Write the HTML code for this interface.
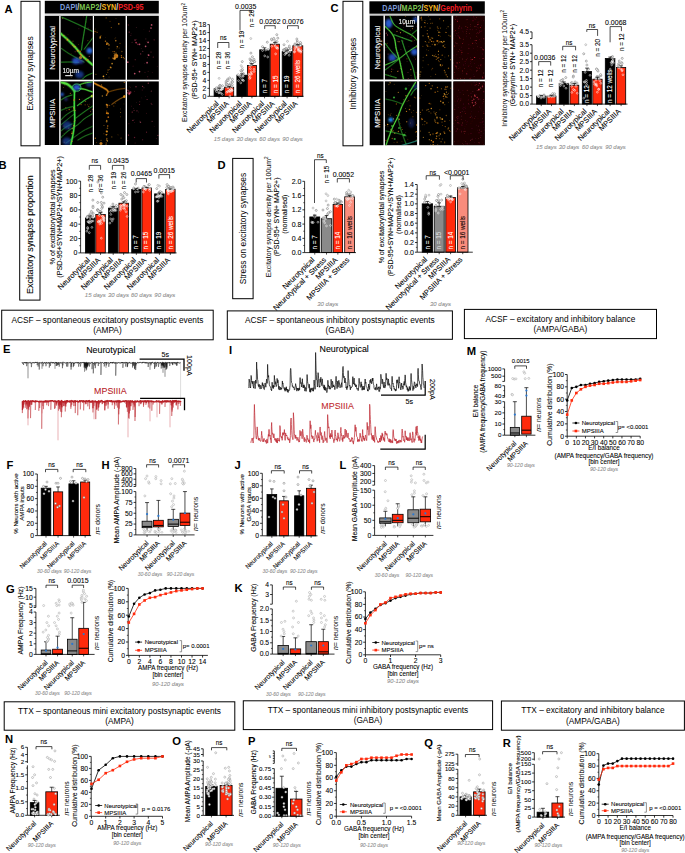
<!DOCTYPE html>
<html><head><meta charset="utf-8"><style>
html,body{margin:0;padding:0;background:#fff;}
svg{display:block;}
text{font-family:"Liberation Sans",sans-serif;}
</style></head><body>
<svg width="685" height="853" viewBox="0 0 685 853">
<defs>
<filter id="soft" x="-5%" y="-5%" width="110%" height="110%"><feGaussianBlur stdDeviation="0.45"/></filter>
<filter id="glow" x="-20%" y="-20%" width="140%" height="140%"><feGaussianBlur stdDeviation="0.6"/></filter>
<filter id="blur2" x="-50%" y="-50%" width="200%" height="200%"><feGaussianBlur stdDeviation="1.2"/></filter>
<clipPath id="clipAll"><rect x="0" y="0" width="685" height="853"/></clipPath>
</defs>
<rect width="685" height="853" fill="#fff"/>
<text x="4.5" y="9" dy="0.35em" font-size="11.2" font-weight="bold">A</text>
<rect x="21" y="1.3" width="19" height="144.5" fill="#fff" stroke="#000" stroke-width="1" />
<text transform="translate(30.5,73.55) rotate(-90)" dy="0.35em" font-size="8.4" text-anchor="middle">Excitatory synapses</text>
<rect x="44.8" y="0.8" width="114" height="12.7" fill="#000" />
<g transform="translate(101.8,7.25) scale(0.87,1)"><text x="0" y="0" dy="0.36em" font-size="8.3" font-weight="bold" text-anchor="middle"><tspan fill="#7d9bd8">DAPI</tspan><tspan fill="#ddd">/</tspan><tspan fill="#7cc450">MAP2</tspan><tspan fill="#ddd">/</tspan><tspan fill="#f5b41e">SYN</tspan><tspan fill="#ddd">/</tspan><tspan fill="#f01c22">PSD-95</tspan></text></g>
<rect x="44.8" y="14.4" width="114" height="1.6" fill="#c8c8c8" />
<rect x="44.8" y="16" width="14.4" height="63.7" fill="#000" />
<text transform="translate(52.3,47.85) rotate(-90)" dy="0.35em" font-size="7.9" fill="#fff" stroke="#fff" stroke-width="0.08" text-anchor="middle">Neurotypical</text>
<rect x="60.6" y="16" width="32.2" height="63.7" fill="#000" />
<rect x="94" y="16" width="31.6" height="63.7" fill="#000" />
<rect x="127" y="16" width="31.8" height="63.7" fill="#000" />
<rect x="44.8" y="81.4" width="14.4" height="63.6" fill="#000" />
<text transform="translate(52.3,113.2) rotate(-90)" dy="0.35em" font-size="7.9" fill="#fff" stroke="#fff" stroke-width="0.08" text-anchor="middle">MPSIIIA</text>
<rect x="60.6" y="81.4" width="32.2" height="63.6" fill="#000" />
<rect x="94" y="81.4" width="31.6" height="63.6" fill="#000" />
<rect x="127" y="81.4" width="31.8" height="63.6" fill="#000" />
<clipPath id="cp1"><rect x="60.6" y="16" width="32.2" height="63.7"/></clipPath>
<g clip-path="url(#cp1)"><g filter="url(#soft)">
<circle cx="75.17" cy="51.66" r="0.72" fill="#b03050" opacity="0.38"/>
<circle cx="88.13" cy="28.1" r="0.67" fill="#b03050" opacity="0.45"/>
<circle cx="86.13" cy="22" r="0.47" fill="#d88418" opacity="0.42"/>
<circle cx="89.27" cy="56.41" r="0.59" fill="#e0607a" opacity="0.59"/>
<circle cx="81.66" cy="55.21" r="0.41" fill="#e89a28" opacity="0.53"/>
<circle cx="62.63" cy="18.27" r="0.7" fill="#e89a28" opacity="0.51"/>
<circle cx="71.11" cy="53.64" r="0.43" fill="#c87010" opacity="0.46"/>
<circle cx="76.69" cy="58.2" r="0.53" fill="#d84a6a" opacity="0.36"/>
<circle cx="78.35" cy="75.35" r="0.38" fill="#d84a6a" opacity="0.33"/>
<circle cx="68" cy="34.41" r="0.38" fill="#d88418" opacity="0.36"/>
<circle cx="87.86" cy="40.62" r="0.73" fill="#e89a28" opacity="0.29"/>
<circle cx="90.45" cy="19.33" r="0.5" fill="#e0607a" opacity="0.37"/>
<circle cx="78.83" cy="28.64" r="0.62" fill="#c83a58" opacity="0.23"/>
<circle cx="71.31" cy="77.41" r="0.65" fill="#d88418" opacity="0.25"/>
<circle cx="83.37" cy="16.7" r="0.54" fill="#b03050" opacity="0.27"/>
<circle cx="78.61" cy="44.5" r="0.43" fill="#f0a830" opacity="0.37"/>
<circle cx="72.96" cy="41.15" r="0.75" fill="#e89a28" opacity="0.31"/>
<circle cx="91.86" cy="67.18" r="0.47" fill="#e89a28" opacity="0.28"/>
<path d="M62 17.2C64.17 18.17 69.87 20.62 75 23C80.13 25.38 89.83 30.08 92.8 31.5" stroke="#30b030" stroke-width="1.61" fill="none" stroke-linecap="round" opacity="0.24" filter="url(#glow)"/>
<path d="M62 17.2C64.17 18.17 69.87 20.62 75 23C80.13 25.38 89.83 30.08 92.8 31.5" stroke="#30b030" stroke-width="0.85" fill="none" stroke-linecap="round" opacity="0.68"/>
<path d="M86.7 16C86.33 18.33 85.2 25.67 84.5 30C83.8 34.33 83 38.67 82.5 42C82 45.33 81.67 48.67 81.5 50" stroke="#30b030" stroke-width="1.61" fill="none" stroke-linecap="round" opacity="0.27" filter="url(#glow)"/>
<path d="M86.7 16C86.33 18.33 85.2 25.67 84.5 30C83.8 34.33 83 38.67 82.5 42C82 45.33 81.67 48.67 81.5 50" stroke="#30b030" stroke-width="0.85" fill="none" stroke-linecap="round" opacity="0.77"/>
<path d="M92.8 37.9C92 38.92 89.42 42.13 88 44C86.58 45.87 84.92 48.25 84.3 49.1" stroke="#30b030" stroke-width="1.61" fill="none" stroke-linecap="round" opacity="0.24" filter="url(#glow)"/>
<path d="M92.8 37.9C92 38.92 89.42 42.13 88 44C86.58 45.87 84.92 48.25 84.3 49.1" stroke="#30b030" stroke-width="0.85" fill="none" stroke-linecap="round" opacity="0.68"/>
<path d="M61.2 48.3C62.33 49.08 65.87 51.63 68 53C70.13 54.37 71.33 55 74 56.5C76.67 58 82.33 61.08 84 62" stroke="#30b030" stroke-width="1.61" fill="none" stroke-linecap="round" opacity="0.21" filter="url(#glow)"/>
<path d="M61.2 48.3C62.33 49.08 65.87 51.63 68 53C70.13 54.37 71.33 55 74 56.5C76.67 58 82.33 61.08 84 62" stroke="#30b030" stroke-width="0.85" fill="none" stroke-linecap="round" opacity="0.59"/>
<path d="M61 62.2C62.5 62.17 67.05 61.95 70 62C72.95 62.05 77.25 62.42 78.7 62.5" stroke="#30b030" stroke-width="1.61" fill="none" stroke-linecap="round" opacity="0.21" filter="url(#glow)"/>
<path d="M61 62.2C62.5 62.17 67.05 61.95 70 62C72.95 62.05 77.25 62.42 78.7 62.5" stroke="#30b030" stroke-width="0.85" fill="none" stroke-linecap="round" opacity="0.59"/>
<path d="M81.9 79.7C82.58 79.08 84.18 77.12 86 76C87.82 74.88 91.67 73.5 92.8 73" stroke="#30b030" stroke-width="1.61" fill="none" stroke-linecap="round" opacity="0.24" filter="url(#glow)"/>
<path d="M81.9 79.7C82.58 79.08 84.18 77.12 86 76C87.82 74.88 91.67 73.5 92.8 73" stroke="#30b030" stroke-width="0.85" fill="none" stroke-linecap="round" opacity="0.68"/>
<ellipse cx="89.5" cy="50.7" rx="3" ry="3" fill="#2a6ee8" opacity="0.95" filter="url(#blur2)"/>
<ellipse cx="76" cy="61" rx="3.8" ry="3.2" fill="#2a5ad8" opacity="0.85" filter="url(#blur2)"/>
<ellipse cx="81" cy="61.5" rx="2.5" ry="2.3" fill="#3a4ac8" opacity="0.7" filter="url(#blur2)"/>
<ellipse cx="79.5" cy="74.6" rx="4.2" ry="3.6" fill="#2050c0" opacity="0.65" filter="url(#blur2)"/>
<path d="M60.6 33.5C61.67 34.42 64.78 36.93 67 39C69.22 41.07 72.07 43.98 73.9 45.9C75.73 47.82 76.67 48.92 78 50.5C79.33 52.08 80.4 53.82 81.9 55.4C83.4 56.98 85.18 58.4 87 60C88.82 61.6 91.83 64.17 92.8 65" stroke="#52dc3c" stroke-width="3.23" fill="none" stroke-linecap="round" opacity="0.35" filter="url(#glow)"/>
<path d="M60.6 33.5C61.67 34.42 64.78 36.93 67 39C69.22 41.07 72.07 43.98 73.9 45.9C75.73 47.82 76.67 48.92 78 50.5C79.33 52.08 80.4 53.82 81.9 55.4C83.4 56.98 85.18 58.4 87 60C88.82 61.6 91.83 64.17 92.8 65" stroke="#52dc3c" stroke-width="1.7" fill="none" stroke-linecap="round" opacity="1"/>
<circle cx="72.69" cy="45.28" r="0.71" fill="#d88418" opacity="0.81"/>
<circle cx="86.61" cy="60.33" r="0.71" fill="#c87010" opacity="0.86"/>
<circle cx="75.39" cy="46.73" r="0.68" fill="#e89a28" opacity="0.66"/>
<circle cx="83.95" cy="57.44" r="0.94" fill="#e89a28" opacity="0.65"/>
<circle cx="77.68" cy="50.7" r="0.98" fill="#e89a28" opacity="0.85"/>
<circle cx="80.1" cy="51.45" r="0.85" fill="#c87010" opacity="0.74"/>
<circle cx="80.51" cy="54.57" r="0.88" fill="#d88418" opacity="0.98"/>
<circle cx="63.84" cy="35.39" r="0.73" fill="#e89a28" opacity="0.68"/>
<circle cx="67.36" cy="40.15" r="0.79" fill="#c87010" opacity="0.8"/>
<circle cx="87.85" cy="59.74" r="0.98" fill="#d88418" opacity="0.56"/>
<circle cx="67.51" cy="39.6" r="0.73" fill="#f0a830" opacity="0.88"/>
<circle cx="81.65" cy="55.47" r="0.68" fill="#d88418" opacity="0.8"/>
<circle cx="74.12" cy="46.8" r="0.82" fill="#f0a830" opacity="0.63"/>
<circle cx="66.67" cy="38.74" r="0.54" fill="#c87010" opacity="0.73"/>
<circle cx="80.5" cy="57.5" r="1.6" fill="#e0a030" opacity="0.7" filter="url(#glow)"/>
<text x="62.4" y="70.3" dy="0.35em" font-size="6.6" fill="#fff" stroke="#fff" stroke-width="0.08">10µm</text>
<rect x="65.2" y="75" width="7.5" height="1.2" fill="#ddd" />
</g></g>
<clipPath id="cp2"><rect x="94" y="16" width="31.6" height="63.7"/></clipPath>
<g clip-path="url(#cp2)"><g filter="url(#soft)">
<circle cx="109" cy="57.88" r="0.62" fill="#d88418" opacity="0.35"/>
<circle cx="125.49" cy="46.74" r="0.61" fill="#c87010" opacity="0.48"/>
<circle cx="113.01" cy="51.56" r="0.61" fill="#d88418" opacity="0.59"/>
<circle cx="105.62" cy="37.64" r="0.43" fill="#d88418" opacity="0.23"/>
<circle cx="115.71" cy="37.47" r="0.51" fill="#e89a28" opacity="0.21"/>
<circle cx="95.92" cy="74.29" r="0.55" fill="#e89a28" opacity="0.6"/>
<circle cx="107.39" cy="44.27" r="0.61" fill="#d88418" opacity="0.42"/>
<circle cx="121.87" cy="51.56" r="0.74" fill="#e89a28" opacity="0.42"/>
<circle cx="110.03" cy="21.33" r="0.59" fill="#c87010" opacity="0.39"/>
<circle cx="106.15" cy="17.94" r="0.64" fill="#d88418" opacity="0.59"/>
<circle cx="114.97" cy="38.7" r="0.5" fill="#c87010" opacity="0.47"/>
<circle cx="97.6" cy="30.97" r="0.5" fill="#d88418" opacity="0.21"/>
<circle cx="119.99" cy="43.4" r="0.56" fill="#d88418" opacity="0.47"/>
<circle cx="95.37" cy="29.02" r="0.59" fill="#d88418" opacity="0.27"/>
<circle cx="115.99" cy="18.35" r="0.46" fill="#f0a830" opacity="0.44"/>
<circle cx="116.94" cy="48.74" r="0.5" fill="#f0a830" opacity="0.31"/>
<circle cx="109.05" cy="77.07" r="0.54" fill="#d88418" opacity="0.39"/>
<circle cx="111.34" cy="27.59" r="0.66" fill="#d88418" opacity="0.56"/>
<circle cx="94.21" cy="33.09" r="0.66" fill="#f0a830" opacity="0.27"/>
<circle cx="119.12" cy="47.94" r="0.45" fill="#e89a28" opacity="0.59"/>
<circle cx="97.26" cy="32.38" r="0.49" fill="#d88418" opacity="0.97"/>
<circle cx="106.71" cy="44.13" r="0.76" fill="#c87010" opacity="0.9"/>
<circle cx="100.98" cy="35.7" r="0.57" fill="#d88418" opacity="0.57"/>
<circle cx="100.27" cy="36.99" r="0.72" fill="#c87010" opacity="0.59"/>
<circle cx="107.97" cy="43.62" r="0.63" fill="#f0a830" opacity="0.87"/>
<circle cx="117.04" cy="57.07" r="0.4" fill="#f0a830" opacity="0.71"/>
<circle cx="100.11" cy="38.18" r="0.76" fill="#e89a28" opacity="0.6"/>
<circle cx="108.17" cy="44.02" r="0.46" fill="#e89a28" opacity="0.59"/>
<circle cx="100.27" cy="37.15" r="0.83" fill="#f0a830" opacity="0.69"/>
<circle cx="114.53" cy="51.63" r="0.69" fill="#c87010" opacity="0.66"/>
<circle cx="123.28" cy="57.38" r="0.59" fill="#e89a28" opacity="0.68"/>
<circle cx="121.86" cy="56.93" r="0.48" fill="#c87010" opacity="0.69"/>
<circle cx="95.09" cy="31.6" r="0.74" fill="#c87010" opacity="0.68"/>
<circle cx="114.13" cy="53.47" r="0.51" fill="#f0a830" opacity="0.61"/>
<circle cx="117.14" cy="55.78" r="0.78" fill="#c87010" opacity="0.98"/>
<circle cx="116.04" cy="53.36" r="0.79" fill="#f0a830" opacity="0.52"/>
<circle cx="105.46" cy="41.15" r="0.71" fill="#d88418" opacity="0.86"/>
<circle cx="124.22" cy="58.65" r="0.69" fill="#c87010" opacity="0.63"/>
<circle cx="96.24" cy="32.05" r="0.49" fill="#c87010" opacity="0.79"/>
<circle cx="106.47" cy="44.33" r="0.53" fill="#d88418" opacity="0.72"/>
<circle cx="121.41" cy="57.45" r="0.6" fill="#d88418" opacity="0.86"/>
<circle cx="108.93" cy="48.74" r="0.54" fill="#f0a830" opacity="0.51"/>
<circle cx="93.72" cy="30.99" r="0.53" fill="#e89a28" opacity="0.63"/>
<circle cx="121.43" cy="55.69" r="0.67" fill="#c87010" opacity="0.84"/>
<circle cx="110.41" cy="67.16" r="0.76" fill="#d88418" opacity="0.73"/>
<circle cx="112.69" cy="58.12" r="0.68" fill="#c87010" opacity="0.86"/>
<circle cx="109.4" cy="69.57" r="0.44" fill="#e89a28" opacity="0.76"/>
<circle cx="103.46" cy="76.32" r="0.85" fill="#f0a830" opacity="0.97"/>
<circle cx="112.12" cy="63.59" r="0.89" fill="#f0a830" opacity="0.69"/>
<circle cx="107.76" cy="72.23" r="0.5" fill="#c87010" opacity="0.71"/>
<circle cx="106.38" cy="74.51" r="0.51" fill="#f0a830" opacity="0.73"/>
<circle cx="103.97" cy="78.65" r="0.52" fill="#c87010" opacity="0.82"/>
<circle cx="110.89" cy="67.68" r="0.82" fill="#f0a830" opacity="0.63"/>
<circle cx="108.09" cy="69.96" r="0.7" fill="#d88418" opacity="0.58"/>
<circle cx="116" cy="56" r="2.3" fill="#e89020" opacity="0.75" filter="url(#glow)"/>
<circle cx="114.5" cy="58.5" r="1.3" fill="#f0a030" opacity="0.9"/>
<circle cx="118.8" cy="23.9" r="0.8" fill="#e89a28" opacity="0.8"/>
<circle cx="115.8" cy="40.8" r="0.8" fill="#e89a28" opacity="0.8"/>
<circle cx="117.3" cy="46.8" r="0.8" fill="#e89a28" opacity="0.8"/>
<circle cx="107" cy="43" r="0.8" fill="#e89a28" opacity="0.8"/>
<circle cx="109" cy="45" r="0.8" fill="#e89a28" opacity="0.8"/>
</g></g>
<clipPath id="cp3"><rect x="127" y="16" width="31.8" height="63.7"/></clipPath>
<g clip-path="url(#cp3)"><g filter="url(#soft)">
<circle cx="135.24" cy="59.65" r="0.62" fill="#c83a58" opacity="0.43"/>
<circle cx="148.18" cy="71.37" r="0.61" fill="#c83a58" opacity="0.25"/>
<circle cx="143.9" cy="29.63" r="0.47" fill="#b03050" opacity="0.24"/>
<circle cx="148.76" cy="79.57" r="0.75" fill="#c83a58" opacity="0.23"/>
<circle cx="152.25" cy="72.59" r="0.45" fill="#b03050" opacity="0.46"/>
<circle cx="157.19" cy="66.56" r="0.45" fill="#c83a58" opacity="0.37"/>
<circle cx="151.01" cy="51.94" r="0.52" fill="#e0607a" opacity="0.51"/>
<circle cx="147.31" cy="57.74" r="0.49" fill="#e0607a" opacity="0.44"/>
<circle cx="144.62" cy="63.67" r="0.4" fill="#b03050" opacity="0.39"/>
<circle cx="136.33" cy="27.43" r="0.49" fill="#e0607a" opacity="0.36"/>
<circle cx="146.25" cy="41.21" r="0.4" fill="#b03050" opacity="0.39"/>
<circle cx="144.98" cy="72.48" r="0.63" fill="#c83a58" opacity="0.23"/>
<circle cx="147.71" cy="76.75" r="0.51" fill="#b03050" opacity="0.53"/>
<circle cx="128.37" cy="25.03" r="0.67" fill="#b03050" opacity="0.42"/>
<circle cx="132.08" cy="42.34" r="0.7" fill="#e0607a" opacity="0.27"/>
<circle cx="154.15" cy="39.87" r="0.64" fill="#c83a58" opacity="0.52"/>
<circle cx="149.38" cy="31.14" r="0.55" fill="#d84a6a" opacity="0.4"/>
<circle cx="145.8" cy="38.89" r="0.64" fill="#e0607a" opacity="0.26"/>
<circle cx="133.13" cy="66.16" r="0.57" fill="#c83a58" opacity="0.26"/>
<circle cx="140.65" cy="53.91" r="0.67" fill="#d84a6a" opacity="0.54"/>
<circle cx="153.25" cy="57.09" r="0.56" fill="#c83a58" opacity="0.55"/>
<circle cx="130.86" cy="35.21" r="0.46" fill="#d84a6a" opacity="0.53"/>
<circle cx="141.19" cy="48.54" r="0.41" fill="#d84a6a" opacity="0.44"/>
<circle cx="135.92" cy="42.45" r="0.74" fill="#b03050" opacity="0.69"/>
<circle cx="136.28" cy="42.69" r="0.85" fill="#c83a58" opacity="0.56"/>
<circle cx="129.17" cy="32.08" r="0.62" fill="#d84a6a" opacity="0.63"/>
<circle cx="131.12" cy="33.81" r="0.46" fill="#b03050" opacity="0.38"/>
<circle cx="136.74" cy="39.26" r="0.41" fill="#c83a58" opacity="0.48"/>
<circle cx="137.8" cy="44.35" r="0.89" fill="#b03050" opacity="0.51"/>
<circle cx="135.07" cy="40.07" r="0.81" fill="#d84a6a" opacity="0.6"/>
<circle cx="142.77" cy="51.29" r="0.54" fill="#e0607a" opacity="0.56"/>
<circle cx="148.02" cy="54.65" r="0.43" fill="#d84a6a" opacity="0.62"/>
<circle cx="148.1" cy="42.3" r="0.85" fill="#e06080" opacity="0.8"/>
<circle cx="145.6" cy="46.3" r="0.85" fill="#e06080" opacity="0.8"/>
<circle cx="139.5" cy="44.3" r="0.85" fill="#e06080" opacity="0.8"/>
<circle cx="148.6" cy="55.2" r="0.85" fill="#e06080" opacity="0.8"/>
<circle cx="147.1" cy="62.7" r="0.85" fill="#e06080" opacity="0.8"/>
<circle cx="139.5" cy="71.6" r="0.85" fill="#e06080" opacity="0.8"/>
<circle cx="134.7" cy="73.6" r="0.85" fill="#e06080" opacity="0.8"/>
<circle cx="127.8" cy="62.2" r="0.85" fill="#e06080" opacity="0.8"/>
<circle cx="151.6" cy="24.9" r="0.85" fill="#e06080" opacity="0.8"/>
<circle cx="151" cy="28" r="0.85" fill="#e06080" opacity="0.8"/>
</g></g>
<clipPath id="cp4"><rect x="60.6" y="81.4" width="32.2" height="63.6"/></clipPath>
<g clip-path="url(#cp4)"><g filter="url(#soft)">
<circle cx="64.04" cy="126.08" r="0.61" fill="#d88418" opacity="0.44"/>
<circle cx="68.84" cy="128.09" r="0.61" fill="#f0a830" opacity="0.53"/>
<circle cx="88.7" cy="106.45" r="0.71" fill="#f0a830" opacity="0.41"/>
<circle cx="89.63" cy="104.17" r="0.45" fill="#d88418" opacity="0.38"/>
<circle cx="82.03" cy="98.91" r="0.35" fill="#e89a28" opacity="0.36"/>
<circle cx="71.45" cy="86.69" r="0.43" fill="#c87010" opacity="0.5"/>
<circle cx="92.49" cy="109.3" r="0.59" fill="#e89a28" opacity="0.59"/>
<circle cx="81.12" cy="104.57" r="0.7" fill="#c87010" opacity="0.56"/>
<circle cx="66.84" cy="110.19" r="0.44" fill="#f0a830" opacity="0.55"/>
<circle cx="63.9" cy="133.43" r="0.39" fill="#f0a830" opacity="0.36"/>
<circle cx="65.81" cy="107.59" r="0.62" fill="#e89a28" opacity="0.51"/>
<circle cx="91.96" cy="92.11" r="0.5" fill="#f0a830" opacity="0.54"/>
<circle cx="74.67" cy="119.27" r="0.39" fill="#c87010" opacity="0.5"/>
<circle cx="75.07" cy="120.54" r="0.55" fill="#d88418" opacity="0.54"/>
<circle cx="69.19" cy="109.47" r="0.68" fill="#c87010" opacity="0.77"/>
<circle cx="74.22" cy="103.5" r="0.58" fill="#c87010" opacity="0.43"/>
<circle cx="70.33" cy="93.4" r="0.6" fill="#c87010" opacity="0.7"/>
<circle cx="63.67" cy="87.62" r="0.43" fill="#e89a28" opacity="0.79"/>
<circle cx="79.47" cy="99.37" r="0.72" fill="#f0a830" opacity="0.79"/>
<circle cx="64.26" cy="142.23" r="0.66" fill="#e89a28" opacity="0.42"/>
<circle cx="88.71" cy="98.23" r="0.45" fill="#f0a830" opacity="0.45"/>
<circle cx="85.12" cy="104.85" r="0.57" fill="#d88418" opacity="0.55"/>
<circle cx="87.69" cy="104.71" r="0.5" fill="#c87010" opacity="0.57"/>
<circle cx="85.5" cy="101.4" r="0.72" fill="#e89a28" opacity="0.42"/>
<circle cx="90.66" cy="111.22" r="0.49" fill="#f0a830" opacity="0.7"/>
<circle cx="64.78" cy="84.87" r="0.72" fill="#d88418" opacity="0.43"/>
<path d="M61.2 110.3C62.17 109.92 64.88 108.67 67 108C69.12 107.33 72.75 106.58 73.9 106.3" stroke="#30b030" stroke-width="1.61" fill="none" stroke-linecap="round" opacity="0.21" filter="url(#glow)"/>
<path d="M61.2 110.3C62.17 109.92 64.88 108.67 67 108C69.12 107.33 72.75 106.58 73.9 106.3" stroke="#30b030" stroke-width="0.85" fill="none" stroke-linecap="round" opacity="0.59"/>
<path d="M61.2 119.8C62 119 63.88 116.63 66 115C68.12 113.37 72.58 110.83 73.9 110" stroke="#30b030" stroke-width="1.61" fill="none" stroke-linecap="round" opacity="0.21" filter="url(#glow)"/>
<path d="M61.2 119.8C62 119 63.88 116.63 66 115C68.12 113.37 72.58 110.83 73.9 110" stroke="#30b030" stroke-width="0.85" fill="none" stroke-linecap="round" opacity="0.59"/>
<path d="M61.2 124.6C62.33 123.67 65.88 120.72 68 119C70.12 117.28 72.92 115.08 73.9 114.3" stroke="#30b030" stroke-width="1.61" fill="none" stroke-linecap="round" opacity="0.18" filter="url(#glow)"/>
<path d="M61.2 124.6C62.33 123.67 65.88 120.72 68 119C70.12 117.28 72.92 115.08 73.9 114.3" stroke="#30b030" stroke-width="0.85" fill="none" stroke-linecap="round" opacity="0.51"/>
<path d="M92.8 113.5C91.33 114.42 86.48 117.15 84 119C81.52 120.85 80.57 122.6 77.9 124.6C75.23 126.6 70.78 128.87 68 131C65.22 133.13 62.33 136.33 61.2 137.4" stroke="#30b030" stroke-width="1.61" fill="none" stroke-linecap="round" opacity="0.22" filter="url(#glow)"/>
<path d="M92.8 113.5C91.33 114.42 86.48 117.15 84 119C81.52 120.85 80.57 122.6 77.9 124.6C75.23 126.6 70.78 128.87 68 131C65.22 133.13 62.33 136.33 61.2 137.4" stroke="#30b030" stroke-width="0.85" fill="none" stroke-linecap="round" opacity="0.64"/>
<path d="M92.8 126.2C91.17 127 86.15 129.13 83 131C79.85 132.87 76.73 135.4 73.9 137.4C71.07 139.4 67.32 142.07 66 143" stroke="#30b030" stroke-width="1.61" fill="none" stroke-linecap="round" opacity="0.18" filter="url(#glow)"/>
<path d="M92.8 126.2C91.17 127 86.15 129.13 83 131C79.85 132.87 76.73 135.4 73.9 137.4C71.07 139.4 67.32 142.07 66 143" stroke="#30b030" stroke-width="0.85" fill="none" stroke-linecap="round" opacity="0.51"/>
<path d="M77.5 105.5C78.75 104.58 82.53 101.6 85 100C87.47 98.4 91.08 96.58 92.3 95.9" stroke="#3cc83c" stroke-width="1.71" fill="none" stroke-linecap="round" opacity="0.33" filter="url(#glow)"/>
<path d="M77.5 105.5C78.75 104.58 82.53 101.6 85 100C87.47 98.4 91.08 96.58 92.3 95.9" stroke="#3cc83c" stroke-width="0.9" fill="none" stroke-linecap="round" opacity="0.95"/>
<path d="M61 100C61.83 99.5 64.17 97.83 66 97C67.83 96.17 71 95.33 72 95" stroke="#30b030" stroke-width="1.61" fill="none" stroke-linecap="round" opacity="0.24" filter="url(#glow)"/>
<path d="M61 100C61.83 99.5 64.17 97.83 66 97C67.83 96.17 71 95.33 72 95" stroke="#30b030" stroke-width="0.85" fill="none" stroke-linecap="round" opacity="0.68"/>
<path d="M76 118C77.33 117 81.2 114 84 112C86.8 110 91.33 107 92.8 106" stroke="#30b030" stroke-width="1.61" fill="none" stroke-linecap="round" opacity="0.24" filter="url(#glow)"/>
<path d="M76 118C77.33 117 81.2 114 84 112C86.8 110 91.33 107 92.8 106" stroke="#30b030" stroke-width="0.85" fill="none" stroke-linecap="round" opacity="0.68"/>
<path d="M61 131C61.83 130.33 64.17 128.17 66 127C67.83 125.83 71 124.5 72 124" stroke="#30b030" stroke-width="1.61" fill="none" stroke-linecap="round" opacity="0.21" filter="url(#glow)"/>
<path d="M61 131C61.83 130.33 64.17 128.17 66 127C67.83 125.83 71 124.5 72 124" stroke="#30b030" stroke-width="0.85" fill="none" stroke-linecap="round" opacity="0.59"/>
<path d="M78 140C79.17 139.33 82.53 137.17 85 136C87.47 134.83 91.5 133.5 92.8 133" stroke="#30b030" stroke-width="1.61" fill="none" stroke-linecap="round" opacity="0.21" filter="url(#glow)"/>
<path d="M78 140C79.17 139.33 82.53 137.17 85 136C87.47 134.83 91.5 133.5 92.8 133" stroke="#30b030" stroke-width="0.85" fill="none" stroke-linecap="round" opacity="0.59"/>
<ellipse cx="62" cy="94.3" rx="1.6" ry="1.6" fill="#2a70ff" opacity="1" filter="url(#blur2)"/>
<ellipse cx="66" cy="99.1" rx="1.6" ry="1.6" fill="#4040c0" opacity="0.7" filter="url(#blur2)"/>
<ellipse cx="67.2" cy="125.4" rx="4.5" ry="4.2" fill="#2050c0" opacity="0.6" filter="url(#blur2)"/>
<ellipse cx="66.8" cy="141.4" rx="4.5" ry="4" fill="#2050c0" opacity="0.6" filter="url(#blur2)"/>
<ellipse cx="89.1" cy="84" rx="3" ry="3" fill="#2050c0" opacity="0.55" filter="url(#blur2)"/>
<path d="M60.6 82C61.17 82.17 62.7 82.53 64 83C65.3 83.47 67.07 83.97 68.4 84.8C69.73 85.63 70.98 86.97 72 88C73.02 89.03 74.08 90.5 74.5 91" stroke="#52dc3c" stroke-width="3.8" fill="none" stroke-linecap="round" opacity="0.35" filter="url(#glow)"/>
<path d="M60.6 82C61.17 82.17 62.7 82.53 64 83C65.3 83.47 67.07 83.97 68.4 84.8C69.73 85.63 70.98 86.97 72 88C73.02 89.03 74.08 90.5 74.5 91" stroke="#52dc3c" stroke-width="2" fill="none" stroke-linecap="round" opacity="1"/>
<path d="M74.5 91C74.47 93.15 74.27 99.1 74.3 103.9C74.33 108.7 74.83 115.15 74.7 119.8C74.57 124.45 74.17 127.55 73.5 131.8C72.83 136.05 71.17 143.05 70.7 145.3" stroke="#40dc40" stroke-width="2.47" fill="none" stroke-linecap="round" opacity="0.35" filter="url(#glow)"/>
<path d="M74.5 91C74.47 93.15 74.27 99.1 74.3 103.9C74.33 108.7 74.83 115.15 74.7 119.8C74.57 124.45 74.17 127.55 73.5 131.8C72.83 136.05 71.17 143.05 70.7 145.3" stroke="#40dc40" stroke-width="1.3" fill="none" stroke-linecap="round" opacity="1"/>
<path d="M78.5 88.5C79.47 88.62 81.92 88.62 84.3 89.2C86.68 89.78 91.38 91.53 92.8 92" stroke="#52dc3c" stroke-width="2.09" fill="none" stroke-linecap="round" opacity="0.33" filter="url(#glow)"/>
<path d="M78.5 88.5C79.47 88.62 81.92 88.62 84.3 89.2C86.68 89.78 91.38 91.53 92.8 92" stroke="#52dc3c" stroke-width="1.1" fill="none" stroke-linecap="round" opacity="0.95"/>
<path d="M79 85C79.88 84.7 82 83.77 84.3 83.2C86.6 82.63 91.38 81.87 92.8 81.6" stroke="#52dc3c" stroke-width="1.71" fill="none" stroke-linecap="round" opacity="0.32" filter="url(#glow)"/>
<path d="M79 85C79.88 84.7 82 83.77 84.3 83.2C86.6 82.63 91.38 81.87 92.8 81.6" stroke="#52dc3c" stroke-width="0.9" fill="none" stroke-linecap="round" opacity="0.9"/>
<ellipse cx="76.7" cy="87.6" rx="4.2" ry="3.6" fill="none" stroke="#40dc40" stroke-width="1.0" opacity="0.9"/>
<ellipse cx="76.7" cy="87.6" rx="3.5" ry="3" fill="#2a5ad8" opacity="0.95" filter="url(#blur2)"/>
<circle cx="92.3" cy="96" r="1.6" fill="#c8e040" opacity="0.8" filter="url(#glow)"/>
<circle cx="73.6" cy="107.97" r="0.63" fill="#f0a830" opacity="0.83"/>
<circle cx="75.08" cy="110.45" r="0.53" fill="#f0a830" opacity="0.81"/>
<circle cx="72.11" cy="141.37" r="0.58" fill="#d88418" opacity="0.8"/>
<circle cx="72.05" cy="132.01" r="0.61" fill="#d88418" opacity="0.9"/>
<circle cx="73.68" cy="110.03" r="0.72" fill="#c87010" opacity="0.51"/>
<circle cx="74.06" cy="100.12" r="0.82" fill="#c87010" opacity="0.96"/>
<circle cx="72.29" cy="128.51" r="0.66" fill="#f0a830" opacity="0.54"/>
<circle cx="74.29" cy="121.23" r="0.53" fill="#e89a28" opacity="0.66"/>
<circle cx="73.81" cy="125.73" r="0.69" fill="#e89a28" opacity="0.74"/>
<circle cx="71.92" cy="133.61" r="0.72" fill="#f0a830" opacity="0.85"/>
</g></g>
<clipPath id="cp5"><rect x="94" y="81.4" width="31.6" height="63.6"/></clipPath>
<g clip-path="url(#cp5)"><g filter="url(#soft)">
<circle cx="124.5" cy="82.14" r="0.64" fill="#d88418" opacity="0.76"/>
<circle cx="101.55" cy="84.89" r="0.67" fill="#d88418" opacity="0.73"/>
<circle cx="125.59" cy="96.65" r="0.49" fill="#f0a830" opacity="0.44"/>
<circle cx="102.32" cy="95.94" r="0.69" fill="#f0a830" opacity="0.7"/>
<circle cx="101.06" cy="140.22" r="0.55" fill="#d88418" opacity="0.59"/>
<circle cx="120.57" cy="112.54" r="0.53" fill="#f0a830" opacity="0.52"/>
<circle cx="103.96" cy="125.54" r="0.53" fill="#e89a28" opacity="0.55"/>
<circle cx="123.86" cy="82.59" r="0.41" fill="#d88418" opacity="0.61"/>
<circle cx="118.81" cy="135.08" r="0.36" fill="#c87010" opacity="0.38"/>
<circle cx="121.04" cy="138.12" r="0.51" fill="#e89a28" opacity="0.53"/>
<circle cx="120.56" cy="116.7" r="0.51" fill="#d88418" opacity="0.39"/>
<circle cx="123.96" cy="103.9" r="0.44" fill="#f0a830" opacity="0.38"/>
<circle cx="113.79" cy="106.01" r="0.54" fill="#c87010" opacity="0.69"/>
<circle cx="117.93" cy="134.68" r="0.46" fill="#d88418" opacity="0.36"/>
<circle cx="109.56" cy="105.32" r="0.69" fill="#e89a28" opacity="0.44"/>
<circle cx="95.31" cy="138.25" r="0.73" fill="#d88418" opacity="0.71"/>
<circle cx="111.85" cy="136.89" r="0.55" fill="#e89a28" opacity="0.54"/>
<circle cx="96.58" cy="142.47" r="0.44" fill="#c87010" opacity="0.65"/>
<circle cx="102.08" cy="86.8" r="0.35" fill="#f0a830" opacity="0.68"/>
<circle cx="120.4" cy="108.98" r="0.37" fill="#f0a830" opacity="0.6"/>
<circle cx="103.85" cy="133.66" r="0.67" fill="#c87010" opacity="0.31"/>
<circle cx="115.15" cy="103.54" r="0.51" fill="#e89a28" opacity="0.37"/>
<path d="M94 83C95 83.5 97.85 84.85 100 86C102.15 87.15 105.57 88.9 106.9 89.9C108.23 90.9 107.82 91.65 108 92" stroke="#e08a18" stroke-width="2.47" fill="none" stroke-linecap="round" opacity="0.3" filter="url(#glow)"/>
<path d="M94 83C95 83.5 97.85 84.85 100 86C102.15 87.15 105.57 88.9 106.9 89.9C108.23 90.9 107.82 91.65 108 92" stroke="#e08a18" stroke-width="1.3" fill="none" stroke-linecap="round" opacity="0.85"/>
<path d="M108 92C109.63 91.57 114.87 90 117.8 89.4C120.73 88.8 124.3 88.57 125.6 88.4" stroke="#c07010" stroke-width="1.61" fill="none" stroke-linecap="round" opacity="0.18" filter="url(#glow)"/>
<path d="M108 92C109.63 91.57 114.87 90 117.8 89.4C120.73 88.8 124.3 88.57 125.6 88.4" stroke="#c07010" stroke-width="0.85" fill="none" stroke-linecap="round" opacity="0.51"/>
<path d="M111.9 104.3C112.92 103.58 115.85 101.32 118 100C120.15 98.68 123.67 97 124.8 96.4" stroke="#d08018" stroke-width="1.61" fill="none" stroke-linecap="round" opacity="0.21" filter="url(#glow)"/>
<path d="M111.9 104.3C112.92 103.58 115.85 101.32 118 100C120.15 98.68 123.67 97 124.8 96.4" stroke="#d08018" stroke-width="0.85" fill="none" stroke-linecap="round" opacity="0.59"/>
<circle cx="124.5" cy="96.4" r="1.5" fill="#f0a020" opacity="0.8" filter="url(#glow)"/>
<circle cx="107.39" cy="140.89" r="0.6" fill="#f0a830" opacity="0.96"/>
<circle cx="106.67" cy="104.63" r="0.9" fill="#f0a830" opacity="0.83"/>
<circle cx="107.06" cy="134.34" r="0.59" fill="#d88418" opacity="0.59"/>
<circle cx="106.69" cy="121.51" r="0.9" fill="#f0a830" opacity="0.59"/>
<circle cx="107.71" cy="126.12" r="0.75" fill="#c87010" opacity="0.91"/>
<circle cx="106.73" cy="113.18" r="0.88" fill="#d88418" opacity="0.9"/>
<circle cx="106.43" cy="134.77" r="0.74" fill="#d88418" opacity="0.61"/>
<circle cx="108.12" cy="113.44" r="0.84" fill="#e89a28" opacity="0.86"/>
<circle cx="107.43" cy="128.19" r="0.8" fill="#e89a28" opacity="0.56"/>
<circle cx="106.04" cy="144.29" r="0.63" fill="#f0a830" opacity="0.54"/>
<circle cx="107.34" cy="93.69" r="0.84" fill="#c87010" opacity="0.78"/>
<circle cx="108.27" cy="117.23" r="0.87" fill="#c87010" opacity="0.85"/>
<circle cx="106.26" cy="134.7" r="0.82" fill="#e89a28" opacity="0.61"/>
<circle cx="107.07" cy="113.22" r="0.98" fill="#c87010" opacity="0.84"/>
<circle cx="106.87" cy="138.32" r="0.61" fill="#d88418" opacity="0.84"/>
<circle cx="107.37" cy="107.3" r="0.52" fill="#d88418" opacity="0.62"/>
<circle cx="106.71" cy="120.5" r="0.77" fill="#e89a28" opacity="0.57"/>
<circle cx="107.54" cy="105.72" r="0.76" fill="#c87010" opacity="0.83"/>
<circle cx="106.94" cy="131.52" r="0.96" fill="#e89a28" opacity="0.97"/>
<circle cx="106.26" cy="131.31" r="0.71" fill="#d88418" opacity="0.72"/>
<circle cx="106.23" cy="143.02" r="0.66" fill="#c87010" opacity="0.59"/>
<circle cx="106.94" cy="106.91" r="0.63" fill="#c87010" opacity="0.66"/>
<circle cx="106.54" cy="95.13" r="0.81" fill="#e89a28" opacity="0.82"/>
<circle cx="106.7" cy="111.07" r="0.65" fill="#c87010" opacity="0.64"/>
<circle cx="106.69" cy="139.93" r="0.8" fill="#e89a28" opacity="0.66"/>
<circle cx="107.47" cy="105.1" r="0.86" fill="#c87010" opacity="0.81"/>
<circle cx="101" cy="143.6" r="1.5" fill="#e89020" opacity="0.8"/>
</g></g>
<clipPath id="cp6"><rect x="127" y="81.4" width="31.8" height="63.6"/></clipPath>
<g clip-path="url(#cp6)"><g filter="url(#soft)">
<circle cx="138.5" cy="111.96" r="0.52" fill="#b03050" opacity="0.3"/>
<circle cx="154.16" cy="126.62" r="0.45" fill="#c83a58" opacity="0.3"/>
<circle cx="136.6" cy="102.71" r="0.41" fill="#e0607a" opacity="0.31"/>
<circle cx="134.01" cy="119.74" r="0.36" fill="#c83a58" opacity="0.66"/>
<circle cx="148.22" cy="83.14" r="0.53" fill="#e0607a" opacity="0.74"/>
<circle cx="151.89" cy="104.41" r="0.52" fill="#d84a6a" opacity="0.46"/>
<circle cx="140.46" cy="122.3" r="0.73" fill="#e0607a" opacity="0.56"/>
<circle cx="135.99" cy="86.72" r="0.75" fill="#d84a6a" opacity="0.54"/>
<circle cx="134.47" cy="91.23" r="0.47" fill="#b03050" opacity="0.5"/>
<circle cx="132.22" cy="112.07" r="0.69" fill="#b03050" opacity="0.68"/>
<circle cx="142.63" cy="139.83" r="0.54" fill="#d84a6a" opacity="0.5"/>
<circle cx="146.49" cy="113.15" r="0.36" fill="#c83a58" opacity="0.62"/>
<circle cx="156.24" cy="138.43" r="0.36" fill="#d84a6a" opacity="0.6"/>
<circle cx="139.72" cy="101.71" r="0.55" fill="#d84a6a" opacity="0.4"/>
<circle cx="130.21" cy="87.32" r="0.4" fill="#d84a6a" opacity="0.48"/>
<circle cx="128.48" cy="135.03" r="0.65" fill="#d84a6a" opacity="0.72"/>
<circle cx="151.34" cy="91.14" r="0.61" fill="#e0607a" opacity="0.41"/>
<circle cx="145.51" cy="96.6" r="0.45" fill="#d84a6a" opacity="0.35"/>
<circle cx="131.68" cy="106.1" r="0.37" fill="#b03050" opacity="0.7"/>
<circle cx="141.83" cy="97.93" r="0.37" fill="#c83a58" opacity="0.49"/>
<circle cx="135.12" cy="142.91" r="0.5" fill="#c83a58" opacity="0.35"/>
<circle cx="147.12" cy="99.45" r="0.53" fill="#c83a58" opacity="0.68"/>
<circle cx="134.55" cy="137.56" r="0.7" fill="#b03050" opacity="0.53"/>
<circle cx="139.58" cy="104.44" r="0.55" fill="#c83a58" opacity="0.69"/>
<circle cx="133.64" cy="108.53" r="0.36" fill="#e0607a" opacity="0.56"/>
<circle cx="157.98" cy="135.3" r="0.65" fill="#e0607a" opacity="0.63"/>
<circle cx="134.68" cy="122.38" r="0.43" fill="#b03050" opacity="0.53"/>
<circle cx="142.59" cy="86.46" r="0.6" fill="#d84a6a" opacity="0.63"/>
<circle cx="136.96" cy="110.81" r="0.67" fill="#d84a6a" opacity="0.53"/>
<circle cx="143.91" cy="87.75" r="0.5" fill="#e0607a" opacity="0.48"/>
<circle cx="134.09" cy="110.28" r="0.64" fill="#d84a6a" opacity="0.4"/>
<circle cx="139.57" cy="121.03" r="0.37" fill="#d84a6a" opacity="0.47"/>
<circle cx="128.83" cy="123.77" r="0.56" fill="#c83a58" opacity="0.39"/>
<circle cx="152.09" cy="121.34" r="0.57" fill="#e0607a" opacity="0.53"/>
<circle cx="146.56" cy="132.17" r="0.55" fill="#c83a58" opacity="0.51"/>
<circle cx="142.3" cy="90.09" r="0.53" fill="#c83a58" opacity="0.35"/>
<circle cx="127.71" cy="140.63" r="0.64" fill="#d84a6a" opacity="0.37"/>
<circle cx="132.91" cy="120.38" r="0.65" fill="#d84a6a" opacity="0.62"/>
<circle cx="151.21" cy="103.31" r="0.58" fill="#d84a6a" opacity="0.38"/>
<circle cx="129.86" cy="86.41" r="0.36" fill="#c83a58" opacity="0.37"/>
<circle cx="129.6" cy="93.98" r="0.72" fill="#b03050" opacity="0.52"/>
<circle cx="130.73" cy="91.89" r="0.64" fill="#d84a6a" opacity="0.8"/>
<circle cx="130.68" cy="92.72" r="0.66" fill="#b03050" opacity="0.73"/>
<circle cx="129.13" cy="94.66" r="0.48" fill="#d84a6a" opacity="0.91"/>
<circle cx="128.71" cy="90.88" r="0.6" fill="#d84a6a" opacity="0.63"/>
<circle cx="129.64" cy="93.5" r="0.82" fill="#e0607a" opacity="0.93"/>
<circle cx="129.31" cy="92.46" r="0.89" fill="#c83a58" opacity="0.7"/>
<circle cx="127.78" cy="92.92" r="0.68" fill="#d84a6a" opacity="0.84"/>
<circle cx="128.74" cy="93.93" r="0.67" fill="#d84a6a" opacity="0.74"/>
<circle cx="127.74" cy="90.19" r="0.81" fill="#b03050" opacity="0.56"/>
</g></g>
<text x="330.5" y="8" dy="0.35em" font-size="11.2" font-weight="bold">C</text>
<rect x="343" y="1.3" width="19.8" height="144.5" fill="#fff" stroke="#000" stroke-width="1" />
<text transform="translate(352.9,73.55) rotate(-90)" dy="0.35em" font-size="8.4" text-anchor="middle">Inhibitory synapses</text>
<rect x="369.4" y="1.3" width="115.4" height="12.4" fill="#000" />
<g transform="translate(427.1,7.6) scale(0.87,1)"><text x="0" y="0" dy="0.36em" font-size="8.3" font-weight="bold" text-anchor="middle"><tspan fill="#7d9bd8">DAPI</tspan><tspan fill="#ddd">/</tspan><tspan fill="#7cc450">MAP2</tspan><tspan fill="#ddd">/</tspan><tspan fill="#f5b41e">SYN</tspan><tspan fill="#ddd">/</tspan><tspan fill="#f01c22">Gephyrin</tspan></text></g>
<rect x="369.4" y="14.1" width="115.4" height="1.6" fill="#c8c8c8" />
<rect x="369.7" y="15.7" width="13.8" height="63.8" fill="#000" />
<text transform="translate(376.9,47.6) rotate(-90)" dy="0.35em" font-size="7.9" fill="#fff" stroke="#fff" stroke-width="0.08" text-anchor="middle">Neurotypical</text>
<rect x="384.9" y="15.7" width="32.2" height="63.8" fill="#000" />
<rect x="419.2" y="15.7" width="32.3" height="63.8" fill="#000" />
<rect x="453.3" y="15.7" width="31.5" height="63.8" fill="#000" />
<rect x="369.7" y="81.4" width="13.8" height="63.8" fill="#000" />
<text transform="translate(376.9,113.3) rotate(-90)" dy="0.35em" font-size="7.9" fill="#fff" stroke="#fff" stroke-width="0.08" text-anchor="middle">MPSIIIA</text>
<rect x="384.9" y="81.4" width="32.2" height="63.8" fill="#000" />
<rect x="419.2" y="81.4" width="32.3" height="63.8" fill="#000" />
<rect x="453.3" y="81.4" width="31.5" height="63.8" fill="#000" />
<clipPath id="cp7"><rect x="384.9" y="15.7" width="32.2" height="63.8"/></clipPath>
<g clip-path="url(#cp7)"><g filter="url(#soft)">
<circle cx="390.21" cy="59.71" r="0.55" fill="#b03050" opacity="0.72"/>
<circle cx="416.77" cy="45.98" r="0.69" fill="#f0a830" opacity="0.55"/>
<circle cx="392.5" cy="15.9" r="0.45" fill="#e0607a" opacity="0.33"/>
<circle cx="410.46" cy="30.52" r="0.39" fill="#e89a28" opacity="0.52"/>
<circle cx="416.95" cy="64.87" r="0.46" fill="#b03050" opacity="0.32"/>
<circle cx="395.49" cy="47.44" r="0.35" fill="#c83a58" opacity="0.31"/>
<circle cx="408.76" cy="21.34" r="0.62" fill="#e89a28" opacity="0.53"/>
<circle cx="402.67" cy="37.58" r="0.49" fill="#f0a830" opacity="0.63"/>
<circle cx="400.03" cy="68.03" r="0.33" fill="#c87010" opacity="0.4"/>
<circle cx="416.09" cy="72.74" r="0.6" fill="#d88418" opacity="0.36"/>
<circle cx="400.24" cy="68.46" r="0.38" fill="#f0a830" opacity="0.74"/>
<circle cx="398.09" cy="39" r="0.48" fill="#e0607a" opacity="0.46"/>
<circle cx="400.5" cy="32.65" r="0.63" fill="#f0a830" opacity="0.66"/>
<circle cx="416.87" cy="47.35" r="0.5" fill="#c87010" opacity="0.59"/>
<circle cx="395.16" cy="78.22" r="0.35" fill="#f0a830" opacity="0.61"/>
<circle cx="411.74" cy="36.91" r="0.6" fill="#d84a6a" opacity="0.42"/>
<circle cx="390.33" cy="74.6" r="0.37" fill="#e0607a" opacity="0.49"/>
<circle cx="406.9" cy="58.82" r="0.66" fill="#c87010" opacity="0.5"/>
<circle cx="416.75" cy="77.04" r="0.54" fill="#c83a58" opacity="0.55"/>
<circle cx="396.99" cy="31.47" r="0.65" fill="#f0a830" opacity="0.58"/>
<circle cx="399.04" cy="41.7" r="0.6" fill="#e89a28" opacity="0.72"/>
<circle cx="386.58" cy="32.16" r="0.42" fill="#e0607a" opacity="0.42"/>
<circle cx="397.6" cy="71.23" r="0.56" fill="#f0a830" opacity="0.79"/>
<circle cx="408.92" cy="46.26" r="0.4" fill="#b03050" opacity="0.31"/>
<circle cx="391.73" cy="69.18" r="0.62" fill="#c83a58" opacity="0.6"/>
<circle cx="398.62" cy="52.78" r="0.64" fill="#d84a6a" opacity="0.37"/>
<circle cx="403.85" cy="24.59" r="0.59" fill="#e0607a" opacity="0.64"/>
<circle cx="415.62" cy="17.2" r="0.54" fill="#c87010" opacity="0.73"/>
<circle cx="403.72" cy="32.11" r="0.46" fill="#f0a830" opacity="0.37"/>
<circle cx="387.95" cy="21.69" r="0.31" fill="#b03050" opacity="0.69"/>
<circle cx="387.21" cy="23.3" r="0.41" fill="#d84a6a" opacity="0.57"/>
<circle cx="395.34" cy="47.21" r="0.39" fill="#f0a830" opacity="0.39"/>
<circle cx="412.51" cy="28.56" r="0.6" fill="#e89a28" opacity="0.6"/>
<circle cx="401.16" cy="63.27" r="0.32" fill="#e89a28" opacity="0.49"/>
<circle cx="412.74" cy="41.09" r="0.53" fill="#c87010" opacity="0.43"/>
<circle cx="407.33" cy="35.71" r="0.32" fill="#e0607a" opacity="0.38"/>
<circle cx="408.28" cy="78.89" r="0.63" fill="#b03050" opacity="0.77"/>
<circle cx="388.07" cy="54.06" r="0.5" fill="#c83a58" opacity="0.78"/>
<circle cx="394.89" cy="60.32" r="0.51" fill="#c87010" opacity="0.33"/>
<circle cx="411.13" cy="78.02" r="0.44" fill="#c83a58" opacity="0.63"/>
<circle cx="398.43" cy="71.08" r="0.56" fill="#b03050" opacity="0.55"/>
<circle cx="415.4" cy="59.08" r="0.58" fill="#b03050" opacity="0.56"/>
<circle cx="397.44" cy="41.32" r="0.39" fill="#e89a28" opacity="0.63"/>
<circle cx="386.25" cy="33.28" r="0.54" fill="#e0607a" opacity="0.66"/>
<circle cx="399.58" cy="30.78" r="0.45" fill="#b03050" opacity="0.41"/>
<circle cx="414.35" cy="57.45" r="0.31" fill="#f0a830" opacity="0.55"/>
<circle cx="407.99" cy="72.51" r="0.61" fill="#d84a6a" opacity="0.42"/>
<circle cx="414.42" cy="40.32" r="0.55" fill="#e89a28" opacity="0.38"/>
<circle cx="391.41" cy="71.57" r="0.59" fill="#d88418" opacity="0.58"/>
<circle cx="387.46" cy="35.01" r="0.68" fill="#b03050" opacity="0.79"/>
<circle cx="416.8" cy="26.32" r="0.47" fill="#c83a58" opacity="0.49"/>
<circle cx="403.63" cy="27.75" r="0.33" fill="#e89a28" opacity="0.46"/>
<circle cx="393.09" cy="69.63" r="0.36" fill="#c87010" opacity="0.42"/>
<circle cx="407.06" cy="61.39" r="0.36" fill="#e0607a" opacity="0.53"/>
<circle cx="398.97" cy="55.07" r="0.41" fill="#f0a830" opacity="0.63"/>
<circle cx="404.92" cy="22.01" r="0.69" fill="#c87010" opacity="0.32"/>
<circle cx="411" cy="75.34" r="0.58" fill="#e89a28" opacity="0.34"/>
<circle cx="403.58" cy="41.1" r="0.48" fill="#b03050" opacity="0.42"/>
<circle cx="385.14" cy="50.43" r="0.34" fill="#d84a6a" opacity="0.4"/>
<circle cx="396.83" cy="15.89" r="0.37" fill="#e0607a" opacity="0.56"/>
<circle cx="386.48" cy="27.67" r="0.46" fill="#c87010" opacity="0.41"/>
<circle cx="410.74" cy="69.51" r="0.67" fill="#e89a28" opacity="0.63"/>
<circle cx="387.25" cy="43.5" r="0.63" fill="#c87010" opacity="0.38"/>
<circle cx="400.91" cy="49.29" r="0.51" fill="#b03050" opacity="0.54"/>
<circle cx="410.66" cy="37.26" r="0.41" fill="#c83a58" opacity="0.44"/>
<circle cx="405.51" cy="16.29" r="0.62" fill="#d88418" opacity="0.39"/>
<circle cx="388.06" cy="68.55" r="0.44" fill="#c83a58" opacity="0.33"/>
<circle cx="386.1" cy="47.28" r="0.57" fill="#e0607a" opacity="0.38"/>
<circle cx="388.25" cy="75.09" r="0.52" fill="#e0607a" opacity="0.4"/>
<circle cx="391.13" cy="76.57" r="0.47" fill="#c83a58" opacity="0.71"/>
<ellipse cx="388.8" cy="23.6" rx="3.6" ry="4.6" fill="#2a5ed8" opacity="0.95" filter="url(#blur2)"/>
<ellipse cx="392.4" cy="57.4" rx="3.8" ry="3.6" fill="#2a56d0" opacity="0.85" filter="url(#blur2)"/>
<ellipse cx="414.3" cy="51.8" rx="3.3" ry="3.4" fill="#2a5ed8" opacity="0.9" filter="url(#blur2)"/>
<ellipse cx="415.5" cy="19.6" rx="2.5" ry="2.8" fill="#2a5ed8" opacity="0.7" filter="url(#blur2)"/>
<path d="M390 16C390.67 17.4 392.02 22.08 394 24.4C395.98 26.72 398.85 28.05 401.9 29.9C404.95 31.75 409.77 33.77 412.3 35.5C414.83 37.23 416.3 39.5 417.1 40.3" stroke="#52dc3c" stroke-width="1.61" fill="none" stroke-linecap="round" opacity="0.28" filter="url(#glow)"/>
<path d="M390 16C390.67 17.4 392.02 22.08 394 24.4C395.98 26.72 398.85 28.05 401.9 29.9C404.95 31.75 409.77 33.77 412.3 35.5C414.83 37.23 416.3 39.5 417.1 40.3" stroke="#52dc3c" stroke-width="0.85" fill="none" stroke-linecap="round" opacity="0.81"/>
<path d="M385.3 26.7C386.35 27.77 390.03 30.97 391.6 33.1C393.17 35.23 393.92 36.83 394.7 39.5C395.48 42.17 395.5 45.65 396.3 49.1C397.1 52.55 398.3 55.17 399.5 60.2C400.7 65.23 402.83 76.12 403.5 79.3" stroke="#52dc3c" stroke-width="1.8" fill="none" stroke-linecap="round" opacity="0.35" filter="url(#glow)"/>
<path d="M385.3 26.7C386.35 27.77 390.03 30.97 391.6 33.1C393.17 35.23 393.92 36.83 394.7 39.5C395.48 42.17 395.5 45.65 396.3 49.1C397.1 52.55 398.3 55.17 399.5 60.2C400.7 65.23 402.83 76.12 403.5 79.3" stroke="#52dc3c" stroke-width="0.95" fill="none" stroke-linecap="round" opacity="1"/>
<path d="M385.3 43.5C386.25 44.75 388.9 48.48 391 51C393.1 53.52 396.75 57.33 397.9 58.6" stroke="#3cc83c" stroke-width="1.61" fill="none" stroke-linecap="round" opacity="0.25" filter="url(#glow)"/>
<path d="M385.3 43.5C386.25 44.75 388.9 48.48 391 51C393.1 53.52 396.75 57.33 397.9 58.6" stroke="#3cc83c" stroke-width="0.85" fill="none" stroke-linecap="round" opacity="0.72"/>
<path d="M385.3 65C387.4 64.07 394.2 61.53 397.9 59.4C401.6 57.27 404.3 54.45 407.5 52.2C410.7 49.95 415.5 46.95 417.1 45.9" stroke="#52dc3c" stroke-width="1.61" fill="none" stroke-linecap="round" opacity="0.28" filter="url(#glow)"/>
<path d="M385.3 65C387.4 64.07 394.2 61.53 397.9 59.4C401.6 57.27 404.3 54.45 407.5 52.2C410.7 49.95 415.5 46.95 417.1 45.9" stroke="#52dc3c" stroke-width="0.85" fill="none" stroke-linecap="round" opacity="0.81"/>
<path d="M394 34.7C395.45 35.23 399.78 36.83 402.7 37.9C405.62 38.97 410.03 40.57 411.5 41.1" stroke="#3cc83c" stroke-width="1.61" fill="none" stroke-linecap="round" opacity="0.25" filter="url(#glow)"/>
<path d="M394 34.7C395.45 35.23 399.78 36.83 402.7 37.9C405.62 38.97 410.03 40.57 411.5 41.1" stroke="#3cc83c" stroke-width="0.85" fill="none" stroke-linecap="round" opacity="0.72"/>
<path d="M401.9 40.3C402.57 42.28 404.17 47.95 405.9 52.2C407.63 56.45 410.7 61.28 412.3 65.8C413.9 70.32 414.97 77.05 415.5 79.3" stroke="#3cc83c" stroke-width="1.61" fill="none" stroke-linecap="round" opacity="0.25" filter="url(#glow)"/>
<path d="M401.9 40.3C402.57 42.28 404.17 47.95 405.9 52.2C407.63 56.45 410.7 61.28 412.3 65.8C413.9 70.32 414.97 77.05 415.5 79.3" stroke="#3cc83c" stroke-width="0.85" fill="none" stroke-linecap="round" opacity="0.72"/>
<path d="M397.9 60.2C395.8 61.8 387.4 68.2 385.3 69.8" stroke="#30b030" stroke-width="1.61" fill="none" stroke-linecap="round" opacity="0.24" filter="url(#glow)"/>
<path d="M397.9 60.2C395.8 61.8 387.4 68.2 385.3 69.8" stroke="#30b030" stroke-width="0.85" fill="none" stroke-linecap="round" opacity="0.68"/>
<path d="M385.3 74.6C387.13 75.12 394.47 77.18 396.3 77.7" stroke="#30b030" stroke-width="1.61" fill="none" stroke-linecap="round" opacity="0.24" filter="url(#glow)"/>
<path d="M385.3 74.6C387.13 75.12 394.47 77.18 396.3 77.7" stroke="#30b030" stroke-width="0.85" fill="none" stroke-linecap="round" opacity="0.68"/>
<path d="M417.1 29.9C416.3 30.57 413.1 33.23 412.3 33.9" stroke="#30b030" stroke-width="1.61" fill="none" stroke-linecap="round" opacity="0.24" filter="url(#glow)"/>
<path d="M417.1 29.9C416.3 30.57 413.1 33.23 412.3 33.9" stroke="#30b030" stroke-width="0.85" fill="none" stroke-linecap="round" opacity="0.68"/>
<text x="398.5" y="21.6" dy="0.35em" font-size="6.6" fill="#fff" stroke="#fff" stroke-width="0.08">10µm</text>
<rect x="405.9" y="25.6" width="7.6" height="1.2" fill="#ddd" />
</g></g>
<clipPath id="cp8"><rect x="419.2" y="15.7" width="32.3" height="63.8"/></clipPath>
<g clip-path="url(#cp8)"><g filter="url(#soft)">
<circle cx="450.15" cy="24.66" r="0.36" fill="#c87010" opacity="0.5"/>
<circle cx="423.1" cy="57.26" r="0.49" fill="#e89a28" opacity="0.53"/>
<circle cx="450.19" cy="36.08" r="0.59" fill="#c87010" opacity="0.79"/>
<circle cx="420.76" cy="71.93" r="0.59" fill="#f0a830" opacity="0.63"/>
<circle cx="425.03" cy="22.82" r="0.56" fill="#e89a28" opacity="0.78"/>
<circle cx="438.98" cy="32.19" r="0.73" fill="#f0a830" opacity="0.9"/>
<circle cx="447.32" cy="76.7" r="0.56" fill="#f0a830" opacity="0.85"/>
<circle cx="440.76" cy="27.5" r="0.37" fill="#e89a28" opacity="0.63"/>
<circle cx="427.33" cy="33.84" r="0.7" fill="#c87010" opacity="0.76"/>
<circle cx="448.8" cy="35.31" r="0.5" fill="#e89a28" opacity="0.56"/>
<circle cx="438.44" cy="50.35" r="0.52" fill="#c87010" opacity="0.45"/>
<circle cx="451.39" cy="38.39" r="0.52" fill="#c87010" opacity="0.43"/>
<circle cx="446.37" cy="28.27" r="0.45" fill="#e89a28" opacity="0.45"/>
<circle cx="448.12" cy="26.64" r="0.57" fill="#f0a830" opacity="0.5"/>
<circle cx="448.59" cy="55.86" r="0.53" fill="#e89a28" opacity="0.69"/>
<circle cx="444.91" cy="56.98" r="0.43" fill="#e89a28" opacity="0.43"/>
<circle cx="432.47" cy="68.53" r="0.72" fill="#c87010" opacity="0.42"/>
<circle cx="423.08" cy="60.85" r="0.4" fill="#f0a830" opacity="0.95"/>
<circle cx="443.22" cy="45.88" r="0.64" fill="#f0a830" opacity="0.93"/>
<circle cx="422.78" cy="67.23" r="0.45" fill="#e89a28" opacity="0.41"/>
<circle cx="435.35" cy="56.19" r="0.49" fill="#d88418" opacity="0.75"/>
<circle cx="438.48" cy="60.36" r="0.42" fill="#e89a28" opacity="0.93"/>
<circle cx="430.58" cy="23.23" r="0.44" fill="#f0a830" opacity="0.67"/>
<circle cx="421.4" cy="17.19" r="0.65" fill="#c87010" opacity="0.74"/>
<circle cx="432.21" cy="23.2" r="0.71" fill="#d88418" opacity="0.42"/>
<circle cx="431.4" cy="69.86" r="0.36" fill="#d88418" opacity="0.81"/>
<circle cx="439.71" cy="18.83" r="0.63" fill="#c87010" opacity="0.66"/>
<circle cx="427.24" cy="30.42" r="0.46" fill="#e89a28" opacity="0.91"/>
<circle cx="437.48" cy="27.08" r="0.73" fill="#f0a830" opacity="0.43"/>
<circle cx="435.31" cy="54.21" r="0.37" fill="#c87010" opacity="0.79"/>
<circle cx="428.15" cy="64.73" r="0.44" fill="#c87010" opacity="0.87"/>
<circle cx="426.74" cy="49.8" r="0.41" fill="#f0a830" opacity="0.54"/>
<circle cx="450.57" cy="59.67" r="0.63" fill="#e89a28" opacity="0.5"/>
<circle cx="445.12" cy="72.68" r="0.57" fill="#f0a830" opacity="0.55"/>
<circle cx="446.48" cy="32.49" r="0.45" fill="#d88418" opacity="0.59"/>
<circle cx="444.85" cy="47.33" r="0.55" fill="#d88418" opacity="0.94"/>
<circle cx="425.35" cy="41.59" r="0.7" fill="#e89a28" opacity="0.61"/>
<circle cx="440.38" cy="28.14" r="0.41" fill="#e89a28" opacity="0.91"/>
<circle cx="430.13" cy="19.17" r="0.56" fill="#d88418" opacity="0.51"/>
<circle cx="430.89" cy="76.48" r="0.35" fill="#f0a830" opacity="0.82"/>
<circle cx="419.9" cy="76.22" r="0.62" fill="#e89a28" opacity="0.45"/>
<circle cx="421.35" cy="27.08" r="0.55" fill="#f0a830" opacity="0.9"/>
<circle cx="432.51" cy="55.41" r="0.65" fill="#f0a830" opacity="0.58"/>
<circle cx="441.04" cy="66.29" r="0.37" fill="#d88418" opacity="0.84"/>
<circle cx="440.27" cy="36.2" r="0.46" fill="#d88418" opacity="0.53"/>
<circle cx="423.01" cy="35.77" r="0.71" fill="#f0a830" opacity="0.46"/>
<circle cx="448.5" cy="68.31" r="0.72" fill="#d88418" opacity="0.66"/>
<circle cx="432.6" cy="38.29" r="0.68" fill="#f0a830" opacity="0.53"/>
<circle cx="426.54" cy="55.33" r="0.71" fill="#e89a28" opacity="0.66"/>
<circle cx="428.24" cy="50.33" r="0.39" fill="#d88418" opacity="0.81"/>
<circle cx="437.17" cy="44.08" r="0.45" fill="#d88418" opacity="0.85"/>
<circle cx="422.86" cy="46.37" r="0.67" fill="#c87010" opacity="0.44"/>
<circle cx="430.17" cy="39.99" r="0.72" fill="#c87010" opacity="0.64"/>
<circle cx="436.6" cy="40.88" r="0.53" fill="#c87010" opacity="0.6"/>
<circle cx="428.44" cy="16.35" r="0.38" fill="#d88418" opacity="0.86"/>
<circle cx="443.54" cy="20.78" r="0.58" fill="#f0a830" opacity="0.75"/>
<circle cx="419.86" cy="74.43" r="0.58" fill="#f0a830" opacity="0.7"/>
<circle cx="438.14" cy="28.36" r="0.67" fill="#c87010" opacity="0.65"/>
<circle cx="442.33" cy="65.2" r="0.62" fill="#c87010" opacity="0.71"/>
<circle cx="445.78" cy="32.41" r="0.7" fill="#d88418" opacity="0.52"/>
<circle cx="436.32" cy="59.21" r="0.58" fill="#d88418" opacity="0.74"/>
<circle cx="427" cy="45.07" r="0.67" fill="#e89a28" opacity="0.72"/>
<circle cx="426.56" cy="42.22" r="0.4" fill="#d88418" opacity="0.43"/>
<circle cx="438.74" cy="35.35" r="0.66" fill="#d88418" opacity="0.84"/>
<circle cx="435.64" cy="74.26" r="0.51" fill="#e89a28" opacity="0.6"/>
<circle cx="440.16" cy="32.35" r="0.35" fill="#c87010" opacity="0.95"/>
<circle cx="430.04" cy="46.55" r="0.42" fill="#d88418" opacity="0.79"/>
<circle cx="427.64" cy="23.42" r="0.42" fill="#e89a28" opacity="0.78"/>
<circle cx="440.8" cy="59.47" r="0.57" fill="#f0a830" opacity="0.78"/>
<circle cx="437.86" cy="30.27" r="0.42" fill="#e89a28" opacity="0.74"/>
<circle cx="428.26" cy="36.49" r="0.79" fill="#f0a830" opacity="0.78"/>
<circle cx="421.14" cy="18.2" r="0.73" fill="#c87010" opacity="0.75"/>
<circle cx="434.96" cy="44.74" r="0.87" fill="#f0a830" opacity="0.79"/>
<circle cx="424.39" cy="22.51" r="0.5" fill="#c87010" opacity="0.9"/>
<circle cx="438.38" cy="54.67" r="0.57" fill="#d88418" opacity="0.6"/>
<circle cx="446.16" cy="74.86" r="0.62" fill="#d88418" opacity="0.99"/>
<circle cx="430.06" cy="28.04" r="0.62" fill="#e89a28" opacity="0.61"/>
<circle cx="431.32" cy="37.92" r="0.56" fill="#d88418" opacity="0.58"/>
<circle cx="444.08" cy="70.63" r="0.45" fill="#c87010" opacity="0.51"/>
<circle cx="424.93" cy="26.63" r="0.67" fill="#c87010" opacity="0.62"/>
<circle cx="428.88" cy="42.29" r="0.67" fill="#c87010" opacity="0.56"/>
<circle cx="444.97" cy="71.4" r="0.47" fill="#f0a830" opacity="0.68"/>
<circle cx="425.07" cy="20.63" r="0.48" fill="#f0a830" opacity="0.63"/>
<circle cx="442.16" cy="55.15" r="0.53" fill="#d88418" opacity="0.81"/>
<circle cx="444.37" cy="70.24" r="0.51" fill="#d88418" opacity="0.93"/>
<circle cx="438.43" cy="51.43" r="0.55" fill="#f0a830" opacity="0.89"/>
<circle cx="437.8" cy="58.12" r="0.57" fill="#f0a830" opacity="0.86"/>
<circle cx="440.45" cy="64.99" r="0.77" fill="#f0a830" opacity="0.98"/>
<circle cx="421.81" cy="19.93" r="0.67" fill="#d88418" opacity="0.63"/>
<circle cx="430.09" cy="39.47" r="0.55" fill="#c87010" opacity="0.8"/>
<circle cx="438.57" cy="57.47" r="0.79" fill="#c87010" opacity="0.59"/>
<circle cx="434.14" cy="56.04" r="0.72" fill="#f0a830" opacity="0.63"/>
<circle cx="439.13" cy="61.62" r="0.55" fill="#c87010" opacity="0.57"/>
<circle cx="428.6" cy="37.88" r="0.7" fill="#d88418" opacity="0.58"/>
<circle cx="436.29" cy="56.68" r="0.67" fill="#e89a28" opacity="0.68"/>
<circle cx="432.23" cy="44.17" r="0.51" fill="#c87010" opacity="0.73"/>
<circle cx="427.78" cy="46.32" r="0.73" fill="#d88418" opacity="0.68"/>
<circle cx="439.18" cy="41.71" r="0.5" fill="#d88418" opacity="0.95"/>
<circle cx="437.31" cy="41.49" r="0.59" fill="#e89a28" opacity="0.65"/>
<circle cx="431.69" cy="41.37" r="0.71" fill="#d88418" opacity="0.95"/>
<circle cx="438.79" cy="42.65" r="0.5" fill="#e89a28" opacity="0.54"/>
<circle cx="443.95" cy="41.48" r="0.74" fill="#f0a830" opacity="0.87"/>
<circle cx="441.18" cy="41.71" r="0.83" fill="#f0a830" opacity="0.94"/>
<circle cx="442.48" cy="42.51" r="0.74" fill="#f0a830" opacity="0.55"/>
<circle cx="433.73" cy="41.63" r="0.5" fill="#d88418" opacity="1"/>
<circle cx="444.85" cy="44.83" r="0.44" fill="#e89a28" opacity="0.56"/>
<circle cx="437.56" cy="40.82" r="0.83" fill="#c87010" opacity="0.93"/>
</g></g>
<clipPath id="cp9"><rect x="453.3" y="15.7" width="31.5" height="63.8"/></clipPath>
<g clip-path="url(#cp9)"><g filter="url(#soft)">
<rect x="453.3" y="15.7" width="31.5" height="63.8" fill="#1a0204" />
<circle cx="482.43" cy="76.22" r="0.52" fill="#d02028" opacity="0.31"/>
<circle cx="462.96" cy="39.89" r="0.36" fill="#b81820" opacity="0.46"/>
<circle cx="453.74" cy="55.27" r="0.52" fill="#d02028" opacity="0.35"/>
<circle cx="475.67" cy="42.58" r="0.4" fill="#a01418" opacity="0.52"/>
<circle cx="455.11" cy="65.66" r="0.43" fill="#b81820" opacity="0.67"/>
<circle cx="483.88" cy="38.85" r="0.48" fill="#e03040" opacity="0.88"/>
<circle cx="462.16" cy="77.88" r="0.42" fill="#a01418" opacity="0.41"/>
<circle cx="468.52" cy="66.2" r="0.45" fill="#b81820" opacity="0.41"/>
<circle cx="458.92" cy="36.33" r="0.49" fill="#b81820" opacity="0.65"/>
<circle cx="455.89" cy="42.89" r="0.42" fill="#e03040" opacity="0.79"/>
<circle cx="463.72" cy="39.28" r="0.34" fill="#e03040" opacity="0.84"/>
<circle cx="467.62" cy="29.63" r="0.29" fill="#d02028" opacity="0.72"/>
<circle cx="479.4" cy="30.89" r="0.41" fill="#d02028" opacity="0.87"/>
<circle cx="458.57" cy="77.91" r="0.27" fill="#a01418" opacity="0.54"/>
<circle cx="458.42" cy="30.1" r="0.25" fill="#b81820" opacity="0.78"/>
<circle cx="483.19" cy="50.06" r="0.55" fill="#d02028" opacity="0.51"/>
<circle cx="483.99" cy="39.75" r="0.31" fill="#d02028" opacity="0.46"/>
<circle cx="470.57" cy="63.87" r="0.39" fill="#e03040" opacity="0.43"/>
<circle cx="456.56" cy="49.45" r="0.3" fill="#b81820" opacity="0.45"/>
<circle cx="466.59" cy="73.18" r="0.38" fill="#e03040" opacity="0.69"/>
<circle cx="466.36" cy="26.23" r="0.44" fill="#a01418" opacity="0.34"/>
<circle cx="483.56" cy="72.97" r="0.47" fill="#e03040" opacity="0.56"/>
<circle cx="462.71" cy="70.6" r="0.43" fill="#d02028" opacity="0.8"/>
<circle cx="456.72" cy="55.97" r="0.35" fill="#a01418" opacity="0.45"/>
<circle cx="483.27" cy="20.71" r="0.42" fill="#d02028" opacity="0.44"/>
<circle cx="470.97" cy="45.73" r="0.38" fill="#e03040" opacity="0.3"/>
<circle cx="465.18" cy="65.82" r="0.29" fill="#a01418" opacity="0.42"/>
<circle cx="474.76" cy="26.75" r="0.38" fill="#a01418" opacity="0.87"/>
<circle cx="466.53" cy="33.39" r="0.43" fill="#b81820" opacity="0.62"/>
<circle cx="462.68" cy="73.04" r="0.28" fill="#d02028" opacity="0.82"/>
<circle cx="468.98" cy="65.27" r="0.45" fill="#a01418" opacity="0.47"/>
<circle cx="463.37" cy="37.99" r="0.34" fill="#e03040" opacity="0.4"/>
<circle cx="454.65" cy="72.28" r="0.45" fill="#e03040" opacity="0.62"/>
<circle cx="475.07" cy="40.2" r="0.52" fill="#b81820" opacity="0.6"/>
<circle cx="456.78" cy="45.22" r="0.29" fill="#a01418" opacity="0.3"/>
<circle cx="454.47" cy="65.64" r="0.28" fill="#a01418" opacity="0.33"/>
<circle cx="478.73" cy="33.29" r="0.36" fill="#b81820" opacity="0.67"/>
<circle cx="477.87" cy="27.21" r="0.4" fill="#e03040" opacity="0.48"/>
<circle cx="455.77" cy="74.09" r="0.45" fill="#b81820" opacity="0.32"/>
<circle cx="457.09" cy="63.27" r="0.55" fill="#b81820" opacity="0.67"/>
<circle cx="457.68" cy="62.39" r="0.39" fill="#e03040" opacity="0.64"/>
<circle cx="477.58" cy="68.12" r="0.43" fill="#d02028" opacity="0.5"/>
<circle cx="457.52" cy="21.6" r="0.51" fill="#b81820" opacity="0.88"/>
<circle cx="484.55" cy="64.03" r="0.32" fill="#a01418" opacity="0.7"/>
<circle cx="470.05" cy="29.7" r="0.42" fill="#e03040" opacity="0.57"/>
<circle cx="474.08" cy="76.67" r="0.44" fill="#e03040" opacity="0.53"/>
<circle cx="477.68" cy="68.72" r="0.26" fill="#a01418" opacity="0.51"/>
<circle cx="459.93" cy="57.22" r="0.3" fill="#e03040" opacity="0.54"/>
<circle cx="455.14" cy="35.84" r="0.38" fill="#b81820" opacity="0.65"/>
<circle cx="466.35" cy="31.39" r="0.34" fill="#e03040" opacity="0.57"/>
<circle cx="458.75" cy="68.13" r="0.42" fill="#d02028" opacity="0.62"/>
<circle cx="472.93" cy="42.98" r="0.43" fill="#a01418" opacity="0.89"/>
<circle cx="474.12" cy="43.15" r="0.27" fill="#d02028" opacity="0.53"/>
<circle cx="465.35" cy="19.34" r="0.26" fill="#a01418" opacity="0.51"/>
<circle cx="483.01" cy="58.55" r="0.54" fill="#e03040" opacity="0.73"/>
<circle cx="457.82" cy="78.48" r="0.48" fill="#a01418" opacity="0.63"/>
<circle cx="457.12" cy="20.01" r="0.39" fill="#b81820" opacity="0.89"/>
<circle cx="478.46" cy="23.19" r="0.26" fill="#b81820" opacity="0.62"/>
<circle cx="459.52" cy="37.85" r="0.54" fill="#e03040" opacity="0.72"/>
<circle cx="466.85" cy="73.9" r="0.53" fill="#e03040" opacity="0.5"/>
<circle cx="476.58" cy="29.75" r="0.45" fill="#b81820" opacity="0.34"/>
<circle cx="477.89" cy="24.61" r="0.53" fill="#e03040" opacity="0.88"/>
<circle cx="456.79" cy="68.48" r="0.27" fill="#d02028" opacity="0.88"/>
<circle cx="454.36" cy="46.12" r="0.53" fill="#d02028" opacity="0.61"/>
<circle cx="461.87" cy="52.25" r="0.55" fill="#d02028" opacity="0.83"/>
<circle cx="459.52" cy="62.59" r="0.47" fill="#d02028" opacity="0.69"/>
<circle cx="457.45" cy="69" r="0.4" fill="#b81820" opacity="0.46"/>
<circle cx="482.48" cy="53.99" r="0.37" fill="#d02028" opacity="0.64"/>
<circle cx="471.32" cy="66.61" r="0.44" fill="#b81820" opacity="0.39"/>
<circle cx="453.74" cy="56.91" r="0.53" fill="#a01418" opacity="0.31"/>
<circle cx="468.94" cy="44.82" r="0.34" fill="#d02028" opacity="0.8"/>
<circle cx="459.85" cy="67.01" r="0.49" fill="#b81820" opacity="0.39"/>
<circle cx="479.14" cy="58.39" r="0.28" fill="#a01418" opacity="0.75"/>
<circle cx="459.5" cy="26.63" r="0.45" fill="#b81820" opacity="0.8"/>
<circle cx="461.69" cy="53.99" r="0.5" fill="#b81820" opacity="0.37"/>
<circle cx="466.85" cy="19.8" r="0.45" fill="#a01418" opacity="0.89"/>
<circle cx="477.5" cy="22.02" r="0.32" fill="#e03040" opacity="0.68"/>
<circle cx="466.69" cy="29.55" r="0.42" fill="#b81820" opacity="0.5"/>
<circle cx="471.06" cy="77.79" r="0.28" fill="#b81820" opacity="0.74"/>
<circle cx="458.11" cy="51.54" r="0.44" fill="#d02028" opacity="0.57"/>
<circle cx="454.98" cy="74.89" r="0.33" fill="#b81820" opacity="0.58"/>
<circle cx="477.84" cy="37.25" r="0.28" fill="#a01418" opacity="0.85"/>
<circle cx="478.18" cy="22.36" r="0.41" fill="#a01418" opacity="0.53"/>
<circle cx="476.38" cy="26.82" r="0.51" fill="#d02028" opacity="0.31"/>
<circle cx="480.34" cy="65.34" r="0.46" fill="#d02028" opacity="0.81"/>
<circle cx="474.35" cy="57.44" r="0.5" fill="#e03040" opacity="0.87"/>
<circle cx="473.26" cy="74.72" r="0.29" fill="#e03040" opacity="0.38"/>
<circle cx="461.95" cy="50.36" r="0.43" fill="#a01418" opacity="0.71"/>
<circle cx="458.9" cy="32.85" r="0.47" fill="#b81820" opacity="0.79"/>
<circle cx="481.39" cy="65.9" r="0.41" fill="#a01418" opacity="0.59"/>
<circle cx="475.86" cy="19.18" r="0.37" fill="#d02028" opacity="0.46"/>
<circle cx="456.96" cy="54.6" r="0.32" fill="#e03040" opacity="0.55"/>
<circle cx="481.21" cy="31.38" r="0.28" fill="#e03040" opacity="0.45"/>
<circle cx="482.49" cy="77.79" r="0.46" fill="#b81820" opacity="0.6"/>
<circle cx="463.42" cy="64.92" r="0.37" fill="#e03040" opacity="0.63"/>
<circle cx="471.82" cy="69.93" r="0.27" fill="#a01418" opacity="0.84"/>
<circle cx="471.92" cy="62.63" r="0.27" fill="#b81820" opacity="0.37"/>
<circle cx="456.95" cy="43.46" r="0.51" fill="#e03040" opacity="0.4"/>
<circle cx="481.84" cy="38.88" r="0.34" fill="#a01418" opacity="0.85"/>
<circle cx="484.77" cy="28.81" r="0.42" fill="#a01418" opacity="0.84"/>
<circle cx="476.81" cy="33.71" r="0.4" fill="#b81820" opacity="0.74"/>
<circle cx="479.86" cy="68.31" r="0.41" fill="#d02028" opacity="0.38"/>
<circle cx="453.72" cy="38.76" r="0.48" fill="#a01418" opacity="0.77"/>
<circle cx="470.41" cy="24.68" r="0.46" fill="#d02028" opacity="0.47"/>
<circle cx="478.46" cy="28.08" r="0.34" fill="#a01418" opacity="0.65"/>
<circle cx="477.2" cy="67.15" r="0.33" fill="#a01418" opacity="0.4"/>
<circle cx="472.59" cy="43.43" r="0.49" fill="#d02028" opacity="0.73"/>
<circle cx="482.82" cy="77.82" r="0.51" fill="#d02028" opacity="0.88"/>
<circle cx="480.57" cy="27.19" r="0.5" fill="#b81820" opacity="0.43"/>
<circle cx="453.52" cy="59.36" r="0.4" fill="#a01418" opacity="0.35"/>
<circle cx="458.87" cy="27.98" r="0.52" fill="#d02028" opacity="0.78"/>
<circle cx="481.64" cy="20.24" r="0.26" fill="#b81820" opacity="0.52"/>
<circle cx="476.54" cy="17.35" r="0.37" fill="#e03040" opacity="0.65"/>
<circle cx="480.9" cy="64.55" r="0.52" fill="#b81820" opacity="0.46"/>
<circle cx="477.62" cy="24.18" r="0.28" fill="#b81820" opacity="0.37"/>
<circle cx="484.77" cy="75.96" r="0.5" fill="#a01418" opacity="0.62"/>
<circle cx="468.94" cy="48.13" r="0.49" fill="#d02028" opacity="0.82"/>
<circle cx="470.75" cy="26.61" r="0.35" fill="#a01418" opacity="0.81"/>
<circle cx="453.32" cy="41.34" r="0.34" fill="#d02028" opacity="0.5"/>
<circle cx="482.59" cy="48.94" r="0.5" fill="#b81820" opacity="0.59"/>
<circle cx="456.06" cy="66.38" r="0.5" fill="#e03040" opacity="0.68"/>
<circle cx="474.21" cy="63.45" r="0.34" fill="#b81820" opacity="0.55"/>
<circle cx="473.82" cy="17.89" r="0.27" fill="#e03040" opacity="0.54"/>
<circle cx="471.32" cy="59.78" r="0.52" fill="#b81820" opacity="0.65"/>
<circle cx="481.59" cy="25.86" r="0.31" fill="#d02028" opacity="0.63"/>
<circle cx="467.43" cy="58.08" r="0.39" fill="#d02028" opacity="0.53"/>
<circle cx="456.29" cy="67.1" r="0.52" fill="#d02028" opacity="0.5"/>
<circle cx="483.5" cy="49.73" r="0.37" fill="#e03040" opacity="0.87"/>
<circle cx="459.73" cy="25.57" r="0.29" fill="#b81820" opacity="0.79"/>
<circle cx="465.04" cy="61.41" r="0.53" fill="#a01418" opacity="0.4"/>
<circle cx="476.22" cy="17.26" r="0.31" fill="#a01418" opacity="0.44"/>
<circle cx="460.18" cy="38.53" r="0.39" fill="#d02028" opacity="0.65"/>
<circle cx="470.82" cy="61.59" r="0.31" fill="#a01418" opacity="0.76"/>
<circle cx="467.49" cy="22.12" r="0.35" fill="#a01418" opacity="0.5"/>
<circle cx="477.12" cy="70.32" r="0.54" fill="#e03040" opacity="0.5"/>
<circle cx="480.82" cy="16.74" r="0.42" fill="#a01418" opacity="0.48"/>
<circle cx="480.73" cy="31.19" r="0.28" fill="#d02028" opacity="0.88"/>
<circle cx="454.89" cy="77.2" r="0.27" fill="#d02028" opacity="0.63"/>
<circle cx="459.46" cy="49.3" r="0.35" fill="#e03040" opacity="0.66"/>
<circle cx="456.97" cy="39.02" r="0.29" fill="#b81820" opacity="0.87"/>
<circle cx="458.03" cy="35.25" r="0.33" fill="#e03040" opacity="0.73"/>
<circle cx="481.93" cy="30.8" r="0.43" fill="#a01418" opacity="0.62"/>
<circle cx="461.73" cy="28.08" r="0.51" fill="#a01418" opacity="0.67"/>
<circle cx="465.72" cy="63.6" r="0.34" fill="#b81820" opacity="0.54"/>
<circle cx="468.23" cy="53.48" r="0.49" fill="#d02028" opacity="0.3"/>
<circle cx="480.39" cy="27.45" r="0.51" fill="#b81820" opacity="0.9"/>
<circle cx="476.23" cy="40.53" r="0.52" fill="#e03040" opacity="0.76"/>
<circle cx="461.36" cy="38.09" r="0.31" fill="#a01418" opacity="0.39"/>
<circle cx="466.57" cy="36" r="0.32" fill="#d02028" opacity="0.72"/>
<circle cx="466.2" cy="59.69" r="0.53" fill="#a01418" opacity="0.72"/>
<circle cx="473" cy="20.68" r="0.54" fill="#b81820" opacity="0.72"/>
<circle cx="453.99" cy="33.12" r="0.32" fill="#d02028" opacity="0.39"/>
<circle cx="471.97" cy="35.01" r="0.28" fill="#b81820" opacity="0.59"/>
<circle cx="480.22" cy="47.38" r="0.49" fill="#a01418" opacity="0.59"/>
<circle cx="476.51" cy="71.07" r="0.45" fill="#e03040" opacity="0.6"/>
<circle cx="455.72" cy="30.21" r="0.46" fill="#b81820" opacity="0.71"/>
<circle cx="464.44" cy="68.47" r="0.48" fill="#d02028" opacity="0.46"/>
<circle cx="474.72" cy="57.54" r="0.5" fill="#d02028" opacity="0.86"/>
<circle cx="475.98" cy="29.07" r="0.42" fill="#b81820" opacity="0.58"/>
<circle cx="470.05" cy="78.16" r="0.51" fill="#b81820" opacity="0.77"/>
<circle cx="479.63" cy="39.52" r="0.43" fill="#b81820" opacity="0.49"/>
<circle cx="453.59" cy="76.99" r="0.49" fill="#b81820" opacity="0.4"/>
<circle cx="473.74" cy="48.62" r="0.41" fill="#a01418" opacity="0.71"/>
<circle cx="470.1" cy="69.36" r="0.29" fill="#a01418" opacity="0.8"/>
<circle cx="462.61" cy="58.99" r="0.5" fill="#e03040" opacity="0.43"/>
<circle cx="454.98" cy="18.83" r="0.36" fill="#a01418" opacity="0.61"/>
<circle cx="459.84" cy="24.74" r="0.3" fill="#d02028" opacity="0.47"/>
<circle cx="461.52" cy="47.06" r="0.48" fill="#d02028" opacity="0.36"/>
<circle cx="479.24" cy="32.45" r="0.4" fill="#e03040" opacity="0.52"/>
<circle cx="472.45" cy="29.8" r="0.36" fill="#d02028" opacity="0.71"/>
<circle cx="477.17" cy="50.77" r="0.38" fill="#d02028" opacity="0.31"/>
<circle cx="484.75" cy="43.4" r="0.26" fill="#d02028" opacity="0.62"/>
<circle cx="467.77" cy="27.46" r="0.49" fill="#b81820" opacity="0.73"/>
<circle cx="468.09" cy="16.11" r="0.35" fill="#d02028" opacity="0.6"/>
<circle cx="464.52" cy="78.44" r="0.47" fill="#d02028" opacity="0.47"/>
<circle cx="460.59" cy="50.23" r="0.35" fill="#d02028" opacity="0.74"/>
<circle cx="455.3" cy="30.42" r="0.45" fill="#b81820" opacity="0.7"/>
<circle cx="480.18" cy="41.24" r="0.46" fill="#a01418" opacity="0.33"/>
<circle cx="460.55" cy="78.46" r="0.48" fill="#e03040" opacity="0.66"/>
<circle cx="462.9" cy="30.98" r="0.27" fill="#e03040" opacity="0.84"/>
<circle cx="467.54" cy="71.32" r="0.29" fill="#a01418" opacity="0.66"/>
<circle cx="475.95" cy="52.31" r="0.32" fill="#a01418" opacity="0.45"/>
<circle cx="478.53" cy="65.87" r="0.37" fill="#e03040" opacity="0.45"/>
<circle cx="469.28" cy="33.47" r="0.43" fill="#d02028" opacity="0.5"/>
<circle cx="463.43" cy="41.99" r="0.32" fill="#d02028" opacity="0.43"/>
<circle cx="479.18" cy="68.01" r="0.52" fill="#b81820" opacity="0.6"/>
<circle cx="458.62" cy="70.57" r="0.43" fill="#a01418" opacity="0.37"/>
<circle cx="475.09" cy="26.32" r="0.31" fill="#e03040" opacity="0.79"/>
<circle cx="481.14" cy="70.92" r="0.36" fill="#a01418" opacity="0.55"/>
<circle cx="477.22" cy="46.81" r="0.35" fill="#e03040" opacity="0.64"/>
<circle cx="455.45" cy="19.44" r="0.52" fill="#e03040" opacity="0.47"/>
<circle cx="473.35" cy="16.66" r="0.34" fill="#a01418" opacity="0.57"/>
<circle cx="476.32" cy="36.13" r="0.41" fill="#e03040" opacity="0.66"/>
<circle cx="470.65" cy="59.83" r="0.48" fill="#b81820" opacity="0.4"/>
<circle cx="462.26" cy="71.33" r="0.3" fill="#e03040" opacity="0.81"/>
<circle cx="481.76" cy="47.64" r="0.44" fill="#a01418" opacity="0.73"/>
<circle cx="460.12" cy="68.01" r="0.51" fill="#b81820" opacity="0.32"/>
<circle cx="478.95" cy="21.82" r="0.33" fill="#a01418" opacity="0.86"/>
<circle cx="458.34" cy="45.16" r="0.25" fill="#a01418" opacity="0.69"/>
<circle cx="474.89" cy="18.91" r="0.32" fill="#d02028" opacity="0.84"/>
<circle cx="456.75" cy="16.7" r="0.47" fill="#b81820" opacity="0.66"/>
<circle cx="477.84" cy="32.65" r="0.5" fill="#e03040" opacity="0.33"/>
<circle cx="462.35" cy="43.5" r="0.45" fill="#d02028" opacity="0.82"/>
<circle cx="456.92" cy="33.59" r="0.48" fill="#b81820" opacity="0.61"/>
<circle cx="470.47" cy="37.97" r="0.52" fill="#e03040" opacity="0.35"/>
<circle cx="453.57" cy="63.04" r="0.43" fill="#e03040" opacity="0.68"/>
<circle cx="453.95" cy="31.18" r="0.49" fill="#d02028" opacity="0.5"/>
<circle cx="476.44" cy="67.38" r="0.45" fill="#e03040" opacity="0.49"/>
<circle cx="463.73" cy="32.05" r="0.32" fill="#b81820" opacity="0.62"/>
<circle cx="459.31" cy="21.14" r="0.26" fill="#b81820" opacity="0.36"/>
<circle cx="467.43" cy="53.43" r="0.32" fill="#a01418" opacity="0.51"/>
<circle cx="456.75" cy="62.38" r="0.46" fill="#e03040" opacity="0.49"/>
<circle cx="474.8" cy="60.72" r="0.3" fill="#a01418" opacity="0.52"/>
<circle cx="473.56" cy="16.49" r="0.46" fill="#a01418" opacity="0.31"/>
<circle cx="470.38" cy="57.87" r="0.38" fill="#b81820" opacity="0.59"/>
<circle cx="467.74" cy="19.67" r="0.44" fill="#e03040" opacity="0.39"/>
<circle cx="476.42" cy="43.44" r="0.32" fill="#e03040" opacity="0.48"/>
<circle cx="456.05" cy="65.56" r="0.49" fill="#d02028" opacity="0.3"/>
<circle cx="465.74" cy="26.26" r="0.43" fill="#b81820" opacity="0.73"/>
<circle cx="472.41" cy="59.45" r="0.53" fill="#e03040" opacity="0.79"/>
</g></g>
<clipPath id="cp10"><rect x="384.9" y="81.4" width="32.2" height="63.8"/></clipPath>
<g clip-path="url(#cp10)"><g filter="url(#soft)">
<circle cx="407.84" cy="139.24" r="0.42" fill="#d88418" opacity="0.5"/>
<circle cx="406.5" cy="111.41" r="0.65" fill="#d88418" opacity="0.8"/>
<circle cx="394.02" cy="142.31" r="0.36" fill="#c87010" opacity="0.83"/>
<circle cx="416.71" cy="112.3" r="0.56" fill="#c87010" opacity="0.77"/>
<circle cx="399.2" cy="119.33" r="0.73" fill="#e89a28" opacity="0.74"/>
<circle cx="393.08" cy="130.74" r="0.62" fill="#f0a830" opacity="0.44"/>
<circle cx="405.8" cy="132.58" r="0.36" fill="#d88418" opacity="0.56"/>
<circle cx="413.71" cy="110.59" r="0.39" fill="#d88418" opacity="0.81"/>
<circle cx="416.84" cy="139.98" r="0.46" fill="#f0a830" opacity="0.86"/>
<circle cx="387.91" cy="126.39" r="0.41" fill="#d88418" opacity="0.56"/>
<circle cx="391.27" cy="130.48" r="0.66" fill="#c87010" opacity="0.65"/>
<circle cx="417.02" cy="136.46" r="0.56" fill="#d88418" opacity="0.44"/>
<circle cx="389.3" cy="119.66" r="0.57" fill="#d88418" opacity="0.6"/>
<circle cx="410.49" cy="123.01" r="0.54" fill="#f0a830" opacity="0.53"/>
<circle cx="390.87" cy="129.37" r="0.52" fill="#d88418" opacity="0.85"/>
<circle cx="385.99" cy="140.4" r="0.63" fill="#c87010" opacity="0.62"/>
<circle cx="409.5" cy="109.39" r="0.75" fill="#c87010" opacity="0.81"/>
<circle cx="402.25" cy="129.44" r="0.51" fill="#c87010" opacity="0.82"/>
<circle cx="393.97" cy="121.84" r="0.41" fill="#e89a28" opacity="0.8"/>
<circle cx="405.54" cy="108.64" r="0.45" fill="#e89a28" opacity="0.75"/>
<circle cx="398.4" cy="131.54" r="0.71" fill="#f0a830" opacity="0.63"/>
<circle cx="406.72" cy="121.82" r="0.7" fill="#e89a28" opacity="0.6"/>
<circle cx="385.52" cy="125.21" r="0.38" fill="#d88418" opacity="0.82"/>
<circle cx="401.95" cy="141.45" r="0.44" fill="#c87010" opacity="0.47"/>
<circle cx="411.48" cy="112.2" r="0.38" fill="#d88418" opacity="0.87"/>
<circle cx="402.83" cy="134.07" r="0.37" fill="#f0a830" opacity="0.8"/>
<circle cx="388.24" cy="114.8" r="0.41" fill="#e89a28" opacity="0.7"/>
<circle cx="401.73" cy="127.41" r="0.47" fill="#c87010" opacity="0.63"/>
<circle cx="397.09" cy="142.14" r="0.61" fill="#d88418" opacity="0.57"/>
<circle cx="391.05" cy="113.71" r="0.4" fill="#f0a830" opacity="0.54"/>
<circle cx="412.93" cy="116.64" r="0.6" fill="#d88418" opacity="0.45"/>
<circle cx="416.6" cy="131.69" r="0.59" fill="#d88418" opacity="0.86"/>
<circle cx="399.76" cy="114.99" r="0.5" fill="#c87010" opacity="0.69"/>
<circle cx="416.84" cy="124.93" r="0.7" fill="#e89a28" opacity="0.87"/>
<circle cx="390.33" cy="115.06" r="0.68" fill="#e89a28" opacity="0.52"/>
<circle cx="394.79" cy="133.27" r="0.65" fill="#d88418" opacity="0.85"/>
<circle cx="393.4" cy="118.89" r="0.54" fill="#f0a830" opacity="0.87"/>
<circle cx="392.7" cy="131.53" r="0.58" fill="#d88418" opacity="0.58"/>
<circle cx="392.26" cy="138.42" r="0.73" fill="#c87010" opacity="0.57"/>
<circle cx="387.64" cy="124.53" r="0.72" fill="#f0a830" opacity="0.88"/>
<circle cx="400.08" cy="123.39" r="0.36" fill="#d88418" opacity="0.66"/>
<circle cx="416.05" cy="140.44" r="0.47" fill="#e89a28" opacity="0.69"/>
<circle cx="396.48" cy="115.29" r="0.63" fill="#d88418" opacity="0.58"/>
<circle cx="415.43" cy="132" r="0.56" fill="#d88418" opacity="0.66"/>
<circle cx="404.57" cy="134.31" r="0.41" fill="#c87010" opacity="0.54"/>
<circle cx="407.06" cy="101.44" r="0.49" fill="#e89a28" opacity="0.39"/>
<circle cx="405.81" cy="95.91" r="0.42" fill="#f0a830" opacity="0.63"/>
<circle cx="408.7" cy="100.6" r="0.61" fill="#e89a28" opacity="0.37"/>
<circle cx="415.67" cy="97.83" r="0.55" fill="#d88418" opacity="0.51"/>
<circle cx="390.1" cy="82.85" r="0.74" fill="#e89a28" opacity="0.63"/>
<circle cx="408.97" cy="85.41" r="0.42" fill="#f0a830" opacity="0.39"/>
<circle cx="385.97" cy="91.6" r="0.39" fill="#f0a830" opacity="0.59"/>
<circle cx="414.4" cy="97.23" r="0.66" fill="#d88418" opacity="0.48"/>
<circle cx="403.34" cy="99.82" r="0.46" fill="#f0a830" opacity="0.5"/>
<circle cx="394.24" cy="84.35" r="0.48" fill="#f0a830" opacity="0.45"/>
<circle cx="396.37" cy="104.05" r="0.68" fill="#c87010" opacity="0.65"/>
<circle cx="388.83" cy="84.5" r="0.74" fill="#f0a830" opacity="0.31"/>
<circle cx="398.33" cy="92.42" r="0.65" fill="#f0a830" opacity="0.58"/>
<circle cx="406.02" cy="95.76" r="0.73" fill="#e89a28" opacity="0.56"/>
<circle cx="410.12" cy="105.79" r="0.6" fill="#e89a28" opacity="0.44"/>
<path d="M386 99.1C387.33 99.42 391.35 100.2 394 101C396.65 101.8 400.58 103.42 401.9 103.9" stroke="#30b030" stroke-width="1.61" fill="none" stroke-linecap="round" opacity="0.18" filter="url(#glow)"/>
<path d="M386 99.1C387.33 99.42 391.35 100.2 394 101C396.65 101.8 400.58 103.42 401.9 103.9" stroke="#30b030" stroke-width="0.85" fill="none" stroke-linecap="round" opacity="0.51"/>
<path d="M397.9 118.2C398.42 120.17 399.67 125.75 401 130C402.33 134.25 405.08 141.42 405.9 143.7" stroke="#30b030" stroke-width="1.61" fill="none" stroke-linecap="round" opacity="0.22" filter="url(#glow)"/>
<path d="M397.9 118.2C398.42 120.17 399.67 125.75 401 130C402.33 134.25 405.08 141.42 405.9 143.7" stroke="#30b030" stroke-width="0.85" fill="none" stroke-linecap="round" opacity="0.64"/>
<path d="M386 131C387.67 131.33 392.68 132.2 396 133C399.32 133.8 404.25 135.33 405.9 135.8" stroke="#30b030" stroke-width="1.61" fill="none" stroke-linecap="round" opacity="0.22" filter="url(#glow)"/>
<path d="M386 131C387.67 131.33 392.68 132.2 396 133C399.32 133.8 404.25 135.33 405.9 135.8" stroke="#30b030" stroke-width="0.85" fill="none" stroke-linecap="round" opacity="0.64"/>
<path d="M401.9 145.3C403.25 144.92 407.4 143.78 410 143C412.6 142.22 416.25 141 417.5 140.6" stroke="#30b8a0" stroke-width="1.61" fill="none" stroke-linecap="round" opacity="0.24" filter="url(#glow)"/>
<path d="M401.9 145.3C403.25 144.92 407.4 143.78 410 143C412.6 142.22 416.25 141 417.5 140.6" stroke="#30b8a0" stroke-width="0.85" fill="none" stroke-linecap="round" opacity="0.68"/>
<path d="M417.5 88C416.9 88.4 414.98 89.23 413.9 90.4C412.82 91.57 411.48 94.23 411 95" stroke="#3cc83c" stroke-width="1.61" fill="none" stroke-linecap="round" opacity="0.24" filter="url(#glow)"/>
<path d="M417.5 88C416.9 88.4 414.98 89.23 413.9 90.4C412.82 91.57 411.48 94.23 411 95" stroke="#3cc83c" stroke-width="0.85" fill="none" stroke-linecap="round" opacity="0.68"/>
<circle cx="405.9" cy="88.8" r="1.2" fill="#40c040" opacity="0.8" filter="url(#glow)"/>
<circle cx="394" cy="97.5" r="1.1" fill="#40c040" opacity="0.8" filter="url(#glow)"/>
<circle cx="404.3" cy="135" r="1.3" fill="#40c040" opacity="0.8" filter="url(#glow)"/>
<circle cx="394.7" cy="139" r="1.1" fill="#40c040" opacity="0.8" filter="url(#glow)"/>
<circle cx="399" cy="128" r="0.9" fill="#40c040" opacity="0.8" filter="url(#glow)"/>
<circle cx="392" cy="126" r="0.9" fill="#40c040" opacity="0.8" filter="url(#glow)"/>
<ellipse cx="411.5" cy="123" rx="3" ry="5" fill="#203890" opacity="0.45" filter="url(#blur2)"/>
<ellipse cx="415.5" cy="86.4" rx="2.5" ry="2.5" fill="#2050c0" opacity="0.5" filter="url(#blur2)"/>
<path d="M415.5 82.4C414.3 84.38 410.57 90.32 408.3 94.3C406.03 98.28 403.63 102.57 401.9 106.3C400.17 110.03 399.48 113.12 397.9 116.7C396.32 120.28 394.12 123.82 392.4 127.8C390.68 131.78 388.67 137.65 387.6 140.6C386.53 143.55 386.27 144.68 386 145.5" stroke="#52dc3c" stroke-width="1.8" fill="none" stroke-linecap="round" opacity="0.35" filter="url(#glow)"/>
<path d="M415.5 82.4C414.3 84.38 410.57 90.32 408.3 94.3C406.03 98.28 403.63 102.57 401.9 106.3C400.17 110.03 399.48 113.12 397.9 116.7C396.32 120.28 394.12 123.82 392.4 127.8C390.68 131.78 388.67 137.65 387.6 140.6C386.53 143.55 386.27 144.68 386 145.5" stroke="#52dc3c" stroke-width="0.95" fill="none" stroke-linecap="round" opacity="1"/>
<ellipse cx="390.8" cy="119.8" rx="2.3" ry="2.3" fill="#2090ff" opacity="1" filter="url(#blur2)"/>
</g></g>
<clipPath id="cp11"><rect x="419.2" y="81.4" width="32.3" height="63.8"/></clipPath>
<g clip-path="url(#cp11)"><g filter="url(#soft)">
<circle cx="431.38" cy="140.53" r="0.69" fill="#d88418" opacity="0.91"/>
<circle cx="429.04" cy="111.61" r="0.69" fill="#f0a830" opacity="0.42"/>
<circle cx="437.44" cy="87.53" r="0.69" fill="#d88418" opacity="0.68"/>
<circle cx="444.86" cy="121.27" r="0.68" fill="#d88418" opacity="0.7"/>
<circle cx="435.79" cy="114.87" r="0.7" fill="#e89a28" opacity="0.73"/>
<circle cx="430.71" cy="103.94" r="0.62" fill="#c87010" opacity="0.44"/>
<circle cx="432.23" cy="85.82" r="0.6" fill="#e89a28" opacity="0.7"/>
<circle cx="421.7" cy="118.53" r="0.66" fill="#c87010" opacity="0.64"/>
<circle cx="435.16" cy="113.6" r="0.54" fill="#e89a28" opacity="0.85"/>
<circle cx="435.18" cy="92.2" r="0.74" fill="#c87010" opacity="0.75"/>
<circle cx="433.97" cy="111.9" r="0.44" fill="#f0a830" opacity="0.92"/>
<circle cx="446.31" cy="89.36" r="0.44" fill="#d88418" opacity="0.89"/>
<circle cx="443.6" cy="95.4" r="0.41" fill="#f0a830" opacity="0.52"/>
<circle cx="439.59" cy="138.59" r="0.67" fill="#c87010" opacity="0.6"/>
<circle cx="430.92" cy="113.06" r="0.54" fill="#c87010" opacity="0.65"/>
<circle cx="430.66" cy="144.32" r="0.39" fill="#f0a830" opacity="0.63"/>
<circle cx="445.21" cy="126.58" r="0.58" fill="#d88418" opacity="0.71"/>
<circle cx="424.89" cy="121.26" r="0.56" fill="#f0a830" opacity="0.73"/>
<circle cx="420.24" cy="114.54" r="0.42" fill="#e89a28" opacity="0.55"/>
<circle cx="449.56" cy="120.48" r="0.38" fill="#c87010" opacity="0.77"/>
<circle cx="438.53" cy="123.04" r="0.57" fill="#d88418" opacity="0.55"/>
<circle cx="422.22" cy="119.28" r="0.63" fill="#d88418" opacity="0.93"/>
<circle cx="442" cy="122.06" r="0.68" fill="#e89a28" opacity="0.44"/>
<circle cx="448.67" cy="102.23" r="0.42" fill="#d88418" opacity="0.55"/>
<circle cx="442.39" cy="125.48" r="0.47" fill="#c87010" opacity="0.73"/>
<circle cx="444.84" cy="104.7" r="0.45" fill="#e89a28" opacity="0.87"/>
<circle cx="428.13" cy="109.26" r="0.56" fill="#e89a28" opacity="0.9"/>
<circle cx="421.42" cy="119.83" r="0.41" fill="#c87010" opacity="0.92"/>
<circle cx="426.83" cy="110.11" r="0.68" fill="#e89a28" opacity="0.56"/>
<circle cx="429.34" cy="139.66" r="0.66" fill="#f0a830" opacity="0.63"/>
<circle cx="426.86" cy="122.96" r="0.73" fill="#c87010" opacity="0.69"/>
<circle cx="423.4" cy="137.43" r="0.62" fill="#f0a830" opacity="0.56"/>
<circle cx="436.71" cy="136.15" r="0.67" fill="#e89a28" opacity="0.87"/>
<circle cx="450.99" cy="88.21" r="0.7" fill="#e89a28" opacity="0.46"/>
<circle cx="441.06" cy="141.75" r="0.55" fill="#e89a28" opacity="0.84"/>
<circle cx="425.67" cy="85.62" r="0.73" fill="#c87010" opacity="0.83"/>
<circle cx="448.02" cy="128.95" r="0.64" fill="#d88418" opacity="0.61"/>
<circle cx="431.04" cy="88.78" r="0.74" fill="#f0a830" opacity="0.8"/>
<circle cx="435.46" cy="133.51" r="0.43" fill="#e89a28" opacity="0.68"/>
<circle cx="422.38" cy="109.98" r="0.6" fill="#d88418" opacity="0.61"/>
<circle cx="444.74" cy="142.71" r="0.55" fill="#f0a830" opacity="0.66"/>
<circle cx="433.01" cy="144.75" r="0.38" fill="#c87010" opacity="0.62"/>
<circle cx="429.28" cy="103.45" r="0.75" fill="#d88418" opacity="0.63"/>
<circle cx="420.46" cy="112.45" r="0.63" fill="#d88418" opacity="0.59"/>
<circle cx="432.96" cy="134.07" r="0.7" fill="#c87010" opacity="0.6"/>
<circle cx="447.13" cy="94.51" r="0.6" fill="#e89a28" opacity="0.68"/>
<circle cx="441.37" cy="88.75" r="0.51" fill="#d88418" opacity="0.89"/>
<circle cx="444.73" cy="141.71" r="0.52" fill="#c87010" opacity="0.54"/>
<circle cx="429.34" cy="83.4" r="0.7" fill="#c87010" opacity="0.66"/>
<circle cx="420.49" cy="130.89" r="0.5" fill="#e89a28" opacity="0.63"/>
<circle cx="421.38" cy="95.29" r="0.37" fill="#e89a28" opacity="0.46"/>
<circle cx="434.86" cy="119.25" r="0.39" fill="#f0a830" opacity="0.94"/>
<circle cx="436.2" cy="112.41" r="0.52" fill="#d88418" opacity="0.81"/>
<circle cx="437.77" cy="91.41" r="0.6" fill="#e89a28" opacity="0.55"/>
<circle cx="431.32" cy="108.41" r="0.74" fill="#f0a830" opacity="0.8"/>
<circle cx="442.23" cy="138.99" r="0.4" fill="#f0a830" opacity="0.95"/>
<circle cx="419.73" cy="98.09" r="0.7" fill="#c87010" opacity="0.69"/>
<circle cx="430.35" cy="134.81" r="0.74" fill="#e89a28" opacity="0.68"/>
<circle cx="437.82" cy="144.43" r="0.39" fill="#d88418" opacity="0.95"/>
<circle cx="446.28" cy="115.49" r="0.66" fill="#e89a28" opacity="0.47"/>
<circle cx="439.83" cy="109.77" r="0.56" fill="#c87010" opacity="0.55"/>
<circle cx="440.71" cy="101.14" r="0.68" fill="#d88418" opacity="1"/>
<circle cx="436.22" cy="138.57" r="0.7" fill="#d88418" opacity="0.75"/>
<circle cx="435.82" cy="122.57" r="0.53" fill="#d88418" opacity="0.86"/>
<circle cx="437.55" cy="122.91" r="0.74" fill="#d88418" opacity="0.81"/>
<circle cx="440.1" cy="117.63" r="0.61" fill="#e89a28" opacity="0.72"/>
<circle cx="435" cy="120.94" r="0.65" fill="#e89a28" opacity="0.8"/>
<circle cx="445.8" cy="96.64" r="0.84" fill="#e89a28" opacity="0.61"/>
<circle cx="442.27" cy="119.11" r="0.84" fill="#f0a830" opacity="0.92"/>
<circle cx="444.92" cy="94.76" r="0.66" fill="#f0a830" opacity="0.9"/>
<circle cx="443.88" cy="98.71" r="0.51" fill="#d88418" opacity="0.8"/>
<circle cx="443.12" cy="102.65" r="0.87" fill="#f0a830" opacity="0.75"/>
<circle cx="433.68" cy="145.58" r="0.56" fill="#f0a830" opacity="0.78"/>
<circle cx="444.31" cy="93.81" r="0.71" fill="#f0a830" opacity="0.79"/>
<circle cx="443.4" cy="96.4" r="0.7" fill="#d88418" opacity="0.84"/>
<circle cx="445.08" cy="89.22" r="0.8" fill="#f0a830" opacity="0.54"/>
<circle cx="447.61" cy="86.82" r="0.56" fill="#d88418" opacity="0.92"/>
<circle cx="445.89" cy="86.98" r="0.85" fill="#d88418" opacity="0.82"/>
<circle cx="433.24" cy="144.71" r="0.76" fill="#e89a28" opacity="0.67"/>
<circle cx="446.4" cy="92.11" r="0.55" fill="#f0a830" opacity="0.88"/>
<circle cx="440.82" cy="118.97" r="0.6" fill="#f0a830" opacity="0.51"/>
<circle cx="436.97" cy="117.38" r="0.8" fill="#f0a830" opacity="0.73"/>
<circle cx="448.54" cy="93.15" r="0.48" fill="#f0a830" opacity="0.7"/>
<circle cx="433.2" cy="141.9" r="0.85" fill="#c87010" opacity="0.96"/>
<circle cx="437" cy="118.57" r="0.66" fill="#d88418" opacity="0.52"/>
<circle cx="447.01" cy="97.28" r="0.5" fill="#e89a28" opacity="0.84"/>
<circle cx="439.05" cy="135.65" r="0.5" fill="#f0a830" opacity="0.73"/>
<circle cx="440.34" cy="133.99" r="0.79" fill="#f0a830" opacity="0.83"/>
<circle cx="437.38" cy="132.66" r="0.8" fill="#e89a28" opacity="0.56"/>
<circle cx="448.54" cy="128.07" r="0.73" fill="#e89a28" opacity="0.54"/>
<circle cx="422.82" cy="124.72" r="0.41" fill="#f0a830" opacity="0.72"/>
<circle cx="436.58" cy="133.22" r="0.74" fill="#d88418" opacity="0.97"/>
<circle cx="429.13" cy="132.49" r="0.66" fill="#f0a830" opacity="0.57"/>
<circle cx="424.74" cy="124.86" r="0.41" fill="#c87010" opacity="0.82"/>
<circle cx="450.31" cy="131.22" r="0.52" fill="#c87010" opacity="0.53"/>
<circle cx="449.45" cy="130.63" r="0.55" fill="#c87010" opacity="0.8"/>
<circle cx="444.68" cy="133.16" r="0.72" fill="#e89a28" opacity="0.7"/>
<circle cx="444.03" cy="132" r="0.8" fill="#c87010" opacity="0.57"/>
</g></g>
<clipPath id="cp12"><rect x="453.3" y="81.4" width="31.5" height="63.8"/></clipPath>
<g clip-path="url(#cp12)"><g filter="url(#soft)">
<rect x="453.3" y="81.4" width="31.5" height="63.8" fill="#1c0305" />
<circle cx="476.84" cy="94.34" r="0.31" fill="#c02030" opacity="0.37"/>
<circle cx="483.26" cy="111.85" r="0.47" fill="#a01820" opacity="0.65"/>
<circle cx="483.34" cy="144.36" r="0.37" fill="#a01820" opacity="0.73"/>
<circle cx="483.91" cy="83.24" r="0.53" fill="#a01820" opacity="0.38"/>
<circle cx="460.12" cy="112.23" r="0.48" fill="#901418" opacity="0.5"/>
<circle cx="479.37" cy="83.36" r="0.54" fill="#d03040" opacity="0.76"/>
<circle cx="470.21" cy="113.91" r="0.44" fill="#901418" opacity="0.63"/>
<circle cx="470.98" cy="133.46" r="0.51" fill="#901418" opacity="0.54"/>
<circle cx="475.13" cy="84.99" r="0.54" fill="#a01820" opacity="0.82"/>
<circle cx="465.41" cy="108.71" r="0.41" fill="#c02030" opacity="0.35"/>
<circle cx="457.26" cy="116.4" r="0.48" fill="#c02030" opacity="0.52"/>
<circle cx="464.95" cy="131.24" r="0.55" fill="#c02030" opacity="0.77"/>
<circle cx="463.59" cy="107.38" r="0.26" fill="#901418" opacity="0.69"/>
<circle cx="471.62" cy="83.99" r="0.28" fill="#a01820" opacity="0.74"/>
<circle cx="483.58" cy="124.7" r="0.33" fill="#901418" opacity="0.49"/>
<circle cx="468.09" cy="106.29" r="0.26" fill="#c02030" opacity="0.38"/>
<circle cx="453.56" cy="88.52" r="0.54" fill="#901418" opacity="0.32"/>
<circle cx="459.07" cy="120.38" r="0.46" fill="#901418" opacity="0.33"/>
<circle cx="483.93" cy="91.86" r="0.34" fill="#c02030" opacity="0.34"/>
<circle cx="480.65" cy="137.54" r="0.5" fill="#901418" opacity="0.6"/>
<circle cx="478.68" cy="99.05" r="0.5" fill="#d03040" opacity="0.66"/>
<circle cx="470.53" cy="106.61" r="0.28" fill="#a01820" opacity="0.54"/>
<circle cx="462.94" cy="90.68" r="0.43" fill="#901418" opacity="0.52"/>
<circle cx="478.72" cy="126.05" r="0.4" fill="#c02030" opacity="0.7"/>
<circle cx="482.54" cy="84.22" r="0.29" fill="#a01820" opacity="0.48"/>
<circle cx="459.61" cy="102.06" r="0.39" fill="#901418" opacity="0.43"/>
<circle cx="469.84" cy="143.61" r="0.28" fill="#c02030" opacity="0.42"/>
<circle cx="477.16" cy="90.51" r="0.47" fill="#c02030" opacity="0.83"/>
<circle cx="483.93" cy="127.82" r="0.3" fill="#a01820" opacity="0.82"/>
<circle cx="484.33" cy="84.79" r="0.4" fill="#c02030" opacity="0.53"/>
<circle cx="476.5" cy="103.24" r="0.32" fill="#c02030" opacity="0.47"/>
<circle cx="466.44" cy="124.4" r="0.38" fill="#901418" opacity="0.48"/>
<circle cx="461.36" cy="131.1" r="0.33" fill="#d03040" opacity="0.83"/>
<circle cx="471.58" cy="111.57" r="0.26" fill="#d03040" opacity="0.52"/>
<circle cx="481.15" cy="131.21" r="0.55" fill="#d03040" opacity="0.4"/>
<circle cx="462.64" cy="143.61" r="0.42" fill="#901418" opacity="0.68"/>
<circle cx="454.19" cy="126.64" r="0.48" fill="#901418" opacity="0.46"/>
<circle cx="479.49" cy="130.01" r="0.4" fill="#c02030" opacity="0.78"/>
<circle cx="476.73" cy="125.12" r="0.43" fill="#c02030" opacity="0.37"/>
<circle cx="474.81" cy="142.28" r="0.28" fill="#d03040" opacity="0.37"/>
<circle cx="465.77" cy="141.77" r="0.44" fill="#a01820" opacity="0.73"/>
<circle cx="461.23" cy="119.52" r="0.48" fill="#901418" opacity="0.66"/>
<circle cx="464.92" cy="111.2" r="0.33" fill="#c02030" opacity="0.47"/>
<circle cx="470.67" cy="140.26" r="0.45" fill="#d03040" opacity="0.85"/>
<circle cx="479.37" cy="143.49" r="0.43" fill="#901418" opacity="0.36"/>
<circle cx="468.5" cy="95.63" r="0.5" fill="#901418" opacity="0.56"/>
<circle cx="458.42" cy="99.04" r="0.43" fill="#a01820" opacity="0.72"/>
<circle cx="456.64" cy="131.01" r="0.44" fill="#901418" opacity="0.78"/>
<circle cx="458.89" cy="103.89" r="0.37" fill="#901418" opacity="0.58"/>
<circle cx="461.98" cy="125.02" r="0.54" fill="#a01820" opacity="0.6"/>
<circle cx="462.69" cy="122.37" r="0.27" fill="#c02030" opacity="0.82"/>
<circle cx="457.9" cy="122.62" r="0.53" fill="#d03040" opacity="0.65"/>
<circle cx="468.94" cy="104.35" r="0.36" fill="#c02030" opacity="0.67"/>
<circle cx="484.3" cy="130" r="0.46" fill="#c02030" opacity="0.5"/>
<circle cx="476.55" cy="103.62" r="0.36" fill="#a01820" opacity="0.58"/>
<circle cx="482.41" cy="118.81" r="0.36" fill="#c02030" opacity="0.71"/>
<circle cx="476.51" cy="82.34" r="0.41" fill="#901418" opacity="0.57"/>
<circle cx="477.97" cy="118.59" r="0.28" fill="#901418" opacity="0.52"/>
<circle cx="454.98" cy="101.11" r="0.43" fill="#901418" opacity="0.62"/>
<circle cx="471.86" cy="85.01" r="0.33" fill="#a01820" opacity="0.38"/>
<circle cx="458.06" cy="141.07" r="0.26" fill="#d03040" opacity="0.6"/>
<circle cx="472.87" cy="91.7" r="0.36" fill="#d03040" opacity="0.65"/>
<circle cx="468.56" cy="99.83" r="0.38" fill="#901418" opacity="0.72"/>
<circle cx="483.65" cy="99.66" r="0.44" fill="#d03040" opacity="0.81"/>
<circle cx="462.13" cy="111.49" r="0.36" fill="#d03040" opacity="0.67"/>
<circle cx="471.89" cy="139.75" r="0.37" fill="#d03040" opacity="0.74"/>
<circle cx="459.07" cy="123.37" r="0.43" fill="#901418" opacity="0.67"/>
<circle cx="455.36" cy="120.24" r="0.52" fill="#a01820" opacity="0.57"/>
<circle cx="478.97" cy="142.71" r="0.46" fill="#d03040" opacity="0.75"/>
<circle cx="460.75" cy="100.83" r="0.47" fill="#c02030" opacity="0.51"/>
<circle cx="483.43" cy="133.68" r="0.27" fill="#d03040" opacity="0.49"/>
<circle cx="464.81" cy="107.44" r="0.34" fill="#c02030" opacity="0.34"/>
<circle cx="463.63" cy="103.94" r="0.49" fill="#901418" opacity="0.58"/>
<circle cx="461.67" cy="115.97" r="0.33" fill="#d03040" opacity="0.72"/>
<circle cx="468.05" cy="100.84" r="0.34" fill="#901418" opacity="0.79"/>
<circle cx="462.8" cy="123.09" r="0.34" fill="#d03040" opacity="0.82"/>
<circle cx="472.03" cy="121.07" r="0.28" fill="#c02030" opacity="0.74"/>
<circle cx="480.95" cy="87.25" r="0.26" fill="#901418" opacity="0.43"/>
<circle cx="475.64" cy="118" r="0.27" fill="#901418" opacity="0.42"/>
<circle cx="471.66" cy="116.11" r="0.32" fill="#d03040" opacity="0.56"/>
<circle cx="478.12" cy="99.71" r="0.42" fill="#a01820" opacity="0.79"/>
<circle cx="454.02" cy="87.88" r="0.34" fill="#a01820" opacity="0.62"/>
<circle cx="458.14" cy="123.77" r="0.49" fill="#d03040" opacity="0.31"/>
<circle cx="459.98" cy="92.68" r="0.27" fill="#d03040" opacity="0.67"/>
<circle cx="467.08" cy="143.85" r="0.53" fill="#a01820" opacity="0.59"/>
<circle cx="470.92" cy="93.11" r="0.45" fill="#c02030" opacity="0.67"/>
<circle cx="456.81" cy="117.3" r="0.54" fill="#901418" opacity="0.49"/>
<circle cx="461.49" cy="131.67" r="0.34" fill="#901418" opacity="0.62"/>
<circle cx="457.91" cy="120.31" r="0.41" fill="#c02030" opacity="0.49"/>
<circle cx="463.41" cy="109.01" r="0.34" fill="#a01820" opacity="0.72"/>
<circle cx="473.54" cy="98.18" r="0.48" fill="#d03040" opacity="0.43"/>
<circle cx="453.61" cy="89.58" r="0.43" fill="#c02030" opacity="0.5"/>
<circle cx="466.91" cy="122.51" r="0.29" fill="#a01820" opacity="0.68"/>
<circle cx="471.99" cy="128.55" r="0.34" fill="#c02030" opacity="0.67"/>
<circle cx="482.85" cy="103.04" r="0.4" fill="#901418" opacity="0.81"/>
<circle cx="463.74" cy="94.26" r="0.3" fill="#d03040" opacity="0.8"/>
<circle cx="478.34" cy="111.79" r="0.4" fill="#d03040" opacity="0.34"/>
<circle cx="479.91" cy="98.92" r="0.52" fill="#c02030" opacity="0.33"/>
<circle cx="465.31" cy="113.46" r="0.51" fill="#a01820" opacity="0.6"/>
<circle cx="478.13" cy="84.21" r="0.35" fill="#901418" opacity="0.46"/>
<circle cx="463.41" cy="131.78" r="0.43" fill="#d03040" opacity="0.41"/>
<circle cx="464.16" cy="82.7" r="0.43" fill="#901418" opacity="0.45"/>
<circle cx="468.77" cy="134.74" r="0.34" fill="#901418" opacity="0.42"/>
<circle cx="464.11" cy="128.88" r="0.32" fill="#c02030" opacity="0.59"/>
<circle cx="453.44" cy="123.62" r="0.45" fill="#901418" opacity="0.79"/>
<circle cx="464.96" cy="111.87" r="0.44" fill="#a01820" opacity="0.45"/>
<circle cx="461.67" cy="125.07" r="0.5" fill="#a01820" opacity="0.31"/>
<circle cx="476.56" cy="84.57" r="0.54" fill="#901418" opacity="0.61"/>
<circle cx="470.94" cy="123.17" r="0.27" fill="#901418" opacity="0.79"/>
<circle cx="468.31" cy="103.28" r="0.39" fill="#d03040" opacity="0.83"/>
<circle cx="467.21" cy="90.31" r="0.55" fill="#901418" opacity="0.6"/>
<circle cx="474.74" cy="118.43" r="0.47" fill="#a01820" opacity="0.56"/>
<circle cx="455.19" cy="131.48" r="0.32" fill="#c02030" opacity="0.37"/>
<circle cx="460.6" cy="112.58" r="0.41" fill="#d03040" opacity="0.74"/>
<circle cx="480.96" cy="135.27" r="0.51" fill="#901418" opacity="0.43"/>
<circle cx="475.56" cy="116.13" r="0.41" fill="#a01820" opacity="0.5"/>
<circle cx="458.23" cy="116.11" r="0.27" fill="#901418" opacity="0.4"/>
<circle cx="465.8" cy="143.19" r="0.29" fill="#a01820" opacity="0.67"/>
<circle cx="463.58" cy="144.32" r="0.44" fill="#d03040" opacity="0.32"/>
<circle cx="456.88" cy="128.37" r="0.42" fill="#a01820" opacity="0.4"/>
<circle cx="454.76" cy="109.21" r="0.55" fill="#a01820" opacity="0.58"/>
<circle cx="457.64" cy="96.62" r="0.27" fill="#901418" opacity="0.74"/>
<circle cx="479.47" cy="107.1" r="0.49" fill="#c02030" opacity="0.35"/>
<circle cx="465.27" cy="120.17" r="0.34" fill="#c02030" opacity="0.57"/>
<circle cx="483.81" cy="91.65" r="0.55" fill="#d03040" opacity="0.44"/>
<circle cx="478.25" cy="85.73" r="0.38" fill="#d03040" opacity="0.81"/>
<circle cx="478.36" cy="138.29" r="0.38" fill="#d03040" opacity="0.55"/>
<circle cx="483.68" cy="101.86" r="0.49" fill="#901418" opacity="0.6"/>
<circle cx="482.47" cy="142.87" r="0.31" fill="#901418" opacity="0.47"/>
<circle cx="476.81" cy="101.44" r="0.4" fill="#901418" opacity="0.41"/>
<circle cx="464.55" cy="133.57" r="0.47" fill="#c02030" opacity="0.55"/>
<circle cx="472.81" cy="117.92" r="0.37" fill="#901418" opacity="0.79"/>
<circle cx="467.09" cy="121.8" r="0.34" fill="#d03040" opacity="0.48"/>
<circle cx="465.4" cy="106.96" r="0.4" fill="#a01820" opacity="0.41"/>
<circle cx="480.09" cy="122.21" r="0.46" fill="#a01820" opacity="0.52"/>
<circle cx="454.67" cy="141.82" r="0.44" fill="#a01820" opacity="0.78"/>
<circle cx="462.24" cy="108.57" r="0.26" fill="#d03040" opacity="0.48"/>
<circle cx="481.85" cy="110.84" r="0.44" fill="#a01820" opacity="0.32"/>
<circle cx="472.11" cy="106.16" r="0.27" fill="#901418" opacity="0.35"/>
<circle cx="479.7" cy="89.07" r="0.52" fill="#901418" opacity="0.7"/>
<circle cx="480.15" cy="108.16" r="0.28" fill="#a01820" opacity="0.55"/>
<circle cx="474.08" cy="104.35" r="0.36" fill="#a01820" opacity="0.71"/>
<circle cx="465.03" cy="126.05" r="0.38" fill="#d03040" opacity="0.33"/>
<circle cx="472.34" cy="139.04" r="0.45" fill="#a01820" opacity="0.66"/>
<circle cx="479.01" cy="132.83" r="0.53" fill="#a01820" opacity="0.62"/>
<circle cx="461.64" cy="132.52" r="0.32" fill="#c02030" opacity="0.64"/>
<circle cx="477.64" cy="130.02" r="0.28" fill="#c02030" opacity="0.64"/>
<circle cx="470.39" cy="107.29" r="0.5" fill="#a01820" opacity="0.34"/>
<circle cx="459.93" cy="129.38" r="0.26" fill="#c02030" opacity="0.46"/>
<circle cx="475.98" cy="107.16" r="0.27" fill="#a01820" opacity="0.31"/>
<circle cx="460.96" cy="99.09" r="0.47" fill="#a01820" opacity="0.73"/>
<circle cx="474.06" cy="81.88" r="0.35" fill="#d03040" opacity="0.79"/>
<circle cx="458.38" cy="90.06" r="0.34" fill="#d03040" opacity="0.71"/>
<circle cx="482.98" cy="121.57" r="0.34" fill="#c02030" opacity="0.81"/>
<circle cx="457.47" cy="101.1" r="0.48" fill="#901418" opacity="0.77"/>
<circle cx="475.11" cy="98.14" r="0.37" fill="#901418" opacity="0.59"/>
<circle cx="478.59" cy="89.41" r="0.47" fill="#a01820" opacity="0.38"/>
<circle cx="468.8" cy="133.04" r="0.26" fill="#901418" opacity="0.37"/>
<circle cx="470.26" cy="117.24" r="0.54" fill="#a01820" opacity="0.78"/>
<circle cx="458.8" cy="116.9" r="0.39" fill="#a01820" opacity="0.7"/>
<circle cx="453.96" cy="94.93" r="0.37" fill="#c02030" opacity="0.32"/>
<circle cx="457.81" cy="118.8" r="0.44" fill="#d03040" opacity="0.61"/>
<circle cx="455.53" cy="105.72" r="0.4" fill="#901418" opacity="0.37"/>
<circle cx="463.99" cy="140.73" r="0.33" fill="#901418" opacity="0.8"/>
<circle cx="458.67" cy="107.43" r="0.4" fill="#901418" opacity="0.58"/>
<circle cx="475.44" cy="138.52" r="0.37" fill="#901418" opacity="0.5"/>
<circle cx="483.86" cy="113.35" r="0.53" fill="#a01820" opacity="0.65"/>
<circle cx="482.13" cy="122.29" r="0.45" fill="#a01820" opacity="0.59"/>
<circle cx="457.75" cy="128.97" r="0.49" fill="#c02030" opacity="0.77"/>
<circle cx="471.32" cy="96.85" r="0.54" fill="#c02030" opacity="0.6"/>
<circle cx="473.72" cy="105.56" r="0.67" fill="#e04050" opacity="0.9"/>
<circle cx="473.82" cy="99.51" r="0.72" fill="#e04050" opacity="0.56"/>
<circle cx="482.61" cy="86.93" r="0.41" fill="#d03040" opacity="0.85"/>
<circle cx="474.69" cy="95.16" r="0.63" fill="#e04050" opacity="0.94"/>
<circle cx="478.87" cy="89.62" r="0.85" fill="#e04050" opacity="0.81"/>
<circle cx="477.22" cy="97.47" r="0.8" fill="#d03040" opacity="0.78"/>
<circle cx="472.4" cy="102.66" r="0.75" fill="#d03040" opacity="0.74"/>
<circle cx="475.02" cy="96.27" r="0.77" fill="#d03040" opacity="0.79"/>
<circle cx="475.46" cy="103.89" r="0.51" fill="#e04050" opacity="0.68"/>
<circle cx="482.51" cy="86.13" r="0.69" fill="#e04050" opacity="0.69"/>
<circle cx="472.21" cy="100.55" r="0.65" fill="#d03040" opacity="0.71"/>
<circle cx="478.51" cy="89.73" r="0.49" fill="#e04050" opacity="0.92"/>
<circle cx="480.71" cy="87.96" r="0.53" fill="#e04050" opacity="0.9"/>
<circle cx="475.36" cy="102.18" r="0.55" fill="#e04050" opacity="0.97"/>
</g></g>
<line x1="209.4" y1="24.61" x2="209.4" y2="96.3" stroke="#000" stroke-width="0.8" />
<line x1="207.4" y1="96.3" x2="209.4" y2="96.3" stroke="#000" stroke-width="0.8" />
<text x="206.4" y="96.3" dy="0.35em" font-size="6.8" stroke="#000" stroke-width="0.08" text-anchor="end">0</text>
<line x1="207.4" y1="88.33" x2="209.4" y2="88.33" stroke="#000" stroke-width="0.8" />
<text x="206.4" y="88.33" dy="0.35em" font-size="6.8" stroke="#000" stroke-width="0.08" text-anchor="end">2</text>
<line x1="207.4" y1="80.37" x2="209.4" y2="80.37" stroke="#000" stroke-width="0.8" />
<text x="206.4" y="80.37" dy="0.35em" font-size="6.8" stroke="#000" stroke-width="0.08" text-anchor="end">4</text>
<line x1="207.4" y1="72.4" x2="209.4" y2="72.4" stroke="#000" stroke-width="0.8" />
<text x="206.4" y="72.4" dy="0.35em" font-size="6.8" stroke="#000" stroke-width="0.08" text-anchor="end">6</text>
<line x1="207.4" y1="64.44" x2="209.4" y2="64.44" stroke="#000" stroke-width="0.8" />
<text x="206.4" y="64.44" dy="0.35em" font-size="6.8" stroke="#000" stroke-width="0.08" text-anchor="end">8</text>
<line x1="207.4" y1="56.47" x2="209.4" y2="56.47" stroke="#000" stroke-width="0.8" />
<text x="206.4" y="56.47" dy="0.35em" font-size="6.8" stroke="#000" stroke-width="0.08" text-anchor="end">10</text>
<line x1="207.4" y1="48.5" x2="209.4" y2="48.5" stroke="#000" stroke-width="0.8" />
<text x="206.4" y="48.5" dy="0.35em" font-size="6.8" stroke="#000" stroke-width="0.08" text-anchor="end">12</text>
<line x1="207.4" y1="40.54" x2="209.4" y2="40.54" stroke="#000" stroke-width="0.8" />
<text x="206.4" y="40.54" dy="0.35em" font-size="6.8" stroke="#000" stroke-width="0.08" text-anchor="end">14</text>
<line x1="207.4" y1="32.57" x2="209.4" y2="32.57" stroke="#000" stroke-width="0.8" />
<text x="206.4" y="32.57" dy="0.35em" font-size="6.8" stroke="#000" stroke-width="0.08" text-anchor="end">16</text>
<line x1="207.4" y1="24.61" x2="209.4" y2="24.61" stroke="#000" stroke-width="0.8" />
<text x="206.4" y="24.61" dy="0.35em" font-size="6.8" stroke="#000" stroke-width="0.08" text-anchor="end">18</text>
<text transform="translate(184.9,122) rotate(-90)" dy="0.35em" font-size="6.9">Excitatory synapse density per 100um<tspan font-size="4.6" dy="-2.6">2</tspan></text>
<text transform="translate(194.1,99.2) rotate(-90)" dy="0.35em" font-size="7" stroke="#000" stroke-width="0.08">(PSD-95+ SYN+ MAP2+)</text>
<rect x="214.1" y="88.81" width="10" height="7.49" fill="#000" stroke="#000" stroke-width="0.8" />
<rect x="224.6" y="87.22" width="9.1" height="9.08" fill="#ff2a0c" stroke="#000" stroke-width="0.8" />
<rect x="236.9" y="75.19" width="10" height="21.11" fill="#000" stroke="#000" stroke-width="0.8" />
<rect x="247.4" y="65.39" width="9.1" height="30.91" fill="#ff2a0c" stroke="#000" stroke-width="0.8" />
<rect x="259.7" y="49.82" width="9.7" height="46.48" fill="#000" stroke="#000" stroke-width="0.8" />
<rect x="270.2" y="44.2" width="9.3" height="52.1" fill="#ff2a0c" stroke="#000" stroke-width="0.8" />
<rect x="282.2" y="51.69" width="9.8" height="44.61" fill="#000" stroke="#000" stroke-width="0.8" />
<rect x="292.8" y="45.8" width="10" height="50.5" fill="#ff2a0c" stroke="#000" stroke-width="0.8" />
<line x1="209.4" y1="96.3" x2="303.6" y2="96.3" stroke="#000" stroke-width="0.8" />
<line x1="219.1" y1="96.3" x2="219.1" y2="98.3" stroke="#000" stroke-width="0.7" />
<text transform="translate(217.7,102.5) rotate(-45)" dy="0.3em" font-size="7.5" stroke="#000" stroke-width="0.08" text-anchor="end">Neurotypical</text>
<line x1="229.15" y1="96.3" x2="229.15" y2="98.3" stroke="#000" stroke-width="0.7" />
<text transform="translate(227.75,102.5) rotate(-45)" dy="0.3em" font-size="7.5" stroke="#000" stroke-width="0.08" text-anchor="end">MPSIIIA</text>
<line x1="241.9" y1="96.3" x2="241.9" y2="98.3" stroke="#000" stroke-width="0.7" />
<text transform="translate(240.5,102.5) rotate(-45)" dy="0.3em" font-size="7.5" stroke="#000" stroke-width="0.08" text-anchor="end">Neurotypical</text>
<line x1="251.95" y1="96.3" x2="251.95" y2="98.3" stroke="#000" stroke-width="0.7" />
<text transform="translate(250.55,102.5) rotate(-45)" dy="0.3em" font-size="7.5" stroke="#000" stroke-width="0.08" text-anchor="end">MPSIIIA</text>
<line x1="264.55" y1="96.3" x2="264.55" y2="98.3" stroke="#000" stroke-width="0.7" />
<text transform="translate(263.15,102.5) rotate(-45)" dy="0.3em" font-size="7.5" stroke="#000" stroke-width="0.08" text-anchor="end">Neurotypical</text>
<line x1="274.85" y1="96.3" x2="274.85" y2="98.3" stroke="#000" stroke-width="0.7" />
<text transform="translate(273.45,102.5) rotate(-45)" dy="0.3em" font-size="7.5" stroke="#000" stroke-width="0.08" text-anchor="end">MPSIIIA</text>
<line x1="287.1" y1="96.3" x2="287.1" y2="98.3" stroke="#000" stroke-width="0.7" />
<text transform="translate(285.7,102.5) rotate(-45)" dy="0.3em" font-size="7.5" stroke="#000" stroke-width="0.08" text-anchor="end">Neurotypical</text>
<line x1="297.8" y1="96.3" x2="297.8" y2="98.3" stroke="#000" stroke-width="0.7" />
<text transform="translate(296.4,102.5) rotate(-45)" dy="0.3em" font-size="7.5" stroke="#000" stroke-width="0.08" text-anchor="end">MPSIIIA</text>
<circle cx="218.11" cy="88.55" r="1" fill="#fff" stroke="#666" stroke-width="0.5" />
<circle cx="219.89" cy="85.33" r="1" fill="#fff" stroke="#666" stroke-width="0.5" />
<circle cx="215.4" cy="89.53" r="0.9" fill="none" stroke="#fff" stroke-width="0.5" />
<circle cx="221.66" cy="89.54" r="0.9" fill="none" stroke="#fff" stroke-width="0.5" />
<circle cx="222.87" cy="88.93" r="0.9" fill="none" stroke="#fff" stroke-width="0.5" />
<circle cx="218.87" cy="86.78" r="1" fill="#fff" stroke="#666" stroke-width="0.5" />
<circle cx="220.16" cy="87.17" r="1" fill="#fff" stroke="#666" stroke-width="0.5" />
<circle cx="216.44" cy="91.53" r="0.9" fill="none" stroke="#fff" stroke-width="0.5" />
<circle cx="219.28" cy="92.53" r="0.9" fill="none" stroke="#fff" stroke-width="0.5" />
<circle cx="220.93" cy="93.02" r="0.9" fill="none" stroke="#fff" stroke-width="0.5" />
<circle cx="221.06" cy="89.29" r="0.9" fill="none" stroke="#fff" stroke-width="0.5" />
<circle cx="219.79" cy="89.71" r="0.9" fill="none" stroke="#fff" stroke-width="0.5" />
<circle cx="221.88" cy="89.03" r="0.9" fill="none" stroke="#fff" stroke-width="0.5" />
<circle cx="218.89" cy="88.15" r="1" fill="#fff" stroke="#666" stroke-width="0.5" />
<circle cx="220.73" cy="89.93" r="0.9" fill="none" stroke="#fff" stroke-width="0.5" />
<circle cx="222.3" cy="94.43" r="0.9" fill="none" stroke="#fff" stroke-width="0.5" />
<circle cx="218.68" cy="92.77" r="0.9" fill="none" stroke="#fff" stroke-width="0.5" />
<circle cx="222.41" cy="85.74" r="1" fill="#fff" stroke="#666" stroke-width="0.5" />
<circle cx="216.33" cy="87.9" r="1" fill="#fff" stroke="#666" stroke-width="0.5" />
<circle cx="216.95" cy="89.68" r="0.9" fill="none" stroke="#fff" stroke-width="0.5" />
<circle cx="220.06" cy="85.9" r="1" fill="#fff" stroke="#666" stroke-width="0.5" />
<circle cx="217.59" cy="89.45" r="0.9" fill="none" stroke="#fff" stroke-width="0.5" />
<circle cx="219.13" cy="78.38" r="0.95" fill="#fff" stroke="#888" stroke-width="0.45" />
<circle cx="229.72" cy="90.29" r="0.9" fill="none" stroke="#fff" stroke-width="0.5" />
<circle cx="229.71" cy="84.54" r="1" fill="#fff" stroke="#666" stroke-width="0.5" />
<circle cx="232.02" cy="81.75" r="1" fill="#fff" stroke="#666" stroke-width="0.5" />
<circle cx="231.54" cy="90.97" r="0.9" fill="none" stroke="#fff" stroke-width="0.5" />
<circle cx="226.89" cy="80.69" r="1" fill="#fff" stroke="#666" stroke-width="0.5" />
<circle cx="231.57" cy="87.59" r="0.9" fill="none" stroke="#fff" stroke-width="0.5" />
<circle cx="229.61" cy="77.95" r="1" fill="#fff" stroke="#666" stroke-width="0.5" />
<circle cx="230.58" cy="89.31" r="0.9" fill="none" stroke="#fff" stroke-width="0.5" />
<circle cx="229.64" cy="85.22" r="1" fill="#fff" stroke="#666" stroke-width="0.5" />
<circle cx="227.71" cy="79.19" r="1" fill="#fff" stroke="#666" stroke-width="0.5" />
<circle cx="232.43" cy="79.3" r="1" fill="#fff" stroke="#666" stroke-width="0.5" />
<circle cx="226.39" cy="83.88" r="1" fill="#fff" stroke="#666" stroke-width="0.5" />
<circle cx="226.81" cy="85.81" r="1" fill="#fff" stroke="#666" stroke-width="0.5" />
<circle cx="227.77" cy="91.5" r="0.9" fill="none" stroke="#fff" stroke-width="0.5" />
<circle cx="226.1" cy="86.17" r="1" fill="#fff" stroke="#666" stroke-width="0.5" />
<circle cx="229.92" cy="96.05" r="0.9" fill="none" stroke="#fff" stroke-width="0.5" />
<circle cx="228.02" cy="80.52" r="1" fill="#fff" stroke="#666" stroke-width="0.5" />
<circle cx="231.7" cy="85.28" r="1" fill="#fff" stroke="#666" stroke-width="0.5" />
<circle cx="232.49" cy="82.06" r="1" fill="#fff" stroke="#666" stroke-width="0.5" />
<circle cx="227.87" cy="87.85" r="0.9" fill="none" stroke="#fff" stroke-width="0.5" />
<circle cx="226.01" cy="81.97" r="1" fill="#fff" stroke="#666" stroke-width="0.5" />
<circle cx="227.12" cy="84.46" r="1" fill="#fff" stroke="#666" stroke-width="0.5" />
<circle cx="226.85" cy="92.26" r="0.9" fill="none" stroke="#fff" stroke-width="0.5" />
<circle cx="226.08" cy="83.93" r="1" fill="#fff" stroke="#666" stroke-width="0.5" />
<circle cx="232.22" cy="84.65" r="1" fill="#fff" stroke="#666" stroke-width="0.5" />
<circle cx="231.81" cy="90.03" r="0.9" fill="none" stroke="#fff" stroke-width="0.5" />
<circle cx="229.28" cy="90.72" r="0.9" fill="none" stroke="#fff" stroke-width="0.5" />
<circle cx="230.11" cy="83.84" r="1" fill="#fff" stroke="#666" stroke-width="0.5" />
<circle cx="229.95" cy="91.84" r="0.9" fill="none" stroke="#fff" stroke-width="0.5" />
<circle cx="232.1" cy="90.39" r="0.9" fill="none" stroke="#fff" stroke-width="0.5" />
<circle cx="243.57" cy="80.69" r="0.9" fill="none" stroke="#fff" stroke-width="0.5" />
<circle cx="239.91" cy="75.43" r="0.9" fill="none" stroke="#fff" stroke-width="0.5" />
<circle cx="242.06" cy="79.7" r="0.9" fill="none" stroke="#fff" stroke-width="0.5" />
<circle cx="242.27" cy="61.63" r="1" fill="#fff" stroke="#666" stroke-width="0.5" />
<circle cx="242.51" cy="69.84" r="1" fill="#fff" stroke="#666" stroke-width="0.5" />
<circle cx="238.25" cy="74.8" r="1" fill="#fff" stroke="#666" stroke-width="0.5" />
<circle cx="238.56" cy="80.66" r="0.9" fill="none" stroke="#fff" stroke-width="0.5" />
<circle cx="242.87" cy="80.06" r="0.9" fill="none" stroke="#fff" stroke-width="0.5" />
<circle cx="240.78" cy="82.82" r="0.9" fill="none" stroke="#fff" stroke-width="0.5" />
<circle cx="243.47" cy="73.55" r="1" fill="#fff" stroke="#666" stroke-width="0.5" />
<circle cx="238.56" cy="75.27" r="0.9" fill="none" stroke="#fff" stroke-width="0.5" />
<circle cx="243.24" cy="76.28" r="0.9" fill="none" stroke="#fff" stroke-width="0.5" />
<circle cx="241.57" cy="71.36" r="1" fill="#fff" stroke="#666" stroke-width="0.5" />
<circle cx="242.6" cy="76.09" r="0.9" fill="none" stroke="#fff" stroke-width="0.5" />
<circle cx="240.48" cy="77.29" r="0.9" fill="none" stroke="#fff" stroke-width="0.5" />
<circle cx="240.91" cy="70.73" r="1" fill="#fff" stroke="#666" stroke-width="0.5" />
<circle cx="242.26" cy="67.62" r="0.95" fill="#fff" stroke="#888" stroke-width="0.45" />
<circle cx="241.14" cy="65.63" r="0.95" fill="#fff" stroke="#888" stroke-width="0.45" />
<circle cx="248.78" cy="74.23" r="0.9" fill="none" stroke="#fff" stroke-width="0.5" />
<circle cx="252.41" cy="56.79" r="1" fill="#fff" stroke="#666" stroke-width="0.5" />
<circle cx="250.09" cy="65.97" r="0.9" fill="none" stroke="#fff" stroke-width="0.5" />
<circle cx="253.99" cy="71.54" r="0.9" fill="none" stroke="#fff" stroke-width="0.5" />
<circle cx="251.52" cy="65.06" r="1" fill="#fff" stroke="#666" stroke-width="0.5" />
<circle cx="253.28" cy="60.78" r="1" fill="#fff" stroke="#666" stroke-width="0.5" />
<circle cx="250.84" cy="60.32" r="1" fill="#fff" stroke="#666" stroke-width="0.5" />
<circle cx="254.18" cy="61.62" r="1" fill="#fff" stroke="#666" stroke-width="0.5" />
<circle cx="249.73" cy="78.45" r="0.9" fill="none" stroke="#fff" stroke-width="0.5" />
<circle cx="250.86" cy="60.07" r="1" fill="#fff" stroke="#666" stroke-width="0.5" />
<circle cx="251.62" cy="74.14" r="0.9" fill="none" stroke="#fff" stroke-width="0.5" />
<circle cx="250.11" cy="77.47" r="0.9" fill="none" stroke="#fff" stroke-width="0.5" />
<circle cx="249.88" cy="59.01" r="1" fill="#fff" stroke="#666" stroke-width="0.5" />
<circle cx="254.01" cy="59.33" r="1" fill="#fff" stroke="#666" stroke-width="0.5" />
<circle cx="250.47" cy="62.98" r="1" fill="#fff" stroke="#666" stroke-width="0.5" />
<circle cx="254.01" cy="69.27" r="0.9" fill="none" stroke="#fff" stroke-width="0.5" />
<circle cx="250.91" cy="73.55" r="0.9" fill="none" stroke="#fff" stroke-width="0.5" />
<circle cx="249.47" cy="75.5" r="0.9" fill="none" stroke="#fff" stroke-width="0.5" />
<circle cx="250.42" cy="68.71" r="0.9" fill="none" stroke="#fff" stroke-width="0.5" />
<circle cx="250.92" cy="53.09" r="1" fill="#fff" stroke="#666" stroke-width="0.5" />
<circle cx="251.34" cy="71.88" r="0.9" fill="none" stroke="#fff" stroke-width="0.5" />
<circle cx="254.77" cy="61.66" r="1" fill="#fff" stroke="#666" stroke-width="0.5" />
<circle cx="250.8" cy="38.55" r="0.95" fill="#fff" stroke="#888" stroke-width="0.45" />
<circle cx="267.32" cy="42.19" r="1" fill="#fff" stroke="#666" stroke-width="0.5" />
<circle cx="268.1" cy="49.59" r="1" fill="#fff" stroke="#666" stroke-width="0.5" />
<circle cx="267.67" cy="56.97" r="0.9" fill="none" stroke="#fff" stroke-width="0.5" />
<circle cx="262.52" cy="46.69" r="1" fill="#fff" stroke="#666" stroke-width="0.5" />
<circle cx="265.74" cy="49.99" r="0.9" fill="none" stroke="#fff" stroke-width="0.5" />
<circle cx="264.69" cy="55.88" r="0.9" fill="none" stroke="#fff" stroke-width="0.5" />
<circle cx="262.56" cy="50.53" r="0.9" fill="none" stroke="#fff" stroke-width="0.5" />
<circle cx="271.87" cy="39.97" r="1" fill="#fff" stroke="#666" stroke-width="0.5" />
<circle cx="276.99" cy="47.54" r="0.9" fill="none" stroke="#fff" stroke-width="0.5" />
<circle cx="271.71" cy="46.28" r="0.9" fill="none" stroke="#fff" stroke-width="0.5" />
<circle cx="277.77" cy="38.16" r="1" fill="#fff" stroke="#666" stroke-width="0.5" />
<circle cx="277.59" cy="48.39" r="0.9" fill="none" stroke="#fff" stroke-width="0.5" />
<circle cx="271.49" cy="39.14" r="1" fill="#fff" stroke="#666" stroke-width="0.5" />
<circle cx="276.54" cy="47.9" r="0.9" fill="none" stroke="#fff" stroke-width="0.5" />
<circle cx="275.97" cy="42.3" r="1" fill="#fff" stroke="#666" stroke-width="0.5" />
<circle cx="275.02" cy="40.64" r="1" fill="#fff" stroke="#666" stroke-width="0.5" />
<circle cx="275.62" cy="53.89" r="0.9" fill="none" stroke="#fff" stroke-width="0.5" />
<circle cx="273.76" cy="38.37" r="1" fill="#fff" stroke="#666" stroke-width="0.5" />
<circle cx="274.69" cy="44.35" r="0.9" fill="none" stroke="#fff" stroke-width="0.5" />
<circle cx="276.8" cy="34.7" r="1" fill="#fff" stroke="#666" stroke-width="0.5" />
<circle cx="275.09" cy="46.09" r="0.9" fill="none" stroke="#fff" stroke-width="0.5" />
<circle cx="277.04" cy="41.66" r="1" fill="#fff" stroke="#666" stroke-width="0.5" />
<circle cx="290.22" cy="48.68" r="1" fill="#fff" stroke="#666" stroke-width="0.5" />
<circle cx="289.36" cy="46.1" r="1" fill="#fff" stroke="#666" stroke-width="0.5" />
<circle cx="288.05" cy="51.49" r="1" fill="#fff" stroke="#666" stroke-width="0.5" />
<circle cx="289.78" cy="52.08" r="0.9" fill="none" stroke="#fff" stroke-width="0.5" />
<circle cx="285.39" cy="48.98" r="1" fill="#fff" stroke="#666" stroke-width="0.5" />
<circle cx="287.3" cy="50.81" r="1" fill="#fff" stroke="#666" stroke-width="0.5" />
<circle cx="289.15" cy="55.28" r="0.9" fill="none" stroke="#fff" stroke-width="0.5" />
<circle cx="283.41" cy="49.8" r="1" fill="#fff" stroke="#666" stroke-width="0.5" />
<circle cx="284.32" cy="49.93" r="1" fill="#fff" stroke="#666" stroke-width="0.5" />
<circle cx="283.91" cy="51.06" r="1" fill="#fff" stroke="#666" stroke-width="0.5" />
<circle cx="284.04" cy="44.74" r="1" fill="#fff" stroke="#666" stroke-width="0.5" />
<circle cx="287.12" cy="52.8" r="0.9" fill="none" stroke="#fff" stroke-width="0.5" />
<circle cx="286" cy="52.94" r="0.9" fill="none" stroke="#fff" stroke-width="0.5" />
<circle cx="288.19" cy="48.84" r="1" fill="#fff" stroke="#666" stroke-width="0.5" />
<circle cx="284.81" cy="54.59" r="0.9" fill="none" stroke="#fff" stroke-width="0.5" />
<circle cx="285.83" cy="53.45" r="0.9" fill="none" stroke="#fff" stroke-width="0.5" />
<circle cx="288.7" cy="48.44" r="1" fill="#fff" stroke="#666" stroke-width="0.5" />
<circle cx="286.21" cy="48.49" r="1" fill="#fff" stroke="#666" stroke-width="0.5" />
<circle cx="286.16" cy="49.72" r="1" fill="#fff" stroke="#666" stroke-width="0.5" />
<circle cx="287.49" cy="41.33" r="0.95" fill="#fff" stroke="#888" stroke-width="0.45" />
<circle cx="299.95" cy="44.59" r="1" fill="#fff" stroke="#666" stroke-width="0.5" />
<circle cx="298.73" cy="51.02" r="0.9" fill="none" stroke="#fff" stroke-width="0.5" />
<circle cx="297.28" cy="40.9" r="1" fill="#fff" stroke="#666" stroke-width="0.5" />
<circle cx="299.34" cy="49.04" r="0.9" fill="none" stroke="#fff" stroke-width="0.5" />
<circle cx="297.2" cy="42.44" r="1" fill="#fff" stroke="#666" stroke-width="0.5" />
<circle cx="295.86" cy="47.32" r="0.9" fill="none" stroke="#fff" stroke-width="0.5" />
<circle cx="298.07" cy="49.95" r="0.9" fill="none" stroke="#fff" stroke-width="0.5" />
<circle cx="297.23" cy="46.31" r="0.9" fill="none" stroke="#fff" stroke-width="0.5" />
<circle cx="297.24" cy="47.24" r="0.9" fill="none" stroke="#fff" stroke-width="0.5" />
<circle cx="296.84" cy="38.99" r="1" fill="#fff" stroke="#666" stroke-width="0.5" />
<circle cx="300.82" cy="52.21" r="0.9" fill="none" stroke="#fff" stroke-width="0.5" />
<circle cx="297.53" cy="45.01" r="1" fill="#fff" stroke="#666" stroke-width="0.5" />
<circle cx="294.94" cy="48.8" r="0.9" fill="none" stroke="#fff" stroke-width="0.5" />
<circle cx="300.74" cy="43.53" r="1" fill="#fff" stroke="#666" stroke-width="0.5" />
<circle cx="300.02" cy="51.21" r="0.9" fill="none" stroke="#fff" stroke-width="0.5" />
<circle cx="298.29" cy="49" r="0.9" fill="none" stroke="#fff" stroke-width="0.5" />
<circle cx="294.78" cy="51.43" r="0.9" fill="none" stroke="#fff" stroke-width="0.5" />
<circle cx="295.09" cy="46.13" r="0.9" fill="none" stroke="#fff" stroke-width="0.5" />
<circle cx="299.88" cy="46" r="0.9" fill="none" stroke="#fff" stroke-width="0.5" />
<circle cx="294.75" cy="44.11" r="1" fill="#fff" stroke="#666" stroke-width="0.5" />
<circle cx="300.69" cy="45.32" r="1" fill="#fff" stroke="#666" stroke-width="0.5" />
<circle cx="300.4" cy="45.42" r="1" fill="#fff" stroke="#666" stroke-width="0.5" />
<circle cx="294.92" cy="45.01" r="1" fill="#fff" stroke="#666" stroke-width="0.5" />
<circle cx="300.35" cy="42.48" r="1" fill="#fff" stroke="#666" stroke-width="0.5" />
<circle cx="301.24" cy="50.75" r="0.9" fill="none" stroke="#fff" stroke-width="0.5" />
<circle cx="294.28" cy="52.07" r="0.9" fill="none" stroke="#fff" stroke-width="0.5" />
<line x1="219.1" y1="88.81" x2="219.1" y2="88.21" stroke="#000" stroke-width="0.7" />
<line x1="217.3" y1="88.21" x2="220.9" y2="88.21" stroke="#000" stroke-width="0.7" />
<line x1="229.15" y1="87.22" x2="229.15" y2="86.42" stroke="#000" stroke-width="0.7" />
<line x1="227.35" y1="86.42" x2="230.95" y2="86.42" stroke="#000" stroke-width="0.7" />
<line x1="241.9" y1="75.19" x2="241.9" y2="73.8" stroke="#000" stroke-width="0.7" />
<line x1="240.1" y1="73.8" x2="243.7" y2="73.8" stroke="#000" stroke-width="0.7" />
<line x1="251.95" y1="65.39" x2="251.95" y2="63.6" stroke="#000" stroke-width="0.7" />
<line x1="250.15" y1="63.6" x2="253.75" y2="63.6" stroke="#000" stroke-width="0.7" />
<line x1="264.55" y1="49.82" x2="264.55" y2="47.83" stroke="#000" stroke-width="0.7" />
<line x1="262.75" y1="47.83" x2="266.35" y2="47.83" stroke="#000" stroke-width="0.7" />
<line x1="274.85" y1="44.2" x2="274.85" y2="42.41" stroke="#000" stroke-width="0.7" />
<line x1="273.05" y1="42.41" x2="276.65" y2="42.41" stroke="#000" stroke-width="0.7" />
<line x1="287.1" y1="51.69" x2="287.1" y2="50.1" stroke="#000" stroke-width="0.7" />
<line x1="285.3" y1="50.1" x2="288.9" y2="50.1" stroke="#000" stroke-width="0.7" />
<line x1="297.8" y1="45.8" x2="297.8" y2="44.4" stroke="#000" stroke-width="0.7" />
<line x1="296" y1="44.4" x2="299.6" y2="44.4" stroke="#000" stroke-width="0.7" />
<path d="M217.7 48V42.5H228.9V48" stroke="#000" stroke-width="0.7" fill="none" />
<text x="223.3" y="38.2" dy="0.35em" font-size="6.3" stroke="#000" stroke-width="0.08" text-anchor="middle">ns</text>
<path d="M240 30.5V10.4H251.4V12.8" stroke="#000" stroke-width="0.7" fill="none" />
<text x="245.7" y="6.2" dy="0.35em" font-size="7" stroke="#000" stroke-width="0.08" text-anchor="middle">0.0035</text>
<path d="M264.7 28.9V25.7H275.2V28.9" stroke="#000" stroke-width="0.7" fill="none" />
<text x="269.95" y="21.5" dy="0.35em" font-size="7" stroke="#000" stroke-width="0.08" text-anchor="middle">0.0262</text>
<path d="M287.5 28.9V25.7H298.3V28.9" stroke="#000" stroke-width="0.7" fill="none" />
<text x="292.9" y="21.5" dy="0.35em" font-size="7" stroke="#000" stroke-width="0.08" text-anchor="middle">0.0076</text>
<text transform="translate(219.1,69.5) rotate(-90)" dy="0.35em" font-size="6.3" stroke="#000" stroke-width="0.08">n = 28</text>
<text transform="translate(228.2,69.5) rotate(-90)" dy="0.35em" font-size="6.3" stroke="#000" stroke-width="0.08">n = 36</text>
<text transform="translate(241.5,48.5) rotate(-90)" dy="0.35em" font-size="6.3" stroke="#000" stroke-width="0.08">n = 19</text>
<text transform="translate(251.8,27.5) rotate(-90)" dy="0.35em" font-size="6.3" stroke="#000" stroke-width="0.08">n = 26</text>
<text transform="translate(264.4,93.3) rotate(-90)" dy="0.35em" font-size="6.3" fill="#fff" stroke="#fff" stroke-width="0.08">n = 7</text>
<text transform="translate(275.3,93.3) rotate(-90)" dy="0.35em" font-size="6.3" fill="#fff" stroke="#fff" stroke-width="0.08">n = 15</text>
<text transform="translate(287.1,93.3) rotate(-90)" dy="0.35em" font-size="6.3" fill="#fff" stroke="#fff" stroke-width="0.08">n = 19</text>
<text transform="translate(298.1,93.3) rotate(-90)" dy="0.35em" font-size="6.3" fill="#fff" stroke="#fff" stroke-width="0.08">n = 26 wells</text>
<text x="224" y="139" dy="0.35em" font-size="5.9" font-style="italic" fill="#8e8e8e" stroke="#8e8e8e" stroke-width="0.08" text-anchor="middle">15 days</text>
<text x="246.7" y="139" dy="0.35em" font-size="5.9" font-style="italic" fill="#8e8e8e" stroke="#8e8e8e" stroke-width="0.08" text-anchor="middle">30 days</text>
<text x="269.6" y="139" dy="0.35em" font-size="5.9" font-style="italic" fill="#8e8e8e" stroke="#8e8e8e" stroke-width="0.08" text-anchor="middle">60 days</text>
<text x="292.5" y="139" dy="0.35em" font-size="5.9" font-style="italic" fill="#8e8e8e" stroke="#8e8e8e" stroke-width="0.08" text-anchor="middle">90 days</text>
<line x1="532" y1="44.7" x2="532" y2="104.1" stroke="#000" stroke-width="0.8" />
<line x1="530" y1="104.1" x2="532" y2="104.1" stroke="#000" stroke-width="0.8" />
<text x="529" y="104.1" dy="0.35em" font-size="6.8" stroke="#000" stroke-width="0.08" text-anchor="end">0.0</text>
<line x1="530" y1="95.61" x2="532" y2="95.61" stroke="#000" stroke-width="0.8" />
<text x="529" y="95.61" dy="0.35em" font-size="6.8" stroke="#000" stroke-width="0.08" text-anchor="end">0.5</text>
<line x1="530" y1="87.13" x2="532" y2="87.13" stroke="#000" stroke-width="0.8" />
<text x="529" y="87.13" dy="0.35em" font-size="6.8" stroke="#000" stroke-width="0.08" text-anchor="end">1.0</text>
<line x1="530" y1="78.64" x2="532" y2="78.64" stroke="#000" stroke-width="0.8" />
<text x="529" y="78.64" dy="0.35em" font-size="6.8" stroke="#000" stroke-width="0.08" text-anchor="end">1.5</text>
<line x1="530" y1="70.16" x2="532" y2="70.16" stroke="#000" stroke-width="0.8" />
<text x="529" y="70.16" dy="0.35em" font-size="6.8" stroke="#000" stroke-width="0.08" text-anchor="end">2.0</text>
<line x1="530" y1="61.67" x2="532" y2="61.67" stroke="#000" stroke-width="0.8" />
<text x="529" y="61.67" dy="0.35em" font-size="6.8" stroke="#000" stroke-width="0.08" text-anchor="end">2.5</text>
<line x1="530" y1="53.19" x2="532" y2="53.19" stroke="#000" stroke-width="0.8" />
<text x="529" y="53.19" dy="0.35em" font-size="6.8" stroke="#000" stroke-width="0.08" text-anchor="end">3.0</text>
<line x1="530" y1="44.7" x2="532" y2="44.7" stroke="#000" stroke-width="0.8" />
<text x="529" y="44.7" dy="0.35em" font-size="6.8" stroke="#000" stroke-width="0.08" text-anchor="end">3.5</text>
<line x1="532" y1="31.9" x2="532" y2="38.6" stroke="#000" stroke-width="0.8" />
<line x1="530" y1="31.9" x2="532" y2="31.9" stroke="#000" stroke-width="0.8" />
<text x="529" y="31.9" dy="0.35em" font-size="6.8" stroke="#000" stroke-width="0.08" text-anchor="end">4.5</text>
<line x1="530" y1="38.6" x2="532" y2="38.6" stroke="#000" stroke-width="0.8" />
<text transform="translate(504.2,126.7) rotate(-90)" dy="0.35em" font-size="6.9">Inhibitory synapse density per 100um<tspan font-size="4.6" dy="-2.6">2</tspan></text>
<text transform="translate(512.3,106.5) rotate(-90)" dy="0.35em" font-size="7" stroke="#000" stroke-width="0.08">(Gephyrin+ SYN+ MAP2+)</text>
<rect x="536.6" y="96.12" width="9.3" height="7.98" fill="#000" stroke="#000" stroke-width="0.8" />
<rect x="547" y="96.12" width="9" height="7.98" fill="#ff2a0c" stroke="#000" stroke-width="0.8" />
<rect x="559.2" y="83.31" width="9.5" height="20.79" fill="#000" stroke="#000" stroke-width="0.8" />
<rect x="570" y="85.2" width="8.8" height="18.9" fill="#ff2a0c" stroke="#000" stroke-width="0.8" />
<rect x="582.3" y="71.52" width="9.3" height="32.58" fill="#000" stroke="#000" stroke-width="0.8" />
<rect x="592.8" y="79.21" width="9.3" height="24.89" fill="#ff2a0c" stroke="#000" stroke-width="0.8" />
<rect x="605.3" y="58.45" width="9.6" height="45.65" fill="#000" stroke="#000" stroke-width="0.8" />
<rect x="616.5" y="67.5" width="9.2" height="36.6" fill="#ff2a0c" stroke="#000" stroke-width="0.8" />
<line x1="532" y1="104.1" x2="627.5" y2="104.1" stroke="#000" stroke-width="0.8" />
<line x1="541.25" y1="104.1" x2="541.25" y2="106.1" stroke="#000" stroke-width="0.7" />
<text transform="translate(539.85,110.3) rotate(-45)" dy="0.3em" font-size="7.5" stroke="#000" stroke-width="0.08" text-anchor="end">Neurotypical</text>
<line x1="551.5" y1="104.1" x2="551.5" y2="106.1" stroke="#000" stroke-width="0.7" />
<text transform="translate(550.1,110.3) rotate(-45)" dy="0.3em" font-size="7.5" stroke="#000" stroke-width="0.08" text-anchor="end">MPSIIIA</text>
<line x1="563.95" y1="104.1" x2="563.95" y2="106.1" stroke="#000" stroke-width="0.7" />
<text transform="translate(562.55,110.3) rotate(-45)" dy="0.3em" font-size="7.5" stroke="#000" stroke-width="0.08" text-anchor="end">Neurotypical</text>
<line x1="574.4" y1="104.1" x2="574.4" y2="106.1" stroke="#000" stroke-width="0.7" />
<text transform="translate(573,110.3) rotate(-45)" dy="0.3em" font-size="7.5" stroke="#000" stroke-width="0.08" text-anchor="end">MPSIIIA</text>
<line x1="586.95" y1="104.1" x2="586.95" y2="106.1" stroke="#000" stroke-width="0.7" />
<text transform="translate(585.55,110.3) rotate(-45)" dy="0.3em" font-size="7.5" stroke="#000" stroke-width="0.08" text-anchor="end">Neurotypical</text>
<line x1="597.45" y1="104.1" x2="597.45" y2="106.1" stroke="#000" stroke-width="0.7" />
<text transform="translate(596.05,110.3) rotate(-45)" dy="0.3em" font-size="7.5" stroke="#000" stroke-width="0.08" text-anchor="end">MPSIIIA</text>
<line x1="610.1" y1="104.1" x2="610.1" y2="106.1" stroke="#000" stroke-width="0.7" />
<text transform="translate(608.7,110.3) rotate(-45)" dy="0.3em" font-size="7.5" stroke="#000" stroke-width="0.08" text-anchor="end">Neurotypical</text>
<line x1="621.1" y1="104.1" x2="621.1" y2="106.1" stroke="#000" stroke-width="0.7" />
<text transform="translate(619.7,110.3) rotate(-45)" dy="0.3em" font-size="7.5" stroke="#000" stroke-width="0.08" text-anchor="end">MPSIIIA</text>
<circle cx="543.29" cy="97.12" r="0.9" fill="none" stroke="#fff" stroke-width="0.5" />
<circle cx="544.3" cy="97.1" r="0.9" fill="none" stroke="#fff" stroke-width="0.5" />
<circle cx="538" cy="96.25" r="0.9" fill="none" stroke="#fff" stroke-width="0.5" />
<circle cx="541.01" cy="98.04" r="0.9" fill="none" stroke="#fff" stroke-width="0.5" />
<circle cx="544.02" cy="94.97" r="1" fill="#fff" stroke="#666" stroke-width="0.5" />
<circle cx="538.58" cy="96.55" r="0.9" fill="none" stroke="#fff" stroke-width="0.5" />
<circle cx="541.55" cy="96.75" r="0.9" fill="none" stroke="#fff" stroke-width="0.5" />
<circle cx="541.76" cy="96" r="1" fill="#fff" stroke="#666" stroke-width="0.5" />
<circle cx="539.73" cy="95.53" r="1" fill="#fff" stroke="#666" stroke-width="0.5" />
<circle cx="544.12" cy="96.08" r="1" fill="#fff" stroke="#666" stroke-width="0.5" />
<circle cx="543.3" cy="96.07" r="1" fill="#fff" stroke="#666" stroke-width="0.5" />
<circle cx="538.76" cy="96.62" r="0.9" fill="none" stroke="#fff" stroke-width="0.5" />
<circle cx="548.21" cy="96.52" r="0.9" fill="none" stroke="#fff" stroke-width="0.5" />
<circle cx="553.95" cy="96.48" r="0.9" fill="none" stroke="#fff" stroke-width="0.5" />
<circle cx="554.68" cy="95.95" r="1" fill="#fff" stroke="#666" stroke-width="0.5" />
<circle cx="553.96" cy="95.44" r="1" fill="#fff" stroke="#666" stroke-width="0.5" />
<circle cx="551.76" cy="96.76" r="0.9" fill="none" stroke="#fff" stroke-width="0.5" />
<circle cx="552.67" cy="93.6" r="1" fill="#fff" stroke="#666" stroke-width="0.5" />
<circle cx="552.76" cy="95.45" r="1" fill="#fff" stroke="#666" stroke-width="0.5" />
<circle cx="554.58" cy="93.8" r="1" fill="#fff" stroke="#666" stroke-width="0.5" />
<circle cx="550.58" cy="95.45" r="1" fill="#fff" stroke="#666" stroke-width="0.5" />
<circle cx="549.3" cy="96.66" r="0.9" fill="none" stroke="#fff" stroke-width="0.5" />
<circle cx="550.19" cy="95.9" r="1" fill="#fff" stroke="#666" stroke-width="0.5" />
<circle cx="552.18" cy="95.83" r="1" fill="#fff" stroke="#666" stroke-width="0.5" />
<circle cx="562.8" cy="79.48" r="1" fill="#fff" stroke="#666" stroke-width="0.5" />
<circle cx="562.6" cy="83.23" r="1" fill="#fff" stroke="#666" stroke-width="0.5" />
<circle cx="562.64" cy="82.1" r="1" fill="#fff" stroke="#666" stroke-width="0.5" />
<circle cx="563.82" cy="85.96" r="0.9" fill="none" stroke="#fff" stroke-width="0.5" />
<circle cx="567.32" cy="83.56" r="0.9" fill="none" stroke="#fff" stroke-width="0.5" />
<circle cx="560.56" cy="84.15" r="0.9" fill="none" stroke="#fff" stroke-width="0.5" />
<circle cx="560.53" cy="83.32" r="0.9" fill="none" stroke="#fff" stroke-width="0.5" />
<circle cx="565.99" cy="88.23" r="0.9" fill="none" stroke="#fff" stroke-width="0.5" />
<circle cx="560.46" cy="85.54" r="0.9" fill="none" stroke="#fff" stroke-width="0.5" />
<circle cx="560.73" cy="80.82" r="1" fill="#fff" stroke="#666" stroke-width="0.5" />
<circle cx="561.8" cy="80.64" r="1" fill="#fff" stroke="#666" stroke-width="0.5" />
<circle cx="565.77" cy="77.56" r="1" fill="#fff" stroke="#666" stroke-width="0.5" />
<circle cx="573.4" cy="76.04" r="1" fill="#fff" stroke="#666" stroke-width="0.5" />
<circle cx="573.47" cy="89.53" r="0.9" fill="none" stroke="#fff" stroke-width="0.5" />
<circle cx="571.89" cy="92.44" r="0.9" fill="none" stroke="#fff" stroke-width="0.5" />
<circle cx="575.99" cy="86.33" r="0.9" fill="none" stroke="#fff" stroke-width="0.5" />
<circle cx="571.43" cy="82.74" r="1" fill="#fff" stroke="#666" stroke-width="0.5" />
<circle cx="577.25" cy="93.24" r="0.9" fill="none" stroke="#fff" stroke-width="0.5" />
<circle cx="575.11" cy="81.94" r="1" fill="#fff" stroke="#666" stroke-width="0.5" />
<circle cx="577.08" cy="83.1" r="1" fill="#fff" stroke="#666" stroke-width="0.5" />
<circle cx="574.69" cy="90.36" r="0.9" fill="none" stroke="#fff" stroke-width="0.5" />
<circle cx="573.2" cy="77.06" r="1" fill="#fff" stroke="#666" stroke-width="0.5" />
<circle cx="571.7" cy="86.28" r="0.9" fill="none" stroke="#fff" stroke-width="0.5" />
<circle cx="572.15" cy="82.77" r="1" fill="#fff" stroke="#666" stroke-width="0.5" />
<circle cx="584.61" cy="82.22" r="0.9" fill="none" stroke="#fff" stroke-width="0.5" />
<circle cx="583.84" cy="98.15" r="0.9" fill="none" stroke="#fff" stroke-width="0.5" />
<circle cx="586.3" cy="61.08" r="1" fill="#fff" stroke="#666" stroke-width="0.5" />
<circle cx="585.14" cy="72.39" r="0.9" fill="none" stroke="#fff" stroke-width="0.5" />
<circle cx="586.64" cy="84.71" r="0.9" fill="none" stroke="#fff" stroke-width="0.5" />
<circle cx="586.41" cy="80.36" r="0.9" fill="none" stroke="#fff" stroke-width="0.5" />
<circle cx="583.73" cy="53.77" r="1" fill="#fff" stroke="#666" stroke-width="0.5" />
<circle cx="586.91" cy="65.04" r="1" fill="#fff" stroke="#666" stroke-width="0.5" />
<circle cx="588.55" cy="69.15" r="1" fill="#fff" stroke="#666" stroke-width="0.5" />
<circle cx="590.05" cy="75.33" r="0.9" fill="none" stroke="#fff" stroke-width="0.5" />
<circle cx="584.24" cy="81.72" r="0.9" fill="none" stroke="#fff" stroke-width="0.5" />
<circle cx="586.5" cy="82.44" r="0.9" fill="none" stroke="#fff" stroke-width="0.5" />
<circle cx="585.74" cy="44.7" r="0.95" fill="#fff" stroke="#888" stroke-width="0.45" />
<circle cx="597.13" cy="76.42" r="1" fill="#fff" stroke="#666" stroke-width="0.5" />
<circle cx="600.9" cy="83.32" r="0.9" fill="none" stroke="#fff" stroke-width="0.5" />
<circle cx="597.13" cy="69.48" r="1" fill="#fff" stroke="#666" stroke-width="0.5" />
<circle cx="597.37" cy="92.19" r="0.9" fill="none" stroke="#fff" stroke-width="0.5" />
<circle cx="596.01" cy="80.08" r="0.9" fill="none" stroke="#fff" stroke-width="0.5" />
<circle cx="596.79" cy="85.93" r="0.9" fill="none" stroke="#fff" stroke-width="0.5" />
<circle cx="600.82" cy="75.71" r="1" fill="#fff" stroke="#666" stroke-width="0.5" />
<circle cx="600.62" cy="74.61" r="1" fill="#fff" stroke="#666" stroke-width="0.5" />
<circle cx="596.34" cy="84.08" r="0.9" fill="none" stroke="#fff" stroke-width="0.5" />
<circle cx="594.62" cy="84.21" r="0.9" fill="none" stroke="#fff" stroke-width="0.5" />
<circle cx="599.98" cy="80.65" r="0.9" fill="none" stroke="#fff" stroke-width="0.5" />
<circle cx="596.49" cy="68.94" r="1" fill="#fff" stroke="#666" stroke-width="0.5" />
<circle cx="598.79" cy="76.9" r="1" fill="#fff" stroke="#666" stroke-width="0.5" />
<circle cx="598.58" cy="89.2" r="0.9" fill="none" stroke="#fff" stroke-width="0.5" />
<circle cx="598.86" cy="78.86" r="1" fill="#fff" stroke="#666" stroke-width="0.5" />
<circle cx="595.94" cy="84.84" r="0.9" fill="none" stroke="#fff" stroke-width="0.5" />
<circle cx="598.77" cy="89.34" r="0.9" fill="none" stroke="#fff" stroke-width="0.5" />
<circle cx="596.03" cy="78.29" r="1" fill="#fff" stroke="#666" stroke-width="0.5" />
<circle cx="598.01" cy="71.1" r="1" fill="#fff" stroke="#666" stroke-width="0.5" />
<circle cx="594.08" cy="82.09" r="0.9" fill="none" stroke="#fff" stroke-width="0.5" />
<circle cx="597.61" cy="70.16" r="0.95" fill="#fff" stroke="#888" stroke-width="0.45" />
<circle cx="596.59" cy="69.31" r="0.95" fill="#fff" stroke="#888" stroke-width="0.45" />
<circle cx="612.38" cy="60.69" r="0.9" fill="none" stroke="#fff" stroke-width="0.5" />
<circle cx="611.16" cy="62.62" r="0.9" fill="none" stroke="#fff" stroke-width="0.5" />
<circle cx="611.14" cy="57.29" r="1" fill="#fff" stroke="#666" stroke-width="0.5" />
<circle cx="611.81" cy="62.2" r="0.9" fill="none" stroke="#fff" stroke-width="0.5" />
<circle cx="612.57" cy="56.59" r="1" fill="#fff" stroke="#666" stroke-width="0.5" />
<circle cx="612.76" cy="61.92" r="0.9" fill="none" stroke="#fff" stroke-width="0.5" />
<circle cx="613.39" cy="62.83" r="0.9" fill="none" stroke="#fff" stroke-width="0.5" />
<circle cx="610.23" cy="69.19" r="0.9" fill="none" stroke="#fff" stroke-width="0.5" />
<circle cx="612.52" cy="60.97" r="0.9" fill="none" stroke="#fff" stroke-width="0.5" />
<circle cx="613.25" cy="58.92" r="0.9" fill="none" stroke="#fff" stroke-width="0.5" />
<circle cx="611.68" cy="64.89" r="0.9" fill="none" stroke="#fff" stroke-width="0.5" />
<circle cx="611.76" cy="57.52" r="1" fill="#fff" stroke="#666" stroke-width="0.5" />
<circle cx="621.65" cy="62.62" r="1" fill="#fff" stroke="#666" stroke-width="0.5" />
<circle cx="622.23" cy="58.38" r="1" fill="#fff" stroke="#666" stroke-width="0.5" />
<circle cx="622.97" cy="74.79" r="0.9" fill="none" stroke="#fff" stroke-width="0.5" />
<circle cx="622.03" cy="63.53" r="1" fill="#fff" stroke="#666" stroke-width="0.5" />
<circle cx="618.79" cy="67.76" r="0.9" fill="none" stroke="#fff" stroke-width="0.5" />
<circle cx="620.7" cy="68.88" r="0.9" fill="none" stroke="#fff" stroke-width="0.5" />
<circle cx="622.36" cy="69.95" r="0.9" fill="none" stroke="#fff" stroke-width="0.5" />
<circle cx="621.99" cy="70.88" r="0.9" fill="none" stroke="#fff" stroke-width="0.5" />
<circle cx="619.24" cy="61.02" r="1" fill="#fff" stroke="#666" stroke-width="0.5" />
<circle cx="618.07" cy="65.75" r="1" fill="#fff" stroke="#666" stroke-width="0.5" />
<circle cx="618.93" cy="64.03" r="1" fill="#fff" stroke="#666" stroke-width="0.5" />
<circle cx="619.01" cy="63.63" r="1" fill="#fff" stroke="#666" stroke-width="0.5" />
<line x1="541.25" y1="96.12" x2="541.25" y2="95.61" stroke="#000" stroke-width="0.7" />
<line x1="539.45" y1="95.61" x2="543.05" y2="95.61" stroke="#000" stroke-width="0.7" />
<line x1="551.5" y1="96.12" x2="551.5" y2="95.61" stroke="#000" stroke-width="0.7" />
<line x1="549.7" y1="95.61" x2="553.3" y2="95.61" stroke="#000" stroke-width="0.7" />
<line x1="563.95" y1="83.31" x2="563.95" y2="81.95" stroke="#000" stroke-width="0.7" />
<line x1="562.15" y1="81.95" x2="565.75" y2="81.95" stroke="#000" stroke-width="0.7" />
<line x1="574.4" y1="85.2" x2="574.4" y2="83.5" stroke="#000" stroke-width="0.7" />
<line x1="572.6" y1="83.5" x2="576.2" y2="83.5" stroke="#000" stroke-width="0.7" />
<line x1="586.95" y1="71.52" x2="586.95" y2="68.12" stroke="#000" stroke-width="0.7" />
<line x1="585.15" y1="68.12" x2="588.75" y2="68.12" stroke="#000" stroke-width="0.7" />
<line x1="597.45" y1="79.21" x2="597.45" y2="77.17" stroke="#000" stroke-width="0.7" />
<line x1="595.65" y1="77.17" x2="599.25" y2="77.17" stroke="#000" stroke-width="0.7" />
<line x1="610.1" y1="58.45" x2="610.1" y2="57.09" stroke="#000" stroke-width="0.7" />
<line x1="608.3" y1="57.09" x2="611.9" y2="57.09" stroke="#000" stroke-width="0.7" />
<line x1="621.1" y1="67.5" x2="621.1" y2="65.8" stroke="#000" stroke-width="0.7" />
<line x1="619.3" y1="65.8" x2="622.9" y2="65.8" stroke="#000" stroke-width="0.7" />
<path d="M538.7 65.6V61.6H550.7V65.6" stroke="#000" stroke-width="0.7" fill="none" />
<text x="544.7" y="57.1" dy="0.35em" font-size="7" stroke="#000" stroke-width="0.08" text-anchor="middle">0.0036</text>
<path d="M562.7 50.3V46.3H575.6V50.3" stroke="#000" stroke-width="0.7" fill="none" />
<text x="569.15" y="42.3" dy="0.35em" font-size="6.3" stroke="#000" stroke-width="0.08" text-anchor="middle">ns</text>
<path d="M586.8 31.9V29.5H597.6V35.9" stroke="#000" stroke-width="0.7" fill="none" />
<text x="592.2" y="25.9" dy="0.35em" font-size="6.3" stroke="#000" stroke-width="0.08" text-anchor="middle">ns</text>
<path d="M610.1 42.3V26.6H621.4V31.1" stroke="#000" stroke-width="0.7" fill="none" />
<text x="615.75" y="22.2" dy="0.35em" font-size="7" stroke="#000" stroke-width="0.08" text-anchor="middle">0.0068</text>
<text transform="translate(541.1,87.3) rotate(-90)" dy="0.35em" font-size="6.3" stroke="#000" stroke-width="0.08">n = 12</text>
<text transform="translate(550.8,87.3) rotate(-90)" dy="0.35em" font-size="6.3" stroke="#000" stroke-width="0.08">n = 12</text>
<text transform="translate(564.1,72.8) rotate(-90)" dy="0.35em" font-size="6.3" stroke="#000" stroke-width="0.08">n = 12</text>
<text transform="translate(575.2,72.8) rotate(-90)" dy="0.35em" font-size="6.3" stroke="#000" stroke-width="0.08">n = 12</text>
<text transform="translate(587.2,103) rotate(-90)" dy="0.35em" font-size="6.3" fill="#fff" stroke="#fff" stroke-width="0.08">n = 12</text>
<text transform="translate(597.7,56.8) rotate(-90)" dy="0.35em" font-size="6.3" stroke="#000" stroke-width="0.08">n = 20</text>
<text transform="translate(610.2,103) rotate(-90)" dy="0.35em" font-size="6.3" fill="#fff" stroke="#fff" stroke-width="0.08">n = 12 wells</text>
<text transform="translate(621.5,51.1) rotate(-90)" dy="0.35em" font-size="6.3" stroke="#000" stroke-width="0.08">n = 12</text>
<text x="546.3" y="146.5" dy="0.35em" font-size="5.9" font-style="italic" fill="#8e8e8e" stroke="#8e8e8e" stroke-width="0.08" text-anchor="middle">15 days</text>
<text x="569" y="146.5" dy="0.35em" font-size="5.9" font-style="italic" fill="#8e8e8e" stroke="#8e8e8e" stroke-width="0.08" text-anchor="middle">30 days</text>
<text x="592.2" y="146.5" dy="0.35em" font-size="5.9" font-style="italic" fill="#8e8e8e" stroke="#8e8e8e" stroke-width="0.08" text-anchor="middle">60 days</text>
<text x="615.5" y="146.5" dy="0.35em" font-size="5.9" font-style="italic" fill="#8e8e8e" stroke="#8e8e8e" stroke-width="0.08" text-anchor="middle">90 days</text>
<text x="-1.5" y="165.5" dy="0.35em" font-size="11.2" font-weight="bold">B</text>
<rect x="19.7" y="157.9" width="20.3" height="142.2" fill="#fff" stroke="#000" stroke-width="1" />
<text transform="translate(30.2,234.6) rotate(-90)" dy="0.35em" font-size="9" stroke="#000" stroke-width="0.08" text-anchor="middle">Excitatory synapse proportion</text>
<line x1="80.6" y1="181.1" x2="80.6" y2="252.9" stroke="#000" stroke-width="0.8" />
<line x1="78.4" y1="252.9" x2="80.6" y2="252.9" stroke="#000" stroke-width="0.8" />
<text x="77.4" y="252.9" dy="0.35em" font-size="7" stroke="#000" stroke-width="0.08" text-anchor="end">0</text>
<line x1="78.4" y1="238.54" x2="80.6" y2="238.54" stroke="#000" stroke-width="0.8" />
<text x="77.4" y="238.54" dy="0.35em" font-size="7" stroke="#000" stroke-width="0.08" text-anchor="end">20</text>
<line x1="78.4" y1="224.18" x2="80.6" y2="224.18" stroke="#000" stroke-width="0.8" />
<text x="77.4" y="224.18" dy="0.35em" font-size="7" stroke="#000" stroke-width="0.08" text-anchor="end">40</text>
<line x1="78.4" y1="209.82" x2="80.6" y2="209.82" stroke="#000" stroke-width="0.8" />
<text x="77.4" y="209.82" dy="0.35em" font-size="7" stroke="#000" stroke-width="0.08" text-anchor="end">60</text>
<line x1="78.4" y1="195.46" x2="80.6" y2="195.46" stroke="#000" stroke-width="0.8" />
<text x="77.4" y="195.46" dy="0.35em" font-size="7" stroke="#000" stroke-width="0.08" text-anchor="end">80</text>
<line x1="78.4" y1="181.1" x2="80.6" y2="181.1" stroke="#000" stroke-width="0.8" />
<text x="77.4" y="181.1" dy="0.35em" font-size="7" stroke="#000" stroke-width="0.08" text-anchor="end">100</text>
<line x1="79.28" y1="245.72" x2="80.6" y2="245.72" stroke="#000" stroke-width="0.64" />
<line x1="79.28" y1="231.36" x2="80.6" y2="231.36" stroke="#000" stroke-width="0.64" />
<line x1="79.28" y1="217" x2="80.6" y2="217" stroke="#000" stroke-width="0.64" />
<line x1="79.28" y1="202.64" x2="80.6" y2="202.64" stroke="#000" stroke-width="0.64" />
<line x1="79.28" y1="188.28" x2="80.6" y2="188.28" stroke="#000" stroke-width="0.64" />
<text transform="translate(52,216.9) rotate(-90)" dy="0.35em" font-size="7.2" stroke="#000" stroke-width="0.08" text-anchor="middle">% of excitatory/total synapses</text>
<text transform="translate(59.4,216.9) rotate(-90)" dy="0.35em" font-size="7.2" stroke="#000" stroke-width="0.08" text-anchor="middle">(PSD-95+SYN+MAP2+/SYN+MAP2+)</text>
<rect x="85.4" y="218.08" width="9.5" height="34.82" fill="#000" stroke="#000" stroke-width="0.8" />
<rect x="95.8" y="214.49" width="9.5" height="38.41" fill="#ff2a0c" stroke="#000" stroke-width="0.8" />
<rect x="108.5" y="208.1" width="9.4" height="44.8" fill="#000" stroke="#000" stroke-width="0.8" />
<rect x="118.9" y="203.21" width="9.5" height="49.69" fill="#ff2a0c" stroke="#000" stroke-width="0.8" />
<rect x="131.7" y="189.43" width="9.3" height="63.47" fill="#000" stroke="#000" stroke-width="0.8" />
<rect x="142" y="187.99" width="9.4" height="64.91" fill="#ff2a0c" stroke="#000" stroke-width="0.8" />
<rect x="154.6" y="193.88" width="9.6" height="59.02" fill="#000" stroke="#000" stroke-width="0.8" />
<rect x="165.6" y="189.43" width="9.5" height="63.47" fill="#ff2a0c" stroke="#000" stroke-width="0.8" />
<line x1="80.6" y1="252.9" x2="176.6" y2="252.9" stroke="#000" stroke-width="0.8" />
<line x1="90.15" y1="252.9" x2="90.15" y2="254.9" stroke="#000" stroke-width="0.7" />
<text transform="translate(88.75,259.1) rotate(-45)" dy="0.3em" font-size="7.5" stroke="#000" stroke-width="0.08" text-anchor="end">Neurotypical</text>
<line x1="100.55" y1="252.9" x2="100.55" y2="254.9" stroke="#000" stroke-width="0.7" />
<text transform="translate(99.15,259.1) rotate(-45)" dy="0.3em" font-size="7.5" stroke="#000" stroke-width="0.08" text-anchor="end">MPSIIIA</text>
<line x1="113.2" y1="252.9" x2="113.2" y2="254.9" stroke="#000" stroke-width="0.7" />
<text transform="translate(111.8,259.1) rotate(-45)" dy="0.3em" font-size="7.5" stroke="#000" stroke-width="0.08" text-anchor="end">Neurotypical</text>
<line x1="123.65" y1="252.9" x2="123.65" y2="254.9" stroke="#000" stroke-width="0.7" />
<text transform="translate(122.25,259.1) rotate(-45)" dy="0.3em" font-size="7.5" stroke="#000" stroke-width="0.08" text-anchor="end">MPSIIIA</text>
<line x1="136.35" y1="252.9" x2="136.35" y2="254.9" stroke="#000" stroke-width="0.7" />
<text transform="translate(134.95,259.1) rotate(-45)" dy="0.3em" font-size="7.5" stroke="#000" stroke-width="0.08" text-anchor="end">Neurotypical</text>
<line x1="146.7" y1="252.9" x2="146.7" y2="254.9" stroke="#000" stroke-width="0.7" />
<text transform="translate(145.3,259.1) rotate(-45)" dy="0.3em" font-size="7.5" stroke="#000" stroke-width="0.08" text-anchor="end">MPSIIIA</text>
<line x1="159.4" y1="252.9" x2="159.4" y2="254.9" stroke="#000" stroke-width="0.7" />
<text transform="translate(158,259.1) rotate(-45)" dy="0.3em" font-size="7.5" stroke="#000" stroke-width="0.08" text-anchor="end">Neurotypical</text>
<line x1="170.35" y1="252.9" x2="170.35" y2="254.9" stroke="#000" stroke-width="0.7" />
<text transform="translate(168.95,259.1) rotate(-45)" dy="0.3em" font-size="7.5" stroke="#000" stroke-width="0.08" text-anchor="end">MPSIIIA</text>
<circle cx="87.58" cy="227.53" r="0.9" fill="none" stroke="#fff" stroke-width="0.5" />
<circle cx="92.75" cy="215.84" r="1" fill="#fff" stroke="#666" stroke-width="0.5" />
<circle cx="92.98" cy="206.2" r="1" fill="#fff" stroke="#666" stroke-width="0.5" />
<circle cx="87.17" cy="217.6" r="1" fill="#fff" stroke="#666" stroke-width="0.5" />
<circle cx="86.89" cy="231.2" r="0.9" fill="none" stroke="#fff" stroke-width="0.5" />
<circle cx="89.29" cy="222.73" r="0.9" fill="none" stroke="#fff" stroke-width="0.5" />
<circle cx="91.75" cy="221.25" r="0.9" fill="none" stroke="#fff" stroke-width="0.5" />
<circle cx="87.72" cy="228.63" r="0.9" fill="none" stroke="#fff" stroke-width="0.5" />
<circle cx="90.19" cy="217.71" r="1" fill="#fff" stroke="#666" stroke-width="0.5" />
<circle cx="93.16" cy="213.22" r="1" fill="#fff" stroke="#666" stroke-width="0.5" />
<circle cx="89.32" cy="232.69" r="0.9" fill="none" stroke="#fff" stroke-width="0.5" />
<circle cx="91.9" cy="227.41" r="0.9" fill="none" stroke="#fff" stroke-width="0.5" />
<circle cx="91.39" cy="211.38" r="1" fill="#fff" stroke="#666" stroke-width="0.5" />
<circle cx="91.75" cy="213.1" r="1" fill="#fff" stroke="#666" stroke-width="0.5" />
<circle cx="88.49" cy="221.87" r="0.9" fill="none" stroke="#fff" stroke-width="0.5" />
<circle cx="88.09" cy="216.04" r="1" fill="#fff" stroke="#666" stroke-width="0.5" />
<circle cx="88.02" cy="221.64" r="0.9" fill="none" stroke="#fff" stroke-width="0.5" />
<circle cx="92.89" cy="200.12" r="1" fill="#fff" stroke="#666" stroke-width="0.5" />
<circle cx="89.29" cy="215.63" r="1" fill="#fff" stroke="#666" stroke-width="0.5" />
<circle cx="90.09" cy="220.4" r="0.9" fill="none" stroke="#fff" stroke-width="0.5" />
<circle cx="93.04" cy="207.62" r="1" fill="#fff" stroke="#666" stroke-width="0.5" />
<circle cx="87.4" cy="216.52" r="1" fill="#fff" stroke="#666" stroke-width="0.5" />
<circle cx="90.71" cy="222.27" r="0.9" fill="none" stroke="#fff" stroke-width="0.5" />
<circle cx="92.96" cy="221" r="0.9" fill="none" stroke="#fff" stroke-width="0.5" />
<circle cx="87.19" cy="217.7" r="1" fill="#fff" stroke="#666" stroke-width="0.5" />
<circle cx="90.43" cy="216.84" r="1" fill="#fff" stroke="#666" stroke-width="0.5" />
<circle cx="90.13" cy="213.87" r="1" fill="#fff" stroke="#666" stroke-width="0.5" />
<circle cx="93.14" cy="217.61" r="1" fill="#fff" stroke="#666" stroke-width="0.5" />
<circle cx="101.53" cy="223.37" r="0.9" fill="none" stroke="#fff" stroke-width="0.5" />
<circle cx="97.66" cy="209.61" r="1" fill="#fff" stroke="#666" stroke-width="0.5" />
<circle cx="101.32" cy="219.91" r="0.9" fill="none" stroke="#fff" stroke-width="0.5" />
<circle cx="103.8" cy="217.46" r="0.9" fill="none" stroke="#fff" stroke-width="0.5" />
<circle cx="101.31" cy="202.43" r="1" fill="#fff" stroke="#666" stroke-width="0.5" />
<circle cx="98.06" cy="210.22" r="1" fill="#fff" stroke="#666" stroke-width="0.5" />
<circle cx="104.09" cy="218.24" r="0.9" fill="none" stroke="#fff" stroke-width="0.5" />
<circle cx="97.86" cy="182.05" r="1" fill="#fff" stroke="#666" stroke-width="0.5" />
<circle cx="98.68" cy="221.3" r="0.9" fill="none" stroke="#fff" stroke-width="0.5" />
<circle cx="101.34" cy="238.21" r="0.9" fill="none" stroke="#fff" stroke-width="0.5" />
<circle cx="101.79" cy="205.24" r="1" fill="#fff" stroke="#666" stroke-width="0.5" />
<circle cx="101.19" cy="211.92" r="1" fill="#fff" stroke="#666" stroke-width="0.5" />
<circle cx="99.47" cy="213.83" r="1" fill="#fff" stroke="#666" stroke-width="0.5" />
<circle cx="103.13" cy="218.72" r="0.9" fill="none" stroke="#fff" stroke-width="0.5" />
<circle cx="99.86" cy="224" r="0.9" fill="none" stroke="#fff" stroke-width="0.5" />
<circle cx="104" cy="220.04" r="0.9" fill="none" stroke="#fff" stroke-width="0.5" />
<circle cx="102.68" cy="216.21" r="0.9" fill="none" stroke="#fff" stroke-width="0.5" />
<circle cx="99.33" cy="215.36" r="0.9" fill="none" stroke="#fff" stroke-width="0.5" />
<circle cx="100.15" cy="220.85" r="0.9" fill="none" stroke="#fff" stroke-width="0.5" />
<circle cx="99.31" cy="211.66" r="1" fill="#fff" stroke="#666" stroke-width="0.5" />
<circle cx="97.73" cy="202.47" r="1" fill="#fff" stroke="#666" stroke-width="0.5" />
<circle cx="102.57" cy="206.99" r="1" fill="#fff" stroke="#666" stroke-width="0.5" />
<circle cx="102.73" cy="197.2" r="1" fill="#fff" stroke="#666" stroke-width="0.5" />
<circle cx="100.53" cy="211.71" r="1" fill="#fff" stroke="#666" stroke-width="0.5" />
<circle cx="102.24" cy="216.4" r="0.9" fill="none" stroke="#fff" stroke-width="0.5" />
<circle cx="100.02" cy="221.84" r="0.9" fill="none" stroke="#fff" stroke-width="0.5" />
<circle cx="99.85" cy="211.39" r="1" fill="#fff" stroke="#666" stroke-width="0.5" />
<circle cx="99.65" cy="188.75" r="1" fill="#fff" stroke="#666" stroke-width="0.5" />
<circle cx="101.74" cy="208.34" r="1" fill="#fff" stroke="#666" stroke-width="0.5" />
<circle cx="98.21" cy="221.93" r="0.9" fill="none" stroke="#fff" stroke-width="0.5" />
<circle cx="97.36" cy="210.18" r="1" fill="#fff" stroke="#666" stroke-width="0.5" />
<circle cx="103.92" cy="220.97" r="0.9" fill="none" stroke="#fff" stroke-width="0.5" />
<circle cx="104" cy="203.14" r="1" fill="#fff" stroke="#666" stroke-width="0.5" />
<circle cx="101.31" cy="192.97" r="1" fill="#fff" stroke="#666" stroke-width="0.5" />
<circle cx="98.48" cy="210.93" r="1" fill="#fff" stroke="#666" stroke-width="0.5" />
<circle cx="99.76" cy="214.22" r="1" fill="#fff" stroke="#666" stroke-width="0.5" />
<circle cx="112.18" cy="220.96" r="0.9" fill="none" stroke="#fff" stroke-width="0.5" />
<circle cx="110.68" cy="218.95" r="0.9" fill="none" stroke="#fff" stroke-width="0.5" />
<circle cx="110.31" cy="211.35" r="0.9" fill="none" stroke="#fff" stroke-width="0.5" />
<circle cx="113.59" cy="209.43" r="0.9" fill="none" stroke="#fff" stroke-width="0.5" />
<circle cx="112.86" cy="208.89" r="0.9" fill="none" stroke="#fff" stroke-width="0.5" />
<circle cx="114.63" cy="210.34" r="0.9" fill="none" stroke="#fff" stroke-width="0.5" />
<circle cx="115.91" cy="207.53" r="1" fill="#fff" stroke="#666" stroke-width="0.5" />
<circle cx="110.88" cy="214.42" r="0.9" fill="none" stroke="#fff" stroke-width="0.5" />
<circle cx="115.86" cy="210.49" r="0.9" fill="none" stroke="#fff" stroke-width="0.5" />
<circle cx="113.16" cy="218.94" r="0.9" fill="none" stroke="#fff" stroke-width="0.5" />
<circle cx="113.4" cy="206.44" r="1" fill="#fff" stroke="#666" stroke-width="0.5" />
<circle cx="110.91" cy="206.91" r="1" fill="#fff" stroke="#666" stroke-width="0.5" />
<circle cx="115.16" cy="209.96" r="0.9" fill="none" stroke="#fff" stroke-width="0.5" />
<circle cx="111.26" cy="210.07" r="0.9" fill="none" stroke="#fff" stroke-width="0.5" />
<circle cx="112.9" cy="204.09" r="1" fill="#fff" stroke="#666" stroke-width="0.5" />
<circle cx="113.61" cy="207.77" r="1" fill="#fff" stroke="#666" stroke-width="0.5" />
<circle cx="113.07" cy="211.14" r="0.9" fill="none" stroke="#fff" stroke-width="0.5" />
<circle cx="116.33" cy="205.52" r="1" fill="#fff" stroke="#666" stroke-width="0.5" />
<circle cx="109.9" cy="223.1" r="0.9" fill="none" stroke="#fff" stroke-width="0.5" />
<circle cx="127.15" cy="206.23" r="0.9" fill="none" stroke="#fff" stroke-width="0.5" />
<circle cx="123.82" cy="197.69" r="1" fill="#fff" stroke="#666" stroke-width="0.5" />
<circle cx="123.91" cy="207.84" r="0.9" fill="none" stroke="#fff" stroke-width="0.5" />
<circle cx="124.66" cy="201.43" r="1" fill="#fff" stroke="#666" stroke-width="0.5" />
<circle cx="123.95" cy="204.35" r="0.9" fill="none" stroke="#fff" stroke-width="0.5" />
<circle cx="125.22" cy="206.08" r="0.9" fill="none" stroke="#fff" stroke-width="0.5" />
<circle cx="120.83" cy="194.44" r="1" fill="#fff" stroke="#666" stroke-width="0.5" />
<circle cx="123.58" cy="205.18" r="0.9" fill="none" stroke="#fff" stroke-width="0.5" />
<circle cx="124.62" cy="209.21" r="0.9" fill="none" stroke="#fff" stroke-width="0.5" />
<circle cx="122.75" cy="195.84" r="1" fill="#fff" stroke="#666" stroke-width="0.5" />
<circle cx="126.34" cy="200.66" r="1" fill="#fff" stroke="#666" stroke-width="0.5" />
<circle cx="125.28" cy="201.95" r="1" fill="#fff" stroke="#666" stroke-width="0.5" />
<circle cx="124.54" cy="192.6" r="1" fill="#fff" stroke="#666" stroke-width="0.5" />
<circle cx="124.34" cy="202.11" r="1" fill="#fff" stroke="#666" stroke-width="0.5" />
<circle cx="124.45" cy="204.31" r="0.9" fill="none" stroke="#fff" stroke-width="0.5" />
<circle cx="120.59" cy="205.78" r="0.9" fill="none" stroke="#fff" stroke-width="0.5" />
<circle cx="121.44" cy="208.49" r="0.9" fill="none" stroke="#fff" stroke-width="0.5" />
<circle cx="120.56" cy="206.04" r="0.9" fill="none" stroke="#fff" stroke-width="0.5" />
<circle cx="122.62" cy="205.5" r="0.9" fill="none" stroke="#fff" stroke-width="0.5" />
<circle cx="120.28" cy="210.2" r="0.9" fill="none" stroke="#fff" stroke-width="0.5" />
<circle cx="125.61" cy="201.89" r="1" fill="#fff" stroke="#666" stroke-width="0.5" />
<circle cx="120.16" cy="208.26" r="0.9" fill="none" stroke="#fff" stroke-width="0.5" />
<circle cx="126.87" cy="194.54" r="1" fill="#fff" stroke="#666" stroke-width="0.5" />
<circle cx="127.1" cy="216.47" r="0.9" fill="none" stroke="#fff" stroke-width="0.5" />
<circle cx="126.01" cy="211.66" r="0.9" fill="none" stroke="#fff" stroke-width="0.5" />
<circle cx="121.74" cy="199.04" r="1" fill="#fff" stroke="#666" stroke-width="0.5" />
<circle cx="138.28" cy="188.19" r="1" fill="#fff" stroke="#666" stroke-width="0.5" />
<circle cx="133.66" cy="188.89" r="1" fill="#fff" stroke="#666" stroke-width="0.5" />
<circle cx="133.73" cy="188.01" r="1" fill="#fff" stroke="#666" stroke-width="0.5" />
<circle cx="135.47" cy="183.98" r="1" fill="#fff" stroke="#666" stroke-width="0.5" />
<circle cx="138.01" cy="191.66" r="0.9" fill="none" stroke="#fff" stroke-width="0.5" />
<circle cx="135.45" cy="191.99" r="0.9" fill="none" stroke="#fff" stroke-width="0.5" />
<circle cx="137.28" cy="188.9" r="1" fill="#fff" stroke="#666" stroke-width="0.5" />
<circle cx="146.82" cy="187.87" r="1" fill="#fff" stroke="#666" stroke-width="0.5" />
<circle cx="144.58" cy="186.62" r="1" fill="#fff" stroke="#666" stroke-width="0.5" />
<circle cx="143.36" cy="191.99" r="0.9" fill="none" stroke="#fff" stroke-width="0.5" />
<circle cx="143.92" cy="186.39" r="1" fill="#fff" stroke="#666" stroke-width="0.5" />
<circle cx="144.96" cy="187.8" r="1" fill="#fff" stroke="#666" stroke-width="0.5" />
<circle cx="149.16" cy="188.58" r="0.9" fill="none" stroke="#fff" stroke-width="0.5" />
<circle cx="143.61" cy="188.99" r="0.9" fill="none" stroke="#fff" stroke-width="0.5" />
<circle cx="145.13" cy="188.77" r="0.9" fill="none" stroke="#fff" stroke-width="0.5" />
<circle cx="150.03" cy="188.99" r="0.9" fill="none" stroke="#fff" stroke-width="0.5" />
<circle cx="148.7" cy="184.93" r="1" fill="#fff" stroke="#666" stroke-width="0.5" />
<circle cx="149.34" cy="184.61" r="1" fill="#fff" stroke="#666" stroke-width="0.5" />
<circle cx="149.64" cy="190.39" r="0.9" fill="none" stroke="#fff" stroke-width="0.5" />
<circle cx="145.42" cy="187.21" r="1" fill="#fff" stroke="#666" stroke-width="0.5" />
<circle cx="144.93" cy="188.15" r="0.9" fill="none" stroke="#fff" stroke-width="0.5" />
<circle cx="145.63" cy="189.65" r="0.9" fill="none" stroke="#fff" stroke-width="0.5" />
<circle cx="161.83" cy="196.42" r="0.9" fill="none" stroke="#fff" stroke-width="0.5" />
<circle cx="157.79" cy="195.86" r="0.9" fill="none" stroke="#fff" stroke-width="0.5" />
<circle cx="159.12" cy="192.42" r="1" fill="#fff" stroke="#666" stroke-width="0.5" />
<circle cx="158.97" cy="197.46" r="0.9" fill="none" stroke="#fff" stroke-width="0.5" />
<circle cx="157.14" cy="196.86" r="0.9" fill="none" stroke="#fff" stroke-width="0.5" />
<circle cx="157.03" cy="196.48" r="0.9" fill="none" stroke="#fff" stroke-width="0.5" />
<circle cx="159.72" cy="192.04" r="1" fill="#fff" stroke="#666" stroke-width="0.5" />
<circle cx="160.54" cy="191.75" r="1" fill="#fff" stroke="#666" stroke-width="0.5" />
<circle cx="156.79" cy="188.64" r="1" fill="#fff" stroke="#666" stroke-width="0.5" />
<circle cx="159.02" cy="196.18" r="0.9" fill="none" stroke="#fff" stroke-width="0.5" />
<circle cx="160.17" cy="196.19" r="0.9" fill="none" stroke="#fff" stroke-width="0.5" />
<circle cx="161.08" cy="193.34" r="1" fill="#fff" stroke="#666" stroke-width="0.5" />
<circle cx="157.32" cy="201.31" r="0.9" fill="none" stroke="#fff" stroke-width="0.5" />
<circle cx="155.94" cy="197.01" r="0.9" fill="none" stroke="#fff" stroke-width="0.5" />
<circle cx="159.78" cy="194.73" r="0.9" fill="none" stroke="#fff" stroke-width="0.5" />
<circle cx="158.13" cy="200.97" r="0.9" fill="none" stroke="#fff" stroke-width="0.5" />
<circle cx="161.8" cy="192.56" r="1" fill="#fff" stroke="#666" stroke-width="0.5" />
<circle cx="160.96" cy="195.51" r="0.9" fill="none" stroke="#fff" stroke-width="0.5" />
<circle cx="157.85" cy="194.03" r="0.9" fill="none" stroke="#fff" stroke-width="0.5" />
<circle cx="159.52" cy="186.13" r="0.95" fill="#fff" stroke="#888" stroke-width="0.45" />
<circle cx="157.86" cy="185.41" r="0.95" fill="#fff" stroke="#888" stroke-width="0.45" />
<circle cx="167.1" cy="184.59" r="1" fill="#fff" stroke="#666" stroke-width="0.5" />
<circle cx="167.86" cy="189.1" r="1" fill="#fff" stroke="#666" stroke-width="0.5" />
<circle cx="172.65" cy="188.93" r="1" fill="#fff" stroke="#666" stroke-width="0.5" />
<circle cx="173.87" cy="188.6" r="1" fill="#fff" stroke="#666" stroke-width="0.5" />
<circle cx="173.11" cy="190.71" r="0.9" fill="none" stroke="#fff" stroke-width="0.5" />
<circle cx="170.39" cy="191.17" r="0.9" fill="none" stroke="#fff" stroke-width="0.5" />
<circle cx="169.35" cy="187.25" r="1" fill="#fff" stroke="#666" stroke-width="0.5" />
<circle cx="168.72" cy="186.96" r="1" fill="#fff" stroke="#666" stroke-width="0.5" />
<circle cx="168.1" cy="190.34" r="0.9" fill="none" stroke="#fff" stroke-width="0.5" />
<circle cx="171.15" cy="187.51" r="1" fill="#fff" stroke="#666" stroke-width="0.5" />
<circle cx="166.87" cy="187.53" r="1" fill="#fff" stroke="#666" stroke-width="0.5" />
<circle cx="171.66" cy="191.49" r="0.9" fill="none" stroke="#fff" stroke-width="0.5" />
<circle cx="172.95" cy="186.99" r="1" fill="#fff" stroke="#666" stroke-width="0.5" />
<circle cx="171.61" cy="189.12" r="1" fill="#fff" stroke="#666" stroke-width="0.5" />
<circle cx="168.74" cy="186.4" r="1" fill="#fff" stroke="#666" stroke-width="0.5" />
<circle cx="167.82" cy="191.4" r="0.9" fill="none" stroke="#fff" stroke-width="0.5" />
<circle cx="168.45" cy="192.53" r="0.9" fill="none" stroke="#fff" stroke-width="0.5" />
<circle cx="169.15" cy="188.45" r="1" fill="#fff" stroke="#666" stroke-width="0.5" />
<circle cx="171.07" cy="189.45" r="0.9" fill="none" stroke="#fff" stroke-width="0.5" />
<circle cx="170.67" cy="191.42" r="0.9" fill="none" stroke="#fff" stroke-width="0.5" />
<circle cx="168.12" cy="188.98" r="1" fill="#fff" stroke="#666" stroke-width="0.5" />
<circle cx="172.33" cy="189.64" r="0.9" fill="none" stroke="#fff" stroke-width="0.5" />
<circle cx="167.76" cy="189.9" r="0.9" fill="none" stroke="#fff" stroke-width="0.5" />
<circle cx="168.3" cy="190.28" r="0.9" fill="none" stroke="#fff" stroke-width="0.5" />
<circle cx="168.34" cy="193.91" r="0.9" fill="none" stroke="#fff" stroke-width="0.5" />
<circle cx="168.24" cy="190.67" r="0.9" fill="none" stroke="#fff" stroke-width="0.5" />
<line x1="90.15" y1="218.08" x2="90.15" y2="215.92" stroke="#000" stroke-width="0.7" />
<line x1="88.35" y1="215.92" x2="91.95" y2="215.92" stroke="#000" stroke-width="0.7" />
<line x1="100.55" y1="214.49" x2="100.55" y2="212.69" stroke="#000" stroke-width="0.7" />
<line x1="98.75" y1="212.69" x2="102.35" y2="212.69" stroke="#000" stroke-width="0.7" />
<line x1="113.2" y1="208.1" x2="113.2" y2="206.66" stroke="#000" stroke-width="0.7" />
<line x1="111.4" y1="206.66" x2="115" y2="206.66" stroke="#000" stroke-width="0.7" />
<line x1="123.65" y1="203.21" x2="123.65" y2="201.92" stroke="#000" stroke-width="0.7" />
<line x1="121.85" y1="201.92" x2="125.45" y2="201.92" stroke="#000" stroke-width="0.7" />
<line x1="136.35" y1="189.43" x2="136.35" y2="188.35" stroke="#000" stroke-width="0.7" />
<line x1="134.55" y1="188.35" x2="138.15" y2="188.35" stroke="#000" stroke-width="0.7" />
<line x1="146.7" y1="187.99" x2="146.7" y2="187.42" stroke="#000" stroke-width="0.7" />
<line x1="144.9" y1="187.42" x2="148.5" y2="187.42" stroke="#000" stroke-width="0.7" />
<line x1="159.4" y1="193.88" x2="159.4" y2="193.02" stroke="#000" stroke-width="0.7" />
<line x1="157.6" y1="193.02" x2="161.2" y2="193.02" stroke="#000" stroke-width="0.7" />
<line x1="170.35" y1="189.43" x2="170.35" y2="188.93" stroke="#000" stroke-width="0.7" />
<line x1="168.55" y1="188.93" x2="172.15" y2="188.93" stroke="#000" stroke-width="0.7" />
<path d="M89.3 169.7V165.4H100.6V169.7" stroke="#000" stroke-width="0.7" fill="none" />
<text x="94.95" y="160.5" dy="0.35em" font-size="6.3" stroke="#000" stroke-width="0.08" text-anchor="middle">ns</text>
<path d="M112.4 169.7V165.4H123.8V169.7" stroke="#000" stroke-width="0.7" fill="none" />
<text x="118.1" y="161" dy="0.35em" font-size="7" stroke="#000" stroke-width="0.08" text-anchor="middle">0.0435</text>
<path d="M136.2 182.5V178.6H146.5V182.5" stroke="#000" stroke-width="0.7" fill="none" />
<text x="141.35" y="174" dy="0.35em" font-size="7" stroke="#000" stroke-width="0.08" text-anchor="middle">0.0465</text>
<path d="M158.9 178.6V174.6H169.6V178.6" stroke="#000" stroke-width="0.7" fill="none" />
<text x="164.25" y="170.3" dy="0.35em" font-size="7" stroke="#000" stroke-width="0.08" text-anchor="middle">0.0015</text>
<text transform="translate(90.3,192.4) rotate(-90)" dy="0.35em" font-size="6.3" stroke="#000" stroke-width="0.08">n = 28</text>
<text transform="translate(100.5,192.4) rotate(-90)" dy="0.35em" font-size="6.3" stroke="#000" stroke-width="0.08">n = 36</text>
<text transform="translate(113.9,189.4) rotate(-90)" dy="0.35em" font-size="6.3" stroke="#000" stroke-width="0.08">n = 19</text>
<text transform="translate(123.4,189.4) rotate(-90)" dy="0.35em" font-size="6.3" stroke="#000" stroke-width="0.08">n = 26</text>
<text transform="translate(136.1,249.5) rotate(-90)" dy="0.35em" font-size="6.3" fill="#fff" stroke="#fff" stroke-width="0.08">n = 7</text>
<text transform="translate(145.9,249.5) rotate(-90)" dy="0.35em" font-size="6.3" fill="#fff" stroke="#fff" stroke-width="0.08">n = 15</text>
<text transform="translate(158.9,249.5) rotate(-90)" dy="0.35em" font-size="6.3" fill="#fff" stroke="#fff" stroke-width="0.08">n = 19</text>
<text transform="translate(170.7,249.5) rotate(-90)" dy="0.35em" font-size="6.3" fill="#fff" stroke="#fff" stroke-width="0.08">n = 26 wells</text>
<text x="95.35" y="295.3" dy="0.35em" font-size="6" font-style="italic" fill="#8e8e8e" stroke="#8e8e8e" stroke-width="0.08" text-anchor="middle">15 days</text>
<text x="118.45" y="295.3" dy="0.35em" font-size="6" font-style="italic" fill="#8e8e8e" stroke="#8e8e8e" stroke-width="0.08" text-anchor="middle">30 days</text>
<text x="141.55" y="295.3" dy="0.35em" font-size="6" font-style="italic" fill="#8e8e8e" stroke="#8e8e8e" stroke-width="0.08" text-anchor="middle">60 days</text>
<text x="164.85" y="295.3" dy="0.35em" font-size="6" font-style="italic" fill="#8e8e8e" stroke="#8e8e8e" stroke-width="0.08" text-anchor="middle">90 days</text>
<text x="217.5" y="165.5" dy="0.35em" font-size="11.2" font-weight="bold">D</text>
<rect x="232.7" y="158.4" width="20.4" height="140.3" fill="#fff" stroke="#000" stroke-width="1" />
<text transform="translate(242.9,228.55) rotate(-90)" dy="0.35em" font-size="8.4" text-anchor="middle">Stress on excitatory synapses</text>
<line x1="304.6" y1="181.3" x2="304.6" y2="252.6" stroke="#000" stroke-width="0.8" />
<line x1="302.4" y1="252.6" x2="304.6" y2="252.6" stroke="#000" stroke-width="0.8" />
<text x="301.4" y="252.6" dy="0.35em" font-size="7" stroke="#000" stroke-width="0.08" text-anchor="end">0.0</text>
<line x1="302.4" y1="238.34" x2="304.6" y2="238.34" stroke="#000" stroke-width="0.8" />
<text x="301.4" y="238.34" dy="0.35em" font-size="7" stroke="#000" stroke-width="0.08" text-anchor="end">0.4</text>
<line x1="302.4" y1="224.08" x2="304.6" y2="224.08" stroke="#000" stroke-width="0.8" />
<text x="301.4" y="224.08" dy="0.35em" font-size="7" stroke="#000" stroke-width="0.08" text-anchor="end">0.8</text>
<line x1="302.4" y1="209.82" x2="304.6" y2="209.82" stroke="#000" stroke-width="0.8" />
<text x="301.4" y="209.82" dy="0.35em" font-size="7" stroke="#000" stroke-width="0.08" text-anchor="end">1.2</text>
<line x1="302.4" y1="195.56" x2="304.6" y2="195.56" stroke="#000" stroke-width="0.8" />
<text x="301.4" y="195.56" dy="0.35em" font-size="7" stroke="#000" stroke-width="0.08" text-anchor="end">1.6</text>
<line x1="302.4" y1="181.3" x2="304.6" y2="181.3" stroke="#000" stroke-width="0.8" />
<text x="301.4" y="181.3" dy="0.35em" font-size="7" stroke="#000" stroke-width="0.08" text-anchor="end">2.0</text>
<line x1="303.28" y1="245.47" x2="304.6" y2="245.47" stroke="#000" stroke-width="0.64" />
<line x1="303.28" y1="231.21" x2="304.6" y2="231.21" stroke="#000" stroke-width="0.64" />
<line x1="303.28" y1="216.95" x2="304.6" y2="216.95" stroke="#000" stroke-width="0.64" />
<line x1="303.28" y1="202.69" x2="304.6" y2="202.69" stroke="#000" stroke-width="0.64" />
<line x1="303.28" y1="188.43" x2="304.6" y2="188.43" stroke="#000" stroke-width="0.64" />
<text transform="translate(268.5,216.9) rotate(-90)" dy="0.35em" font-size="7" text-anchor="middle">Excitatory synapse density per 100um<tspan font-size="4.6" dy="-2.6">2</tspan></text>
<text transform="translate(276.6,216.9) rotate(-90)" dy="0.35em" font-size="7" stroke="#000" stroke-width="0.08" text-anchor="middle">(PSD-95+ SYN+ MAP2+)</text>
<text transform="translate(285,214.2) rotate(-90)" dy="0.35em" font-size="7" stroke="#000" stroke-width="0.08" text-anchor="middle">(normalised)</text>
<rect x="309.8" y="216.95" width="9.9" height="35.65" fill="#000" stroke="#000" stroke-width="0.8" />
<rect x="321.3" y="218.73" width="10.4" height="33.87" fill="#8a8a8a" stroke="#000" stroke-width="0.8" />
<rect x="333.1" y="204.47" width="9.5" height="48.13" fill="#ff2a0c" stroke="#000" stroke-width="0.8" />
<rect x="344.7" y="196.81" width="9.8" height="55.79" fill="#f98c7c" stroke="#000" stroke-width="0.8" />
<line x1="304.6" y1="252.6" x2="356" y2="252.6" stroke="#000" stroke-width="0.8" />
<line x1="314.75" y1="252.6" x2="314.75" y2="254.6" stroke="#000" stroke-width="0.7" />
<text transform="translate(313.35,258.8) rotate(-45)" dy="0.3em" font-size="7.5" stroke="#000" stroke-width="0.08" text-anchor="end">Neurotypical</text>
<line x1="326.5" y1="252.6" x2="326.5" y2="254.6" stroke="#000" stroke-width="0.7" />
<text transform="translate(325.1,258.8) rotate(-45)" dy="0.3em" font-size="7.5" stroke="#000" stroke-width="0.08" text-anchor="end">Neurotypical + Stress</text>
<line x1="337.85" y1="252.6" x2="337.85" y2="254.6" stroke="#000" stroke-width="0.7" />
<text transform="translate(336.45,258.8) rotate(-45)" dy="0.3em" font-size="7.5" stroke="#000" stroke-width="0.08" text-anchor="end">MPSIIIA</text>
<line x1="349.6" y1="252.6" x2="349.6" y2="254.6" stroke="#000" stroke-width="0.7" />
<text transform="translate(348.2,258.8) rotate(-45)" dy="0.3em" font-size="7.5" stroke="#000" stroke-width="0.08" text-anchor="end">MPSIIIA + Stress</text>
<circle cx="317.93" cy="222.19" r="0.9" fill="none" stroke="#fff" stroke-width="0.5" />
<circle cx="314.49" cy="215.33" r="1" fill="#fff" stroke="#666" stroke-width="0.5" />
<circle cx="312.38" cy="222.64" r="0.9" fill="none" stroke="#fff" stroke-width="0.5" />
<circle cx="314.84" cy="217.23" r="0.9" fill="none" stroke="#fff" stroke-width="0.5" />
<circle cx="311.71" cy="222.15" r="0.9" fill="none" stroke="#fff" stroke-width="0.5" />
<circle cx="313.28" cy="222.48" r="0.9" fill="none" stroke="#fff" stroke-width="0.5" />
<circle cx="316.2" cy="210.39" r="1" fill="#fff" stroke="#666" stroke-width="0.5" />
<circle cx="313.03" cy="208.04" r="0.95" fill="#fff" stroke="#888" stroke-width="0.45" />
<circle cx="330.36" cy="211.73" r="1" fill="#fff" stroke="#666" stroke-width="0.5" />
<circle cx="327.42" cy="208.6" r="1" fill="#fff" stroke="#666" stroke-width="0.5" />
<circle cx="323.76" cy="221.01" r="0.9" fill="none" stroke="#f4f4f4" stroke-width="0.5" />
<circle cx="322.98" cy="210.03" r="1" fill="#fff" stroke="#666" stroke-width="0.5" />
<circle cx="324.02" cy="217.91" r="1" fill="#fff" stroke="#666" stroke-width="0.5" />
<circle cx="326.21" cy="218.64" r="1" fill="#fff" stroke="#666" stroke-width="0.5" />
<circle cx="326.02" cy="216.97" r="1" fill="#fff" stroke="#666" stroke-width="0.5" />
<circle cx="327.62" cy="214" r="1" fill="#fff" stroke="#666" stroke-width="0.5" />
<circle cx="326.5" cy="225.95" r="0.9" fill="none" stroke="#f4f4f4" stroke-width="0.5" />
<circle cx="324.73" cy="222.85" r="0.9" fill="none" stroke="#f4f4f4" stroke-width="0.5" />
<circle cx="330.48" cy="225.45" r="0.9" fill="none" stroke="#f4f4f4" stroke-width="0.5" />
<circle cx="328.16" cy="205.08" r="1" fill="#fff" stroke="#666" stroke-width="0.5" />
<circle cx="325.02" cy="219.1" r="0.9" fill="none" stroke="#f4f4f4" stroke-width="0.5" />
<circle cx="323.06" cy="217.98" r="1" fill="#fff" stroke="#666" stroke-width="0.5" />
<circle cx="328.63" cy="212.89" r="1" fill="#fff" stroke="#666" stroke-width="0.5" />
<circle cx="326.1" cy="200.91" r="0.95" fill="#fff" stroke="#888" stroke-width="0.45" />
<circle cx="327.89" cy="195.56" r="0.95" fill="#fff" stroke="#888" stroke-width="0.45" />
<circle cx="326.05" cy="193.78" r="0.95" fill="#fff" stroke="#888" stroke-width="0.45" />
<circle cx="334.3" cy="199.13" r="1" fill="#fff" stroke="#666" stroke-width="0.5" />
<circle cx="335.79" cy="205.91" r="0.9" fill="none" stroke="#fff" stroke-width="0.5" />
<circle cx="341.26" cy="201.76" r="1" fill="#fff" stroke="#666" stroke-width="0.5" />
<circle cx="337.12" cy="206.19" r="0.9" fill="none" stroke="#fff" stroke-width="0.5" />
<circle cx="339.83" cy="200.87" r="1" fill="#fff" stroke="#666" stroke-width="0.5" />
<circle cx="336.22" cy="202.69" r="1" fill="#fff" stroke="#666" stroke-width="0.5" />
<circle cx="341.14" cy="202.28" r="1" fill="#fff" stroke="#666" stroke-width="0.5" />
<circle cx="339.68" cy="203.14" r="1" fill="#fff" stroke="#666" stroke-width="0.5" />
<circle cx="335.02" cy="202.89" r="1" fill="#fff" stroke="#666" stroke-width="0.5" />
<circle cx="334.73" cy="203.02" r="1" fill="#fff" stroke="#666" stroke-width="0.5" />
<circle cx="338.27" cy="203.95" r="1" fill="#fff" stroke="#666" stroke-width="0.5" />
<circle cx="337.48" cy="206.18" r="0.9" fill="none" stroke="#fff" stroke-width="0.5" />
<circle cx="335.23" cy="202.79" r="1" fill="#fff" stroke="#666" stroke-width="0.5" />
<circle cx="338.87" cy="200.16" r="1" fill="#fff" stroke="#666" stroke-width="0.5" />
<circle cx="336.49" cy="199.12" r="0.95" fill="#fff" stroke="#888" stroke-width="0.45" />
<circle cx="347.9" cy="198.97" r="0.9" fill="none" stroke="#f4f4f4" stroke-width="0.5" />
<circle cx="353.08" cy="195.63" r="1" fill="#fff" stroke="#666" stroke-width="0.5" />
<circle cx="352.45" cy="195.81" r="1" fill="#fff" stroke="#666" stroke-width="0.5" />
<circle cx="347.46" cy="199.67" r="0.9" fill="none" stroke="#f4f4f4" stroke-width="0.5" />
<circle cx="350.65" cy="202.32" r="0.9" fill="none" stroke="#f4f4f4" stroke-width="0.5" />
<circle cx="346.64" cy="192.49" r="1" fill="#fff" stroke="#666" stroke-width="0.5" />
<circle cx="347.81" cy="194.34" r="1" fill="#fff" stroke="#666" stroke-width="0.5" />
<circle cx="351.62" cy="196.97" r="0.9" fill="none" stroke="#f4f4f4" stroke-width="0.5" />
<circle cx="346.44" cy="198.23" r="0.9" fill="none" stroke="#f4f4f4" stroke-width="0.5" />
<circle cx="346.57" cy="194.18" r="1" fill="#fff" stroke="#666" stroke-width="0.5" />
<circle cx="350.35" cy="199.12" r="0.9" fill="none" stroke="#f4f4f4" stroke-width="0.5" />
<circle cx="348.65" cy="198.13" r="0.9" fill="none" stroke="#f4f4f4" stroke-width="0.5" />
<circle cx="349.48" cy="205.44" r="0.9" fill="none" stroke="#f4f4f4" stroke-width="0.5" />
<circle cx="350.15" cy="194.2" r="1" fill="#fff" stroke="#666" stroke-width="0.5" />
<circle cx="347.04" cy="195.29" r="1" fill="#fff" stroke="#666" stroke-width="0.5" />
<circle cx="352.62" cy="198.49" r="0.9" fill="none" stroke="#f4f4f4" stroke-width="0.5" />
<circle cx="350.78" cy="192" r="0.95" fill="#fff" stroke="#888" stroke-width="0.45" />
<circle cx="348.67" cy="190.21" r="0.95" fill="#fff" stroke="#888" stroke-width="0.45" />
<line x1="314.75" y1="216.95" x2="314.75" y2="215.17" stroke="#000" stroke-width="0.7" />
<line x1="312.95" y1="215.17" x2="316.55" y2="215.17" stroke="#000" stroke-width="0.7" />
<line x1="326.5" y1="218.73" x2="326.5" y2="215.52" stroke="#000" stroke-width="0.7" />
<line x1="324.7" y1="215.52" x2="328.3" y2="215.52" stroke="#000" stroke-width="0.7" />
<line x1="337.85" y1="204.47" x2="337.85" y2="203.05" stroke="#000" stroke-width="0.7" />
<line x1="336.05" y1="203.05" x2="339.65" y2="203.05" stroke="#000" stroke-width="0.7" />
<line x1="349.6" y1="196.81" x2="349.6" y2="195.38" stroke="#000" stroke-width="0.7" />
<line x1="347.8" y1="195.38" x2="351.4" y2="195.38" stroke="#000" stroke-width="0.7" />
<path d="M314.5 203V159.7H326.3V163" stroke="#000" stroke-width="0.7" fill="none" />
<text x="320.4" y="156" dy="0.35em" font-size="6.3" stroke="#000" stroke-width="0.08" text-anchor="middle">ns</text>
<path d="M337.3 182.5V178.6H349.4V182.5" stroke="#000" stroke-width="0.7" fill="none" />
<text x="343.35" y="174.3" dy="0.35em" font-size="7" stroke="#000" stroke-width="0.08" text-anchor="middle">0.0052</text>
<text transform="translate(314.8,249.5) rotate(-90)" dy="0.35em" font-size="6.3" fill="#fff" stroke="#fff" stroke-width="0.08">n = 7</text>
<text transform="translate(327.1,183.5) rotate(-90)" dy="0.35em" font-size="6.3" stroke="#000" stroke-width="0.08">n = 15</text>
<text transform="translate(337.9,249.5) rotate(-90)" dy="0.35em" font-size="6.3" fill="#fff" stroke="#fff" stroke-width="0.08">n = 14</text>
<text transform="translate(349.7,249.5) rotate(-90)" dy="0.35em" font-size="6.3" fill="#000" stroke="#000" stroke-width="0.08">n = 16 wells</text>
<text x="327.8" y="303.6" dy="0.35em" font-size="6" font-style="italic" fill="#8e8e8e" stroke="#8e8e8e" stroke-width="0.08" text-anchor="middle">30 days</text>
<line x1="417.2" y1="184.5" x2="417.2" y2="252.2" stroke="#000" stroke-width="0.8" />
<line x1="415" y1="252.2" x2="417.2" y2="252.2" stroke="#000" stroke-width="0.8" />
<text x="414" y="252.2" dy="0.35em" font-size="7" stroke="#000" stroke-width="0.08" text-anchor="end">0.0</text>
<line x1="415" y1="242.53" x2="417.2" y2="242.53" stroke="#000" stroke-width="0.8" />
<text x="414" y="242.53" dy="0.35em" font-size="7" stroke="#000" stroke-width="0.08" text-anchor="end">0.2</text>
<line x1="415" y1="232.86" x2="417.2" y2="232.86" stroke="#000" stroke-width="0.8" />
<text x="414" y="232.86" dy="0.35em" font-size="7" stroke="#000" stroke-width="0.08" text-anchor="end">0.4</text>
<line x1="415" y1="223.18" x2="417.2" y2="223.18" stroke="#000" stroke-width="0.8" />
<text x="414" y="223.18" dy="0.35em" font-size="7" stroke="#000" stroke-width="0.08" text-anchor="end">0.6</text>
<line x1="415" y1="213.51" x2="417.2" y2="213.51" stroke="#000" stroke-width="0.8" />
<text x="414" y="213.51" dy="0.35em" font-size="7" stroke="#000" stroke-width="0.08" text-anchor="end">0.8</text>
<line x1="415" y1="203.84" x2="417.2" y2="203.84" stroke="#000" stroke-width="0.8" />
<text x="414" y="203.84" dy="0.35em" font-size="7" stroke="#000" stroke-width="0.08" text-anchor="end">1.0</text>
<line x1="415" y1="194.17" x2="417.2" y2="194.17" stroke="#000" stroke-width="0.8" />
<text x="414" y="194.17" dy="0.35em" font-size="7" stroke="#000" stroke-width="0.08" text-anchor="end">1.2</text>
<line x1="415" y1="184.5" x2="417.2" y2="184.5" stroke="#000" stroke-width="0.8" />
<text x="414" y="184.5" dy="0.35em" font-size="7" stroke="#000" stroke-width="0.08" text-anchor="end">1.4</text>
<line x1="415.88" y1="247.36" x2="417.2" y2="247.36" stroke="#000" stroke-width="0.64" />
<line x1="415.88" y1="237.69" x2="417.2" y2="237.69" stroke="#000" stroke-width="0.64" />
<line x1="415.88" y1="228.02" x2="417.2" y2="228.02" stroke="#000" stroke-width="0.64" />
<line x1="415.88" y1="218.35" x2="417.2" y2="218.35" stroke="#000" stroke-width="0.64" />
<line x1="415.88" y1="208.68" x2="417.2" y2="208.68" stroke="#000" stroke-width="0.64" />
<line x1="415.88" y1="199" x2="417.2" y2="199" stroke="#000" stroke-width="0.64" />
<line x1="415.88" y1="189.33" x2="417.2" y2="189.33" stroke="#000" stroke-width="0.64" />
<text transform="translate(382,217) rotate(-90)" dy="0.35em" font-size="7" stroke="#000" stroke-width="0.08" text-anchor="middle">% of excitatory/total synapses</text>
<text transform="translate(390.5,217) rotate(-90)" dy="0.35em" font-size="7" stroke="#000" stroke-width="0.08" text-anchor="middle">(PSD-95+SYN+MAP2+/SYN+MAP2+)</text>
<text transform="translate(398.8,214.5) rotate(-90)" dy="0.35em" font-size="7" stroke="#000" stroke-width="0.08" text-anchor="middle">(normalised)</text>
<rect x="422.2" y="203.84" width="10.4" height="48.36" fill="#000" stroke="#000" stroke-width="0.8" />
<rect x="434.2" y="206.26" width="10" height="45.94" fill="#8a8a8a" stroke="#000" stroke-width="0.8" />
<rect x="445.8" y="197.55" width="9.6" height="54.65" fill="#ff2a0c" stroke="#000" stroke-width="0.8" />
<rect x="457.5" y="187.88" width="10.5" height="64.32" fill="#f98c7c" stroke="#000" stroke-width="0.8" />
<line x1="417.2" y1="252.2" x2="472.8" y2="252.2" stroke="#000" stroke-width="0.8" />
<line x1="427.4" y1="252.2" x2="427.4" y2="254.2" stroke="#000" stroke-width="0.7" />
<text transform="translate(426,258.4) rotate(-45)" dy="0.3em" font-size="7.5" stroke="#000" stroke-width="0.08" text-anchor="end">Neurotypical</text>
<line x1="439.2" y1="252.2" x2="439.2" y2="254.2" stroke="#000" stroke-width="0.7" />
<text transform="translate(437.8,258.4) rotate(-45)" dy="0.3em" font-size="7.5" stroke="#000" stroke-width="0.08" text-anchor="end">Neurotypical + Stress</text>
<line x1="450.6" y1="252.2" x2="450.6" y2="254.2" stroke="#000" stroke-width="0.7" />
<text transform="translate(449.2,258.4) rotate(-45)" dy="0.3em" font-size="7.5" stroke="#000" stroke-width="0.08" text-anchor="end">MPSIIIA</text>
<line x1="462.75" y1="252.2" x2="462.75" y2="254.2" stroke="#000" stroke-width="0.7" />
<text transform="translate(461.35,258.4) rotate(-45)" dy="0.3em" font-size="7.5" stroke="#000" stroke-width="0.08" text-anchor="end">MPSIIIA + Stress</text>
<circle cx="428.73" cy="214.32" r="0.9" fill="none" stroke="#fff" stroke-width="0.5" />
<circle cx="424.54" cy="202.15" r="1" fill="#fff" stroke="#666" stroke-width="0.5" />
<circle cx="425.59" cy="196.83" r="1" fill="#fff" stroke="#666" stroke-width="0.5" />
<circle cx="429.88" cy="203.36" r="1" fill="#fff" stroke="#666" stroke-width="0.5" />
<circle cx="427.87" cy="207.43" r="0.9" fill="none" stroke="#fff" stroke-width="0.5" />
<circle cx="428.69" cy="213" r="0.9" fill="none" stroke="#fff" stroke-width="0.5" />
<circle cx="424.7" cy="199.06" r="1" fill="#fff" stroke="#666" stroke-width="0.5" />
<circle cx="429.02" cy="195.14" r="0.95" fill="#fff" stroke="#888" stroke-width="0.45" />
<circle cx="425.64" cy="195.14" r="0.95" fill="#fff" stroke="#888" stroke-width="0.45" />
<circle cx="441.62" cy="200.08" r="1" fill="#fff" stroke="#666" stroke-width="0.5" />
<circle cx="437.96" cy="196.4" r="1" fill="#fff" stroke="#666" stroke-width="0.5" />
<circle cx="438.48" cy="201.26" r="1" fill="#fff" stroke="#666" stroke-width="0.5" />
<circle cx="435.86" cy="205.49" r="1" fill="#fff" stroke="#666" stroke-width="0.5" />
<circle cx="442.35" cy="207.43" r="0.9" fill="none" stroke="#f4f4f4" stroke-width="0.5" />
<circle cx="442.9" cy="209.42" r="0.9" fill="none" stroke="#f4f4f4" stroke-width="0.5" />
<circle cx="442.6" cy="206.44" r="0.9" fill="none" stroke="#f4f4f4" stroke-width="0.5" />
<circle cx="436.43" cy="200.47" r="1" fill="#fff" stroke="#666" stroke-width="0.5" />
<circle cx="437.78" cy="201.31" r="1" fill="#fff" stroke="#666" stroke-width="0.5" />
<circle cx="440.7" cy="209.39" r="0.9" fill="none" stroke="#f4f4f4" stroke-width="0.5" />
<circle cx="435.79" cy="209.25" r="0.9" fill="none" stroke="#f4f4f4" stroke-width="0.5" />
<circle cx="438.44" cy="199.92" r="1" fill="#fff" stroke="#666" stroke-width="0.5" />
<circle cx="438.58" cy="194.52" r="1" fill="#fff" stroke="#666" stroke-width="0.5" />
<circle cx="438.32" cy="213.06" r="0.9" fill="none" stroke="#f4f4f4" stroke-width="0.5" />
<circle cx="435.63" cy="210.94" r="0.9" fill="none" stroke="#f4f4f4" stroke-width="0.5" />
<circle cx="440.06" cy="185.46" r="0.95" fill="#fff" stroke="#888" stroke-width="0.45" />
<circle cx="440.98" cy="184.5" r="0.95" fill="#fff" stroke="#888" stroke-width="0.45" />
<circle cx="441.01" cy="194.17" r="0.95" fill="#fff" stroke="#888" stroke-width="0.45" />
<circle cx="449.61" cy="198.73" r="0.9" fill="none" stroke="#fff" stroke-width="0.5" />
<circle cx="451.97" cy="199.5" r="0.9" fill="none" stroke="#fff" stroke-width="0.5" />
<circle cx="448.69" cy="198.1" r="0.9" fill="none" stroke="#fff" stroke-width="0.5" />
<circle cx="449.62" cy="198.61" r="0.9" fill="none" stroke="#fff" stroke-width="0.5" />
<circle cx="450.6" cy="201.95" r="0.9" fill="none" stroke="#fff" stroke-width="0.5" />
<circle cx="447.2" cy="197.87" r="0.9" fill="none" stroke="#fff" stroke-width="0.5" />
<circle cx="450.74" cy="196.42" r="1" fill="#fff" stroke="#666" stroke-width="0.5" />
<circle cx="448.6" cy="199.86" r="0.9" fill="none" stroke="#fff" stroke-width="0.5" />
<circle cx="452.56" cy="199.7" r="0.9" fill="none" stroke="#fff" stroke-width="0.5" />
<circle cx="447.74" cy="196.5" r="1" fill="#fff" stroke="#666" stroke-width="0.5" />
<circle cx="452.01" cy="198.99" r="0.9" fill="none" stroke="#fff" stroke-width="0.5" />
<circle cx="447.27" cy="198.02" r="0.9" fill="none" stroke="#fff" stroke-width="0.5" />
<circle cx="451.59" cy="197.92" r="0.9" fill="none" stroke="#fff" stroke-width="0.5" />
<circle cx="447.37" cy="195.36" r="1" fill="#fff" stroke="#666" stroke-width="0.5" />
<circle cx="450.45" cy="185.46" r="0.95" fill="#fff" stroke="#888" stroke-width="0.45" />
<circle cx="462.56" cy="187.38" r="1" fill="#fff" stroke="#666" stroke-width="0.5" />
<circle cx="466.47" cy="185.98" r="1" fill="#fff" stroke="#666" stroke-width="0.5" />
<circle cx="460.06" cy="193.88" r="0.9" fill="none" stroke="#f4f4f4" stroke-width="0.5" />
<circle cx="466.19" cy="187.16" r="1" fill="#fff" stroke="#666" stroke-width="0.5" />
<circle cx="464.76" cy="188.91" r="0.9" fill="none" stroke="#f4f4f4" stroke-width="0.5" />
<circle cx="466.09" cy="186.7" r="1" fill="#fff" stroke="#666" stroke-width="0.5" />
<circle cx="464.94" cy="185.97" r="1" fill="#fff" stroke="#666" stroke-width="0.5" />
<circle cx="461.47" cy="187.8" r="1" fill="#fff" stroke="#666" stroke-width="0.5" />
<circle cx="459.02" cy="187.86" r="1" fill="#fff" stroke="#666" stroke-width="0.5" />
<circle cx="463.71" cy="187.56" r="1" fill="#fff" stroke="#666" stroke-width="0.5" />
<circle cx="462.78" cy="179.21" r="1" fill="#fff" stroke="#666" stroke-width="0.5" />
<circle cx="458.89" cy="188.77" r="0.9" fill="none" stroke="#f4f4f4" stroke-width="0.5" />
<circle cx="465.44" cy="189.75" r="0.9" fill="none" stroke="#f4f4f4" stroke-width="0.5" />
<circle cx="463.88" cy="184.06" r="1" fill="#fff" stroke="#666" stroke-width="0.5" />
<circle cx="462.57" cy="187.5" r="1" fill="#fff" stroke="#666" stroke-width="0.5" />
<circle cx="463.78" cy="184.95" r="1" fill="#fff" stroke="#666" stroke-width="0.5" />
<circle cx="461.79" cy="183.53" r="0.95" fill="#fff" stroke="#888" stroke-width="0.45" />
<circle cx="464.56" cy="183.05" r="0.95" fill="#fff" stroke="#888" stroke-width="0.45" />
<line x1="427.4" y1="203.84" x2="427.4" y2="201.42" stroke="#000" stroke-width="0.7" />
<line x1="425.6" y1="201.42" x2="429.2" y2="201.42" stroke="#000" stroke-width="0.7" />
<line x1="439.2" y1="206.26" x2="439.2" y2="202.87" stroke="#000" stroke-width="0.7" />
<line x1="437.4" y1="202.87" x2="441" y2="202.87" stroke="#000" stroke-width="0.7" />
<line x1="450.6" y1="197.55" x2="450.6" y2="196.1" stroke="#000" stroke-width="0.7" />
<line x1="448.8" y1="196.1" x2="452.4" y2="196.1" stroke="#000" stroke-width="0.7" />
<line x1="462.75" y1="187.88" x2="462.75" y2="186.43" stroke="#000" stroke-width="0.7" />
<line x1="460.95" y1="186.43" x2="464.55" y2="186.43" stroke="#000" stroke-width="0.7" />
<path d="M426.2 179.7V175.7H439.4V179.7" stroke="#000" stroke-width="0.7" fill="none" />
<text x="432.8" y="172.3" dy="0.35em" font-size="6.3" stroke="#000" stroke-width="0.08" text-anchor="middle">ns</text>
<path d="M450.3 179.7V175.7H463.1V179.7" stroke="#000" stroke-width="0.7" fill="none" />
<text x="456.7" y="172.3" dy="0.35em" font-size="7" stroke="#000" stroke-width="0.08" text-anchor="middle">&lt;0.0001</text>
<text transform="translate(427.3,249.5) rotate(-90)" dy="0.35em" font-size="6.3" fill="#fff" stroke="#fff" stroke-width="0.08">n = 7</text>
<text transform="translate(439.1,249.5) rotate(-90)" dy="0.35em" font-size="6.3" fill="#ddd" stroke="#ddd" stroke-width="0.08">n = 15</text>
<text transform="translate(450.5,249.5) rotate(-90)" dy="0.35em" font-size="6.3" fill="#fff" stroke="#fff" stroke-width="0.08">n = 14</text>
<text transform="translate(462.7,249.5) rotate(-90)" dy="0.35em" font-size="6.3" fill="#000" stroke="#000" stroke-width="0.08">n = 16 wells</text>
<text x="440.5" y="303.6" dy="0.35em" font-size="6" font-style="italic" fill="#8e8e8e" stroke="#8e8e8e" stroke-width="0.08" text-anchor="middle">30 days</text>
<rect x="1.7" y="310.2" width="211.5" height="29.6" fill="#fff" stroke="#000" stroke-width="1" />
<text x="107.45" y="319.95" dy="0.35em" font-size="8.3" text-anchor="middle">ACSF – spontaneous excitatory postsynaptic events</text>
<text x="107.45" y="330.05" dy="0.35em" font-size="8.3" text-anchor="middle">(AMPA)</text>
<rect x="227.3" y="310.9" width="225.1" height="28.4" fill="#fff" stroke="#000" stroke-width="1" />
<text x="339.85" y="320.05" dy="0.35em" font-size="8.3" text-anchor="middle">ACSF – spontaneous inhibitory postsynaptic events</text>
<text x="339.85" y="330.15" dy="0.35em" font-size="8.3" text-anchor="middle">(GABA)</text>
<rect x="464.4" y="309.4" width="192.1" height="29.2" fill="#fff" stroke="#000" stroke-width="1" />
<text x="560.45" y="318.95" dy="0.35em" font-size="8.3" text-anchor="middle">ACSF – excitatory and inhibitory balance</text>
<text x="560.45" y="329.05" dy="0.35em" font-size="8.3" text-anchor="middle">(AMPA/GABA)</text>
<text x="3" y="348.8" dy="0.35em" font-size="11.2" font-weight="bold">E</text>
<text x="110.8" y="349.6" dy="0.35em" font-size="8.9" stroke="#000" stroke-width="0.08" text-anchor="middle">Neurotypical</text>
<path d="M21.9 362.88 22.25 362.49 22.6 363.27 22.95 363.22 23.3 362.77 23.65 362.96 24 362.51 24.35 362.52 24.7 362.59 25.05 362.99 25.4 362.51 25.75 363.27 26.1 362.37 26.45 362.49 26.8 362.39 27.15 363.07 27.5 362.67 27.85 362.77 28.2 362.63 28.55 362.94 28.9 362.7 29.25 362.51 29.6 362.73 29.95 362.6 30.3 362.41 30.65 363.12 31 362.98 31.35 362.96 31.7 363.18 32.05 362.69 32.4 362.68 32.75 362.72 33.1 362.7 33.45 362.97 33.8 362.31 34.15 362.76 34.5 362.84 34.85 362.65 35.2 362.32 35.55 363 35.9 362.31 36.25 362.86 36.6 362.45 36.95 362.33 37.3 362.48 37.65 362.37 38 362.45 38.35 362.98 38.7 363.03 39.05 362.66 39.4 362.95 39.75 362.78 40.1 362.8 40.45 363.18 40.8 362.61 41.15 363.17 41.5 362.99 41.85 362.98 42.2 362.31 42.55 362.38 42.9 362.33 43.25 362.65 43.6 363.25 43.95 363.18 44.3 363.14 44.65 362.42 45 363.01 45.35 363.07 45.7 363.11 46.05 363.09 46.4 362.44 46.75 362.48 47.1 363.09 47.45 363.04 47.8 363.19 48.15 362.75 48.5 363.19 48.85 362.44 49.2 363.26 49.55 363.18 49.9 362.64 50.25 362.37 50.6 362.85 50.95 362.99 51.3 362.65 51.65 362.36 52 362.58 52.35 363.12 52.7 362.39 53.05 363.24 53.4 362.55 53.75 362.5 54.1 362.41 54.45 363.28 54.8 363.2 55.15 362.62 55.5 362.4 55.85 362.95 56.2 363.19 56.55 362.31 56.9 362.93 57.25 363.16 57.6 362.76 57.95 362.87 58.3 363.1 58.65 362.54 59 362.57 59.35 362.96 59.7 362.85 60.05 362.84 60.4 362.63 60.75 363.24 61.1 362.59 61.45 362.98 61.8 363.19 62.15 362.7 62.5 362.35 62.85 362.52 63.2 362.37 63.55 362.45 63.9 362.42 64.25 362.64 64.6 362.67 64.95 362.75 65.3 362.97 65.65 362.98 66 362.99 66.35 362.66 66.7 362.96 67.05 362.85 67.4 362.43 67.75 362.85 68.1 362.62 68.45 362.98 68.8 363.03 69.15 362.54 69.5 362.74 69.85 362.75 70.2 362.6 70.55 362.34 70.9 362.35 71.25 363.29 71.6 363.04 71.95 362.74 72.3 362.97 72.65 362.57 73 363.01 73.35 363.25 73.7 363.07 74.05 362.77 74.4 363.28 74.75 363.22 75.1 362.36 75.45 362.71 75.8 362.75 76.15 362.57 76.5 362.92 76.85 362.44 77.2 363.05 77.55 363.16 77.9 362.36 78.25 362.99 78.6 362.57 78.95 362.94 79.3 362.99 79.65 363.28 80 363.1 80.35 362.64 80.7 363.03 81.05 362.45 81.4 363.01 81.75 362.72 82.1 362.57 82.45 362.54 82.8 362.52 83.15 363.1 83.5 362.4 83.85 362.53 84.2 362.49 84.55 362.46 84.9 363.03 85.25 362.89 85.6 362.96 85.95 363.2 86.3 362.75 86.65 362.34 87 362.49 87.35 362.82 87.7 363.02 88.05 363.22 88.4 362.81 88.75 362.53 89.1 362.89 89.45 363.23 89.8 362.63 90.15 363.23 90.5 363.2 90.85 362.88 91.2 362.78 91.55 362.43 91.9 362.41 92.25 362.34 92.6 362.91 92.95 363.01 93.3 363.29 93.65 362.9 94 363.29 94.35 362.7 94.7 362.43 95.05 362.36 95.4 362.59 95.75 362.83 96.1 363.29 96.45 362.6 96.8 362.54 97.15 363.02 97.5 362.69 97.85 362.86 98.2 362.45 98.55 363.15 98.9 363.22 99.25 363.06 99.6 363.24 99.95 362.63 100.3 362.33 100.65 362.6 101 363.2 101.35 362.77 101.7 362.5 102.05 362.45 102.4 362.46 102.75 362.74 103.1 363.23 103.45 363.18 103.8 363.06 104.15 363.06 104.5 362.49 104.85 363.08 105.2 362.52 105.55 362.83 105.9 362.33 106.25 363.19 106.6 362.43 106.95 362.89 107.3 362.96 107.65 362.94 108 362.98 108.35 362.67 108.7 363.09 109.05 363.24 109.4 362.92 109.75 363.28 110.1 363.15 110.45 362.36 110.8 362.97 111.15 362.39 111.5 362.96 111.85 362.67 112.2 363.15 112.55 362.34 112.9 363.25 113.25 362.34 113.6 362.36 113.95 362.3 114.3 362.43 114.65 363.29 115 363.14 115.35 363.22 115.7 362.49 116.05 362.99 116.4 363.1 116.75 363.03 117.1 362.57 117.45 363.27 117.8 363.03 118.15 362.98 118.5 362.58 118.85 362.7 119.2 363.06 119.55 362.82 119.9 362.79 120.25 363.22 120.6 362.72 120.95 363.16 121.3 362.35 121.65 362.83 122 363.01 122.35 362.31 122.7 363 123.05 362.59 123.4 362.93 123.75 362.92 124.1 362.44 124.45 363.24 124.8 362.54 125.15 362.44 125.5 362.74 125.85 362.36 126.2 362.4 126.55 363.06 126.9 362.4 127.25 362.84 127.6 363.19 127.95 362.75 128.3 363.11 128.65 363.13 129 362.46 129.35 362.38 129.7 363.08 130.05 363.17 130.4 363.15 130.75 363.01 131.1 362.81 131.45 363.26 131.8 363.04 132.15 363.06 132.5 363.21 132.85 362.35 133.2 363.04 133.55 362.88 133.9 362.31 134.25 362.56 134.6 363.02 134.95 362.83 135.3 362.86 135.65 362.59 136 362.87 136.35 363.18 136.7 363.28 137.05 362.85 137.4 363.03 137.75 362.39 138.1 362.44 138.45 362.86 138.8 363.13 139.15 362.42 139.5 362.45 139.85 362.8 140.2 362.61 140.55 362.44 140.9 362.46 141.25 362.72 141.6 363.09 141.95 362.47 142.3 363.11 142.65 362.37 143 362.55 143.35 362.97 143.7 362.31 144.05 362.62 144.4 362.45 144.75 362.53 145.1 363.19 145.45 362.46 145.8 363.02 146.15 363.21 146.5 362.55 146.85 363.16 147.2 362.62 147.55 363.07 147.9 362.88 148.25 362.65 148.6 363.19 148.95 363 149.3 362.62 149.65 362.87 150 362.59 150.35 362.59 150.7 363.24 151.05 363.28 151.4 362.46 151.75 363.22 152.1 363.01 152.45 362.31 152.8 362.41 153.15 362.74 153.5 363.19 153.85 363.17 154.2 362.55 154.55 362.75 154.9 363.23 155.25 362.51 155.6 362.4 155.95 362.71 156.3 362.98 156.65 363.17 157 363.18 157.35 362.31 157.7 362.48 158.05 362.43 158.4 362.9 158.75 362.71 159.1 363.22 159.45 362.92 159.8 362.91 160.15 362.99 160.5 362.5 160.85 363.19 161.2 363.16 161.55 363.12 161.9 363.08 162.25 362.47 162.6 362.35 162.95 362.66 163.3 363.02 163.65 362.5 164 363.17 164.35 363.16 164.7 363 165.05 362.78 165.4 362.45 165.75 363.11 166.1 362.47 166.45 362.8 166.8 363.06 167.15 362.94 167.5 362.54 167.85 363.18 168.2 362.62 168.55 362.72 168.9 362.74 169.25 363 169.6 362.34 169.95 362.94 170.3 362.79 170.65 363.1 171 362.67 171.35 362.87 171.7 363.27 172.05 362.36 172.4 363.09 172.75 362.77 173.1 362.6 173.45 362.57 173.8 362.52 174.15 363.14 174.5 362.5 174.85 363.26 175.2 362.82 175.55 362.59 175.9 363.08 176.25 362.88 176.6 363.18 176.95 362.44 177.3 362.99 177.65 362.33 178 362.48 178.35 362.71 178.7 362.61 179.05 362.58 179.4 362.87 179.75 363.05 180.1 362.72 180.45 362.81 180.8 363.08" stroke="#111" stroke-width="0.9" fill="none" stroke-linejoin="round"/>
<path d="M58.15 362.8L58.3 364.89L58.75 363.1M165.69 362.8L165.84 365.44L166.29 363.1M161.91 362.8L162.06 364.66L162.51 363.1M133.5 362.8L133.65 365.68L134.1 363.1M85.6 362.8L85.75 368.27L86.2 363.1M172.48 362.8L172.63 364.57L173.08 363.1M70.94 362.8L71.09 366.87L71.54 363.1M84.44 362.8L84.59 365.64L85.04 363.1M165.89 362.8L166.04 369.8L166.49 363.1M163.03 362.8L163.18 366.38L163.63 363.1M86.75 362.8L86.9 366.8L87.35 363.1M66.39 362.8L66.54 366.49L66.99 363.1M175.1 362.8L175.25 364.43L175.7 363.1M49.16 362.8L49.31 367.62L49.76 363.1M85.93 362.8L86.08 366.49L86.53 363.1M50.26 362.8L50.41 365.92L50.86 363.1M86.06 362.8L86.21 365.89L86.66 363.1M95.12 362.8L95.27 368.18L95.72 363.1M62.62 362.8L62.77 365.4L63.22 363.1M39.08 362.8L39.23 369.6L39.68 363.1M31.23 362.8L31.38 367.14L31.83 363.1M162.43 362.8L162.58 364.5L163.03 363.1M56.08 362.8L56.23 366L56.68 363.1M93.14 362.8L93.29 373.37L93.74 363.1M162.76 362.8L162.91 365.56L163.36 363.1M158.33 362.8L158.48 366.87L158.93 363.1M84.29 362.8L84.44 365.47L84.89 363.1M134.4 362.8L134.55 369.16L135 363.1M122.72 362.8L122.87 367.85L123.32 363.1M42.77 362.8L42.92 366.29L43.37 363.1M162.98 362.8L163.13 365.06L163.58 363.1M91.91 362.8L92.06 369.21L92.51 363.1M45.8 362.8L45.95 366.24L46.4 363.1M127.09 362.8L127.24 367.13L127.69 363.1M162.96 362.8L163.11 368.06L163.56 363.1M150.73 362.8L150.88 365.34L151.33 363.1M166.59 362.8L166.74 369L167.19 363.1M59.05 362.8L59.2 366.69L59.65 363.1M115.58 362.8L115.73 375.68L116.18 363.1M84.08 362.8L84.23 367.59L84.68 363.1M56.83 362.8L56.98 365.94L57.43 363.1M156.33 362.8L156.48 366.48L156.93 363.1M148.01 362.8L148.16 367.03L148.61 363.1M67.56 362.8L67.71 366.71L68.16 363.1M135.51 362.8L135.66 370.04L136.11 363.1M85.45 362.8L85.6 367.69L86.05 363.1M176.64 362.8L176.79 365.86L177.24 363.1M169.59 362.8L169.74 365.96L170.19 363.1M108.62 362.8L108.77 366.79L109.22 363.1M132.45 362.8L132.6 367.52L133.05 363.1M87.29 362.8L87.44 365.81L87.89 363.1M80.34 362.8L80.49 366.53L80.94 363.1M26.55 362.8L26.7 366.18L27.15 363.1M132.79 362.8L132.94 365.57L133.39 363.1M73.09 362.8L73.24 367.11L73.69 363.1M70.91 362.8L71.06 369.62L71.51 363.1M125.53 362.8L125.68 366.6L126.13 363.1M86.18 362.8L86.33 365.61L86.78 363.1M73.68 362.8L73.83 365.95L74.28 363.1M94.39 362.8L94.54 365.45L94.99 363.1M134.72 362.8L134.87 368.24L135.32 363.1M104.12 362.8L104.27 366.46L104.72 363.1M89.27 362.8L89.42 366.57L89.87 363.1M100.79 362.8L100.94 374.93L101.39 363.1M135.66 362.8L135.81 365.48L136.26 363.1M23.35 362.8L23.5 365.01L23.95 363.1M84.23 362.8L84.38 367.25L84.83 363.1M62.26 362.8L62.41 368.19L62.86 363.1M85.97 362.8L86.12 368.42L86.57 363.1M154.88 362.8L155.03 367.37L155.48 363.1M87.98 362.8L88.13 365.63L88.58 363.1M87.35 362.8L87.5 367.22L87.95 363.1M86.45 362.8L86.6 369.69L87.05 363.1M98.1 362.8L98.25 366.05L98.7 363.1M163.07 362.8L163.22 366.56L163.67 363.1M162.16 362.8L162.31 365.33L162.76 363.1M165.93 362.8L166.08 367.05L166.53 363.1M161.16 362.8L161.31 365.6L161.76 363.1M164.57 362.8L164.72 367.77L165.17 363.1M57.56 362.8L57.71 364.84L58.16 363.1M78.5 362.8L78.65 366.69L79.1 363.1M85.46 362.8L85.61 364.9L86.06 363.1M85.45 362.8L85.6 365.81L86.05 363.1M161.06 362.8L161.21 368.51L161.66 363.1M166.77 362.8L166.92 367.58L167.37 363.1M106.26 362.8L106.41 365.44L106.86 363.1M154.41 362.8L154.56 368.98L155.01 363.1M37.97 362.8L38.12 366.61L38.57 363.1M172.53 362.8L172.68 365.1L173.13 363.1M86.77 362.8L86.92 365.45L87.37 363.1M37.03 362.8L37.18 365.13L37.63 363.1M127.38 362.8L127.53 366.59L127.98 363.1M176.56 362.8L176.71 365.31L177.16 363.1M164.3 362.8L164.45 367.31L164.9 363.1M87.16 362.8L87.31 365.4L87.76 363.1" stroke="#111" stroke-width="0.5" fill="none" opacity="0.8"/>
<line x1="28" y1="362.8" x2="28" y2="378.3" stroke="#222" stroke-width="0.5" />
<line x1="84.5" y1="362.8" x2="84.5" y2="371.8" stroke="#222" stroke-width="0.5" />
<line x1="86" y1="362.8" x2="86" y2="370.8" stroke="#222" stroke-width="0.5" />
<line x1="150" y1="362.8" x2="150" y2="369.8" stroke="#222" stroke-width="0.5" />
<line x1="165" y1="362.8" x2="165" y2="376.8" stroke="#222" stroke-width="0.5" />
<line x1="163" y1="362.8" x2="163" y2="372.8" stroke="#222" stroke-width="0.5" />
<line x1="42" y1="362.8" x2="42" y2="368.8" stroke="#222" stroke-width="0.5" />
<line x1="55" y1="362.8" x2="55" y2="368.8" stroke="#222" stroke-width="0.5" />
<line x1="106" y1="362.8" x2="106" y2="367.8" stroke="#222" stroke-width="0.5" />
<path d="M139.6 359.2H184V370.8" stroke="#000" stroke-width="1.3" fill="none" />
<text x="165.2" y="354.2" dy="0.35em" font-size="7.2" stroke="#000" stroke-width="0.08" text-anchor="middle">5s</text>
<text transform="translate(189.8,365.5) rotate(90)" dy="0.35em" font-size="7.2" stroke="#000" stroke-width="0.08" text-anchor="middle">100pA</text>
<line x1="180.6" y1="363" x2="180.6" y2="400" stroke="#bbb" stroke-width="0.5" />
<text x="110.4" y="390.8" dy="0.35em" font-size="8.9" fill="#b82228" stroke="#b82228" stroke-width="0.08" text-anchor="middle">MPSIIIA</text>
<path d="M22.8 400.74 23.15 401.49 23.5 400.77 23.85 401.64 24.2 401.47 24.55 401.11 24.9 401.49 25.25 401.41 25.6 400.57 25.95 401.35 26.3 401.49 26.65 401.33 27 401.91 27.35 401.68 27.7 401.1 28.05 400.86 28.4 400.7 28.75 401.8 29.1 401.6 29.45 401.47 29.8 401.21 30.15 401.3 30.5 400.86 30.85 401.35 31.2 400.73 31.55 401.49 31.9 401.51 32.25 401.57 32.6 400.89 32.95 400.65 33.3 401.03 33.65 401.6 34 401.32 34.35 401.7 34.7 401.19 35.05 401.14 35.4 401.95 35.75 400.77 36.1 400.83 36.45 401.44 36.8 401.51 37.15 401.19 37.5 401.39 37.85 401.2 38.2 401.57 38.55 401.92 38.9 401.82 39.25 401.52 39.6 401.25 39.95 402.02 40.3 401.22 40.65 401.5 41 401.89 41.35 401.59 41.7 401.13 42.05 401.69 42.4 401.46 42.75 401.96 43.1 401.5 43.45 401.35 43.8 402.06 44.15 401.34 44.5 401.14 44.85 402 45.2 402.01 45.55 400.78 45.9 400.62 46.25 401.87 46.6 401.91 46.95 401.12 47.3 400.91 47.65 401.6 48 402 48.35 400.84 48.7 401.22 49.05 401.56 49.4 400.85 49.75 401.16 50.1 400.73 50.45 401.27 50.8 400.87 51.15 400.63 51.5 401.12 51.85 400.74 52.2 400.69 52.55 400.74 52.9 401.17 53.25 401.01 53.6 401.67 53.95 401.16 54.3 400.89 54.65 400.8 55 400.98 55.35 401.69 55.7 400.82 56.05 401.24 56.4 401.79 56.75 401.83 57.1 401.24 57.45 401.85 57.8 401.53 58.15 400.86 58.5 400.65 58.85 400.77 59.2 401.76 59.55 401.12 59.9 401.84 60.25 402.05 60.6 401.97 60.95 401.25 61.3 400.51 61.65 400.94 62 400.85 62.35 401.54 62.7 401.62 63.05 401.97 63.4 401.63 63.75 402.04 64.1 401.52 64.45 401.26 64.8 401.84 65.15 400.94 65.5 401.75 65.85 401.66 66.2 401.89 66.55 400.6 66.9 400.8 67.25 402.02 67.6 400.73 67.95 401.22 68.3 401.46 68.65 401.27 69 401.91 69.35 402.03 69.7 401.05 70.05 400.71 70.4 401.96 70.75 401.23 71.1 400.9 71.45 400.72 71.8 400.51 72.15 401.43 72.5 400.95 72.85 401.39 73.2 401.98 73.55 401.27 73.9 402.03 74.25 400.61 74.6 401.71 74.95 401.71 75.3 402.03 75.65 400.55 76 401.31 76.35 401.39 76.7 401.46 77.05 401.25 77.4 400.94 77.75 401.94 78.1 401.9 78.45 401.62 78.8 402.03 79.15 401.39 79.5 400.63 79.85 401.61 80.2 400.67 80.55 401.7 80.9 401.54 81.25 400.83 81.6 400.74 81.95 400.61 82.3 400.78 82.65 402.06 83 400.86 83.35 401.91 83.7 400.72 84.05 401.04 84.4 401.26 84.75 401.07 85.1 402.04 85.45 400.88 85.8 401.27 86.15 400.83 86.5 400.67 86.85 401.6 87.2 401.04 87.55 401.28 87.9 401.61 88.25 400.64 88.6 400.59 88.95 401.6 89.3 402.09 89.65 400.53 90 401.22 90.35 402.09 90.7 401.83 91.05 402.08 91.4 401.35 91.75 402.05 92.1 400.59 92.45 401.26 92.8 401.86 93.15 401.13 93.5 401.21 93.85 401.22 94.2 401.11 94.55 401.8 94.9 402.06 95.25 400.87 95.6 401.02 95.95 401.79 96.3 401.69 96.65 401.8 97 401.59 97.35 401.96 97.7 401.85 98.05 401.51 98.4 400.95 98.75 400.64 99.1 401.88 99.45 401.87 99.8 401.93 100.15 400.92 100.5 401.68 100.85 401.99 101.2 400.83 101.55 400.54 101.9 400.78 102.25 400.85 102.6 401.59 102.95 401.81 103.3 401.81 103.65 401.6 104 402.07 104.35 402.06 104.7 401.2 105.05 401.97 105.4 401.65 105.75 400.89 106.1 401.44 106.45 400.77 106.8 401.14 107.15 401.8 107.5 400.52 107.85 401.36 108.2 401.2 108.55 400.95 108.9 400.6 109.25 401.34 109.6 401.03 109.95 400.66 110.3 401.14 110.65 401.59 111 400.63 111.35 401.76 111.7 400.63 112.05 401.25 112.4 401.09 112.75 401.87 113.1 401.93 113.45 401.68 113.8 400.97 114.15 401.02 114.5 401.82 114.85 401.32 115.2 401.52 115.55 401.66 115.9 400.81 116.25 401.12 116.6 402.03 116.95 401.03 117.3 401.86 117.65 400.75 118 400.52 118.35 401.3 118.7 400.95 119.05 401.45 119.4 401.73 119.75 400.56 120.1 401.3 120.45 401.1 120.8 401.95 121.15 401.85 121.5 401.92 121.85 401.69 122.2 401.06 122.55 401.49 122.9 401.37 123.25 401.09 123.6 400.96 123.95 401.54 124.3 401.93 124.65 400.89 125 401.07 125.35 400.75 125.7 401.08 126.05 401.12 126.4 400.65 126.75 401.53 127.1 401.05 127.45 401.79 127.8 400.89 128.15 401.67 128.5 402.07 128.85 400.77 129.2 401.09 129.55 402.05 129.9 401.15 130.25 401.03 130.6 400.75 130.95 401.83 131.3 401.02 131.65 401.91 132 401.39 132.35 400.79 132.7 402.09 133.05 401.94 133.4 401.7 133.75 401.46 134.1 401.71 134.45 402.02 134.8 400.82 135.15 400.89 135.5 401.72 135.85 401.17 136.2 402.08 136.55 401.83 136.9 401.33 137.25 400.76 137.6 401.48 137.95 401.46 138.3 401.43 138.65 401.75 139 401.26 139.35 401.93 139.7 401.45 140.05 400.76 140.4 401.81 140.75 400.77 141.1 401.95 141.45 401.98 141.8 400.81 142.15 400.82 142.5 401.62 142.85 401.23 143.2 401.1 143.55 401.7 143.9 401.04 144.25 400.71 144.6 401.38 144.95 401.9 145.3 402.04 145.65 400.67 146 401.69 146.35 401.02 146.7 402.05 147.05 401.12 147.4 400.66 147.75 401.03 148.1 401.32 148.45 400.78 148.8 401.73 149.15 401.03 149.5 401.69 149.85 400.87 150.2 401.29 150.55 401.56 150.9 400.83 151.25 400.96 151.6 401.84 151.95 401.13 152.3 401.06 152.65 401.49 153 401.61 153.35 401.88 153.7 401.4 154.05 401.87 154.4 401.93 154.75 401.98 155.1 401.97 155.45 401.61 155.8 401.61 156.15 401.12 156.5 400.67 156.85 401.98 157.2 401.16 157.55 401.04 157.9 401.38 158.25 401.71 158.6 401.83 158.95 400.68 159.3 401.75 159.65 402.01 160 402.07 160.35 402.01 160.7 401.42 161.05 401.92 161.4 401.45 161.75 401.86 162.1 402.08 162.45 401.1 162.8 400.7 163.15 401.7 163.5 402 163.85 401.95 164.2 401.24 164.55 401.22 164.9 400.7 165.25 401.86 165.6 400.93 165.95 400.7 166.3 400.66 166.65 401.99 167 401.17 167.35 401.77 167.7 400.61 168.05 401.27 168.4 401.69 168.75 401.73 169.1 400.8 169.45 401.27 169.8 401.8 170.15 401.96 170.5 400.65 170.85 401.44 171.2 401.92 171.55 401.49 171.9 401.76 172.25 400.98 172.6 401.29 172.95 400.52 173.3 401.78 173.65 401.4 174 400.79 174.35 402.01 174.7 400.84 175.05 400.55 175.4 401.66 175.75 400.63 176.1 401.55 176.45 400.72 176.8 400.54 177.15 401.68 177.5 401.48 177.85 401.56 178.2 401.63 178.55 401.65 178.9 400.78 179.25 401.18 179.6 401.45 179.95 401.89 180.3 401.53 180.65 401.28 181 401.81" stroke="#b81f25" stroke-width="1.3" fill="none" stroke-linejoin="round"/>
<path d="M58.32 401.3L58.47 405.85L58.92 401.6M104.59 401.3L104.74 403.06L105.19 401.6M86.52 401.3L86.67 404.12L87.12 401.6M61.22 401.3L61.37 417.22L61.82 401.6M92.9 401.3L93.05 404.35L93.5 401.6M58.29 401.3L58.44 404.9L58.89 401.6M28.35 401.3L28.5 407.82L28.95 401.6M132.83 401.3L132.98 409.92L133.43 401.6M93.77 401.3L93.92 406L94.37 401.6M138.85 401.3L139 406.2L139.45 401.6M134.46 401.3L134.61 405.54L135.06 401.6M161.59 401.3L161.74 404.37L162.19 401.6M164.84 401.3L164.99 406.96L165.44 401.6M54.98 401.3L55.13 408.26L55.58 401.6M87.64 401.3L87.79 406.33L88.24 401.6M97.39 401.3L97.54 403.43L97.99 401.6M43.26 401.3L43.41 409.16L43.86 401.6M65.13 401.3L65.28 405.19L65.73 401.6M95.6 401.3L95.75 419.15L96.2 401.6M127.24 401.3L127.39 411.89L127.84 401.6M31.24 401.3L31.39 404.63L31.84 401.6M173.06 401.3L173.21 407.58L173.66 401.6M85.15 401.3L85.3 404.31L85.75 401.6M98.98 401.3L99.13 404.28L99.58 401.6M59.64 401.3L59.79 409.27L60.24 401.6M96.22 401.3L96.37 406.6L96.82 401.6M114.33 401.3L114.48 404.3L114.93 401.6M58.25 401.3L58.4 404.59L58.85 401.6M98.47 401.3L98.62 407.63L99.07 401.6M96.65 401.3L96.8 408.77L97.25 401.6M31.7 401.3L31.85 404.77L32.3 401.6M65.77 401.3L65.92 406.54L66.37 401.6M26.45 401.3L26.6 404.12L27.05 401.6M96.65 401.3L96.8 409.5L97.25 401.6M30.71 401.3L30.86 404.77L31.31 401.6M178.68 401.3L178.83 404.03L179.28 401.6M151.67 401.3L151.82 410.77L152.27 401.6M112.09 401.3L112.24 405.23L112.69 401.6M56.48 401.3L56.63 403.84L57.08 401.6M61.71 401.3L61.86 407.29L62.31 401.6M143.34 401.3L143.49 406.85L143.94 401.6M25.92 401.3L26.07 405.51L26.52 401.6M61.59 401.3L61.74 412.2L62.19 401.6M27.3 401.3L27.45 406.3L27.9 401.6M119.02 401.3L119.17 408.73L119.62 401.6M96.53 401.3L96.68 409.77L97.13 401.6M98.56 401.3L98.71 403.49L99.16 401.6M22.84 401.3L22.99 405.01L23.44 401.6M26.42 401.3L26.57 409.26L27.02 401.6M171.87 401.3L172.02 409.72L172.47 401.6M171.68 401.3L171.83 405.74L172.28 401.6M134 401.3L134.15 407.24L134.6 401.6M130.8 401.3L130.95 406.37L131.4 401.6M125.64 401.3L125.79 403.72L126.24 401.6M171.94 401.3L172.09 411.62L172.54 401.6M39.5 401.3L39.65 408.07L40.1 401.6M64.83 401.3L64.98 406.23L65.43 401.6M108.06 401.3L108.21 404.44L108.66 401.6M27.18 401.3L27.33 404.81L27.78 401.6M130.51 401.3L130.66 406.03L131.11 401.6M143.38 401.3L143.53 405.2L143.98 401.6M135 401.3L135.15 417.04L135.6 401.6M61.3 401.3L61.45 406.35L61.9 401.6M152.94 401.3L153.09 404.55L153.54 401.6M63.69 401.3L63.84 405.9L64.29 401.6M70.69 401.3L70.84 408.82L71.29 401.6M126.71 401.3L126.86 408.14L127.31 401.6M104.57 401.3L104.72 409.93L105.17 401.6M105.87 401.3L106.02 406.08L106.47 401.6M41.58 401.3L41.73 428.82L42.18 401.6M22.88 401.3L23.03 404.93L23.48 401.6M159.43 401.3L159.58 413.87L160.03 401.6M149.58 401.3L149.73 408.54L150.18 401.6M64.88 401.3L65.03 403.92L65.48 401.6M160.78 401.3L160.93 403.23L161.38 401.6M92.31 401.3L92.46 408.29L92.91 401.6M27.5 401.3L27.65 408.71L28.1 401.6M61.82 401.3L61.97 407.31L62.42 401.6M128.91 401.3L129.06 418.78L129.51 401.6M128.77 401.3L128.92 413.45L129.37 401.6M85.4 401.3L85.55 403.63L86 401.6M83.48 401.3L83.63 410.41L84.08 401.6M115.96 401.3L116.11 405.58L116.56 401.6M58.36 401.3L58.51 410.67L58.96 401.6M59.07 401.3L59.22 408.61L59.67 401.6M30.41 401.3L30.56 418.14L31.01 401.6M75.1 401.3L75.25 413.1L75.7 401.6M71.64 401.3L71.79 404.85L72.24 401.6M89.28 401.3L89.43 409.17L89.88 401.6M22.19 401.3L22.34 413.07L22.79 401.6M66.24 401.3L66.39 403.86L66.84 401.6M92.8 401.3L92.95 412.41L93.4 401.6M27.83 401.3L27.98 418.38L28.43 401.6M128.41 401.3L128.56 417.87L129.01 401.6M114.31 401.3L114.46 409L114.91 401.6M118.76 401.3L118.91 403.13L119.36 401.6M27.05 401.3L27.2 403.94L27.65 401.6M130.04 401.3L130.19 410.68L130.64 401.6M38.66 401.3L38.81 410.85L39.26 401.6M148.44 401.3L148.59 403.53L149.04 401.6M73.59 401.3L73.74 406.1L74.19 401.6M28.01 401.3L28.16 403.87L28.61 401.6M22.84 401.3L22.99 408.27L23.44 401.6M98.61 401.3L98.76 407.19L99.21 401.6M23.18 401.3L23.33 407.41L23.78 401.6M117.27 401.3L117.42 407.63L117.87 401.6M56.04 401.3L56.19 404.69L56.64 401.6M126.81 401.3L126.96 407.17L127.41 401.6M148.16 401.3L148.31 407.42L148.76 401.6M107.87 401.3L108.02 408.64L108.47 401.6M93.32 401.3L93.47 408.24L93.92 401.6M59.64 401.3L59.79 406.66L60.24 401.6M146.42 401.3L146.57 403.22L147.02 401.6M42.68 401.3L42.83 406.12L43.28 401.6M59.95 401.3L60.1 404.6L60.55 401.6M80.2 401.3L80.35 409.36L80.8 401.6M140.65 401.3L140.8 404.23L141.25 401.6M106.62 401.3L106.77 404.65L107.22 401.6M104.68 401.3L104.83 405.42L105.28 401.6M29.34 401.3L29.49 404.5L29.94 401.6M29.14 401.3L29.29 403.93L29.74 401.6M54.39 401.3L54.54 408.93L54.99 401.6M176.26 401.3L176.41 405.51L176.86 401.6M77.58 401.3L77.73 415.23L78.18 401.6M60.3 401.3L60.45 411.7L60.9 401.6M25.08 401.3L25.23 407.84L25.68 401.6M172.88 401.3L173.03 403.97L173.48 401.6M50.67 401.3L50.82 409.82L51.27 401.6M28.37 401.3L28.52 408.69L28.97 401.6M101.88 401.3L102.03 404.19L102.48 401.6M22.23 401.3L22.38 410.07L22.83 401.6M133.06 401.3L133.21 404.46L133.66 401.6M119.95 401.3L120.1 403.17L120.55 401.6M126.45 401.3L126.6 406.49L127.05 401.6M175.86 401.3L176.01 405.15L176.46 401.6M48.32 401.3L48.47 406.12L48.92 401.6M22.25 401.3L22.4 409.99L22.85 401.6M161.87 401.3L162.02 404.39L162.47 401.6M35.15 401.3L35.3 410.01L35.75 401.6M134.82 401.3L134.97 420.96L135.42 401.6M170.74 401.3L170.89 405.19L171.34 401.6M128.31 401.3L128.46 406.74L128.91 401.6M29.23 401.3L29.38 406.77L29.83 401.6M46.58 401.3L46.73 405.23L47.18 401.6M171.61 401.3L171.76 415.98L172.21 401.6M22.78 401.3L22.93 409.1L23.38 401.6M70.84 401.3L70.99 406.7L71.44 401.6M58.97 401.3L59.12 404.15L59.57 401.6M118.64 401.3L118.79 414.36L119.24 401.6M98.11 401.3L98.26 410.87L98.71 401.6M24.72 401.3L24.87 404.37L25.32 401.6M145.75 401.3L145.9 404.82L146.35 401.6M129.38 401.3L129.53 404.33L129.98 401.6M127.83 401.3L127.98 404.72L128.43 401.6M177.74 401.3L177.89 409.42L178.34 401.6M60.47 401.3L60.62 404.98L61.07 401.6M176.51 401.3L176.66 404.17L177.11 401.6M63.43 401.3L63.58 406.18L64.03 401.6M65.1 401.3L65.25 411.52L65.7 401.6M75.01 401.3L75.16 406L75.61 401.6M29.16 401.3L29.31 406.43L29.76 401.6M56.45 401.3L56.6 405.72L57.05 401.6M104.65 401.3L104.8 410.52L105.25 401.6M126.24 401.3L126.39 406.88L126.84 401.6M140.6 401.3L140.75 403.89L141.2 401.6M180.21 401.3L180.36 405.92L180.81 401.6M102.41 401.3L102.56 403.92L103.01 401.6M129 401.3L129.15 413.3L129.6 401.6M118.27 401.3L118.42 424.45L118.87 401.6M28.63 401.3L28.78 410.07L29.23 401.6" stroke="#b81f25" stroke-width="0.5" fill="none" opacity="0.8"/>
<line x1="28" y1="401.3" x2="28" y2="425.3" stroke="#d06068" stroke-width="0.5" />
<line x1="58" y1="401.3" x2="58" y2="440.3" stroke="#d06068" stroke-width="0.5" />
<line x1="42" y1="401.3" x2="42" y2="413.3" stroke="#d06068" stroke-width="0.5" />
<line x1="94" y1="401.3" x2="94" y2="419.3" stroke="#d06068" stroke-width="0.5" />
<line x1="128" y1="401.3" x2="128" y2="437.3" stroke="#d06068" stroke-width="0.5" />
<line x1="150" y1="401.3" x2="150" y2="421.3" stroke="#d06068" stroke-width="0.5" />
<line x1="157" y1="401.3" x2="157" y2="417.3" stroke="#d06068" stroke-width="0.5" />
<line x1="170" y1="401.3" x2="170" y2="427.3" stroke="#d06068" stroke-width="0.5" />
<path d="M140.1 398.4H184.5V410.2" stroke="#000" stroke-width="1.3" fill="none" />
<text x="229" y="350.2" dy="0.35em" font-size="11.2" font-weight="bold">I</text>
<text x="344.2" y="348.6" dy="0.35em" font-size="8.9" stroke="#000" stroke-width="0.08" text-anchor="middle">Neurotypical</text>
<path d="M248.6 387.87 248.85 386.58 249.1 379.05 249.35 379.79 249.6 382.4 249.85 383.35 250.1 387.7 250.35 386.95 250.6 387.99 250.85 382.06 251.1 375.46 251.35 376.69 251.6 380.57 251.85 382.28 252.1 381.28 252.35 383.81 252.6 381.55 252.85 384.43 253.1 385.85 253.35 386.64 253.6 388.15 253.85 381.63 254.1 381.04 254.35 383.4 254.6 384.62 254.85 385.42 255.1 388.64 255.35 386.54 255.6 380.01 255.85 381.92 256.1 383.4 256.35 379.15 256.6 362.08 256.85 369.29 257.1 369.31 257.35 373.96 257.6 379.71 257.85 380.03 258.1 383.92 258.35 385.75 258.6 384.69 258.85 387.21 259.1 385.61 259.35 384.37 259.6 386.9 259.85 387.46 260.1 389.08 260.35 385.98 260.6 385.22 260.85 385.48 261.1 387.31 261.35 388.71 261.6 388.34 261.85 387.95 262.1 384.69 262.35 382.54 262.6 385.22 262.85 383.54 263.1 386.1 263.35 385.11 263.6 388.62 263.85 388.89 264.1 389.38 264.35 389.57 264.6 385.8 264.85 385.8 265.1 383.01 265.35 385.1 265.6 385.84 265.85 387.21 266.1 383.98 266.35 381.33 266.6 379.08 266.85 380.61 267.1 383.41 267.35 379.08 267.6 364.4 267.85 372.08 268.1 375.92 268.35 377.21 268.6 375.51 268.85 380.35 269.1 380.84 269.35 384.74 269.6 385.74 269.85 386.18 270.1 386.29 270.35 386.89 270.6 386.98 270.85 388.31 271.1 390.03 271.35 389.55 271.6 390.8 271.85 387.84 272.1 382.23 272.35 384.51 272.6 387.61 272.85 387.52 273.1 385.53 273.35 388.55 273.6 385.3 273.85 385.79 274.1 387.09 274.35 375.44 274.6 379.32 274.85 379.25 275.1 384.36 275.35 384.24 275.6 381.7 275.85 382.5 276.1 386.56 276.35 385.96 276.6 386.11 276.85 384.6 277.1 378.42 277.35 380.45 277.6 382.72 277.85 379.86 278.1 380.84 278.35 383.64 278.6 388.79 278.85 389.49 279.1 386.1 279.35 388.11 279.6 388.33 279.85 390.07 280.1 388.27 280.35 387.2 280.6 389.1 280.85 389.64 281.1 389.73 281.35 387.93 281.6 389.11 281.85 388.21 282.1 386.98 282.35 380.96 282.6 384.1 282.85 382.95 283.1 384.94 283.35 386.86 283.6 387.23 283.85 388.06 284.1 389.08 284.35 389.1 284.6 390.12 284.85 387.51 285.1 391.28 285.35 389.35 285.6 389.47 285.85 387.92 286.1 390.5 286.35 386.78 286.6 390.02 286.85 389 287.1 389.71 287.35 391.77 287.6 390.35 287.85 389.01 288.1 392.54 288.35 390.2 288.6 390.62 288.85 391.05 289.1 390.81 289.35 390.3 289.6 389.71 289.85 387.18 290.1 385.19 290.35 370.75 290.6 368.36 290.85 368.84 291.1 374.83 291.35 380.36 291.6 382.64 291.85 383.07 292.1 383.38 292.35 386.54 292.6 385.64 292.85 386.05 293.1 387.29 293.35 387.99 293.6 387.29 293.85 386.82 294.1 387.67 294.35 390.02 294.6 389.99 294.85 389.5 295.1 387.67 295.35 386.32 295.6 383.66 295.85 385.09 296.1 386.72 296.35 386.71 296.6 389.52 296.85 391.15 297.1 388.02 297.35 389.71 297.6 388.11 297.85 389.36 298.1 390.47 298.35 390.66 298.6 388.39 298.85 390.45 299.1 387.91 299.35 388.35 299.6 389.78 299.85 380.4 300.1 377.59 300.35 379.87 300.6 382.8 300.85 383.66 301.1 382.44 301.35 383.71 301.6 387.02 301.85 385.72 302.1 383.02 302.35 378.74 302.6 383.44 302.85 383.26 303.1 387.78 303.35 385.14 303.6 385.95 303.85 387.99 304.1 384.78 304.35 387.03 304.6 386.59 304.85 391.11 305.1 388.92 305.35 387.37 305.6 388.9 305.85 388.81 306.1 391.37 306.35 388.64 306.6 388.94 306.85 380.13 307.1 374.56 307.35 377.97 307.6 381.74 307.85 383.38 308.1 383.56 308.35 385.65 308.6 385.82 308.85 386.89 309.1 388.28 309.35 384.25 309.6 388.66 309.85 391.84 310.1 388.47 310.35 392.36 310.6 389.55 310.85 391.52 311.1 387.87 311.35 388.77 311.6 389.83 311.85 389 312.1 388.19 312.35 388.56 312.6 389.15 312.85 391.09 313.1 387.71 313.35 391.24 313.6 389.67 313.85 386.82 314.1 380.05 314.35 383.74 314.6 385.44 314.85 386.04 315.1 389.31 315.35 376.97 315.6 352.55 315.85 360.48 316.1 370.57 316.35 374.35 316.6 380.06 316.85 379.97 317.1 380.25 317.35 386.99 317.6 385.79 317.85 377.91 318.1 372.67 318.35 375.15 318.6 378.27 318.85 383.65 319.1 386.44 319.35 387.27 319.6 385.92 319.85 387.04 320.1 378.92 320.35 382.28 320.6 381.55 320.85 377.23 321.1 381.3 321.35 382.54 321.6 384.31 321.85 385.7 322.1 379.35 322.35 378.88 322.6 383.35 322.85 384.68 323.1 386.83 323.35 387.02 323.6 388.37 323.85 386.43 324.1 384.89 324.35 390.06 324.6 385.65 324.85 389.95 325.1 387.24 325.35 390.52 325.6 388.36 325.85 387.58 326.1 387.9 326.35 388.44 326.6 388.43 326.85 392.62 327.1 390.82 327.35 389.55 327.6 387.96 327.85 380.29 328.1 383.25 328.35 386.52 328.6 385.18 328.85 387.47 329.1 388.76 329.35 387.71 329.6 386.18 329.85 389.21 330.1 388.23 330.35 389.14 330.6 388.36 330.85 386.7 331.1 379.27 331.35 382.23 331.6 384.49 331.85 385.64 332.1 387.83 332.35 381.09 332.6 381.53 332.85 383.3 333.1 386.82 333.35 386.4 333.6 384.93 333.85 386.93 334.1 385.89 334.35 386.78 334.6 387.15 334.85 389.64 335.1 386.98 335.35 384.24 335.6 383.91 335.85 378.67 336.1 376.35 336.35 379.87 336.6 382.59 336.85 386.64 337.1 388.63 337.35 384.11 337.6 381.25 337.85 381.08 338.1 387.23 338.35 382.23 338.6 381.7 338.85 380.32 339.1 383.37 339.35 382.73 339.6 385.5 339.85 386.16 340.1 387.87 340.35 385.51 340.6 384.9 340.85 384.71 341.1 384.68 341.35 384.1 341.6 382.7 341.85 387.36 342.1 380.96 342.35 377.94 342.6 372.21 342.85 367.31 343.1 366.43 343.35 372.78 343.6 377.58 343.85 377.72 344.1 376.22 344.35 379.4 344.6 382.83 344.85 381.59 345.1 378.01 345.35 380.44 345.6 382.47 345.85 382.03 346.1 388.01 346.35 386.77 346.6 389.38 346.85 389.07 347.1 389.41 347.35 386.02 347.6 387.58 347.85 381.08 348.1 370.6 348.35 377.12 348.6 378.55 348.85 380.6 349.1 384.34 349.35 386.16 349.6 385.86 349.85 385.29 350.1 387.83 350.35 389.86 350.6 387.41 350.85 386.67 351.1 388.13 351.35 387.55 351.6 387.25 351.85 386.69 352.1 386.57 352.35 386.5 352.6 378.21 352.85 376.64 353.1 380.16 353.35 384.15 353.6 382.65 353.85 381.78 354.1 378.08 354.35 382.03 354.6 384.92 354.85 383.59 355.1 385.8 355.35 386.24 355.6 386.94 355.85 384.54 356.1 386.18 356.35 385.31 356.6 387.78 356.85 389.2 357.1 389.14 357.35 388.92 357.6 389.12 357.85 388.34 358.1 390.68 358.35 390.28 358.6 387.06 358.85 383.55 359.1 378.27 359.35 382.42 359.6 382.24 359.85 384.69 360.1 385.97 360.35 387.4 360.6 387.13 360.85 386.49 361.1 381.81 361.35 386.48 361.6 384.04 361.85 385.36 362.1 390.2 362.35 387.74 362.6 386.39 362.85 389.87 363.1 389.8 363.35 388.22 363.6 389.39 363.85 386.08 364.1 387.76 364.35 389.73 364.6 387.85 364.85 381.42 365.1 378.99 365.35 380 365.6 383.36 365.85 382.18 366.1 385.87 366.35 386.53 366.6 386.9 366.85 387.2 367.1 388.46 367.35 388.8 367.6 390.99 367.85 389.57 368.1 391.22 368.35 388.55 368.6 383.97 368.85 387.21 369.1 386.38 369.35 388.92 369.6 389.53 369.85 382.18 370.1 380.09 370.35 382.66 370.6 379.79 370.85 378.99 371.1 380.66 371.35 380.83 371.6 383.77 371.85 382.68 372.1 381.04 372.35 378.27 372.6 380.91 372.85 378.04 373.1 381.59 373.35 383.94 373.6 384.7 373.85 385.45 374.1 388.58 374.35 388.74 374.6 388.65 374.85 389.39 375.1 388.68 375.35 389.48 375.6 387.45 375.85 389.28 376.1 390.21 376.35 385.98 376.6 383.87 376.85 386.1 377.1 388.78 377.35 388.46 377.6 389.58 377.85 387.69 378.1 387.66 378.35 388.11 378.6 386.82 378.85 391.35 379.1 391.47 379.35 390.55 379.6 391.39 379.85 386.64 380.1 389.22 380.35 387.96 380.6 386.59 380.85 374.29 381.1 376.99 381.35 378.06 381.6 378.62 381.85 380.38 382.1 383.82 382.35 379.85 382.6 379.11 382.85 381.76 383.1 384.85 383.35 385.93 383.6 387.66 383.85 384.36 384.1 382.03 384.35 385.64 384.6 385.9 384.85 388.07 385.1 385.3 385.35 386.32 385.6 384.98 385.85 378.09 386.1 373.3 386.35 376.82 386.6 379.76 386.85 378.25 387.1 378.64 387.35 381.16 387.6 384.16 387.85 384.78 388.1 385.46 388.35 378.94 388.6 380.54 388.85 384.85 389.1 384.29 389.35 383.63 389.6 385.23 389.85 384.89 390.1 387.76 390.35 388.38 390.6 388.31 390.85 388.53 391.1 388.28 391.35 388.57 391.6 390.69 391.85 379.91 392.1 376.33 392.35 378.94 392.6 382.52 392.85 384.1 393.1 383.43 393.35 386.95 393.6 386.61 393.85 386.29 394.1 389.2 394.35 388.48 394.6 389.51 394.85 389.02 395.1 389.06 395.35 391.13 395.6 389.29 395.85 390.63 396.1 390.35 396.35 390.37 396.6 384.41 396.85 379.86 397.1 382.89 397.35 380.22 397.6 379.78 397.85 382.67 398.1 384.4 398.35 385.07 398.6 388.25 398.85 381.03 399.1 376.75 399.35 381.36 399.6 382.98 399.85 382.58 400.1 383.94 400.35 386.4 400.6 389.2 400.85 389.99 401.1 388.54 401.35 386.23 401.6 383.04 401.85 385.11 402.1 387.15 402.35 386.47 402.6 386.08 402.85 389.3 403.1 388.81 403.35 385.65 403.6 383.85 403.85 384.27 404.1 381.37 404.35 381.58 404.6 385.33 404.85 378.5 405.1 374.9 405.35 376.02 405.6 382.92 405.85 383.78 406.1 386.08 406.35 387.23 406.6 385.71 406.85 386.44 407.1 389.26 407.35 390.08 407.6 387.55 407.85 390.05 408.1 391.48 408.35 389.12 408.6 389.25 408.85 390.97 409.1 388.02 409.35 386.42 409.6 388.05 409.85 389.48 410.1 387.51 410.35 390.35 410.6 388.05 410.85 379.55 411.1 373.46 411.35 380.41 411.6 380.35 411.85 382.75 412.1 384.55 412.35 387.27 412.6 387.86 412.85 390.63 413.1 390.27 413.35 388.35 413.6 386.28 413.85 389.17 414.1 384.64 414.35 381.8 414.6 382.17 414.85 383.4 415.1 385.91 415.35 385.01 415.6 387.22 415.85 388.03 416.1 387.53 416.35 383.74 416.6 384.14 416.85 385.47 417.1 383.94 417.35 386.41 417.6 386.64 417.85 371.95 418.1 368.34 418.35 374.25 418.6 379.06 418.85 380.94 419.1 380.89 419.35 381.14 419.6 383.79 419.85 384.23 420.1 384.87 420.35 384.71 420.6 387.43 420.85 387.88 421.1 389.61 421.35 387.77 421.6 386.46 421.85 373.13 422.1 363.99 422.35 367.01 422.6 370.53 422.85 377.28 423.1 379.64 423.35 384 423.6 384.58 423.85 384.51 424.1 388.01" stroke="#151515" stroke-width="0.75" fill="none" stroke-linejoin="round"/>
<path d="M381 395.2H425.2V381.1" stroke="#000" stroke-width="1.2" fill="none" />
<text x="409.2" y="401" dy="0.35em" font-size="7.2" stroke="#000" stroke-width="0.08" text-anchor="middle">5s</text>
<text transform="translate(432.6,389.5) rotate(90)" dy="0.35em" font-size="7.2" stroke="#000" stroke-width="0.08" text-anchor="middle">200pA</text>
<text x="337.6" y="405.6" dy="0.35em" font-size="8.9" fill="#c02a2e" stroke="#c02a2e" stroke-width="0.08" text-anchor="middle">MPSIIIA</text>
<path d="M250.9 442.89 251.15 441.12 251.4 440.38 251.65 439.68 251.9 438.47 252.15 439.2 252.4 438.33 252.65 440.97 252.9 441.35 253.15 443.04 253.4 437.81 253.65 438.36 253.9 437.08 254.15 415.64 254.4 404.49 254.65 412.37 254.9 420.03 255.15 425.94 255.4 429.16 255.65 430.79 255.9 435.42 256.15 438.08 256.4 438.93 256.65 439.03 256.9 435.39 257.15 426.89 257.4 428.65 257.65 434.93 257.9 436.67 258.15 436.66 258.4 440.06 258.65 438.22 258.9 439.76 259.15 440.53 259.4 439.66 259.65 438.2 259.9 439.44 260.15 440.84 260.4 441.34 260.65 441.24 260.9 441.26 261.15 439.73 261.4 435.77 261.65 431.32 261.9 435.23 262.15 435.46 262.4 438.25 262.65 438.48 262.9 441.75 263.15 440.35 263.4 441.65 263.65 438.85 263.9 438.58 264.15 438.34 264.4 440.01 264.65 439.91 264.9 440.77 265.15 441.65 265.4 442.1 265.65 441.32 265.9 440.01 266.15 441.66 266.4 443.48 266.65 440.4 266.9 438.94 267.15 439.39 267.4 440.26 267.65 443.11 267.9 439.9 268.15 436.56 268.4 434.44 268.65 436.42 268.9 429.46 269.15 429.45 269.4 435.08 269.65 436.18 269.9 435.62 270.15 435.04 270.4 439.33 270.65 437.95 270.9 438.46 271.15 442.89 271.4 426.67 271.65 422.52 271.9 429.12 272.15 431.78 272.4 434.34 272.65 433.34 272.9 433.53 273.15 436.88 273.4 437.86 273.65 436.08 273.9 433.76 274.15 436.05 274.4 437.38 274.65 438.1 274.9 440.23 275.15 438.51 275.4 440.41 275.65 441.38 275.9 440.85 276.15 438.38 276.4 441.86 276.65 439.55 276.9 442.76 277.15 440.29 277.4 443.07 277.65 437.97 277.9 438.44 278.15 438.27 278.4 439.26 278.65 440.81 278.9 440.26 279.15 439.92 279.4 441.4 279.65 437.63 279.9 425.6 280.15 426.89 280.4 431.73 280.65 435.99 280.9 436.52 281.15 435.98 281.4 438.21 281.65 436.85 281.9 436.99 282.15 440.31 282.4 438.24 282.65 432.65 282.9 434.51 283.15 434.4 283.4 435.22 283.65 432.67 283.9 433.98 284.15 433.52 284.4 429.58 284.65 434.44 284.9 437.89 285.15 440.36 285.4 436.16 285.65 432.92 285.9 434.47 286.15 435.76 286.4 434.98 286.65 435.95 286.9 435.53 287.15 436.6 287.4 438.66 287.65 438.1 287.9 437.42 288.15 440.09 288.4 438.91 288.65 439.55 288.9 440.24 289.15 438.58 289.4 439.89 289.65 442.85 289.9 441.72 290.15 439.84 290.4 435.42 290.65 421.89 290.9 419.18 291.15 418.02 291.4 424.49 291.65 430.29 291.9 434.08 292.15 437.37 292.4 437.45 292.65 437.74 292.9 439.67 293.15 434.71 293.4 412.72 293.65 416.28 293.9 420.65 294.15 429.14 294.4 433.57 294.65 435.95 294.9 437.09 295.15 438.46 295.4 437.9 295.65 434.92 295.9 438.37 296.15 436.92 296.4 437.23 296.65 437.17 296.9 440.45 297.15 440.51 297.4 438.74 297.65 438.77 297.9 437.3 298.15 439.53 298.4 440.42 298.65 439.53 298.9 442.15 299.15 441.2 299.4 441.88 299.65 439.72 299.9 430.42 300.15 431.07 300.4 435.74 300.65 434.49 300.9 434.05 301.15 431.43 301.4 434.95 301.65 434.9 301.9 437.37 302.15 438.69 302.4 436.16 302.65 429.2 302.9 431.63 303.15 433.7 303.4 436.03 303.65 437.21 303.9 440.2 304.15 441.17 304.4 441.85 304.65 437.51 304.9 439.76 305.15 439.64 305.4 440.41 305.65 439.54 305.9 440.56 306.15 442.25 306.4 442.35 306.65 441.44 306.9 435.18 307.15 435.77 307.4 437.59 307.65 439.51 307.9 438.67 308.15 439.59 308.4 441.59 308.65 440.27 308.9 441.71 309.15 439.81 309.4 441.3 309.65 443.19 309.9 426.87 310.15 420.78 310.4 425.52 310.65 428.58 310.9 424.84 311.15 431.26 311.4 434.35 311.65 436.61 311.9 435.55 312.15 438.66 312.4 437.39 312.65 438.15 312.9 435.98 313.15 437.75 313.4 439.1 313.65 441.63 313.9 442.08 314.15 439.29 314.4 439.78 314.65 438.59 314.9 438.8 315.15 433.75 315.4 430.31 315.65 434.44 315.9 434.59 316.15 434.88 316.4 435.97 316.65 437.92 316.9 438.81 317.15 441.25 317.4 440.58 317.65 438.06 317.9 432.52 318.15 435.01 318.4 435.01 318.65 437.94 318.9 436.54 319.15 440.72 319.4 438.82 319.65 442.63 319.9 428.79 320.15 426.96 320.4 430.68 320.65 433.51 320.9 435.45 321.15 432.5 321.4 434.57 321.65 436.49 321.9 439.64 322.15 435.69 322.4 438.1 322.65 438.05 322.9 441.5 323.15 442.92 323.4 441.5 323.65 440.4 323.9 441.55 324.15 437.58 324.4 433.93 324.65 431.48 324.9 435.38 325.15 437.04 325.4 438.05 325.65 440.53 325.9 440.04 326.15 437.86 326.4 439.11 326.65 440.68 326.9 442.59 327.15 442.63 327.4 428.06 327.65 414.64 327.9 419.98 328.15 422.52 328.4 428.16 328.65 427.64 328.9 426.83 329.15 428.59 329.4 435.36 329.65 437.4 329.9 435.37 330.15 438.95 330.4 438.12 330.65 433.46 330.9 436.51 331.15 435.51 331.4 437.07 331.65 434.02 331.9 430.04 332.15 433.89 332.4 434.26 332.65 438.27 332.9 438.01 333.15 438.76 333.4 439.22 333.65 441.28 333.9 442.66 334.15 440.29 334.4 439.5 334.65 440.38 334.9 431.77 335.15 430.09 335.4 435.79 335.65 435.37 335.9 436.64 336.15 439.87 336.4 439.76 336.65 438.69 336.9 439.7 337.15 438.93 337.4 441.43 337.65 435.73 337.9 432.79 338.15 434.23 338.4 435.01 338.65 438.51 338.9 437.45 339.15 438.9 339.4 440.51 339.65 441.31 339.9 440.42 340.15 439.45 340.4 433.3 340.65 430.43 340.9 427.34 341.15 432.55 341.4 433.06 341.65 435.82 341.9 435.22 342.15 440.2 342.4 437.76 342.65 441.6 342.9 441.51 343.15 436.27 343.4 435.15 343.65 436.38 343.9 438.76 344.15 436.76 344.4 437.33 344.65 438.08 344.9 432.03 345.15 429 345.4 432.51 345.65 432.85 345.9 437.32 346.15 431.66 346.4 430.36 346.65 434.17 346.9 436.02 347.15 436.59 347.4 437.58 347.65 436.81 347.9 433.39 348.15 432.94 348.4 437.74 348.65 438.71 348.9 438.75 349.15 439.37 349.4 438.52 349.65 439.14 349.9 439.7 350.15 442 350.4 440.41 350.65 439.9 350.9 440.34 351.15 441.36 351.4 440.66 351.65 437.48 351.9 437.81 352.15 438.59 352.4 437.84 352.65 439.49 352.9 442.37 353.15 441.3 353.4 444.14 353.65 441.99 353.9 440.87 354.15 439.9 354.4 437.37 354.65 433.97 354.9 428.14 355.15 424.77 355.4 429.7 355.65 431.32 355.9 427.17 356.15 429.24 356.4 434 356.65 436.37 356.9 436.8 357.15 437.15 357.4 437.31 357.65 441.67 357.9 440.04 358.15 441.16 358.4 439.26 358.65 439.82 358.9 441.68 359.15 441.5 359.4 439.77 359.65 440.67 359.9 433.42 360.15 433.17 360.4 434.1 360.65 437.24 360.9 436.62 361.15 437.75 361.4 438.73 361.65 441.08 361.9 440.55 362.15 441.51 362.4 434.39 362.65 429.55 362.9 434.67 363.15 437.18 363.4 436.06 363.65 439.26 363.9 437.62 364.15 440.43 364.4 438.32 364.65 440.68 364.9 439.59 365.15 437.6 365.4 435.25 365.65 435.02 365.9 436.96 366.15 438.66 366.4 438.99 366.65 440.59 366.9 437.04 367.15 422.4 367.4 426.61 367.65 429.65 367.9 426.09 368.15 427.09 368.4 432.39 368.65 433.79 368.9 435.38 369.15 434.44 369.4 432.92 369.65 404.28 369.9 406.65 370.15 414.51 370.4 419.68 370.65 424.41 370.9 429.13 371.15 434.58 371.4 433.58 371.65 436.78 371.9 438.09 372.15 439.59 372.4 437.11 372.65 435.55 372.9 439.4 373.15 435.05 373.4 441.07 373.65 437.1 373.9 437.46 374.15 439.09 374.4 439.59 374.65 442.35 374.9 431.1 375.15 426.68 375.4 429.86 375.65 432.97 375.9 436.89 376.15 436.76 376.4 437.83 376.65 439.28 376.9 440 377.15 440.2 377.4 440.47 377.65 441.94 377.9 441.51 378.15 442.88 378.4 441.84 378.65 441.8 378.9 441.42 379.15 441.77 379.4 442.14 379.65 438.12 379.9 441.39 380.15 440.98 380.4 442.08 380.65 437.61 380.9 435.4 381.15 439.1 381.4 436.35 381.65 440.5 381.9 437.63 382.15 432.86 382.4 436.31 382.65 434.05 382.9 436.42 383.15 438.13 383.4 437.3 383.65 440.36 383.9 438.27 384.15 439.02 384.4 438.78 384.65 441.55 384.9 432.38 385.15 431.09 385.4 433.92 385.65 434.24 385.9 432.83 386.15 435.21 386.4 434.87 386.65 435 386.9 433.62 387.15 434.96 387.4 436.81 387.65 438.46 387.9 438.22 388.15 438.87 388.4 441.06 388.65 441.54 388.9 441.76 389.15 441.25 389.4 438.78 389.65 442.11 389.9 440.35 390.15 442.25 390.4 441.9 390.65 439.26 390.9 443.02 391.15 443.04 391.4 441.68 391.65 440.64 391.9 441.86 392.15 441.05 392.4 440.76 392.65 443.05 392.9 431.94 393.15 429.62 393.4 430.37 393.65 436.04 393.9 437.43 394.15 438.26 394.4 438.98 394.65 438.57 394.9 440.56 395.15 439.01 395.4 440.91 395.65 439.93 395.9 440.74 396.15 438.98 396.4 442.38 396.65 443.6 396.9 441.56 397.15 442.38 397.4 441.43 397.65 443.23 397.9 441.05 398.15 442.23 398.4 440.82 398.65 440.45 398.9 443.09 399.15 441.26 399.4 440.37 399.65 439.89 399.9 440.53 400.15 442.03 400.4 440.06 400.65 440.51 400.9 442.32 401.15 441.65 401.4 441.52 401.65 441.6 401.9 431.36 402.15 429.1 402.4 430.48 402.65 433.23 402.9 437.24 403.15 436.26 403.4 439.55 403.65 440.72 403.9 440.46 404.15 439.47 404.4 440.77 404.65 442.27 404.9 439.82 405.15 430.79 405.4 434.44 405.65 435.66 405.9 437.1 406.15 436.21 406.4 439.69 406.65 437.08 406.9 439.94 407.15 438.59 407.4 440.36 407.65 437.55 407.9 440.75 408.15 439.7 408.4 440.3 408.65 439.11 408.9 437.58 409.15 440.64 409.4 441.05 409.65 440.29 409.9 433.44 410.15 432.69 410.4 435.02 410.65 438.19 410.9 440.09 411.15 438.54 411.4 440.69 411.65 441.14 411.9 441.03 412.15 442.65 412.4 435.39 412.65 431.86 412.9 432.82 413.15 435.34 413.4 439.29 413.65 440.08 413.9 441.91 414.15 442.33 414.4 438.74 414.65 438.89 414.9 440.47 415.15 438.39 415.4 434.61 415.65 431.41 415.9 428.38 416.15 426.64 416.4 430.31 416.65 435.32 416.9 427.45 417.15 425.95 417.4 432.38 417.65 432.1 417.9 433.31 418.15 437.87 418.4 436.34 418.65 437.65 418.9 440.73 419.15 437.04 419.4 439.71 419.65 435.61 419.9 435.77 420.15 438.16 420.4 440.95 420.65 438.75 420.9 440.22 421.15 442.81 421.4 440.64 421.65 442.97 421.9 439.94 422.15 438.75 422.4 437.11 422.65 436.46" stroke="#c0303a" stroke-width="0.75" fill="none" stroke-linejoin="round"/>
<path d="M380.3 449.2H425.2V434.7" stroke="#000" stroke-width="1.2" fill="none" />
<text x="6.5" y="465.2" dy="0.35em" font-size="11.2" font-weight="bold">F</text>
<line x1="37.3" y1="474" x2="37.3" y2="535.6" stroke="#000" stroke-width="0.8" />
<line x1="35.1" y1="535.6" x2="37.3" y2="535.6" stroke="#000" stroke-width="0.8" />
<text x="34.1" y="535.6" dy="0.35em" font-size="6.8" stroke="#000" stroke-width="0.08" text-anchor="end">0</text>
<line x1="35.1" y1="523.28" x2="37.3" y2="523.28" stroke="#000" stroke-width="0.8" />
<text x="34.1" y="523.28" dy="0.35em" font-size="6.8" stroke="#000" stroke-width="0.08" text-anchor="end">20</text>
<line x1="35.1" y1="510.96" x2="37.3" y2="510.96" stroke="#000" stroke-width="0.8" />
<text x="34.1" y="510.96" dy="0.35em" font-size="6.8" stroke="#000" stroke-width="0.08" text-anchor="end">40</text>
<line x1="35.1" y1="498.64" x2="37.3" y2="498.64" stroke="#000" stroke-width="0.8" />
<text x="34.1" y="498.64" dy="0.35em" font-size="6.8" stroke="#000" stroke-width="0.08" text-anchor="end">60</text>
<line x1="35.1" y1="486.32" x2="37.3" y2="486.32" stroke="#000" stroke-width="0.8" />
<text x="34.1" y="486.32" dy="0.35em" font-size="6.8" stroke="#000" stroke-width="0.08" text-anchor="end">80</text>
<line x1="35.1" y1="474" x2="37.3" y2="474" stroke="#000" stroke-width="0.8" />
<text x="34.1" y="474" dy="0.35em" font-size="6.8" stroke="#000" stroke-width="0.08" text-anchor="end">100</text>
<line x1="35.98" y1="529.44" x2="37.3" y2="529.44" stroke="#000" stroke-width="0.64" />
<line x1="35.98" y1="517.12" x2="37.3" y2="517.12" stroke="#000" stroke-width="0.64" />
<line x1="35.98" y1="504.8" x2="37.3" y2="504.8" stroke="#000" stroke-width="0.64" />
<line x1="35.98" y1="492.48" x2="37.3" y2="492.48" stroke="#000" stroke-width="0.64" />
<line x1="35.98" y1="480.16" x2="37.3" y2="480.16" stroke="#000" stroke-width="0.64" />
<text transform="translate(15.8,503.5) rotate(-90)" dy="0.35em" font-size="6.1" stroke="#000" stroke-width="0.08" text-anchor="middle">% Neurons with active</text>
<text transform="translate(22,503.5) rotate(-90)" dy="0.35em" font-size="6.1" stroke="#000" stroke-width="0.08" text-anchor="middle">AMPA inputs</text>
<rect x="41.2" y="488.17" width="9.6" height="47.43" fill="#000" stroke="#000" stroke-width="0.8" />
<rect x="53.4" y="491.86" width="9.3" height="43.74" fill="#ff2a0c" stroke="#000" stroke-width="0.8" />
<rect x="68.9" y="483.86" width="9.4" height="51.74" fill="#000" stroke="#000" stroke-width="0.8" />
<rect x="80.6" y="482.01" width="9.1" height="53.59" fill="#ff2a0c" stroke="#000" stroke-width="0.8" />
<line x1="37.3" y1="535.6" x2="91.1" y2="535.6" stroke="#000" stroke-width="0.8" />
<line x1="46" y1="535.6" x2="46" y2="537.6" stroke="#000" stroke-width="0.7" />
<text transform="translate(46,542.6) rotate(-45)" dy="0.3em" font-size="6.4" stroke="#000" stroke-width="0.08" text-anchor="end">Neurotypical</text>
<line x1="58.05" y1="535.6" x2="58.05" y2="537.6" stroke="#000" stroke-width="0.7" />
<text transform="translate(58.05,542.6) rotate(-45)" dy="0.3em" font-size="6.4" stroke="#000" stroke-width="0.08" text-anchor="end">MPSIIIA</text>
<line x1="73.6" y1="535.6" x2="73.6" y2="537.6" stroke="#000" stroke-width="0.7" />
<text transform="translate(73.6,542.6) rotate(-45)" dy="0.3em" font-size="6.4" stroke="#000" stroke-width="0.08" text-anchor="end">Neurotypical</text>
<line x1="85.15" y1="535.6" x2="85.15" y2="537.6" stroke="#000" stroke-width="0.7" />
<text transform="translate(85.15,542.6) rotate(-45)" dy="0.3em" font-size="6.4" stroke="#000" stroke-width="0.08" text-anchor="end">MPSIIIA</text>
<line x1="46" y1="488.17" x2="46" y2="486.32" stroke="#000" stroke-width="0.7" />
<line x1="44.2" y1="486.32" x2="47.8" y2="486.32" stroke="#000" stroke-width="0.7" />
<line x1="58.05" y1="491.86" x2="58.05" y2="486.94" stroke="#000" stroke-width="0.7" />
<line x1="56.25" y1="486.94" x2="59.85" y2="486.94" stroke="#000" stroke-width="0.7" />
<line x1="73.6" y1="483.86" x2="73.6" y2="480.78" stroke="#000" stroke-width="0.7" />
<line x1="71.8" y1="480.78" x2="75.4" y2="480.78" stroke="#000" stroke-width="0.7" />
<line x1="85.15" y1="482.01" x2="85.15" y2="480.16" stroke="#000" stroke-width="0.7" />
<line x1="83.35" y1="480.16" x2="86.95" y2="480.16" stroke="#000" stroke-width="0.7" />
<circle cx="47" cy="482.01" r="1" fill="#fff" stroke="#777" stroke-width="0.5" />
<circle cx="43.5" cy="486.32" r="1" fill="#fff" stroke="#777" stroke-width="0.5" />
<circle cx="44" cy="493.71" r="1" fill="#fff" stroke="#777" stroke-width="0.5" />
<circle cx="49" cy="491.25" r="1" fill="#fff" stroke="#777" stroke-width="0.5" />
<circle cx="45.5" cy="489.4" r="1" fill="#fff" stroke="#777" stroke-width="0.5" />
<circle cx="56" cy="483.24" r="1" fill="#fff" stroke="#777" stroke-width="0.5" />
<circle cx="60.5" cy="478.31" r="1" fill="#fff" stroke="#777" stroke-width="0.5" />
<circle cx="58" cy="483.24" r="1" fill="#fff" stroke="#777" stroke-width="0.5" />
<circle cx="55.5" cy="503.57" r="1" fill="#fff" stroke="#777" stroke-width="0.5" />
<circle cx="59.5" cy="506.03" r="1" fill="#fff" stroke="#777" stroke-width="0.5" />
<circle cx="57.5" cy="507.26" r="1" fill="#fff" stroke="#777" stroke-width="0.5" />
<circle cx="72" cy="477.08" r="1" fill="#fff" stroke="#777" stroke-width="0.5" />
<circle cx="70.5" cy="481.39" r="1" fill="#fff" stroke="#777" stroke-width="0.5" />
<circle cx="76" cy="483.24" r="1" fill="#fff" stroke="#777" stroke-width="0.5" />
<circle cx="73" cy="501.1" r="1" fill="#fff" stroke="#777" stroke-width="0.5" />
<circle cx="71.5" cy="482.62" r="1" fill="#fff" stroke="#777" stroke-width="0.5" />
<circle cx="82.5" cy="478.31" r="1" fill="#fff" stroke="#777" stroke-width="0.5" />
<circle cx="85" cy="478.93" r="1" fill="#fff" stroke="#777" stroke-width="0.5" />
<circle cx="88" cy="479.54" r="1" fill="#fff" stroke="#777" stroke-width="0.5" />
<circle cx="84" cy="497.41" r="1" fill="#fff" stroke="#777" stroke-width="0.5" />
<circle cx="86.5" cy="481.39" r="1" fill="#fff" stroke="#777" stroke-width="0.5" />
<path d="M45.5 472.2V469.4H57.8V472.2" stroke="#000" stroke-width="0.7" fill="none" />
<text x="51.65" y="465.2" dy="0.35em" font-size="6.3" stroke="#000" stroke-width="0.08" text-anchor="middle">ns</text>
<path d="M73.2 472.2V469.4H85.8V472.2" stroke="#000" stroke-width="0.7" fill="none" />
<text x="79.5" y="465.2" dy="0.35em" font-size="6.3" stroke="#000" stroke-width="0.08" text-anchor="middle">ns</text>
<text transform="translate(97.2,519.3) rotate(-90)" dy="0.35em" font-size="6.8" text-anchor="middle"><tspan font-style="italic">n</tspan>= donors</text>
<text x="49.4" y="571.3" dy="0.35em" font-size="5" font-style="italic" fill="#8e8e8e" stroke="#8e8e8e" stroke-width="0.08" text-anchor="middle">30-60 days</text>
<text x="77.4" y="571.3" dy="0.35em" font-size="5" font-style="italic" fill="#8e8e8e" stroke="#8e8e8e" stroke-width="0.08" text-anchor="middle">90-120 days</text>
<text x="101.6" y="464.7" dy="0.35em" font-size="11.2" font-weight="bold">H</text>
<line x1="135.8" y1="491.58" x2="135.8" y2="534.9" stroke="#000" stroke-width="0.8" />
<line x1="133.6" y1="534.9" x2="135.8" y2="534.9" stroke="#000" stroke-width="0.8" />
<text x="132.6" y="534.9" dy="0.35em" font-size="6.8" stroke="#000" stroke-width="0.08" text-anchor="end">0</text>
<line x1="133.6" y1="524.07" x2="135.8" y2="524.07" stroke="#000" stroke-width="0.8" />
<text x="132.6" y="524.07" dy="0.35em" font-size="6.8" stroke="#000" stroke-width="0.08" text-anchor="end">25</text>
<line x1="133.6" y1="513.24" x2="135.8" y2="513.24" stroke="#000" stroke-width="0.8" />
<text x="132.6" y="513.24" dy="0.35em" font-size="6.8" stroke="#000" stroke-width="0.08" text-anchor="end">50</text>
<line x1="133.6" y1="502.41" x2="135.8" y2="502.41" stroke="#000" stroke-width="0.8" />
<text x="132.6" y="502.41" dy="0.35em" font-size="6.8" stroke="#000" stroke-width="0.08" text-anchor="end">75</text>
<line x1="133.6" y1="491.58" x2="135.8" y2="491.58" stroke="#000" stroke-width="0.8" />
<text x="132.6" y="491.58" dy="0.35em" font-size="6.8" stroke="#000" stroke-width="0.08" text-anchor="end">100</text>
<line x1="134.48" y1="529.49" x2="135.8" y2="529.49" stroke="#000" stroke-width="0.64" />
<line x1="134.48" y1="518.65" x2="135.8" y2="518.65" stroke="#000" stroke-width="0.64" />
<line x1="134.48" y1="507.82" x2="135.8" y2="507.82" stroke="#000" stroke-width="0.64" />
<line x1="134.48" y1="497" x2="135.8" y2="497" stroke="#000" stroke-width="0.64" />
<line x1="135.8" y1="468.5" x2="135.8" y2="486.5" stroke="#000" stroke-width="0.8" />
<line x1="133.6" y1="484.6" x2="135.8" y2="484.6" stroke="#000" stroke-width="0.8" />
<text x="132.6" y="484.6" dy="0.35em" font-size="6.8" stroke="#000" stroke-width="0.08" text-anchor="end">200</text>
<line x1="133.6" y1="479.23" x2="135.8" y2="479.23" stroke="#000" stroke-width="0.8" />
<text x="132.6" y="479.23" dy="0.35em" font-size="6.8" stroke="#000" stroke-width="0.08" text-anchor="end">400</text>
<line x1="133.6" y1="473.87" x2="135.8" y2="473.87" stroke="#000" stroke-width="0.8" />
<text x="132.6" y="473.87" dy="0.35em" font-size="6.8" stroke="#000" stroke-width="0.08" text-anchor="end">600</text>
<line x1="133.6" y1="468.5" x2="135.8" y2="468.5" stroke="#000" stroke-width="0.8" />
<text x="132.6" y="468.5" dy="0.35em" font-size="6.8" stroke="#000" stroke-width="0.08" text-anchor="end">800</text>
<line x1="133.6" y1="486.5" x2="135.8" y2="486.5" stroke="#000" stroke-width="0.8" />
<text transform="translate(116.8,500.2) rotate(-90)" dy="0.35em" font-size="6.9" stroke="#000" stroke-width="0.08" text-anchor="middle">Mean AMPA Amplitude (-pA)</text>
<line x1="147.05" y1="502.58" x2="147.05" y2="521.21" stroke="#000" stroke-width="0.7" />
<line x1="145.05" y1="502.58" x2="149.05" y2="502.58" stroke="#000" stroke-width="0.7" />
<line x1="147.05" y1="527.71" x2="147.05" y2="530.57" stroke="#000" stroke-width="0.7" />
<rect x="142.1" y="521.21" width="9.9" height="6.5" fill="#8a8a8a" stroke="#000" stroke-width="0.8" />
<line x1="142.1" y1="526.41" x2="152" y2="526.41" stroke="#000" stroke-width="1" />
<circle cx="144.86" cy="495.91" r="1" fill="#fff" stroke="#999" stroke-width="0.45" />
<circle cx="149.13" cy="483.26" r="1" fill="#fff" stroke="#999" stroke-width="0.45" />
<circle cx="148.63" cy="481.92" r="1" fill="#fff" stroke="#999" stroke-width="0.45" />
<circle cx="145.58" cy="478.7" r="1" fill="#fff" stroke="#999" stroke-width="0.45" />
<circle cx="147.02" cy="476.01" r="1" fill="#fff" stroke="#999" stroke-width="0.45" />
<circle cx="147.05" cy="514.11" r="1.1" fill="#2a78d0" />
<line x1="158.4" y1="500.42" x2="158.4" y2="520.3" stroke="#000" stroke-width="0.7" />
<line x1="156.4" y1="500.42" x2="160.4" y2="500.42" stroke="#000" stroke-width="0.7" />
<line x1="158.4" y1="526.89" x2="158.4" y2="530.57" stroke="#000" stroke-width="0.7" />
<rect x="153.5" y="520.3" width="9.8" height="6.58" fill="#ff2a0c" stroke="#000" stroke-width="0.8" />
<line x1="153.5" y1="525.41" x2="163.3" y2="525.41" stroke="#000" stroke-width="1" />
<circle cx="161.14" cy="483.8" r="1" fill="#fff" stroke="#999" stroke-width="0.45" />
<circle cx="161.09" cy="480.58" r="1" fill="#fff" stroke="#999" stroke-width="0.45" />
<circle cx="155.74" cy="478.7" r="1" fill="#fff" stroke="#999" stroke-width="0.45" />
<circle cx="155.91" cy="476.55" r="1" fill="#fff" stroke="#999" stroke-width="0.45" />
<circle cx="158.4" cy="515.88" r="1.1" fill="#2a78d0" />
<line x1="173.25" y1="509.34" x2="173.25" y2="519.3" stroke="#000" stroke-width="0.7" />
<line x1="171.25" y1="509.34" x2="175.25" y2="509.34" stroke="#000" stroke-width="0.7" />
<line x1="173.25" y1="526.41" x2="173.25" y2="530.57" stroke="#000" stroke-width="0.7" />
<rect x="168" y="519.3" width="10.5" height="7.1" fill="#8a8a8a" stroke="#000" stroke-width="0.8" />
<line x1="168" y1="524.11" x2="178.5" y2="524.11" stroke="#000" stroke-width="1" />
<circle cx="171.68" cy="506.74" r="1" fill="#fff" stroke="#999" stroke-width="0.45" />
<circle cx="173.52" cy="504.58" r="1" fill="#fff" stroke="#999" stroke-width="0.45" />
<circle cx="172.47" cy="501.11" r="1" fill="#fff" stroke="#999" stroke-width="0.45" />
<circle cx="173.87" cy="498.08" r="1" fill="#fff" stroke="#999" stroke-width="0.45" />
<circle cx="174" cy="495.91" r="1" fill="#fff" stroke="#999" stroke-width="0.45" />
<circle cx="170.64" cy="493.75" r="1" fill="#fff" stroke="#999" stroke-width="0.45" />
<circle cx="170.33" cy="483.8" r="1" fill="#fff" stroke="#999" stroke-width="0.45" />
<circle cx="175.27" cy="483.53" r="1" fill="#fff" stroke="#999" stroke-width="0.45" />
<circle cx="171.81" cy="478.7" r="1" fill="#fff" stroke="#999" stroke-width="0.45" />
<circle cx="173.25" cy="519.74" r="1.1" fill="#2a78d0" />
<line x1="184.95" y1="491.58" x2="184.95" y2="513.11" stroke="#000" stroke-width="0.7" />
<line x1="182.95" y1="491.58" x2="186.95" y2="491.58" stroke="#000" stroke-width="0.7" />
<line x1="184.95" y1="525.41" x2="184.95" y2="530.57" stroke="#000" stroke-width="0.7" />
<rect x="180" y="513.11" width="9.9" height="12.3" fill="#ff2a0c" stroke="#000" stroke-width="0.8" />
<line x1="180" y1="522.21" x2="189.9" y2="522.21" stroke="#000" stroke-width="1" />
<circle cx="183.37" cy="484.06" r="1" fill="#fff" stroke="#999" stroke-width="0.45" />
<circle cx="182.57" cy="483.26" r="1" fill="#fff" stroke="#999" stroke-width="0.45" />
<circle cx="184.33" cy="482.99" r="1" fill="#fff" stroke="#999" stroke-width="0.45" />
<circle cx="182.88" cy="480.58" r="1" fill="#fff" stroke="#999" stroke-width="0.45" />
<circle cx="182.35" cy="479.23" r="1" fill="#fff" stroke="#999" stroke-width="0.45" />
<circle cx="184.36" cy="471.18" r="1" fill="#fff" stroke="#999" stroke-width="0.45" />
<circle cx="184.95" cy="513.24" r="1.1" fill="#2a78d0" />
<circle cx="146.33" cy="530.62" r="0.9" fill="#fff" stroke="#999" stroke-width="0.4" />
<circle cx="149.91" cy="532.05" r="0.9" fill="#fff" stroke="#999" stroke-width="0.4" />
<circle cx="144.88" cy="532.62" r="0.9" fill="#fff" stroke="#999" stroke-width="0.4" />
<circle cx="144.02" cy="532.7" r="0.9" fill="#fff" stroke="#999" stroke-width="0.4" />
<circle cx="144.34" cy="530.73" r="0.9" fill="#fff" stroke="#999" stroke-width="0.4" />
<circle cx="150.92" cy="530.03" r="0.9" fill="#fff" stroke="#999" stroke-width="0.4" />
<circle cx="146.09" cy="531.15" r="0.9" fill="#fff" stroke="#999" stroke-width="0.4" />
<circle cx="148.56" cy="531.46" r="0.9" fill="#fff" stroke="#999" stroke-width="0.4" />
<circle cx="143.68" cy="529.45" r="0.9" fill="#fff" stroke="#999" stroke-width="0.4" />
<circle cx="159.31" cy="532.3" r="0.9" fill="#fff" stroke="#999" stroke-width="0.4" />
<circle cx="155.05" cy="532.37" r="0.9" fill="#fff" stroke="#999" stroke-width="0.4" />
<circle cx="161.98" cy="532.31" r="0.9" fill="#fff" stroke="#999" stroke-width="0.4" />
<circle cx="159.38" cy="528.95" r="0.9" fill="#fff" stroke="#999" stroke-width="0.4" />
<circle cx="154.77" cy="531.23" r="0.9" fill="#fff" stroke="#999" stroke-width="0.4" />
<circle cx="158.22" cy="529.16" r="0.9" fill="#fff" stroke="#999" stroke-width="0.4" />
<circle cx="155.97" cy="531.73" r="0.9" fill="#fff" stroke="#999" stroke-width="0.4" />
<circle cx="156.43" cy="532.54" r="0.9" fill="#fff" stroke="#999" stroke-width="0.4" />
<circle cx="159.75" cy="529.55" r="0.9" fill="#fff" stroke="#999" stroke-width="0.4" />
<circle cx="172.71" cy="532.59" r="0.9" fill="#fff" stroke="#999" stroke-width="0.4" />
<circle cx="175.07" cy="529.86" r="0.9" fill="#fff" stroke="#999" stroke-width="0.4" />
<circle cx="174.55" cy="531.45" r="0.9" fill="#fff" stroke="#999" stroke-width="0.4" />
<circle cx="176.06" cy="530.28" r="0.9" fill="#fff" stroke="#999" stroke-width="0.4" />
<circle cx="174.01" cy="530.63" r="0.9" fill="#fff" stroke="#999" stroke-width="0.4" />
<circle cx="170.98" cy="530.96" r="0.9" fill="#fff" stroke="#999" stroke-width="0.4" />
<circle cx="175.75" cy="530.07" r="0.9" fill="#fff" stroke="#999" stroke-width="0.4" />
<circle cx="171.94" cy="529.54" r="0.9" fill="#fff" stroke="#999" stroke-width="0.4" />
<circle cx="176.14" cy="532.56" r="0.9" fill="#fff" stroke="#999" stroke-width="0.4" />
<circle cx="182.24" cy="531.86" r="0.9" fill="#fff" stroke="#999" stroke-width="0.4" />
<circle cx="181.12" cy="529.8" r="0.9" fill="#fff" stroke="#999" stroke-width="0.4" />
<circle cx="186.11" cy="530.62" r="0.9" fill="#fff" stroke="#999" stroke-width="0.4" />
<circle cx="188.86" cy="531.34" r="0.9" fill="#fff" stroke="#999" stroke-width="0.4" />
<circle cx="182.57" cy="532.3" r="0.9" fill="#fff" stroke="#999" stroke-width="0.4" />
<circle cx="183.69" cy="529.47" r="0.9" fill="#fff" stroke="#999" stroke-width="0.4" />
<circle cx="185.79" cy="532.5" r="0.9" fill="#fff" stroke="#999" stroke-width="0.4" />
<circle cx="184.42" cy="532.55" r="0.9" fill="#fff" stroke="#999" stroke-width="0.4" />
<circle cx="185.92" cy="532.26" r="0.9" fill="#fff" stroke="#999" stroke-width="0.4" />
<line x1="135.8" y1="534.9" x2="194.6" y2="534.9" stroke="#000" stroke-width="0.8" />
<line x1="147.05" y1="534.9" x2="147.05" y2="536.9" stroke="#000" stroke-width="0.7" />
<text transform="translate(147.55,542.1) rotate(-45)" dy="0.3em" font-size="7" stroke="#000" stroke-width="0.08" text-anchor="end">Neurotypical</text>
<line x1="158.4" y1="534.9" x2="158.4" y2="536.9" stroke="#000" stroke-width="0.7" />
<text transform="translate(158.9,542.1) rotate(-45)" dy="0.3em" font-size="7" stroke="#000" stroke-width="0.08" text-anchor="end">MPSIIIA</text>
<line x1="173.25" y1="534.9" x2="173.25" y2="536.9" stroke="#000" stroke-width="0.7" />
<text transform="translate(173.75,542.1) rotate(-45)" dy="0.3em" font-size="7" stroke="#000" stroke-width="0.08" text-anchor="end">Neurotypical</text>
<line x1="184.95" y1="534.9" x2="184.95" y2="536.9" stroke="#000" stroke-width="0.7" />
<text transform="translate(185.45,542.1) rotate(-45)" dy="0.3em" font-size="7" stroke="#000" stroke-width="0.08" text-anchor="end">MPSIIIA</text>
<path d="M146.6 467.5V464.7H158.6V467.5" stroke="#000" stroke-width="0.7" fill="none" />
<text x="152.6" y="460.5" dy="0.35em" font-size="6.3" stroke="#000" stroke-width="0.08" text-anchor="middle">ns</text>
<path d="M172.8 467.5V464.7H184.6V467.5" stroke="#000" stroke-width="0.7" fill="none" />
<text x="178.7" y="460.5" dy="0.35em" font-size="7" stroke="#000" stroke-width="0.08" text-anchor="middle">0.0071</text>
<text transform="translate(195.8,514) rotate(-90)" dy="0.35em" font-size="6.8" text-anchor="middle"><tspan font-style="italic">n</tspan>= neurons</text>
<text x="150" y="574.4" dy="0.35em" font-size="5" font-style="italic" fill="#8e8e8e" stroke="#8e8e8e" stroke-width="0.08" text-anchor="middle">30-60 days</text>
<text x="180.4" y="574.4" dy="0.35em" font-size="5" font-style="italic" fill="#8e8e8e" stroke="#8e8e8e" stroke-width="0.08" text-anchor="middle">90-120 days</text>
<text x="6" y="588.7" dy="0.35em" font-size="11.2" font-weight="bold">G</text>
<line x1="35.9" y1="612" x2="35.9" y2="654.4" stroke="#000" stroke-width="0.8" />
<line x1="33.7" y1="654.4" x2="35.9" y2="654.4" stroke="#000" stroke-width="0.8" />
<text x="32.7" y="654.4" dy="0.35em" font-size="6.8" stroke="#000" stroke-width="0.08" text-anchor="end">0</text>
<line x1="33.7" y1="643.8" x2="35.9" y2="643.8" stroke="#000" stroke-width="0.8" />
<text x="32.7" y="643.8" dy="0.35em" font-size="6.8" stroke="#000" stroke-width="0.08" text-anchor="end">1</text>
<line x1="33.7" y1="633.2" x2="35.9" y2="633.2" stroke="#000" stroke-width="0.8" />
<text x="32.7" y="633.2" dy="0.35em" font-size="6.8" stroke="#000" stroke-width="0.08" text-anchor="end">2</text>
<line x1="33.7" y1="622.6" x2="35.9" y2="622.6" stroke="#000" stroke-width="0.8" />
<text x="32.7" y="622.6" dy="0.35em" font-size="6.8" stroke="#000" stroke-width="0.08" text-anchor="end">3</text>
<line x1="33.7" y1="612" x2="35.9" y2="612" stroke="#000" stroke-width="0.8" />
<text x="32.7" y="612" dy="0.35em" font-size="6.8" stroke="#000" stroke-width="0.08" text-anchor="end">4</text>
<line x1="34.58" y1="649.1" x2="35.9" y2="649.1" stroke="#000" stroke-width="0.64" />
<line x1="34.58" y1="638.5" x2="35.9" y2="638.5" stroke="#000" stroke-width="0.64" />
<line x1="34.58" y1="627.9" x2="35.9" y2="627.9" stroke="#000" stroke-width="0.64" />
<line x1="34.58" y1="617.3" x2="35.9" y2="617.3" stroke="#000" stroke-width="0.64" />
<line x1="35.9" y1="588.4" x2="35.9" y2="607.5" stroke="#000" stroke-width="0.8" />
<line x1="33.7" y1="605.9" x2="35.9" y2="605.9" stroke="#000" stroke-width="0.8" />
<text x="32.7" y="605.9" dy="0.35em" font-size="6.8" stroke="#000" stroke-width="0.08" text-anchor="end">5</text>
<line x1="33.7" y1="597.15" x2="35.9" y2="597.15" stroke="#000" stroke-width="0.8" />
<text x="32.7" y="597.15" dy="0.35em" font-size="6.8" stroke="#000" stroke-width="0.08" text-anchor="end">10</text>
<line x1="33.7" y1="588.4" x2="35.9" y2="588.4" stroke="#000" stroke-width="0.8" />
<text x="32.7" y="588.4" dy="0.35em" font-size="6.8" stroke="#000" stroke-width="0.08" text-anchor="end">15</text>
<line x1="33.7" y1="607.5" x2="35.9" y2="607.5" stroke="#000" stroke-width="0.8" />
<text transform="translate(21,620.5) rotate(-90)" dy="0.35em" font-size="6.9" stroke="#000" stroke-width="0.08" text-anchor="middle">AMPA Frequency (Hz)</text>
<line x1="46" y1="641.79" x2="46" y2="650.05" stroke="#000" stroke-width="0.7" />
<line x1="44" y1="641.79" x2="48" y2="641.79" stroke="#000" stroke-width="0.7" />
<rect x="41.2" y="650.05" width="9.6" height="4.35" fill="#8a8a8a" stroke="#000" stroke-width="0.8" />
<line x1="41.2" y1="653.87" x2="50.8" y2="653.87" stroke="#000" stroke-width="1" />
<circle cx="46.74" cy="641.68" r="1" fill="#fff" stroke="#999" stroke-width="0.45" />
<circle cx="47.45" cy="641.15" r="1" fill="#fff" stroke="#999" stroke-width="0.45" />
<circle cx="47.77" cy="640.62" r="1" fill="#fff" stroke="#999" stroke-width="0.45" />
<circle cx="48.65" cy="639.03" r="1" fill="#fff" stroke="#999" stroke-width="0.45" />
<circle cx="47.44" cy="637.44" r="1" fill="#fff" stroke="#999" stroke-width="0.45" />
<circle cx="48.53" cy="635.32" r="1" fill="#fff" stroke="#999" stroke-width="0.45" />
<circle cx="43.17" cy="632.14" r="1" fill="#fff" stroke="#999" stroke-width="0.45" />
<circle cx="45.79" cy="630.02" r="1" fill="#fff" stroke="#999" stroke-width="0.45" />
<circle cx="48.66" cy="625.78" r="1" fill="#fff" stroke="#999" stroke-width="0.45" />
<circle cx="46.89" cy="622.6" r="1" fill="#fff" stroke="#999" stroke-width="0.45" />
<circle cx="48.41" cy="616.24" r="1" fill="#fff" stroke="#999" stroke-width="0.45" />
<circle cx="43.68" cy="605.55" r="1" fill="#fff" stroke="#999" stroke-width="0.45" />
<circle cx="46" cy="650.69" r="1.1" fill="#2a78d0" />
<line x1="57.55" y1="636.17" x2="57.55" y2="649.21" stroke="#000" stroke-width="0.7" />
<line x1="55.55" y1="636.17" x2="59.55" y2="636.17" stroke="#000" stroke-width="0.7" />
<rect x="52.6" y="649.21" width="9.9" height="5.19" fill="#ff2a0c" stroke="#000" stroke-width="0.8" />
<line x1="52.6" y1="653.87" x2="62.5" y2="653.87" stroke="#000" stroke-width="1" />
<circle cx="59.31" cy="634.26" r="1" fill="#fff" stroke="#999" stroke-width="0.45" />
<circle cx="59.48" cy="632.14" r="1" fill="#fff" stroke="#999" stroke-width="0.45" />
<circle cx="57.46" cy="628.96" r="1" fill="#fff" stroke="#999" stroke-width="0.45" />
<circle cx="56.12" cy="625.78" r="1" fill="#fff" stroke="#999" stroke-width="0.45" />
<circle cx="54.55" cy="622.6" r="1" fill="#fff" stroke="#999" stroke-width="0.45" />
<circle cx="58.53" cy="619.42" r="1" fill="#fff" stroke="#999" stroke-width="0.45" />
<circle cx="57.37" cy="616.24" r="1" fill="#fff" stroke="#999" stroke-width="0.45" />
<circle cx="59.11" cy="613.06" r="1" fill="#fff" stroke="#999" stroke-width="0.45" />
<circle cx="56.79" cy="605.55" r="1" fill="#fff" stroke="#999" stroke-width="0.45" />
<circle cx="59.17" cy="605.02" r="1" fill="#fff" stroke="#999" stroke-width="0.45" />
<circle cx="56.19" cy="603.27" r="1" fill="#fff" stroke="#999" stroke-width="0.45" />
<circle cx="59.36" cy="601.52" r="1" fill="#fff" stroke="#999" stroke-width="0.45" />
<circle cx="58.93" cy="599.77" r="1" fill="#fff" stroke="#999" stroke-width="0.45" />
<circle cx="57.55" cy="647.62" r="1.1" fill="#2a78d0" />
<line x1="72.25" y1="617.72" x2="72.25" y2="639.24" stroke="#000" stroke-width="0.7" />
<line x1="70.25" y1="617.72" x2="74.25" y2="617.72" stroke="#000" stroke-width="0.7" />
<rect x="67.4" y="639.24" width="9.7" height="15.16" fill="#8a8a8a" stroke="#000" stroke-width="0.8" />
<line x1="67.4" y1="650.9" x2="77.1" y2="650.9" stroke="#000" stroke-width="1" />
<circle cx="71.19" cy="613.06" r="1" fill="#fff" stroke="#999" stroke-width="0.45" />
<circle cx="70.16" cy="605.55" r="1" fill="#fff" stroke="#999" stroke-width="0.45" />
<circle cx="73.16" cy="605.2" r="1" fill="#fff" stroke="#999" stroke-width="0.45" />
<circle cx="69.68" cy="604.15" r="1" fill="#fff" stroke="#999" stroke-width="0.45" />
<circle cx="72.47" cy="603.62" r="1" fill="#fff" stroke="#999" stroke-width="0.45" />
<circle cx="71.44" cy="603.1" r="1" fill="#fff" stroke="#999" stroke-width="0.45" />
<circle cx="72.25" cy="643.91" r="1.1" fill="#2a78d0" />
<line x1="83.65" y1="602.4" x2="83.65" y2="628.32" stroke="#000" stroke-width="0.7" />
<line x1="81.65" y1="602.4" x2="85.65" y2="602.4" stroke="#000" stroke-width="0.7" />
<rect x="78.8" y="628.32" width="9.7" height="26.08" fill="#ff2a0c" stroke="#000" stroke-width="0.8" />
<line x1="78.8" y1="648.25" x2="88.5" y2="648.25" stroke="#000" stroke-width="1" />
<circle cx="82.01" cy="602.4" r="1" fill="#fff" stroke="#999" stroke-width="0.45" />
<circle cx="86.42" cy="600.65" r="1" fill="#fff" stroke="#999" stroke-width="0.45" />
<circle cx="81.41" cy="599.77" r="1" fill="#fff" stroke="#999" stroke-width="0.45" />
<circle cx="84.88" cy="598.9" r="1" fill="#fff" stroke="#999" stroke-width="0.45" />
<circle cx="81.16" cy="598.02" r="1" fill="#fff" stroke="#999" stroke-width="0.45" />
<circle cx="82.13" cy="597.15" r="1" fill="#fff" stroke="#999" stroke-width="0.45" />
<circle cx="86.64" cy="596.27" r="1" fill="#fff" stroke="#999" stroke-width="0.45" />
<circle cx="81.91" cy="595.4" r="1" fill="#fff" stroke="#999" stroke-width="0.45" />
<circle cx="84.5" cy="593.65" r="1" fill="#fff" stroke="#999" stroke-width="0.45" />
<circle cx="83.4" cy="591.9" r="1" fill="#fff" stroke="#999" stroke-width="0.45" />
<circle cx="83.37" cy="590.15" r="1" fill="#fff" stroke="#999" stroke-width="0.45" />
<circle cx="83.65" cy="634.05" r="1.1" fill="#2a78d0" />
<line x1="35.9" y1="654.4" x2="94.6" y2="654.4" stroke="#000" stroke-width="0.8" />
<line x1="46" y1="654.4" x2="46" y2="656.4" stroke="#000" stroke-width="0.7" />
<text transform="translate(46.5,661.6) rotate(-45)" dy="0.3em" font-size="7" stroke="#000" stroke-width="0.08" text-anchor="end">Neurotypical</text>
<line x1="57.55" y1="654.4" x2="57.55" y2="656.4" stroke="#000" stroke-width="0.7" />
<text transform="translate(58.05,661.6) rotate(-45)" dy="0.3em" font-size="7" stroke="#000" stroke-width="0.08" text-anchor="end">MPSIIIA</text>
<line x1="72.25" y1="654.4" x2="72.25" y2="656.4" stroke="#000" stroke-width="0.7" />
<text transform="translate(72.75,661.6) rotate(-45)" dy="0.3em" font-size="7" stroke="#000" stroke-width="0.08" text-anchor="end">Neurotypical</text>
<line x1="83.65" y1="654.4" x2="83.65" y2="656.4" stroke="#000" stroke-width="0.7" />
<text transform="translate(84.15,661.6) rotate(-45)" dy="0.3em" font-size="7" stroke="#000" stroke-width="0.08" text-anchor="end">MPSIIIA</text>
<path d="M46 588V585.2H57.6V588" stroke="#000" stroke-width="0.7" fill="none" />
<text x="51.8" y="580.8" dy="0.35em" font-size="6.3" stroke="#000" stroke-width="0.08" text-anchor="middle">ns</text>
<path d="M72.2 588V585.2H83.6V588" stroke="#000" stroke-width="0.7" fill="none" />
<text x="77.9" y="580.8" dy="0.35em" font-size="7" stroke="#000" stroke-width="0.08" text-anchor="middle">0.0015</text>
<text transform="translate(96.4,633) rotate(-90)" dy="0.35em" font-size="6.8" text-anchor="middle"><tspan font-style="italic">n</tspan>= neurons</text>
<text x="47.3" y="693.5" dy="0.35em" font-size="5" font-style="italic" fill="#8e8e8e" stroke="#8e8e8e" stroke-width="0.08" text-anchor="middle">30-60 days</text>
<text x="78" y="693.5" dy="0.35em" font-size="5" font-style="italic" fill="#8e8e8e" stroke="#8e8e8e" stroke-width="0.08" text-anchor="middle">90-120 days</text>
<line x1="128.2" y1="588.4" x2="128.2" y2="655.4" stroke="#000" stroke-width="0.8" />
<line x1="126" y1="655.4" x2="128.2" y2="655.4" stroke="#000" stroke-width="0.8" />
<text x="125" y="655.4" dy="0.35em" font-size="6.8" stroke="#000" stroke-width="0.08" text-anchor="end">0</text>
<line x1="126" y1="642" x2="128.2" y2="642" stroke="#000" stroke-width="0.8" />
<text x="125" y="642" dy="0.35em" font-size="6.8" stroke="#000" stroke-width="0.08" text-anchor="end">20</text>
<line x1="126" y1="628.6" x2="128.2" y2="628.6" stroke="#000" stroke-width="0.8" />
<text x="125" y="628.6" dy="0.35em" font-size="6.8" stroke="#000" stroke-width="0.08" text-anchor="end">40</text>
<line x1="126" y1="615.2" x2="128.2" y2="615.2" stroke="#000" stroke-width="0.8" />
<text x="125" y="615.2" dy="0.35em" font-size="6.8" stroke="#000" stroke-width="0.08" text-anchor="end">60</text>
<line x1="126" y1="601.8" x2="128.2" y2="601.8" stroke="#000" stroke-width="0.8" />
<text x="125" y="601.8" dy="0.35em" font-size="6.8" stroke="#000" stroke-width="0.08" text-anchor="end">80</text>
<line x1="126" y1="588.4" x2="128.2" y2="588.4" stroke="#000" stroke-width="0.8" />
<text x="125" y="588.4" dy="0.35em" font-size="6.8" stroke="#000" stroke-width="0.08" text-anchor="end">100</text>
<line x1="126.88" y1="648.7" x2="128.2" y2="648.7" stroke="#000" stroke-width="0.64" />
<line x1="126.88" y1="635.3" x2="128.2" y2="635.3" stroke="#000" stroke-width="0.64" />
<line x1="126.88" y1="621.9" x2="128.2" y2="621.9" stroke="#000" stroke-width="0.64" />
<line x1="126.88" y1="608.5" x2="128.2" y2="608.5" stroke="#000" stroke-width="0.64" />
<line x1="126.88" y1="595.1" x2="128.2" y2="595.1" stroke="#000" stroke-width="0.64" />
<line x1="128.2" y1="655.4" x2="207.9" y2="655.4" stroke="#000" stroke-width="0.8" />
<line x1="128.8" y1="655.4" x2="128.8" y2="657.6" stroke="#000" stroke-width="0.8" />
<text x="128.8" y="661.6" dy="0.35em" font-size="6.8" stroke="#000" stroke-width="0.08" text-anchor="middle">0</text>
<line x1="139.34" y1="655.4" x2="139.34" y2="657.6" stroke="#000" stroke-width="0.8" />
<text x="139.34" y="661.6" dy="0.35em" font-size="6.8" stroke="#000" stroke-width="0.08" text-anchor="middle">2</text>
<line x1="149.88" y1="655.4" x2="149.88" y2="657.6" stroke="#000" stroke-width="0.8" />
<text x="149.88" y="661.6" dy="0.35em" font-size="6.8" stroke="#000" stroke-width="0.08" text-anchor="middle">4</text>
<line x1="160.42" y1="655.4" x2="160.42" y2="657.6" stroke="#000" stroke-width="0.8" />
<text x="160.42" y="661.6" dy="0.35em" font-size="6.8" stroke="#000" stroke-width="0.08" text-anchor="middle">6</text>
<line x1="170.96" y1="655.4" x2="170.96" y2="657.6" stroke="#000" stroke-width="0.8" />
<text x="170.96" y="661.6" dy="0.35em" font-size="6.8" stroke="#000" stroke-width="0.08" text-anchor="middle">8</text>
<line x1="181.5" y1="655.4" x2="181.5" y2="657.6" stroke="#000" stroke-width="0.8" />
<text x="181.5" y="661.6" dy="0.35em" font-size="6.8" stroke="#000" stroke-width="0.08" text-anchor="middle">10</text>
<line x1="192.04" y1="655.4" x2="192.04" y2="657.6" stroke="#000" stroke-width="0.8" />
<text x="192.04" y="661.6" dy="0.35em" font-size="6.8" stroke="#000" stroke-width="0.08" text-anchor="middle">12</text>
<line x1="202.58" y1="655.4" x2="202.58" y2="657.6" stroke="#000" stroke-width="0.8" />
<text x="202.58" y="661.6" dy="0.35em" font-size="6.8" stroke="#000" stroke-width="0.08" text-anchor="middle">14</text>
<text transform="translate(110.2,621) rotate(-90)" dy="0.35em" font-size="6.9" stroke="#000" stroke-width="0.08" text-anchor="middle">Cumulative distribution (%)</text>
<path d="M128.8 616.54L134.07 603.81L139.34 597.78L144.61 594.43L149.88 593.09L155.15 590.41L160.42 589.74L165.69 588.4L170.96 588.4L176.23 588.4L181.5 588.4L186.77 588.4L192.04 588.4L197.31 588.4L202.58 588.4" stroke="#000" stroke-width="0.8" fill="none" />
<circle cx="128.8" cy="616.54" r="1.3" fill="#000" />
<circle cx="134.07" cy="603.81" r="1.3" fill="#000" />
<circle cx="139.34" cy="597.78" r="1.3" fill="#000" />
<circle cx="144.61" cy="594.43" r="1.3" fill="#000" />
<circle cx="149.88" cy="593.09" r="1.3" fill="#000" />
<circle cx="155.15" cy="590.41" r="1.3" fill="#000" />
<circle cx="160.42" cy="589.74" r="1.3" fill="#000" />
<circle cx="165.69" cy="588.4" r="1.3" fill="#000" />
<circle cx="170.96" cy="588.4" r="1.3" fill="#000" />
<circle cx="176.23" cy="588.4" r="1.3" fill="#000" />
<circle cx="181.5" cy="588.4" r="1.3" fill="#000" />
<circle cx="186.77" cy="588.4" r="1.3" fill="#000" />
<circle cx="192.04" cy="588.4" r="1.3" fill="#000" />
<circle cx="197.31" cy="588.4" r="1.3" fill="#000" />
<circle cx="202.58" cy="588.4" r="1.3" fill="#000" />
<path d="M128.8 622.57L134.07 613.86L139.34 604.48L144.61 600.46L149.88 597.78L155.15 597.11L160.42 595.1L165.69 593.76L170.96 592.42L176.23 591.08L181.5 590.41L186.77 589.74L192.04 589.07L197.31 588.4L202.58 588.4" stroke="#ff2a0c" stroke-width="0.8" fill="none" />
<rect x="127.5" y="621.27" width="2.6" height="2.6" fill="#ff2a0c" />
<rect x="132.77" y="612.56" width="2.6" height="2.6" fill="#ff2a0c" />
<rect x="138.04" y="603.18" width="2.6" height="2.6" fill="#ff2a0c" />
<rect x="143.31" y="599.16" width="2.6" height="2.6" fill="#ff2a0c" />
<rect x="148.58" y="596.48" width="2.6" height="2.6" fill="#ff2a0c" />
<rect x="153.85" y="595.81" width="2.6" height="2.6" fill="#ff2a0c" />
<rect x="159.12" y="593.8" width="2.6" height="2.6" fill="#ff2a0c" />
<rect x="164.39" y="592.46" width="2.6" height="2.6" fill="#ff2a0c" />
<rect x="169.66" y="591.12" width="2.6" height="2.6" fill="#ff2a0c" />
<rect x="174.93" y="589.78" width="2.6" height="2.6" fill="#ff2a0c" />
<rect x="180.2" y="589.11" width="2.6" height="2.6" fill="#ff2a0c" />
<rect x="185.47" y="588.44" width="2.6" height="2.6" fill="#ff2a0c" />
<rect x="190.74" y="587.77" width="2.6" height="2.6" fill="#ff2a0c" />
<rect x="196.01" y="587.1" width="2.6" height="2.6" fill="#ff2a0c" />
<rect x="201.28" y="587.1" width="2.6" height="2.6" fill="#ff2a0c" />
<text x="168" y="667.7" dy="0.35em" font-size="6.3" stroke="#000" stroke-width="0.08" text-anchor="middle">AMPA frequency (Hz)</text>
<text x="168" y="675" dy="0.35em" font-size="6.3" stroke="#000" stroke-width="0.08" text-anchor="middle">[bin center]</text>
<text x="168" y="684.3" dy="0.35em" font-size="5.8" font-style="italic" fill="#8e8e8e" stroke="#8e8e8e" stroke-width="0.08" text-anchor="middle">90-120 days</text>
<line x1="135.1" y1="642.1" x2="142.1" y2="642.1" stroke="#000" stroke-width="0.8" />
<circle cx="138.6" cy="642.1" r="1.3" fill="#000" />
<line x1="135.1" y1="650.3" x2="142.1" y2="650.3" stroke="#ff2a0c" stroke-width="0.8" />
<rect x="137.3" y="649" width="2.6" height="2.6" fill="#ff2a0c" />
<text x="144.7" y="642.1" dy="0.35em" font-size="6" stroke="#000" stroke-width="0.08">Neurotypical</text>
<text x="144.7" y="650.3" dy="0.35em" font-size="6" stroke="#000" stroke-width="0.08">MPSIIIA</text>
<path d="M179.6 640.6H181.6V651.8H179.6" stroke="#666" stroke-width="0.7" fill="none" />
<text x="182.7" y="646.2" dy="0.35em" font-size="6" stroke="#000" stroke-width="0.08">p= 0.0001</text>
<text x="234.6" y="465.4" dy="0.35em" font-size="11.2" font-weight="bold">J</text>
<line x1="262.3" y1="473.3" x2="262.3" y2="535.8" stroke="#000" stroke-width="0.8" />
<line x1="260.1" y1="535.8" x2="262.3" y2="535.8" stroke="#000" stroke-width="0.8" />
<text x="259.1" y="535.8" dy="0.35em" font-size="6.8" stroke="#000" stroke-width="0.08" text-anchor="end">0</text>
<line x1="260.1" y1="523.3" x2="262.3" y2="523.3" stroke="#000" stroke-width="0.8" />
<text x="259.1" y="523.3" dy="0.35em" font-size="6.8" stroke="#000" stroke-width="0.08" text-anchor="end">20</text>
<line x1="260.1" y1="510.8" x2="262.3" y2="510.8" stroke="#000" stroke-width="0.8" />
<text x="259.1" y="510.8" dy="0.35em" font-size="6.8" stroke="#000" stroke-width="0.08" text-anchor="end">40</text>
<line x1="260.1" y1="498.3" x2="262.3" y2="498.3" stroke="#000" stroke-width="0.8" />
<text x="259.1" y="498.3" dy="0.35em" font-size="6.8" stroke="#000" stroke-width="0.08" text-anchor="end">60</text>
<line x1="260.1" y1="485.8" x2="262.3" y2="485.8" stroke="#000" stroke-width="0.8" />
<text x="259.1" y="485.8" dy="0.35em" font-size="6.8" stroke="#000" stroke-width="0.08" text-anchor="end">80</text>
<line x1="260.1" y1="473.3" x2="262.3" y2="473.3" stroke="#000" stroke-width="0.8" />
<text x="259.1" y="473.3" dy="0.35em" font-size="6.8" stroke="#000" stroke-width="0.08" text-anchor="end">100</text>
<line x1="260.98" y1="529.55" x2="262.3" y2="529.55" stroke="#000" stroke-width="0.64" />
<line x1="260.98" y1="517.05" x2="262.3" y2="517.05" stroke="#000" stroke-width="0.64" />
<line x1="260.98" y1="504.55" x2="262.3" y2="504.55" stroke="#000" stroke-width="0.64" />
<line x1="260.98" y1="492.05" x2="262.3" y2="492.05" stroke="#000" stroke-width="0.64" />
<line x1="260.98" y1="479.55" x2="262.3" y2="479.55" stroke="#000" stroke-width="0.64" />
<text transform="translate(242.2,504.3) rotate(-90)" dy="0.35em" font-size="6.1" stroke="#000" stroke-width="0.08" text-anchor="middle">% Neurons with active</text>
<text transform="translate(248.7,504.3) rotate(-90)" dy="0.35em" font-size="6.1" stroke="#000" stroke-width="0.08" text-anchor="middle">GABA inputs</text>
<rect x="267" y="494.55" width="9.7" height="41.25" fill="#000" stroke="#000" stroke-width="0.8" />
<rect x="279.3" y="500.8" width="9.1" height="35" fill="#ff2a0c" stroke="#000" stroke-width="0.8" />
<rect x="294.6" y="495.8" width="9.2" height="40" fill="#000" stroke="#000" stroke-width="0.8" />
<rect x="306.5" y="488.3" width="9.2" height="47.5" fill="#ff2a0c" stroke="#000" stroke-width="0.8" />
<line x1="262.3" y1="535.8" x2="317.5" y2="535.8" stroke="#000" stroke-width="0.8" />
<line x1="271.85" y1="535.8" x2="271.85" y2="537.8" stroke="#000" stroke-width="0.7" />
<text transform="translate(271.85,542.8) rotate(-45)" dy="0.3em" font-size="6.4" stroke="#000" stroke-width="0.08" text-anchor="end">Neurotypical</text>
<line x1="283.85" y1="535.8" x2="283.85" y2="537.8" stroke="#000" stroke-width="0.7" />
<text transform="translate(283.85,542.8) rotate(-45)" dy="0.3em" font-size="6.4" stroke="#000" stroke-width="0.08" text-anchor="end">MPSIIIA</text>
<line x1="299.2" y1="535.8" x2="299.2" y2="537.8" stroke="#000" stroke-width="0.7" />
<text transform="translate(299.2,542.8) rotate(-45)" dy="0.3em" font-size="6.4" stroke="#000" stroke-width="0.08" text-anchor="end">Neurotypical</text>
<line x1="311.1" y1="535.8" x2="311.1" y2="537.8" stroke="#000" stroke-width="0.7" />
<text transform="translate(311.1,542.8) rotate(-45)" dy="0.3em" font-size="6.4" stroke="#000" stroke-width="0.08" text-anchor="end">MPSIIIA</text>
<line x1="271.85" y1="494.55" x2="271.85" y2="488.92" stroke="#000" stroke-width="0.7" />
<line x1="270.05" y1="488.92" x2="273.65" y2="488.92" stroke="#000" stroke-width="0.7" />
<line x1="283.85" y1="500.8" x2="283.85" y2="496.42" stroke="#000" stroke-width="0.7" />
<line x1="282.05" y1="496.42" x2="285.65" y2="496.42" stroke="#000" stroke-width="0.7" />
<line x1="299.2" y1="495.8" x2="299.2" y2="490.8" stroke="#000" stroke-width="0.7" />
<line x1="297.4" y1="490.8" x2="301" y2="490.8" stroke="#000" stroke-width="0.7" />
<line x1="311.1" y1="488.3" x2="311.1" y2="485.17" stroke="#000" stroke-width="0.7" />
<line x1="309.3" y1="485.17" x2="312.9" y2="485.17" stroke="#000" stroke-width="0.7" />
<circle cx="270" cy="480.8" r="1" fill="#fff" stroke="#777" stroke-width="0.5" />
<circle cx="274" cy="481.42" r="1" fill="#fff" stroke="#777" stroke-width="0.5" />
<circle cx="269" cy="517.05" r="1" fill="#fff" stroke="#777" stroke-width="0.5" />
<circle cx="273" cy="497.05" r="1" fill="#fff" stroke="#777" stroke-width="0.5" />
<circle cx="275" cy="498.3" r="1" fill="#fff" stroke="#777" stroke-width="0.5" />
<circle cx="284" cy="483.3" r="1" fill="#fff" stroke="#777" stroke-width="0.5" />
<circle cx="284" cy="490.8" r="1" fill="#fff" stroke="#777" stroke-width="0.5" />
<circle cx="282" cy="512.05" r="1" fill="#fff" stroke="#777" stroke-width="0.5" />
<circle cx="284" cy="518.3" r="1" fill="#fff" stroke="#777" stroke-width="0.5" />
<circle cx="286" cy="497.05" r="1" fill="#fff" stroke="#777" stroke-width="0.5" />
<circle cx="283" cy="504.55" r="1" fill="#fff" stroke="#777" stroke-width="0.5" />
<circle cx="298" cy="477.05" r="1" fill="#fff" stroke="#777" stroke-width="0.5" />
<circle cx="298" cy="484.55" r="1" fill="#fff" stroke="#777" stroke-width="0.5" />
<circle cx="297" cy="509.55" r="1" fill="#fff" stroke="#777" stroke-width="0.5" />
<circle cx="299" cy="504.55" r="1" fill="#fff" stroke="#777" stroke-width="0.5" />
<circle cx="301" cy="495.17" r="1" fill="#fff" stroke="#777" stroke-width="0.5" />
<circle cx="309" cy="479.55" r="1" fill="#fff" stroke="#777" stroke-width="0.5" />
<circle cx="313" cy="480.8" r="1" fill="#fff" stroke="#777" stroke-width="0.5" />
<circle cx="310" cy="485.8" r="1" fill="#fff" stroke="#777" stroke-width="0.5" />
<circle cx="312" cy="503.3" r="1" fill="#fff" stroke="#777" stroke-width="0.5" />
<circle cx="314" cy="492.05" r="1" fill="#fff" stroke="#777" stroke-width="0.5" />
<path d="M271.4 473.5V470.7H284.2V473.5" stroke="#000" stroke-width="0.7" fill="none" />
<text x="277.8" y="466.6" dy="0.35em" font-size="6.3" stroke="#000" stroke-width="0.08" text-anchor="middle">ns</text>
<path d="M299.5 473.5V470.7H311.7V473.5" stroke="#000" stroke-width="0.7" fill="none" />
<text x="305.6" y="466.6" dy="0.35em" font-size="6.3" stroke="#000" stroke-width="0.08" text-anchor="middle">ns</text>
<text transform="translate(322.9,518.5) rotate(-90)" dy="0.35em" font-size="6.8" text-anchor="middle"><tspan font-style="italic">n</tspan>= donors</text>
<text x="274.9" y="570.9" dy="0.35em" font-size="5" font-style="italic" fill="#8e8e8e" stroke="#8e8e8e" stroke-width="0.08" text-anchor="middle">30-60 days</text>
<text x="303.8" y="570.9" dy="0.35em" font-size="5" font-style="italic" fill="#8e8e8e" stroke="#8e8e8e" stroke-width="0.08" text-anchor="middle">90-120 days</text>
<text x="339.5" y="464.8" dy="0.35em" font-size="11.2" font-weight="bold">L</text>
<line x1="374.6" y1="490.19" x2="374.6" y2="535.4" stroke="#000" stroke-width="0.8" />
<line x1="372.4" y1="535.4" x2="374.6" y2="535.4" stroke="#000" stroke-width="0.8" />
<text x="371.4" y="535.4" dy="0.35em" font-size="6.8" stroke="#000" stroke-width="0.08" text-anchor="end">0</text>
<line x1="372.4" y1="520.33" x2="374.6" y2="520.33" stroke="#000" stroke-width="0.8" />
<text x="371.4" y="520.33" dy="0.35em" font-size="6.8" stroke="#000" stroke-width="0.08" text-anchor="end">50</text>
<line x1="372.4" y1="505.26" x2="374.6" y2="505.26" stroke="#000" stroke-width="0.8" />
<text x="371.4" y="505.26" dy="0.35em" font-size="6.8" stroke="#000" stroke-width="0.08" text-anchor="end">100</text>
<line x1="372.4" y1="490.19" x2="374.6" y2="490.19" stroke="#000" stroke-width="0.8" />
<text x="371.4" y="490.19" dy="0.35em" font-size="6.8" stroke="#000" stroke-width="0.08" text-anchor="end">150</text>
<line x1="373.28" y1="527.87" x2="374.6" y2="527.87" stroke="#000" stroke-width="0.64" />
<line x1="373.28" y1="512.79" x2="374.6" y2="512.79" stroke="#000" stroke-width="0.64" />
<line x1="373.28" y1="497.72" x2="374.6" y2="497.72" stroke="#000" stroke-width="0.64" />
<line x1="374.6" y1="465.6" x2="374.6" y2="485.2" stroke="#000" stroke-width="0.8" />
<line x1="372.4" y1="481.3" x2="374.6" y2="481.3" stroke="#000" stroke-width="0.8" />
<text x="371.4" y="481.3" dy="0.35em" font-size="6.8" stroke="#000" stroke-width="0.08" text-anchor="end">200</text>
<line x1="372.4" y1="473.45" x2="374.6" y2="473.45" stroke="#000" stroke-width="0.8" />
<text x="371.4" y="473.45" dy="0.35em" font-size="6.8" stroke="#000" stroke-width="0.08" text-anchor="end">300</text>
<line x1="372.4" y1="465.6" x2="374.6" y2="465.6" stroke="#000" stroke-width="0.8" />
<text x="371.4" y="465.6" dy="0.35em" font-size="6.8" stroke="#000" stroke-width="0.08" text-anchor="end">400</text>
<line x1="372.4" y1="485.2" x2="374.6" y2="485.2" stroke="#000" stroke-width="0.8" />
<text transform="translate(354.7,498.8) rotate(-90)" dy="0.35em" font-size="6.9" stroke="#000" stroke-width="0.08" text-anchor="middle">Mean GABA Amplitude (pA)</text>
<line x1="385.4" y1="511.29" x2="385.4" y2="517.92" stroke="#000" stroke-width="0.7" />
<line x1="383.4" y1="511.29" x2="387.4" y2="511.29" stroke="#000" stroke-width="0.7" />
<line x1="385.4" y1="523.34" x2="385.4" y2="526.36" stroke="#000" stroke-width="0.7" />
<rect x="379.7" y="517.92" width="11.4" height="5.43" fill="#8a8a8a" stroke="#000" stroke-width="0.8" />
<line x1="379.7" y1="521.84" x2="391.1" y2="521.84" stroke="#000" stroke-width="1" />
<circle cx="385.11" cy="509.78" r="1" fill="#fff" stroke="#999" stroke-width="0.45" />
<circle cx="385.76" cy="508.27" r="1" fill="#fff" stroke="#999" stroke-width="0.45" />
<circle cx="387.95" cy="500.74" r="1" fill="#fff" stroke="#999" stroke-width="0.45" />
<circle cx="385.19" cy="491.7" r="1" fill="#fff" stroke="#999" stroke-width="0.45" />
<circle cx="385.45" cy="480.51" r="1" fill="#fff" stroke="#999" stroke-width="0.45" />
<circle cx="385.4" cy="518.82" r="1.1" fill="#2a78d0" />
<line x1="397.7" y1="503.75" x2="397.7" y2="514.3" stroke="#000" stroke-width="0.7" />
<line x1="395.7" y1="503.75" x2="399.7" y2="503.75" stroke="#000" stroke-width="0.7" />
<line x1="397.7" y1="522.74" x2="397.7" y2="526.36" stroke="#000" stroke-width="0.7" />
<rect x="392.3" y="514.3" width="10.8" height="8.44" fill="#ff2a0c" stroke="#000" stroke-width="0.8" />
<line x1="392.3" y1="520.33" x2="403.1" y2="520.33" stroke="#000" stroke-width="1" />
<circle cx="397.55" cy="508.27" r="1" fill="#fff" stroke="#999" stroke-width="0.45" />
<circle cx="398.64" cy="506.77" r="1" fill="#fff" stroke="#999" stroke-width="0.45" />
<circle cx="398.7" cy="505.26" r="1" fill="#fff" stroke="#999" stroke-width="0.45" />
<circle cx="397.7" cy="518.22" r="1.1" fill="#2a78d0" />
<line x1="413.3" y1="496.82" x2="413.3" y2="509.78" stroke="#000" stroke-width="0.7" />
<line x1="411.3" y1="496.82" x2="415.3" y2="496.82" stroke="#000" stroke-width="0.7" />
<line x1="413.3" y1="522.74" x2="413.3" y2="526.36" stroke="#000" stroke-width="0.7" />
<rect x="407.8" y="509.78" width="11" height="12.96" fill="#8a8a8a" stroke="#000" stroke-width="0.8" />
<line x1="407.8" y1="518.22" x2="418.8" y2="518.22" stroke="#000" stroke-width="1" />
<circle cx="411.85" cy="494.71" r="1" fill="#fff" stroke="#999" stroke-width="0.45" />
<circle cx="414.41" cy="493.2" r="1" fill="#fff" stroke="#999" stroke-width="0.45" />
<circle cx="414.4" cy="490.79" r="1" fill="#fff" stroke="#999" stroke-width="0.45" />
<circle cx="415.4" cy="482.87" r="1" fill="#fff" stroke="#999" stroke-width="0.45" />
<circle cx="411.41" cy="482.09" r="1" fill="#fff" stroke="#999" stroke-width="0.45" />
<circle cx="411.68" cy="479.73" r="1" fill="#fff" stroke="#999" stroke-width="0.45" />
<circle cx="411.18" cy="475.81" r="1" fill="#fff" stroke="#999" stroke-width="0.45" />
<circle cx="413.3" cy="514.3" r="1.1" fill="#2a78d0" />
<line x1="425.35" y1="496.82" x2="425.35" y2="509.18" stroke="#000" stroke-width="0.7" />
<line x1="423.35" y1="496.82" x2="427.35" y2="496.82" stroke="#000" stroke-width="0.7" />
<line x1="425.35" y1="521.84" x2="425.35" y2="526.36" stroke="#000" stroke-width="0.7" />
<rect x="420.1" y="509.18" width="10.5" height="12.66" fill="#ff2a0c" stroke="#000" stroke-width="0.8" />
<line x1="420.1" y1="516.71" x2="430.6" y2="516.71" stroke="#000" stroke-width="1" />
<circle cx="422.99" cy="495.62" r="1" fill="#fff" stroke="#999" stroke-width="0.45" />
<circle cx="426.57" cy="493.81" r="1" fill="#fff" stroke="#999" stroke-width="0.45" />
<circle cx="426.26" cy="482.87" r="1" fill="#fff" stroke="#999" stroke-width="0.45" />
<circle cx="427.99" cy="482.09" r="1" fill="#fff" stroke="#999" stroke-width="0.45" />
<circle cx="423.98" cy="480.51" r="1" fill="#fff" stroke="#999" stroke-width="0.45" />
<circle cx="423.88" cy="474.24" r="1" fill="#fff" stroke="#999" stroke-width="0.45" />
<circle cx="425.35" cy="513.4" r="1.1" fill="#2a78d0" />
<circle cx="383.26" cy="525.8" r="0.9" fill="#fff" stroke="#999" stroke-width="0.4" />
<circle cx="381.47" cy="526.34" r="0.9" fill="#fff" stroke="#999" stroke-width="0.4" />
<circle cx="381.38" cy="527.52" r="0.9" fill="#fff" stroke="#999" stroke-width="0.4" />
<circle cx="383.37" cy="527.14" r="0.9" fill="#fff" stroke="#999" stroke-width="0.4" />
<circle cx="383.62" cy="524.87" r="0.9" fill="#fff" stroke="#999" stroke-width="0.4" />
<circle cx="381.04" cy="525.3" r="0.9" fill="#fff" stroke="#999" stroke-width="0.4" />
<circle cx="381.97" cy="524.69" r="0.9" fill="#fff" stroke="#999" stroke-width="0.4" />
<circle cx="399.79" cy="526.8" r="0.9" fill="#fff" stroke="#999" stroke-width="0.4" />
<circle cx="400.76" cy="524.97" r="0.9" fill="#fff" stroke="#999" stroke-width="0.4" />
<circle cx="393.96" cy="526.09" r="0.9" fill="#fff" stroke="#999" stroke-width="0.4" />
<circle cx="399.46" cy="524.23" r="0.9" fill="#fff" stroke="#999" stroke-width="0.4" />
<circle cx="394.82" cy="526.65" r="0.9" fill="#fff" stroke="#999" stroke-width="0.4" />
<circle cx="400.12" cy="524.08" r="0.9" fill="#fff" stroke="#999" stroke-width="0.4" />
<circle cx="394.13" cy="527.24" r="0.9" fill="#fff" stroke="#999" stroke-width="0.4" />
<circle cx="415.56" cy="526.42" r="0.9" fill="#fff" stroke="#999" stroke-width="0.4" />
<circle cx="412.28" cy="524.39" r="0.9" fill="#fff" stroke="#999" stroke-width="0.4" />
<circle cx="415.51" cy="525.17" r="0.9" fill="#fff" stroke="#999" stroke-width="0.4" />
<circle cx="416.61" cy="524.92" r="0.9" fill="#fff" stroke="#999" stroke-width="0.4" />
<circle cx="416.09" cy="525.24" r="0.9" fill="#fff" stroke="#999" stroke-width="0.4" />
<circle cx="414.14" cy="527.35" r="0.9" fill="#fff" stroke="#999" stroke-width="0.4" />
<circle cx="416.99" cy="524.27" r="0.9" fill="#fff" stroke="#999" stroke-width="0.4" />
<circle cx="424.09" cy="525.3" r="0.9" fill="#fff" stroke="#999" stroke-width="0.4" />
<circle cx="421.24" cy="525.76" r="0.9" fill="#fff" stroke="#999" stroke-width="0.4" />
<circle cx="426.4" cy="526.5" r="0.9" fill="#fff" stroke="#999" stroke-width="0.4" />
<circle cx="424.62" cy="524.54" r="0.9" fill="#fff" stroke="#999" stroke-width="0.4" />
<circle cx="422.32" cy="525.92" r="0.9" fill="#fff" stroke="#999" stroke-width="0.4" />
<circle cx="421.83" cy="526.17" r="0.9" fill="#fff" stroke="#999" stroke-width="0.4" />
<circle cx="428.6" cy="525.35" r="0.9" fill="#fff" stroke="#999" stroke-width="0.4" />
<line x1="374.6" y1="535.4" x2="433.4" y2="535.4" stroke="#000" stroke-width="0.8" />
<line x1="385.4" y1="535.4" x2="385.4" y2="537.4" stroke="#000" stroke-width="0.7" />
<text transform="translate(385.9,542.6) rotate(-45)" dy="0.3em" font-size="7" stroke="#000" stroke-width="0.08" text-anchor="end">Neurotypical</text>
<line x1="397.7" y1="535.4" x2="397.7" y2="537.4" stroke="#000" stroke-width="0.7" />
<text transform="translate(398.2,542.6) rotate(-45)" dy="0.3em" font-size="7" stroke="#000" stroke-width="0.08" text-anchor="end">MPSIIIA</text>
<line x1="413.3" y1="535.4" x2="413.3" y2="537.4" stroke="#000" stroke-width="0.7" />
<text transform="translate(413.8,542.6) rotate(-45)" dy="0.3em" font-size="7" stroke="#000" stroke-width="0.08" text-anchor="end">Neurotypical</text>
<line x1="425.35" y1="535.4" x2="425.35" y2="537.4" stroke="#000" stroke-width="0.7" />
<text transform="translate(425.85,542.6) rotate(-45)" dy="0.3em" font-size="7" stroke="#000" stroke-width="0.08" text-anchor="end">MPSIIIA</text>
<path d="M385.4 470V467.1H397.9V470" stroke="#000" stroke-width="0.7" fill="none" />
<text x="391.65" y="462.9" dy="0.35em" font-size="6.3" stroke="#000" stroke-width="0.08" text-anchor="middle">ns</text>
<path d="M413.1 470V467.1H425.3V470" stroke="#000" stroke-width="0.7" fill="none" />
<text x="419.2" y="462.9" dy="0.35em" font-size="6.3" stroke="#000" stroke-width="0.08" text-anchor="middle">ns</text>
<text transform="translate(438.6,512) rotate(-90)" dy="0.35em" font-size="6.8" text-anchor="middle"><tspan font-style="italic">n</tspan>= neurons</text>
<text x="387" y="575.3" dy="0.35em" font-size="5" font-style="italic" fill="#8e8e8e" stroke="#8e8e8e" stroke-width="0.08" text-anchor="middle">30-60 days</text>
<text x="419.2" y="575.3" dy="0.35em" font-size="5" font-style="italic" fill="#8e8e8e" stroke="#8e8e8e" stroke-width="0.08" text-anchor="middle">90-120 days</text>
<text x="234.6" y="588.4" dy="0.35em" font-size="11.2" font-weight="bold">K</text>
<line x1="272.3" y1="608.9" x2="272.3" y2="654.1" stroke="#000" stroke-width="0.8" />
<line x1="270.1" y1="654.1" x2="272.3" y2="654.1" stroke="#000" stroke-width="0.8" />
<text x="269.1" y="654.1" dy="0.35em" font-size="6.8" stroke="#000" stroke-width="0.08" text-anchor="end">0.0</text>
<line x1="270.1" y1="642.8" x2="272.3" y2="642.8" stroke="#000" stroke-width="0.8" />
<text x="269.1" y="642.8" dy="0.35em" font-size="6.8" stroke="#000" stroke-width="0.08" text-anchor="end">0.5</text>
<line x1="270.1" y1="631.5" x2="272.3" y2="631.5" stroke="#000" stroke-width="0.8" />
<text x="269.1" y="631.5" dy="0.35em" font-size="6.8" stroke="#000" stroke-width="0.08" text-anchor="end">1.0</text>
<line x1="270.1" y1="620.2" x2="272.3" y2="620.2" stroke="#000" stroke-width="0.8" />
<text x="269.1" y="620.2" dy="0.35em" font-size="6.8" stroke="#000" stroke-width="0.08" text-anchor="end">1.5</text>
<line x1="270.1" y1="608.9" x2="272.3" y2="608.9" stroke="#000" stroke-width="0.8" />
<text x="269.1" y="608.9" dy="0.35em" font-size="6.8" stroke="#000" stroke-width="0.08" text-anchor="end">2.0</text>
<line x1="270.98" y1="648.45" x2="272.3" y2="648.45" stroke="#000" stroke-width="0.64" />
<line x1="270.98" y1="637.15" x2="272.3" y2="637.15" stroke="#000" stroke-width="0.64" />
<line x1="270.98" y1="625.85" x2="272.3" y2="625.85" stroke="#000" stroke-width="0.64" />
<line x1="270.98" y1="614.55" x2="272.3" y2="614.55" stroke="#000" stroke-width="0.64" />
<line x1="272.3" y1="584.9" x2="272.3" y2="604.2" stroke="#000" stroke-width="0.8" />
<line x1="270.1" y1="594.5" x2="272.3" y2="594.5" stroke="#000" stroke-width="0.8" />
<text x="269.1" y="594.5" dy="0.35em" font-size="6.8" stroke="#000" stroke-width="0.08" text-anchor="end">3</text>
<line x1="270.1" y1="584.9" x2="272.3" y2="584.9" stroke="#000" stroke-width="0.8" />
<text x="269.1" y="584.9" dy="0.35em" font-size="6.8" stroke="#000" stroke-width="0.08" text-anchor="end">4</text>
<line x1="270.1" y1="604.2" x2="272.3" y2="604.2" stroke="#000" stroke-width="0.8" />
<text transform="translate(253.9,617.7) rotate(-90)" dy="0.35em" font-size="6.9" stroke="#000" stroke-width="0.08" text-anchor="middle">GABA Frequency (Hz)</text>
<line x1="283.15" y1="636.47" x2="283.15" y2="645.51" stroke="#000" stroke-width="0.7" />
<line x1="281.15" y1="636.47" x2="285.15" y2="636.47" stroke="#000" stroke-width="0.7" />
<rect x="277.9" y="645.51" width="10.5" height="8.59" fill="#8a8a8a" stroke="#000" stroke-width="0.8" />
<line x1="277.9" y1="653.42" x2="288.4" y2="653.42" stroke="#000" stroke-width="1" />
<circle cx="281.14" cy="636.02" r="1" fill="#fff" stroke="#999" stroke-width="0.45" />
<circle cx="284.29" cy="633.76" r="1" fill="#fff" stroke="#999" stroke-width="0.45" />
<circle cx="283.96" cy="631.5" r="1" fill="#fff" stroke="#999" stroke-width="0.45" />
<circle cx="283.02" cy="629.24" r="1" fill="#fff" stroke="#999" stroke-width="0.45" />
<circle cx="281.45" cy="622.46" r="1" fill="#fff" stroke="#999" stroke-width="0.45" />
<circle cx="284.91" cy="621.33" r="1" fill="#fff" stroke="#999" stroke-width="0.45" />
<circle cx="283.15" cy="648.9" r="1.1" fill="#2a78d0" />
<line x1="295.45" y1="637.83" x2="295.45" y2="648.9" stroke="#000" stroke-width="0.7" />
<line x1="293.45" y1="637.83" x2="297.45" y2="637.83" stroke="#000" stroke-width="0.7" />
<rect x="290.2" y="648.9" width="10.5" height="5.2" fill="#ff2a0c" stroke="#000" stroke-width="0.8" />
<line x1="290.2" y1="653.65" x2="300.7" y2="653.65" stroke="#000" stroke-width="1" />
<circle cx="298.2" cy="636.02" r="1" fill="#fff" stroke="#999" stroke-width="0.45" />
<circle cx="293.29" cy="633.76" r="1" fill="#fff" stroke="#999" stroke-width="0.45" />
<circle cx="292.59" cy="626.98" r="1" fill="#fff" stroke="#999" stroke-width="0.45" />
<circle cx="298.44" cy="622.46" r="1" fill="#fff" stroke="#999" stroke-width="0.45" />
<circle cx="293.56" cy="617.94" r="1" fill="#fff" stroke="#999" stroke-width="0.45" />
<circle cx="293.17" cy="611.16" r="1" fill="#fff" stroke="#999" stroke-width="0.45" />
<circle cx="296.36" cy="601.22" r="1" fill="#fff" stroke="#999" stroke-width="0.45" />
<circle cx="295.45" cy="649.58" r="1.1" fill="#2a78d0" />
<line x1="311.2" y1="624.72" x2="311.2" y2="641.67" stroke="#000" stroke-width="0.7" />
<line x1="309.2" y1="624.72" x2="313.2" y2="624.72" stroke="#000" stroke-width="0.7" />
<rect x="305.9" y="641.67" width="10.6" height="12.43" fill="#8a8a8a" stroke="#000" stroke-width="0.8" />
<line x1="305.9" y1="653.42" x2="316.5" y2="653.42" stroke="#000" stroke-width="1" />
<circle cx="313.75" cy="622.46" r="1" fill="#fff" stroke="#999" stroke-width="0.45" />
<circle cx="313.89" cy="620.2" r="1" fill="#fff" stroke="#999" stroke-width="0.45" />
<circle cx="313.55" cy="617.94" r="1" fill="#fff" stroke="#999" stroke-width="0.45" />
<circle cx="308.7" cy="615.68" r="1" fill="#fff" stroke="#999" stroke-width="0.45" />
<circle cx="311.75" cy="613.42" r="1" fill="#fff" stroke="#999" stroke-width="0.45" />
<circle cx="310.74" cy="611.16" r="1" fill="#fff" stroke="#999" stroke-width="0.45" />
<circle cx="311.38" cy="600.26" r="1" fill="#fff" stroke="#999" stroke-width="0.45" />
<circle cx="308.98" cy="599.3" r="1" fill="#fff" stroke="#999" stroke-width="0.45" />
<circle cx="309.35" cy="596.42" r="1" fill="#fff" stroke="#999" stroke-width="0.45" />
<circle cx="310.87" cy="594.5" r="1" fill="#fff" stroke="#999" stroke-width="0.45" />
<circle cx="309.53" cy="592.58" r="1" fill="#fff" stroke="#999" stroke-width="0.45" />
<circle cx="311.2" cy="645.51" r="1.1" fill="#2a78d0" />
<line x1="323.3" y1="629.24" x2="323.3" y2="641.67" stroke="#000" stroke-width="0.7" />
<line x1="321.3" y1="629.24" x2="325.3" y2="629.24" stroke="#000" stroke-width="0.7" />
<rect x="318.2" y="641.67" width="10.2" height="12.43" fill="#ff2a0c" stroke="#000" stroke-width="0.8" />
<line x1="318.2" y1="651.84" x2="328.4" y2="651.84" stroke="#000" stroke-width="1" />
<circle cx="324.57" cy="626.98" r="1" fill="#fff" stroke="#999" stroke-width="0.45" />
<circle cx="325.34" cy="624.72" r="1" fill="#fff" stroke="#999" stroke-width="0.45" />
<circle cx="321.4" cy="622.46" r="1" fill="#fff" stroke="#999" stroke-width="0.45" />
<circle cx="326.29" cy="620.2" r="1" fill="#fff" stroke="#999" stroke-width="0.45" />
<circle cx="321.46" cy="617.94" r="1" fill="#fff" stroke="#999" stroke-width="0.45" />
<circle cx="324.33" cy="615.68" r="1" fill="#fff" stroke="#999" stroke-width="0.45" />
<circle cx="320.85" cy="613.42" r="1" fill="#fff" stroke="#999" stroke-width="0.45" />
<circle cx="324.85" cy="600.26" r="1" fill="#fff" stroke="#999" stroke-width="0.45" />
<circle cx="321.21" cy="599.3" r="1" fill="#fff" stroke="#999" stroke-width="0.45" />
<circle cx="324.54" cy="596.42" r="1" fill="#fff" stroke="#999" stroke-width="0.45" />
<circle cx="323.3" cy="645.51" r="1.1" fill="#2a78d0" />
<line x1="272.3" y1="654.1" x2="334.5" y2="654.1" stroke="#000" stroke-width="0.8" />
<line x1="283.15" y1="654.1" x2="283.15" y2="656.1" stroke="#000" stroke-width="0.7" />
<text transform="translate(283.65,661.3) rotate(-45)" dy="0.3em" font-size="7" stroke="#000" stroke-width="0.08" text-anchor="end">Neurotypical</text>
<line x1="295.45" y1="654.1" x2="295.45" y2="656.1" stroke="#000" stroke-width="0.7" />
<text transform="translate(295.95,661.3) rotate(-45)" dy="0.3em" font-size="7" stroke="#000" stroke-width="0.08" text-anchor="end">MPSIIIA</text>
<line x1="311.2" y1="654.1" x2="311.2" y2="656.1" stroke="#000" stroke-width="0.7" />
<text transform="translate(311.7,661.3) rotate(-45)" dy="0.3em" font-size="7" stroke="#000" stroke-width="0.08" text-anchor="end">Neurotypical</text>
<line x1="323.3" y1="654.1" x2="323.3" y2="656.1" stroke="#000" stroke-width="0.7" />
<text transform="translate(323.8,661.3) rotate(-45)" dy="0.3em" font-size="7" stroke="#000" stroke-width="0.08" text-anchor="end">MPSIIIA</text>
<path d="M283.3 589.8V587H295.6V589.8" stroke="#000" stroke-width="0.7" fill="none" />
<text x="289.45" y="582.3" dy="0.35em" font-size="6.3" stroke="#000" stroke-width="0.08" text-anchor="middle">ns</text>
<path d="M311.4 589.8V587H323.6V589.8" stroke="#000" stroke-width="0.7" fill="none" />
<text x="317.5" y="582.3" dy="0.35em" font-size="6.3" stroke="#000" stroke-width="0.08" text-anchor="middle">ns</text>
<text transform="translate(335.7,633) rotate(-90)" dy="0.35em" font-size="6.8" text-anchor="middle"><tspan font-style="italic">n</tspan>= neurons</text>
<text x="278.4" y="694" dy="0.35em" font-size="5" font-style="italic" fill="#8e8e8e" stroke="#8e8e8e" stroke-width="0.08" text-anchor="middle">30-60 days</text>
<text x="311.7" y="694" dy="0.35em" font-size="5" font-style="italic" fill="#8e8e8e" stroke="#8e8e8e" stroke-width="0.08" text-anchor="middle">90-120 days</text>
<line x1="365.4" y1="591.8" x2="365.4" y2="654.8" stroke="#000" stroke-width="0.8" />
<line x1="363.2" y1="654.8" x2="365.4" y2="654.8" stroke="#000" stroke-width="0.8" />
<text x="362.2" y="654.8" dy="0.35em" font-size="6.8" stroke="#000" stroke-width="0.08" text-anchor="end">0</text>
<line x1="363.2" y1="642.2" x2="365.4" y2="642.2" stroke="#000" stroke-width="0.8" />
<text x="362.2" y="642.2" dy="0.35em" font-size="6.8" stroke="#000" stroke-width="0.08" text-anchor="end">20</text>
<line x1="363.2" y1="629.6" x2="365.4" y2="629.6" stroke="#000" stroke-width="0.8" />
<text x="362.2" y="629.6" dy="0.35em" font-size="6.8" stroke="#000" stroke-width="0.08" text-anchor="end">40</text>
<line x1="363.2" y1="617" x2="365.4" y2="617" stroke="#000" stroke-width="0.8" />
<text x="362.2" y="617" dy="0.35em" font-size="6.8" stroke="#000" stroke-width="0.08" text-anchor="end">60</text>
<line x1="363.2" y1="604.4" x2="365.4" y2="604.4" stroke="#000" stroke-width="0.8" />
<text x="362.2" y="604.4" dy="0.35em" font-size="6.8" stroke="#000" stroke-width="0.08" text-anchor="end">80</text>
<line x1="363.2" y1="591.8" x2="365.4" y2="591.8" stroke="#000" stroke-width="0.8" />
<text x="362.2" y="591.8" dy="0.35em" font-size="6.8" stroke="#000" stroke-width="0.08" text-anchor="end">100</text>
<line x1="364.08" y1="648.5" x2="365.4" y2="648.5" stroke="#000" stroke-width="0.64" />
<line x1="364.08" y1="635.9" x2="365.4" y2="635.9" stroke="#000" stroke-width="0.64" />
<line x1="364.08" y1="623.3" x2="365.4" y2="623.3" stroke="#000" stroke-width="0.64" />
<line x1="364.08" y1="610.7" x2="365.4" y2="610.7" stroke="#000" stroke-width="0.64" />
<line x1="364.08" y1="598.1" x2="365.4" y2="598.1" stroke="#000" stroke-width="0.64" />
<line x1="365.4" y1="654.8" x2="440.7" y2="654.8" stroke="#000" stroke-width="0.8" />
<line x1="365.4" y1="654.8" x2="365.4" y2="657" stroke="#000" stroke-width="0.8" />
<text x="365.4" y="661" dy="0.35em" font-size="6.8" stroke="#000" stroke-width="0.08" text-anchor="middle">0</text>
<line x1="390.5" y1="654.8" x2="390.5" y2="657" stroke="#000" stroke-width="0.8" />
<text x="390.5" y="661" dy="0.35em" font-size="6.8" stroke="#000" stroke-width="0.08" text-anchor="middle">1</text>
<line x1="415.6" y1="654.8" x2="415.6" y2="657" stroke="#000" stroke-width="0.8" />
<text x="415.6" y="661" dy="0.35em" font-size="6.8" stroke="#000" stroke-width="0.08" text-anchor="middle">2</text>
<line x1="440.7" y1="654.8" x2="440.7" y2="657" stroke="#000" stroke-width="0.8" />
<text x="440.7" y="661" dy="0.35em" font-size="6.8" stroke="#000" stroke-width="0.08" text-anchor="middle">3</text>
<text transform="translate(348.7,622.5) rotate(-90)" dy="0.35em" font-size="6.9" stroke="#000" stroke-width="0.08" text-anchor="middle">Cumulative distribution (%)</text>
<path d="M365.4 618.89L370.42 612.59L375.44 608.81L380.46 605.03L385.48 603.14L390.5 600.62L395.52 598.1L400.54 596.84L405.56 595.58L410.58 594.32L415.6 593.69L420.62 593.06L425.64 593.06L430.66 593.06L435.68 592.43L440.7 592.43" stroke="#000" stroke-width="0.8" fill="none" />
<circle cx="365.4" cy="618.89" r="1.3" fill="#000" />
<circle cx="370.42" cy="612.59" r="1.3" fill="#000" />
<circle cx="375.44" cy="608.81" r="1.3" fill="#000" />
<circle cx="380.46" cy="605.03" r="1.3" fill="#000" />
<circle cx="385.48" cy="603.14" r="1.3" fill="#000" />
<circle cx="390.5" cy="600.62" r="1.3" fill="#000" />
<circle cx="395.52" cy="598.1" r="1.3" fill="#000" />
<circle cx="400.54" cy="596.84" r="1.3" fill="#000" />
<circle cx="405.56" cy="595.58" r="1.3" fill="#000" />
<circle cx="410.58" cy="594.32" r="1.3" fill="#000" />
<circle cx="415.6" cy="593.69" r="1.3" fill="#000" />
<circle cx="420.62" cy="593.06" r="1.3" fill="#000" />
<circle cx="425.64" cy="593.06" r="1.3" fill="#000" />
<circle cx="430.66" cy="593.06" r="1.3" fill="#000" />
<circle cx="435.68" cy="592.43" r="1.3" fill="#000" />
<circle cx="440.7" cy="592.43" r="1.3" fill="#000" />
<path d="M365.4 623.3L370.42 615.11L375.44 610.07L380.46 604.4L385.48 602.51L390.5 598.1L395.52 596.84L400.54 595.58L405.56 594.32L410.58 593.69L415.6 593.69L420.62 593.06L425.64 593.06L430.66 593.06L435.68 592.43L440.7 592.43" stroke="#ff2a0c" stroke-width="0.8" fill="none" />
<rect x="364.1" y="622" width="2.6" height="2.6" fill="#ff2a0c" />
<rect x="369.12" y="613.81" width="2.6" height="2.6" fill="#ff2a0c" />
<rect x="374.14" y="608.77" width="2.6" height="2.6" fill="#ff2a0c" />
<rect x="379.16" y="603.1" width="2.6" height="2.6" fill="#ff2a0c" />
<rect x="384.18" y="601.21" width="2.6" height="2.6" fill="#ff2a0c" />
<rect x="389.2" y="596.8" width="2.6" height="2.6" fill="#ff2a0c" />
<rect x="394.22" y="595.54" width="2.6" height="2.6" fill="#ff2a0c" />
<rect x="399.24" y="594.28" width="2.6" height="2.6" fill="#ff2a0c" />
<rect x="404.26" y="593.02" width="2.6" height="2.6" fill="#ff2a0c" />
<rect x="409.28" y="592.39" width="2.6" height="2.6" fill="#ff2a0c" />
<rect x="414.3" y="592.39" width="2.6" height="2.6" fill="#ff2a0c" />
<rect x="419.32" y="591.76" width="2.6" height="2.6" fill="#ff2a0c" />
<rect x="424.34" y="591.76" width="2.6" height="2.6" fill="#ff2a0c" />
<rect x="429.36" y="591.76" width="2.6" height="2.6" fill="#ff2a0c" />
<rect x="434.38" y="591.13" width="2.6" height="2.6" fill="#ff2a0c" />
<rect x="439.4" y="591.13" width="2.6" height="2.6" fill="#ff2a0c" />
<text x="403" y="666.4" dy="0.35em" font-size="6.3" stroke="#000" stroke-width="0.08" text-anchor="middle">GABA frequency (Hz)</text>
<text x="403" y="673.4" dy="0.35em" font-size="6.3" stroke="#000" stroke-width="0.08" text-anchor="middle">[bin center]</text>
<text x="403" y="680.5" dy="0.35em" font-size="5.8" font-style="italic" fill="#8e8e8e" stroke="#8e8e8e" stroke-width="0.08" text-anchor="middle">90-120 days</text>
<line x1="372.3" y1="642.5" x2="379.3" y2="642.5" stroke="#000" stroke-width="0.8" />
<circle cx="375.8" cy="642.5" r="1.3" fill="#000" />
<line x1="372.3" y1="650.1" x2="379.3" y2="650.1" stroke="#ff2a0c" stroke-width="0.8" />
<rect x="374.5" y="648.8" width="2.6" height="2.6" fill="#ff2a0c" />
<text x="381.5" y="642.5" dy="0.35em" font-size="6" stroke="#000" stroke-width="0.08">Neurotypical</text>
<text x="381.5" y="650.1" dy="0.35em" font-size="6" stroke="#000" stroke-width="0.08">MPSIIIA</text>
<path d="M415.7 641H417.7V651.6H415.7" stroke="#666" stroke-width="0.7" fill="none" />
<text x="418.9" y="646.3" dy="0.35em" font-size="6" stroke="#000" stroke-width="0.08">p= ns</text>
<text x="466.8" y="350.6" dy="0.35em" font-size="11.2" font-weight="bold">M</text>
<line x1="504.6" y1="401.69" x2="504.6" y2="435.2" stroke="#000" stroke-width="0.8" />
<line x1="502.4" y1="435.2" x2="504.6" y2="435.2" stroke="#000" stroke-width="0.8" />
<text x="501.4" y="435.2" dy="0.35em" font-size="6.2" stroke="#000" stroke-width="0.08" text-anchor="end">0</text>
<line x1="502.4" y1="424.03" x2="504.6" y2="424.03" stroke="#000" stroke-width="0.8" />
<text x="501.4" y="424.03" dy="0.35em" font-size="6.2" stroke="#000" stroke-width="0.08" text-anchor="end">10</text>
<line x1="502.4" y1="412.86" x2="504.6" y2="412.86" stroke="#000" stroke-width="0.8" />
<text x="501.4" y="412.86" dy="0.35em" font-size="6.2" stroke="#000" stroke-width="0.08" text-anchor="end">20</text>
<line x1="502.4" y1="401.69" x2="504.6" y2="401.69" stroke="#000" stroke-width="0.8" />
<text x="501.4" y="401.69" dy="0.35em" font-size="6.2" stroke="#000" stroke-width="0.08" text-anchor="end">30</text>
<line x1="503.28" y1="429.62" x2="504.6" y2="429.62" stroke="#000" stroke-width="0.64" />
<line x1="503.28" y1="418.44" x2="504.6" y2="418.44" stroke="#000" stroke-width="0.64" />
<line x1="503.28" y1="407.27" x2="504.6" y2="407.27" stroke="#000" stroke-width="0.64" />
<line x1="504.6" y1="385.7" x2="504.6" y2="397.3" stroke="#000" stroke-width="0.8" />
<line x1="502.4" y1="395.6" x2="504.6" y2="395.6" stroke="#000" stroke-width="0.8" />
<text x="501.4" y="395.6" dy="0.35em" font-size="6.2" stroke="#000" stroke-width="0.08" text-anchor="end">40</text>
<line x1="502.4" y1="385.7" x2="504.6" y2="385.7" stroke="#000" stroke-width="0.8" />
<text x="501.4" y="385.7" dy="0.35em" font-size="6.2" stroke="#000" stroke-width="0.08" text-anchor="end">80</text>
<line x1="503.28" y1="390.65" x2="504.6" y2="390.65" stroke="#000" stroke-width="0.64" />
<line x1="502.4" y1="397.3" x2="504.6" y2="397.3" stroke="#000" stroke-width="0.8" />
<line x1="504.6" y1="368.9" x2="504.6" y2="381.4" stroke="#000" stroke-width="0.8" />
<line x1="502.4" y1="376.2" x2="504.6" y2="376.2" stroke="#000" stroke-width="0.8" />
<text x="501.4" y="376.2" dy="0.35em" font-size="6.2" stroke="#000" stroke-width="0.08" text-anchor="end">500</text>
<line x1="502.4" y1="368.9" x2="504.6" y2="368.9" stroke="#000" stroke-width="0.8" />
<text x="501.4" y="368.9" dy="0.35em" font-size="6.2" stroke="#000" stroke-width="0.08" text-anchor="end">1000</text>
<line x1="502.4" y1="381.4" x2="504.6" y2="381.4" stroke="#000" stroke-width="0.8" />
<text transform="translate(475.4,400.9) rotate(-90)" dy="0.35em" font-size="6.5" stroke="#000" stroke-width="0.08" text-anchor="middle">E/I balance</text>
<text transform="translate(483,401.6) rotate(-90)" dy="0.35em" font-size="6.5" stroke="#000" stroke-width="0.08" text-anchor="middle">(AMPA frequency/GABA frequency)</text>
<line x1="514.85" y1="401.7" x2="514.85" y2="427.38" stroke="#000" stroke-width="0.7" />
<line x1="512.85" y1="401.7" x2="516.85" y2="401.7" stroke="#000" stroke-width="0.7" />
<rect x="510.3" y="427.38" width="9.1" height="7.82" fill="#8a8a8a" stroke="#000" stroke-width="0.8" />
<line x1="510.3" y1="432.97" x2="519.4" y2="432.97" stroke="#000" stroke-width="1" />
<circle cx="511.92" cy="394.36" r="1" fill="#fff" stroke="#999" stroke-width="0.45" />
<circle cx="512.52" cy="394.86" r="1" fill="#fff" stroke="#999" stroke-width="0.45" />
<circle cx="514.21" cy="379.12" r="1" fill="#fff" stroke="#999" stroke-width="0.45" />
<circle cx="515.95" cy="378.83" r="1" fill="#fff" stroke="#999" stroke-width="0.45" />
<circle cx="512.68" cy="378.54" r="1" fill="#fff" stroke="#999" stroke-width="0.45" />
<circle cx="514.85" cy="414.54" r="1.1" fill="#2a78d0" />
<line x1="526.4" y1="387.68" x2="526.4" y2="416.21" stroke="#000" stroke-width="0.7" />
<line x1="524.4" y1="387.68" x2="528.4" y2="387.68" stroke="#000" stroke-width="0.7" />
<rect x="521.7" y="416.21" width="9.4" height="17.87" fill="#ff2a0c" stroke="#000" stroke-width="0.8" />
<line x1="521.7" y1="430.17" x2="531.1" y2="430.17" stroke="#000" stroke-width="1" />
<circle cx="523.86" cy="371.82" r="1" fill="#fff" stroke="#999" stroke-width="0.45" />
<circle cx="524.68" cy="373.28" r="1" fill="#fff" stroke="#999" stroke-width="0.45" />
<circle cx="525.22" cy="378.68" r="1" fill="#fff" stroke="#999" stroke-width="0.45" />
<circle cx="528.8" cy="378.39" r="1" fill="#fff" stroke="#999" stroke-width="0.45" />
<circle cx="526.4" cy="390.52" r="1.1" fill="#2a78d0" />
<circle cx="526.4" cy="395.6" r="1.1" fill="#2a78d0" />
<line x1="504.6" y1="435.2" x2="535.4" y2="435.2" stroke="#000" stroke-width="0.8" />
<line x1="514.85" y1="435.2" x2="514.85" y2="437.2" stroke="#000" stroke-width="0.7" />
<text transform="translate(515.35,442.4) rotate(-45)" dy="0.3em" font-size="7" stroke="#000" stroke-width="0.08" text-anchor="end">Neurotypical</text>
<line x1="526.4" y1="435.2" x2="526.4" y2="437.2" stroke="#000" stroke-width="0.7" />
<text transform="translate(526.9,442.4) rotate(-45)" dy="0.3em" font-size="7" stroke="#000" stroke-width="0.08" text-anchor="end">MPSIIIA</text>
<path d="M514.8 368.8V365.9H526.5V368.8" stroke="#000" stroke-width="0.7" fill="none" />
<text x="520.65" y="360.6" dy="0.35em" font-size="5.9" stroke="#000" stroke-width="0.08" text-anchor="middle">0.0015</text>
<text transform="translate(538.4,414.6) rotate(-90)" dy="0.35em" font-size="6.8" text-anchor="middle"><tspan font-style="italic">n</tspan>= neurons</text>
<text x="520.9" y="465.2" dy="0.35em" font-size="5.1" font-style="italic" fill="#8e8e8e" stroke="#8e8e8e" stroke-width="0.08" text-anchor="middle">90-120 days</text>
<line x1="567.2" y1="374.5" x2="567.2" y2="436.2" stroke="#000" stroke-width="0.8" />
<line x1="565" y1="436.2" x2="567.2" y2="436.2" stroke="#000" stroke-width="0.8" />
<text x="564" y="436.2" dy="0.35em" font-size="6.8" stroke="#000" stroke-width="0.08" text-anchor="end">0</text>
<line x1="565" y1="423.86" x2="567.2" y2="423.86" stroke="#000" stroke-width="0.8" />
<text x="564" y="423.86" dy="0.35em" font-size="6.8" stroke="#000" stroke-width="0.08" text-anchor="end">20</text>
<line x1="565" y1="411.52" x2="567.2" y2="411.52" stroke="#000" stroke-width="0.8" />
<text x="564" y="411.52" dy="0.35em" font-size="6.8" stroke="#000" stroke-width="0.08" text-anchor="end">40</text>
<line x1="565" y1="399.18" x2="567.2" y2="399.18" stroke="#000" stroke-width="0.8" />
<text x="564" y="399.18" dy="0.35em" font-size="6.8" stroke="#000" stroke-width="0.08" text-anchor="end">60</text>
<line x1="565" y1="386.84" x2="567.2" y2="386.84" stroke="#000" stroke-width="0.8" />
<text x="564" y="386.84" dy="0.35em" font-size="6.8" stroke="#000" stroke-width="0.08" text-anchor="end">80</text>
<line x1="565" y1="374.5" x2="567.2" y2="374.5" stroke="#000" stroke-width="0.8" />
<text x="564" y="374.5" dy="0.35em" font-size="6.8" stroke="#000" stroke-width="0.08" text-anchor="end">100</text>
<line x1="565.88" y1="430.03" x2="567.2" y2="430.03" stroke="#000" stroke-width="0.64" />
<line x1="565.88" y1="417.69" x2="567.2" y2="417.69" stroke="#000" stroke-width="0.64" />
<line x1="565.88" y1="405.35" x2="567.2" y2="405.35" stroke="#000" stroke-width="0.64" />
<line x1="565.88" y1="393.01" x2="567.2" y2="393.01" stroke="#000" stroke-width="0.64" />
<line x1="565.88" y1="380.67" x2="567.2" y2="380.67" stroke="#000" stroke-width="0.64" />
<line x1="567.2" y1="436.2" x2="640.2" y2="436.2" stroke="#000" stroke-width="0.8" />
<line x1="567.2" y1="436.2" x2="567.2" y2="438.4" stroke="#000" stroke-width="0.8" />
<text x="567.2" y="442.4" dy="0.35em" font-size="6.8" stroke="#000" stroke-width="0.08" text-anchor="middle">0</text>
<line x1="576.33" y1="436.2" x2="576.33" y2="438.4" stroke="#000" stroke-width="0.8" />
<text x="576.33" y="442.4" dy="0.35em" font-size="6.8" stroke="#000" stroke-width="0.08" text-anchor="middle">10</text>
<line x1="585.45" y1="436.2" x2="585.45" y2="438.4" stroke="#000" stroke-width="0.8" />
<text x="585.45" y="442.4" dy="0.35em" font-size="6.8" stroke="#000" stroke-width="0.08" text-anchor="middle">20</text>
<line x1="594.58" y1="436.2" x2="594.58" y2="438.4" stroke="#000" stroke-width="0.8" />
<text x="594.58" y="442.4" dy="0.35em" font-size="6.8" stroke="#000" stroke-width="0.08" text-anchor="middle">30</text>
<line x1="603.7" y1="436.2" x2="603.7" y2="438.4" stroke="#000" stroke-width="0.8" />
<text x="603.7" y="442.4" dy="0.35em" font-size="6.8" stroke="#000" stroke-width="0.08" text-anchor="middle">40</text>
<line x1="612.83" y1="436.2" x2="612.83" y2="438.4" stroke="#000" stroke-width="0.8" />
<text x="612.83" y="442.4" dy="0.35em" font-size="6.8" stroke="#000" stroke-width="0.08" text-anchor="middle">50</text>
<line x1="621.95" y1="436.2" x2="621.95" y2="438.4" stroke="#000" stroke-width="0.8" />
<text x="621.95" y="442.4" dy="0.35em" font-size="6.8" stroke="#000" stroke-width="0.08" text-anchor="middle">60</text>
<line x1="631.08" y1="436.2" x2="631.08" y2="438.4" stroke="#000" stroke-width="0.8" />
<text x="631.08" y="442.4" dy="0.35em" font-size="6.8" stroke="#000" stroke-width="0.08" text-anchor="middle">70</text>
<line x1="640.2" y1="436.2" x2="640.2" y2="438.4" stroke="#000" stroke-width="0.8" />
<text x="640.2" y="442.4" dy="0.35em" font-size="6.8" stroke="#000" stroke-width="0.08" text-anchor="middle">80</text>
<text transform="translate(549.6,404.7) rotate(-90)" dy="0.35em" font-size="6.9" stroke="#000" stroke-width="0.08" text-anchor="middle">Cumulative distribution (%)</text>
<path d="M567.2 400.41L571.76 388.07L576.33 386.84L580.89 384.99L585.45 384.99L590.01 383.75L594.58 383.14L599.14 381.9L603.7 381.29L608.26 380.67L612.83 380.05L617.39 379.44L621.95 379.44L626.51 379.44L631.08 379.44L635.64 379.44L640.2 378.82" stroke="#000" stroke-width="0.8" fill="none" />
<circle cx="567.2" cy="400.41" r="1.3" fill="#000" />
<circle cx="571.76" cy="388.07" r="1.3" fill="#000" />
<circle cx="576.33" cy="386.84" r="1.3" fill="#000" />
<circle cx="580.89" cy="384.99" r="1.3" fill="#000" />
<circle cx="585.45" cy="384.99" r="1.3" fill="#000" />
<circle cx="590.01" cy="383.75" r="1.3" fill="#000" />
<circle cx="594.58" cy="383.14" r="1.3" fill="#000" />
<circle cx="599.14" cy="381.9" r="1.3" fill="#000" />
<circle cx="603.7" cy="381.29" r="1.3" fill="#000" />
<circle cx="608.26" cy="380.67" r="1.3" fill="#000" />
<circle cx="612.83" cy="380.05" r="1.3" fill="#000" />
<circle cx="617.39" cy="379.44" r="1.3" fill="#000" />
<circle cx="621.95" cy="379.44" r="1.3" fill="#000" />
<circle cx="626.51" cy="379.44" r="1.3" fill="#000" />
<circle cx="631.08" cy="379.44" r="1.3" fill="#000" />
<circle cx="635.64" cy="379.44" r="1.3" fill="#000" />
<circle cx="640.2" cy="378.82" r="1.3" fill="#000" />
<path d="M567.2 414.61L571.76 400.41L576.33 393.01L580.89 389.31L585.45 386.84L590.01 385.61L594.58 384.99L599.14 383.75L603.7 383.75L608.26 383.14L612.83 382.52L617.39 381.9L621.95 381.9L626.51 381.9L631.08 381.29L635.64 380.67L640.2 380.05" stroke="#ff2a0c" stroke-width="0.8" fill="none" />
<rect x="565.9" y="413.31" width="2.6" height="2.6" fill="#ff2a0c" />
<rect x="570.46" y="399.11" width="2.6" height="2.6" fill="#ff2a0c" />
<rect x="575.03" y="391.71" width="2.6" height="2.6" fill="#ff2a0c" />
<rect x="579.59" y="388.01" width="2.6" height="2.6" fill="#ff2a0c" />
<rect x="584.15" y="385.54" width="2.6" height="2.6" fill="#ff2a0c" />
<rect x="588.71" y="384.31" width="2.6" height="2.6" fill="#ff2a0c" />
<rect x="593.28" y="383.69" width="2.6" height="2.6" fill="#ff2a0c" />
<rect x="597.84" y="382.45" width="2.6" height="2.6" fill="#ff2a0c" />
<rect x="602.4" y="382.45" width="2.6" height="2.6" fill="#ff2a0c" />
<rect x="606.96" y="381.84" width="2.6" height="2.6" fill="#ff2a0c" />
<rect x="611.53" y="381.22" width="2.6" height="2.6" fill="#ff2a0c" />
<rect x="616.09" y="380.6" width="2.6" height="2.6" fill="#ff2a0c" />
<rect x="620.65" y="380.6" width="2.6" height="2.6" fill="#ff2a0c" />
<rect x="625.21" y="380.6" width="2.6" height="2.6" fill="#ff2a0c" />
<rect x="629.78" y="379.99" width="2.6" height="2.6" fill="#ff2a0c" />
<rect x="634.34" y="379.37" width="2.6" height="2.6" fill="#ff2a0c" />
<rect x="638.9" y="378.75" width="2.6" height="2.6" fill="#ff2a0c" />
<text x="604" y="447.6" dy="0.35em" font-size="6.3" stroke="#000" stroke-width="0.08" text-anchor="middle">E/I balance</text>
<text x="604" y="455.5" dy="0.35em" font-size="6.3" stroke="#000" stroke-width="0.08" text-anchor="middle">(AMPA frequency/GABA frequency)</text>
<text x="604" y="461.8" dy="0.35em" font-size="6.3" stroke="#000" stroke-width="0.08" text-anchor="middle">[bin center]</text>
<text x="604" y="468.8" dy="0.35em" font-size="5.1" font-style="italic" fill="#8e8e8e" stroke="#8e8e8e" stroke-width="0.08" text-anchor="middle">90-120 days</text>
<line x1="572.4" y1="423" x2="579.4" y2="423" stroke="#000" stroke-width="0.8" />
<circle cx="575.9" cy="423" r="1.3" fill="#000" />
<line x1="572.4" y1="431" x2="579.4" y2="431" stroke="#ff2a0c" stroke-width="0.8" />
<rect x="574.6" y="429.7" width="2.6" height="2.6" fill="#ff2a0c" />
<text x="581.7" y="423" dy="0.35em" font-size="6" stroke="#000" stroke-width="0.08">Neurotypical</text>
<text x="581.7" y="431" dy="0.35em" font-size="6" stroke="#000" stroke-width="0.08">MPSIIIA</text>
<path d="M615.7 421.5H617.7V432.5H615.7" stroke="#666" stroke-width="0.7" fill="none" />
<text x="618" y="427" dy="0.35em" font-size="6" stroke="#000" stroke-width="0.08">p= &lt;0.0001</text>
<rect x="4.2" y="701.8" width="230.6" height="28.4" fill="#fff" stroke="#000" stroke-width="1" />
<text x="119.5" y="710.85" dy="0.35em" font-size="8.3" text-anchor="middle">TTX – spontaneous mini excitatory postsynaptic events</text>
<text x="119.5" y="721.15" dy="0.35em" font-size="8.3" text-anchor="middle">(AMPA)</text>
<rect x="243.3" y="700.8" width="249.3" height="28.8" fill="#fff" stroke="#000" stroke-width="1" />
<text x="367.95" y="710.05" dy="0.35em" font-size="8.3" text-anchor="middle">TTX – spontaneous mini inhibitory postsynaptic events</text>
<text x="367.95" y="720.35" dy="0.35em" font-size="8.3" text-anchor="middle">(GABA)</text>
<rect x="501.4" y="701" width="183" height="29.2" fill="#fff" stroke="#000" stroke-width="1" />
<text x="592.9" y="710.45" dy="0.35em" font-size="8.3" text-anchor="middle">TTX – excitatory and inhibitory balance</text>
<text x="592.9" y="720.75" dy="0.35em" font-size="8.3" text-anchor="middle">(AMPA/GABA)</text>
<text x="5" y="739.4" dy="0.35em" font-size="11.2" font-weight="bold">N</text>
<line x1="27.4" y1="765.3" x2="27.4" y2="815.3" stroke="#000" stroke-width="0.8" />
<line x1="25.2" y1="815.3" x2="27.4" y2="815.3" stroke="#000" stroke-width="0.8" />
<text x="24.2" y="815.3" dy="0.35em" font-size="6.2" stroke="#000" stroke-width="0.08" text-anchor="end">0.0</text>
<line x1="25.2" y1="801.8" x2="27.4" y2="801.8" stroke="#000" stroke-width="0.8" />
<text x="24.2" y="801.8" dy="0.35em" font-size="6.2" stroke="#000" stroke-width="0.08" text-anchor="end">0.5</text>
<line x1="25.2" y1="788.3" x2="27.4" y2="788.3" stroke="#000" stroke-width="0.8" />
<text x="24.2" y="788.3" dy="0.35em" font-size="6.2" stroke="#000" stroke-width="0.08" text-anchor="end">1.0</text>
<line x1="25.2" y1="774.8" x2="27.4" y2="774.8" stroke="#000" stroke-width="0.8" />
<text x="24.2" y="774.8" dy="0.35em" font-size="6.2" stroke="#000" stroke-width="0.08" text-anchor="end">1.5</text>
<line x1="26.08" y1="808.55" x2="27.4" y2="808.55" stroke="#000" stroke-width="0.64" />
<line x1="26.08" y1="795.05" x2="27.4" y2="795.05" stroke="#000" stroke-width="0.64" />
<line x1="26.08" y1="781.55" x2="27.4" y2="781.55" stroke="#000" stroke-width="0.64" />
<line x1="26.08" y1="768.05" x2="27.4" y2="768.05" stroke="#000" stroke-width="0.64" />
<line x1="27.4" y1="747.3" x2="27.4" y2="763" stroke="#000" stroke-width="0.8" />
<line x1="25.2" y1="761.7" x2="27.4" y2="761.7" stroke="#000" stroke-width="0.8" />
<text x="24.2" y="761.7" dy="0.35em" font-size="6.2" stroke="#000" stroke-width="0.08" text-anchor="end">2</text>
<line x1="25.2" y1="754.5" x2="27.4" y2="754.5" stroke="#000" stroke-width="0.8" />
<text x="24.2" y="754.5" dy="0.35em" font-size="6.2" stroke="#000" stroke-width="0.08" text-anchor="end">4</text>
<line x1="25.2" y1="747.3" x2="27.4" y2="747.3" stroke="#000" stroke-width="0.8" />
<text x="24.2" y="747.3" dy="0.35em" font-size="6.2" stroke="#000" stroke-width="0.08" text-anchor="end">6</text>
<text transform="translate(12.3,780.5) rotate(-90)" dy="0.35em" font-size="6.7" stroke="#000" stroke-width="0.08" text-anchor="middle">AMPA Frequency (Hz)</text>
<rect x="30.3" y="802.61" width="8.6" height="12.69" fill="#000" stroke="#000" stroke-width="0.8" />
<rect x="45.8" y="791.81" width="11.8" height="23.49" fill="#ff2a0c" stroke="#000" stroke-width="0.8" />
<circle cx="33.06" cy="766.7" r="1" fill="#fff" stroke="#888" stroke-width="0.45" />
<circle cx="34.61" cy="774.8" r="1" fill="#fff" stroke="#888" stroke-width="0.45" />
<circle cx="32.57" cy="777.5" r="1" fill="#fff" stroke="#888" stroke-width="0.45" />
<circle cx="36.53" cy="782.9" r="1" fill="#fff" stroke="#888" stroke-width="0.45" />
<circle cx="32.99" cy="785.6" r="1" fill="#fff" stroke="#888" stroke-width="0.45" />
<circle cx="34.91" cy="793.7" r="1" fill="#fff" stroke="#888" stroke-width="0.45" />
<circle cx="37.16" cy="795.05" r="1" fill="#fff" stroke="#888" stroke-width="0.45" />
<circle cx="33.98" cy="799.1" r="1" fill="#fff" stroke="#888" stroke-width="0.45" />
<circle cx="37.41" cy="801.8" r="1" fill="#fff" stroke="#888" stroke-width="0.45" />
<circle cx="35.99" cy="803.15" r="1" fill="#fff" stroke="#888" stroke-width="0.45" />
<circle cx="34.89" cy="804.5" r="1" fill="#fff" stroke="#888" stroke-width="0.45" />
<circle cx="35.37" cy="807.2" r="1" fill="#fff" stroke="#888" stroke-width="0.45" />
<circle cx="35.12" cy="809.9" r="1" fill="#fff" stroke="#888" stroke-width="0.45" />
<circle cx="33.76" cy="812.6" r="1" fill="#fff" stroke="#888" stroke-width="0.45" />
<circle cx="37.58" cy="813.95" r="1" fill="#fff" stroke="#888" stroke-width="0.45" />
<circle cx="34.02" cy="813.95" r="1" fill="#fff" stroke="#888" stroke-width="0.45" />
<circle cx="37.5" cy="814.49" r="1" fill="#fff" stroke="#888" stroke-width="0.45" />
<line x1="34.6" y1="802.61" x2="34.6" y2="800.45" stroke="#000" stroke-width="0.7" />
<line x1="32.6" y1="800.45" x2="36.6" y2="800.45" stroke="#000" stroke-width="0.7" />
<circle cx="54.94" cy="750.9" r="1" fill="#fff" stroke="#888" stroke-width="0.45" />
<circle cx="47.36" cy="757.38" r="1" fill="#fff" stroke="#888" stroke-width="0.45" />
<circle cx="49.48" cy="758.82" r="1" fill="#fff" stroke="#888" stroke-width="0.45" />
<circle cx="51.5" cy="759.9" r="1" fill="#fff" stroke="#888" stroke-width="0.45" />
<circle cx="54.59" cy="761.34" r="1" fill="#fff" stroke="#888" stroke-width="0.45" />
<circle cx="48.73" cy="769.4" r="1" fill="#fff" stroke="#888" stroke-width="0.45" />
<circle cx="52.77" cy="769.4" r="1" fill="#fff" stroke="#888" stroke-width="0.45" />
<circle cx="50.48" cy="777.5" r="1" fill="#fff" stroke="#888" stroke-width="0.45" />
<circle cx="54.33" cy="788.3" r="1" fill="#fff" stroke="#888" stroke-width="0.45" />
<circle cx="55.62" cy="793.7" r="1" fill="#fff" stroke="#888" stroke-width="0.45" />
<circle cx="54.11" cy="804.5" r="1" fill="#fff" stroke="#888" stroke-width="0.45" />
<circle cx="48.88" cy="809.9" r="1" fill="#fff" stroke="#888" stroke-width="0.45" />
<circle cx="54.09" cy="812.6" r="1" fill="#fff" stroke="#888" stroke-width="0.45" />
<circle cx="51.13" cy="813.95" r="1" fill="#fff" stroke="#888" stroke-width="0.45" />
<circle cx="54.8" cy="813.95" r="1" fill="#fff" stroke="#888" stroke-width="0.45" />
<line x1="51.7" y1="791.81" x2="51.7" y2="787.22" stroke="#000" stroke-width="0.7" />
<line x1="49.7" y1="787.22" x2="53.7" y2="787.22" stroke="#000" stroke-width="0.7" />
<line x1="27.4" y1="815.3" x2="59.8" y2="815.3" stroke="#000" stroke-width="0.8" />
<line x1="34.6" y1="815.3" x2="34.6" y2="817.3" stroke="#000" stroke-width="0.7" />
<text transform="translate(35.1,822.5) rotate(-45)" dy="0.3em" font-size="7" stroke="#000" stroke-width="0.08" text-anchor="end">Neurotypical</text>
<line x1="51.7" y1="815.3" x2="51.7" y2="817.3" stroke="#000" stroke-width="0.7" />
<text transform="translate(52.2,822.5) rotate(-45)" dy="0.3em" font-size="7" stroke="#000" stroke-width="0.08" text-anchor="end">MPSIIIA</text>
<circle cx="32.47" cy="812.94" r="1" fill="#fff" stroke="#888" stroke-width="0.45" />
<circle cx="32.58" cy="813.64" r="1" fill="#fff" stroke="#888" stroke-width="0.45" />
<circle cx="35.75" cy="814.25" r="1" fill="#fff" stroke="#888" stroke-width="0.45" />
<circle cx="33.71" cy="813.95" r="1" fill="#fff" stroke="#888" stroke-width="0.45" />
<circle cx="37.45" cy="811.99" r="1" fill="#fff" stroke="#888" stroke-width="0.45" />
<circle cx="33.45" cy="812.53" r="1" fill="#fff" stroke="#888" stroke-width="0.45" />
<circle cx="36.57" cy="812.82" r="1" fill="#fff" stroke="#888" stroke-width="0.45" />
<circle cx="36.51" cy="812.72" r="1" fill="#fff" stroke="#888" stroke-width="0.45" />
<circle cx="33.16" cy="809.2" r="1" fill="#fff" stroke="#888" stroke-width="0.45" />
<circle cx="31.85" cy="809.14" r="1" fill="#fff" stroke="#888" stroke-width="0.45" />
<circle cx="50.15" cy="810.31" r="1" fill="#fff" stroke="#888" stroke-width="0.45" />
<circle cx="51.29" cy="814.77" r="1" fill="#fff" stroke="#888" stroke-width="0.45" />
<circle cx="47.66" cy="814.64" r="1" fill="#fff" stroke="#888" stroke-width="0.45" />
<circle cx="48.15" cy="814.05" r="1" fill="#fff" stroke="#888" stroke-width="0.45" />
<circle cx="49.6" cy="813.82" r="1" fill="#fff" stroke="#888" stroke-width="0.45" />
<circle cx="53.53" cy="812.15" r="1" fill="#fff" stroke="#888" stroke-width="0.45" />
<circle cx="48.72" cy="815.08" r="1" fill="#fff" stroke="#888" stroke-width="0.45" />
<circle cx="53.18" cy="811.58" r="1" fill="#fff" stroke="#888" stroke-width="0.45" />
<circle cx="55.62" cy="814.3" r="1" fill="#fff" stroke="#888" stroke-width="0.45" />
<circle cx="49.01" cy="808.98" r="1" fill="#fff" stroke="#888" stroke-width="0.45" />
<path d="M36 749.3V746.6H51.9V749.3" stroke="#000" stroke-width="0.7" fill="none" />
<text x="43.95" y="741.8" dy="0.35em" font-size="6.3" stroke="#000" stroke-width="0.08" text-anchor="middle">ns</text>
<text transform="translate(66.5,798.5) rotate(-90)" dy="0.35em" font-size="6.8" text-anchor="middle"><tspan font-style="italic">n</tspan>= neurons</text>
<text x="41.8" y="845.3" dy="0.35em" font-size="5.1" font-style="italic" fill="#8e8e8e" stroke="#8e8e8e" stroke-width="0.08" text-anchor="middle">90-120 days</text>
<line x1="91.2" y1="756.4" x2="91.2" y2="816.3" stroke="#000" stroke-width="0.8" />
<line x1="89" y1="816.3" x2="91.2" y2="816.3" stroke="#000" stroke-width="0.8" />
<text x="88" y="816.3" dy="0.35em" font-size="6.8" stroke="#000" stroke-width="0.08" text-anchor="end">0</text>
<line x1="89" y1="804.32" x2="91.2" y2="804.32" stroke="#000" stroke-width="0.8" />
<text x="88" y="804.32" dy="0.35em" font-size="6.8" stroke="#000" stroke-width="0.08" text-anchor="end">20</text>
<line x1="89" y1="792.34" x2="91.2" y2="792.34" stroke="#000" stroke-width="0.8" />
<text x="88" y="792.34" dy="0.35em" font-size="6.8" stroke="#000" stroke-width="0.08" text-anchor="end">40</text>
<line x1="89" y1="780.36" x2="91.2" y2="780.36" stroke="#000" stroke-width="0.8" />
<text x="88" y="780.36" dy="0.35em" font-size="6.8" stroke="#000" stroke-width="0.08" text-anchor="end">60</text>
<line x1="89" y1="768.38" x2="91.2" y2="768.38" stroke="#000" stroke-width="0.8" />
<text x="88" y="768.38" dy="0.35em" font-size="6.8" stroke="#000" stroke-width="0.08" text-anchor="end">80</text>
<line x1="89" y1="756.4" x2="91.2" y2="756.4" stroke="#000" stroke-width="0.8" />
<text x="88" y="756.4" dy="0.35em" font-size="6.8" stroke="#000" stroke-width="0.08" text-anchor="end">100</text>
<line x1="89.88" y1="810.31" x2="91.2" y2="810.31" stroke="#000" stroke-width="0.64" />
<line x1="89.88" y1="798.33" x2="91.2" y2="798.33" stroke="#000" stroke-width="0.64" />
<line x1="89.88" y1="786.35" x2="91.2" y2="786.35" stroke="#000" stroke-width="0.64" />
<line x1="89.88" y1="774.37" x2="91.2" y2="774.37" stroke="#000" stroke-width="0.64" />
<line x1="89.88" y1="762.39" x2="91.2" y2="762.39" stroke="#000" stroke-width="0.64" />
<line x1="91.2" y1="816.3" x2="162.5" y2="816.3" stroke="#000" stroke-width="0.8" />
<line x1="91.5" y1="816.3" x2="91.5" y2="818.5" stroke="#000" stroke-width="0.8" />
<text x="91.5" y="822.5" dy="0.35em" font-size="6.8" stroke="#000" stroke-width="0.08" text-anchor="middle">0</text>
<line x1="105.7" y1="816.3" x2="105.7" y2="818.5" stroke="#000" stroke-width="0.8" />
<text x="105.7" y="822.5" dy="0.35em" font-size="6.8" stroke="#000" stroke-width="0.08" text-anchor="middle">1</text>
<line x1="119.9" y1="816.3" x2="119.9" y2="818.5" stroke="#000" stroke-width="0.8" />
<text x="119.9" y="822.5" dy="0.35em" font-size="6.8" stroke="#000" stroke-width="0.08" text-anchor="middle">2</text>
<line x1="134.1" y1="816.3" x2="134.1" y2="818.5" stroke="#000" stroke-width="0.8" />
<text x="134.1" y="822.5" dy="0.35em" font-size="6.8" stroke="#000" stroke-width="0.08" text-anchor="middle">3</text>
<line x1="148.3" y1="816.3" x2="148.3" y2="818.5" stroke="#000" stroke-width="0.8" />
<text x="148.3" y="822.5" dy="0.35em" font-size="6.8" stroke="#000" stroke-width="0.08" text-anchor="middle">4</text>
<line x1="162.5" y1="816.3" x2="162.5" y2="818.5" stroke="#000" stroke-width="0.8" />
<text x="162.5" y="822.5" dy="0.35em" font-size="6.8" stroke="#000" stroke-width="0.08" text-anchor="middle">5</text>
<text transform="translate(75,785.7) rotate(-90)" dy="0.35em" font-size="6.9" stroke="#000" stroke-width="0.08" text-anchor="middle">Cumulative distribution (%)</text>
<path d="M91.5 788.75L98.6 770.18L105.7 764.79L112.8 758.2L119.9 756.4L127 756.4L134.1 756.4L141.2 756.4L148.3 756.4L155.4 756.4L162.5 756.4" stroke="#000" stroke-width="0.8" fill="none" />
<circle cx="91.5" cy="788.75" r="1.3" fill="#000" />
<circle cx="98.6" cy="770.18" r="1.3" fill="#000" />
<circle cx="105.7" cy="764.79" r="1.3" fill="#000" />
<circle cx="112.8" cy="758.2" r="1.3" fill="#000" />
<circle cx="119.9" cy="756.4" r="1.3" fill="#000" />
<circle cx="127" cy="756.4" r="1.3" fill="#000" />
<circle cx="134.1" cy="756.4" r="1.3" fill="#000" />
<circle cx="141.2" cy="756.4" r="1.3" fill="#000" />
<circle cx="148.3" cy="756.4" r="1.3" fill="#000" />
<circle cx="155.4" cy="756.4" r="1.3" fill="#000" />
<circle cx="162.5" cy="756.4" r="1.3" fill="#000" />
<path d="M91.5 783.95L98.6 779.76L105.7 773.17L112.8 770.18L119.9 765.98L127 761.79L134.1 759.39L141.2 758.2L148.3 758.2L155.4 758.2L162.5 756.4" stroke="#ff2a0c" stroke-width="0.8" fill="none" />
<rect x="90.2" y="782.65" width="2.6" height="2.6" fill="#ff2a0c" />
<rect x="97.3" y="778.46" width="2.6" height="2.6" fill="#ff2a0c" />
<rect x="104.4" y="771.87" width="2.6" height="2.6" fill="#ff2a0c" />
<rect x="111.5" y="768.88" width="2.6" height="2.6" fill="#ff2a0c" />
<rect x="118.6" y="764.68" width="2.6" height="2.6" fill="#ff2a0c" />
<rect x="125.7" y="760.49" width="2.6" height="2.6" fill="#ff2a0c" />
<rect x="132.8" y="758.1" width="2.6" height="2.6" fill="#ff2a0c" />
<rect x="139.9" y="756.9" width="2.6" height="2.6" fill="#ff2a0c" />
<rect x="147" y="756.9" width="2.6" height="2.6" fill="#ff2a0c" />
<rect x="154.1" y="756.9" width="2.6" height="2.6" fill="#ff2a0c" />
<rect x="161.2" y="755.1" width="2.6" height="2.6" fill="#ff2a0c" />
<text x="127.3" y="828" dy="0.35em" font-size="6.3" stroke="#000" stroke-width="0.08" text-anchor="middle">AMPA frequency (Hz)</text>
<text x="127.3" y="834.8" dy="0.35em" font-size="6.3" stroke="#000" stroke-width="0.08" text-anchor="middle">[bin center]</text>
<text x="127.3" y="842.8" dy="0.35em" font-size="5.1" font-style="italic" fill="#8e8e8e" stroke="#8e8e8e" stroke-width="0.08" text-anchor="middle">90-120 days</text>
<line x1="95.2" y1="805.5" x2="102.2" y2="805.5" stroke="#000" stroke-width="0.8" />
<circle cx="98.7" cy="805.5" r="1.3" fill="#000" />
<line x1="95.2" y1="812.6" x2="102.2" y2="812.6" stroke="#ff2a0c" stroke-width="0.8" />
<rect x="97.4" y="811.3" width="2.6" height="2.6" fill="#ff2a0c" />
<text x="104.3" y="805.5" dy="0.35em" font-size="6" stroke="#000" stroke-width="0.08">Neurotypical</text>
<text x="104.3" y="812.6" dy="0.35em" font-size="6" stroke="#000" stroke-width="0.08">MPSIIIA</text>
<path d="M135.7 804H137.7V814.1H135.7" stroke="#666" stroke-width="0.7" fill="none" />
<text x="141.8" y="809" dy="0.35em" font-size="6" stroke="#000" stroke-width="0.08">p = 0.0176</text>
<text x="172.2" y="741.5" dy="0.35em" font-size="11.2" font-weight="bold">O</text>
<line x1="203.2" y1="760.98" x2="203.2" y2="815.4" stroke="#000" stroke-width="0.8" />
<line x1="201" y1="815.4" x2="203.2" y2="815.4" stroke="#000" stroke-width="0.8" />
<text x="200" y="815.4" dy="0.35em" font-size="6.2" stroke="#000" stroke-width="0.08" text-anchor="end">0</text>
<line x1="201" y1="806.33" x2="203.2" y2="806.33" stroke="#000" stroke-width="0.8" />
<text x="200" y="806.33" dy="0.35em" font-size="6.2" stroke="#000" stroke-width="0.08" text-anchor="end">5</text>
<line x1="201" y1="797.26" x2="203.2" y2="797.26" stroke="#000" stroke-width="0.8" />
<text x="200" y="797.26" dy="0.35em" font-size="6.2" stroke="#000" stroke-width="0.08" text-anchor="end">10</text>
<line x1="201" y1="788.19" x2="203.2" y2="788.19" stroke="#000" stroke-width="0.8" />
<text x="200" y="788.19" dy="0.35em" font-size="6.2" stroke="#000" stroke-width="0.08" text-anchor="end">15</text>
<line x1="201" y1="779.12" x2="203.2" y2="779.12" stroke="#000" stroke-width="0.8" />
<text x="200" y="779.12" dy="0.35em" font-size="6.2" stroke="#000" stroke-width="0.08" text-anchor="end">20</text>
<line x1="201" y1="770.05" x2="203.2" y2="770.05" stroke="#000" stroke-width="0.8" />
<text x="200" y="770.05" dy="0.35em" font-size="6.2" stroke="#000" stroke-width="0.08" text-anchor="end">25</text>
<line x1="201" y1="760.98" x2="203.2" y2="760.98" stroke="#000" stroke-width="0.8" />
<text x="200" y="760.98" dy="0.35em" font-size="6.2" stroke="#000" stroke-width="0.08" text-anchor="end">30</text>
<line x1="201.88" y1="810.87" x2="203.2" y2="810.87" stroke="#000" stroke-width="0.64" />
<line x1="201.88" y1="801.79" x2="203.2" y2="801.79" stroke="#000" stroke-width="0.64" />
<line x1="201.88" y1="792.73" x2="203.2" y2="792.73" stroke="#000" stroke-width="0.64" />
<line x1="201.88" y1="783.65" x2="203.2" y2="783.65" stroke="#000" stroke-width="0.64" />
<line x1="201.88" y1="774.59" x2="203.2" y2="774.59" stroke="#000" stroke-width="0.64" />
<line x1="201.88" y1="765.51" x2="203.2" y2="765.51" stroke="#000" stroke-width="0.64" />
<line x1="203.2" y1="748.8" x2="203.2" y2="756.7" stroke="#000" stroke-width="0.8" />
<line x1="201" y1="754.5" x2="203.2" y2="754.5" stroke="#000" stroke-width="0.8" />
<text x="200" y="754.5" dy="0.35em" font-size="6.2" stroke="#000" stroke-width="0.08" text-anchor="end">35</text>
<line x1="201" y1="748.8" x2="203.2" y2="748.8" stroke="#000" stroke-width="0.8" />
<text x="200" y="748.8" dy="0.35em" font-size="6.2" stroke="#000" stroke-width="0.08" text-anchor="end">45</text>
<text transform="translate(187.4,781.2) rotate(-90)" dy="0.35em" font-size="6.5" stroke="#000" stroke-width="0.08" text-anchor="middle">Mean AMPA Amplitude (-pA)</text>
<rect x="205.7" y="786.38" width="11.5" height="29.02" fill="#000" stroke="#000" stroke-width="0.8" />
<rect x="220.1" y="785.47" width="12" height="29.93" fill="#ff2a0c" stroke="#000" stroke-width="0.8" />
<circle cx="215.71" cy="752.79" r="1" fill="#fff" stroke="#888" stroke-width="0.45" />
<circle cx="207.49" cy="767.33" r="1" fill="#fff" stroke="#888" stroke-width="0.45" />
<circle cx="213.46" cy="773.68" r="1" fill="#fff" stroke="#888" stroke-width="0.45" />
<circle cx="211.31" cy="777.31" r="1" fill="#fff" stroke="#888" stroke-width="0.45" />
<circle cx="215.38" cy="779.12" r="1" fill="#fff" stroke="#888" stroke-width="0.45" />
<circle cx="210.62" cy="780.03" r="1" fill="#fff" stroke="#888" stroke-width="0.45" />
<circle cx="215.18" cy="782.75" r="1" fill="#fff" stroke="#888" stroke-width="0.45" />
<circle cx="208.42" cy="784.56" r="1" fill="#fff" stroke="#888" stroke-width="0.45" />
<circle cx="215.85" cy="785.47" r="1" fill="#fff" stroke="#888" stroke-width="0.45" />
<circle cx="210.68" cy="786.38" r="1" fill="#fff" stroke="#888" stroke-width="0.45" />
<circle cx="208.63" cy="787.28" r="1" fill="#fff" stroke="#888" stroke-width="0.45" />
<circle cx="210.08" cy="788.19" r="1" fill="#fff" stroke="#888" stroke-width="0.45" />
<circle cx="212.61" cy="789.1" r="1" fill="#fff" stroke="#888" stroke-width="0.45" />
<circle cx="207.3" cy="790" r="1" fill="#fff" stroke="#888" stroke-width="0.45" />
<circle cx="210.45" cy="790.91" r="1" fill="#fff" stroke="#888" stroke-width="0.45" />
<circle cx="207.1" cy="791.82" r="1" fill="#fff" stroke="#888" stroke-width="0.45" />
<circle cx="207.62" cy="793.63" r="1" fill="#fff" stroke="#888" stroke-width="0.45" />
<circle cx="208.52" cy="794.54" r="1" fill="#fff" stroke="#888" stroke-width="0.45" />
<circle cx="209.05" cy="796.35" r="1" fill="#fff" stroke="#888" stroke-width="0.45" />
<circle cx="209.44" cy="804.52" r="1" fill="#fff" stroke="#888" stroke-width="0.45" />
<line x1="211.45" y1="786.38" x2="211.45" y2="784.92" stroke="#000" stroke-width="0.7" />
<line x1="209.45" y1="784.92" x2="213.45" y2="784.92" stroke="#000" stroke-width="0.7" />
<circle cx="228.71" cy="767.33" r="1" fill="#fff" stroke="#888" stroke-width="0.45" />
<circle cx="225.31" cy="768.24" r="1" fill="#fff" stroke="#888" stroke-width="0.45" />
<circle cx="229.46" cy="770.96" r="1" fill="#fff" stroke="#888" stroke-width="0.45" />
<circle cx="229.85" cy="775.49" r="1" fill="#fff" stroke="#888" stroke-width="0.45" />
<circle cx="229.81" cy="779.12" r="1" fill="#fff" stroke="#888" stroke-width="0.45" />
<circle cx="230.31" cy="780.93" r="1" fill="#fff" stroke="#888" stroke-width="0.45" />
<circle cx="226.81" cy="782.75" r="1" fill="#fff" stroke="#888" stroke-width="0.45" />
<circle cx="227.71" cy="783.65" r="1" fill="#fff" stroke="#888" stroke-width="0.45" />
<circle cx="229.69" cy="784.56" r="1" fill="#fff" stroke="#888" stroke-width="0.45" />
<circle cx="226.51" cy="785.47" r="1" fill="#fff" stroke="#888" stroke-width="0.45" />
<circle cx="222.74" cy="786.38" r="1" fill="#fff" stroke="#888" stroke-width="0.45" />
<circle cx="226.29" cy="787.28" r="1" fill="#fff" stroke="#888" stroke-width="0.45" />
<circle cx="226.38" cy="788.19" r="1" fill="#fff" stroke="#888" stroke-width="0.45" />
<circle cx="223.09" cy="790" r="1" fill="#fff" stroke="#888" stroke-width="0.45" />
<circle cx="222.27" cy="790.91" r="1" fill="#fff" stroke="#888" stroke-width="0.45" />
<circle cx="223.13" cy="791.82" r="1" fill="#fff" stroke="#888" stroke-width="0.45" />
<circle cx="227.96" cy="793.63" r="1" fill="#fff" stroke="#888" stroke-width="0.45" />
<circle cx="229.04" cy="795.45" r="1" fill="#fff" stroke="#888" stroke-width="0.45" />
<circle cx="227.57" cy="799.07" r="1" fill="#fff" stroke="#888" stroke-width="0.45" />
<line x1="226.1" y1="785.47" x2="226.1" y2="784.02" stroke="#000" stroke-width="0.7" />
<line x1="224.1" y1="784.02" x2="228.1" y2="784.02" stroke="#000" stroke-width="0.7" />
<line x1="203.2" y1="815.4" x2="234" y2="815.4" stroke="#000" stroke-width="0.8" />
<line x1="211.45" y1="815.4" x2="211.45" y2="817.4" stroke="#000" stroke-width="0.7" />
<text transform="translate(211.95,822.6) rotate(-45)" dy="0.3em" font-size="7" stroke="#000" stroke-width="0.08" text-anchor="end">Neurotypical</text>
<line x1="226.1" y1="815.4" x2="226.1" y2="817.4" stroke="#000" stroke-width="0.7" />
<text transform="translate(226.6,822.6) rotate(-45)" dy="0.3em" font-size="7" stroke="#000" stroke-width="0.08" text-anchor="end">MPSIIIA</text>
<circle cx="214.11" cy="788.85" r="1" fill="#fff" stroke="#888" stroke-width="0.45" />
<circle cx="209.14" cy="782.24" r="1" fill="#fff" stroke="#888" stroke-width="0.45" />
<circle cx="208.02" cy="787.09" r="1" fill="#fff" stroke="#888" stroke-width="0.45" />
<circle cx="211.97" cy="785.48" r="1" fill="#fff" stroke="#888" stroke-width="0.45" />
<circle cx="208.29" cy="785.23" r="1" fill="#fff" stroke="#888" stroke-width="0.45" />
<circle cx="211.46" cy="781.67" r="1" fill="#fff" stroke="#888" stroke-width="0.45" />
<circle cx="207.25" cy="778.81" r="1" fill="#fff" stroke="#888" stroke-width="0.45" />
<circle cx="208.54" cy="782.41" r="1" fill="#fff" stroke="#888" stroke-width="0.45" />
<circle cx="211.52" cy="781.99" r="1" fill="#fff" stroke="#888" stroke-width="0.45" />
<circle cx="208.63" cy="788.9" r="1" fill="#fff" stroke="#888" stroke-width="0.45" />
<circle cx="207.78" cy="783.03" r="1" fill="#fff" stroke="#888" stroke-width="0.45" />
<circle cx="211.75" cy="790.59" r="1" fill="#fff" stroke="#888" stroke-width="0.45" />
<circle cx="208.71" cy="793.07" r="1" fill="#fff" stroke="#888" stroke-width="0.45" />
<circle cx="208.78" cy="786.12" r="1" fill="#fff" stroke="#888" stroke-width="0.45" />
<circle cx="210.9" cy="784.2" r="1" fill="#fff" stroke="#888" stroke-width="0.45" />
<circle cx="207.68" cy="781.91" r="1" fill="#fff" stroke="#888" stroke-width="0.45" />
<circle cx="230.63" cy="783.67" r="1" fill="#fff" stroke="#888" stroke-width="0.45" />
<circle cx="228.39" cy="781.7" r="1" fill="#fff" stroke="#888" stroke-width="0.45" />
<circle cx="222.29" cy="787.25" r="1" fill="#fff" stroke="#888" stroke-width="0.45" />
<circle cx="222.15" cy="782.98" r="1" fill="#fff" stroke="#888" stroke-width="0.45" />
<circle cx="226.46" cy="792.45" r="1" fill="#fff" stroke="#888" stroke-width="0.45" />
<circle cx="225.58" cy="783.06" r="1" fill="#fff" stroke="#888" stroke-width="0.45" />
<circle cx="226.59" cy="792.12" r="1" fill="#fff" stroke="#888" stroke-width="0.45" />
<circle cx="230.21" cy="793.76" r="1" fill="#fff" stroke="#888" stroke-width="0.45" />
<circle cx="229.33" cy="778.07" r="1" fill="#fff" stroke="#888" stroke-width="0.45" />
<circle cx="228.46" cy="779.22" r="1" fill="#fff" stroke="#888" stroke-width="0.45" />
<circle cx="226.39" cy="790.36" r="1" fill="#fff" stroke="#888" stroke-width="0.45" />
<circle cx="225.84" cy="783.69" r="1" fill="#fff" stroke="#888" stroke-width="0.45" />
<circle cx="228.62" cy="788.12" r="1" fill="#fff" stroke="#888" stroke-width="0.45" />
<circle cx="230.3" cy="794.5" r="1" fill="#fff" stroke="#888" stroke-width="0.45" />
<circle cx="226.06" cy="794.33" r="1" fill="#fff" stroke="#888" stroke-width="0.45" />
<circle cx="224.77" cy="777.15" r="1" fill="#fff" stroke="#888" stroke-width="0.45" />
<path d="M211.5 750.3V747.6H226.8V750.3" stroke="#000" stroke-width="0.7" fill="none" />
<text x="219.15" y="743" dy="0.35em" font-size="6.3" stroke="#000" stroke-width="0.08" text-anchor="middle">ns</text>
<text transform="translate(240.2,799.6) rotate(-90)" dy="0.35em" font-size="6.8" text-anchor="middle"><tspan font-style="italic">n</tspan>= neurons</text>
<text x="219.1" y="844" dy="0.35em" font-size="5.1" font-style="italic" fill="#8e8e8e" stroke="#8e8e8e" stroke-width="0.08" text-anchor="middle">90-120 days</text>
<text x="247.9" y="741.5" dy="0.35em" font-size="11.2" font-weight="bold">P</text>
<line x1="274.3" y1="768.6" x2="274.3" y2="816.2" stroke="#000" stroke-width="0.8" />
<line x1="272.1" y1="816.2" x2="274.3" y2="816.2" stroke="#000" stroke-width="0.8" />
<text x="271.1" y="816.2" dy="0.35em" font-size="6.2" stroke="#000" stroke-width="0.08" text-anchor="end">0.00</text>
<line x1="272.1" y1="806.68" x2="274.3" y2="806.68" stroke="#000" stroke-width="0.8" />
<text x="271.1" y="806.68" dy="0.35em" font-size="6.2" stroke="#000" stroke-width="0.08" text-anchor="end">0.15</text>
<line x1="272.1" y1="797.16" x2="274.3" y2="797.16" stroke="#000" stroke-width="0.8" />
<text x="271.1" y="797.16" dy="0.35em" font-size="6.2" stroke="#000" stroke-width="0.08" text-anchor="end">0.30</text>
<line x1="272.1" y1="787.64" x2="274.3" y2="787.64" stroke="#000" stroke-width="0.8" />
<text x="271.1" y="787.64" dy="0.35em" font-size="6.2" stroke="#000" stroke-width="0.08" text-anchor="end">0.45</text>
<line x1="272.1" y1="778.12" x2="274.3" y2="778.12" stroke="#000" stroke-width="0.8" />
<text x="271.1" y="778.12" dy="0.35em" font-size="6.2" stroke="#000" stroke-width="0.08" text-anchor="end">0.60</text>
<line x1="272.1" y1="768.6" x2="274.3" y2="768.6" stroke="#000" stroke-width="0.8" />
<text x="271.1" y="768.6" dy="0.35em" font-size="6.2" stroke="#000" stroke-width="0.08" text-anchor="end">0.75</text>
<line x1="272.98" y1="811.44" x2="274.3" y2="811.44" stroke="#000" stroke-width="0.64" />
<line x1="272.98" y1="801.92" x2="274.3" y2="801.92" stroke="#000" stroke-width="0.64" />
<line x1="272.98" y1="792.4" x2="274.3" y2="792.4" stroke="#000" stroke-width="0.64" />
<line x1="272.98" y1="782.88" x2="274.3" y2="782.88" stroke="#000" stroke-width="0.64" />
<line x1="272.98" y1="773.36" x2="274.3" y2="773.36" stroke="#000" stroke-width="0.64" />
<line x1="274.3" y1="750.9" x2="274.3" y2="763.4" stroke="#000" stroke-width="0.8" />
<line x1="272.8" y1="750.9" x2="274.3" y2="750.9" stroke="#000" stroke-width="0.8" />
<line x1="272.8" y1="753.4" x2="274.3" y2="753.4" stroke="#000" stroke-width="0.8" />
<line x1="272.8" y1="755.9" x2="274.3" y2="755.9" stroke="#000" stroke-width="0.8" />
<line x1="272.8" y1="758.4" x2="274.3" y2="758.4" stroke="#000" stroke-width="0.8" />
<line x1="272.8" y1="760.9" x2="274.3" y2="760.9" stroke="#000" stroke-width="0.8" />
<line x1="272.8" y1="763.4" x2="274.3" y2="763.4" stroke="#000" stroke-width="0.8" />
<text x="270.8" y="757" dy="0.35em" font-size="3.2" stroke="#000" stroke-width="0.08" text-anchor="end">5</text>
<text transform="translate(253.7,782.2) rotate(-90)" dy="0.35em" font-size="6.5" stroke="#000" stroke-width="0.08" text-anchor="middle">GABA Frequency (Hz)</text>
<rect x="276" y="788.27" width="11.6" height="27.93" fill="#000" stroke="#000" stroke-width="0.8" />
<rect x="290.4" y="799.06" width="11.6" height="17.14" fill="#ff2a0c" stroke="#000" stroke-width="0.8" />
<circle cx="282.85" cy="756" r="1" fill="#fff" stroke="#888" stroke-width="0.45" />
<circle cx="285.31" cy="760" r="1" fill="#fff" stroke="#888" stroke-width="0.45" />
<circle cx="281.41" cy="768.6" r="1" fill="#fff" stroke="#888" stroke-width="0.45" />
<circle cx="283.7" cy="787.64" r="1" fill="#fff" stroke="#888" stroke-width="0.45" />
<circle cx="285.73" cy="792.08" r="1" fill="#fff" stroke="#888" stroke-width="0.45" />
<circle cx="281.99" cy="797.16" r="1" fill="#fff" stroke="#888" stroke-width="0.45" />
<circle cx="283.9" cy="803.51" r="1" fill="#fff" stroke="#888" stroke-width="0.45" />
<circle cx="283.85" cy="806.68" r="1" fill="#fff" stroke="#888" stroke-width="0.45" />
<circle cx="285.02" cy="809.85" r="1" fill="#fff" stroke="#888" stroke-width="0.45" />
<circle cx="277.63" cy="813.03" r="1" fill="#fff" stroke="#888" stroke-width="0.45" />
<circle cx="278.82" cy="814.93" r="1" fill="#fff" stroke="#888" stroke-width="0.45" />
<circle cx="286.27" cy="815.57" r="1" fill="#fff" stroke="#888" stroke-width="0.45" />
<circle cx="284.02" cy="815.57" r="1" fill="#fff" stroke="#888" stroke-width="0.45" />
<line x1="281.8" y1="788.27" x2="281.8" y2="776.22" stroke="#000" stroke-width="0.7" />
<line x1="279.8" y1="776.22" x2="283.8" y2="776.22" stroke="#000" stroke-width="0.7" />
<circle cx="294.05" cy="753.5" r="1" fill="#fff" stroke="#888" stroke-width="0.45" />
<circle cx="298.38" cy="763" r="1" fill="#fff" stroke="#888" stroke-width="0.45" />
<circle cx="293.22" cy="768.6" r="1" fill="#fff" stroke="#888" stroke-width="0.45" />
<circle cx="294.94" cy="787.64" r="1" fill="#fff" stroke="#888" stroke-width="0.45" />
<circle cx="295.67" cy="790.81" r="1" fill="#fff" stroke="#888" stroke-width="0.45" />
<circle cx="293.76" cy="800.33" r="1" fill="#fff" stroke="#888" stroke-width="0.45" />
<circle cx="292.94" cy="803.51" r="1" fill="#fff" stroke="#888" stroke-width="0.45" />
<circle cx="296.27" cy="806.68" r="1" fill="#fff" stroke="#888" stroke-width="0.45" />
<circle cx="297.52" cy="809.85" r="1" fill="#fff" stroke="#888" stroke-width="0.45" />
<circle cx="294.56" cy="813.03" r="1" fill="#fff" stroke="#888" stroke-width="0.45" />
<circle cx="297.64" cy="814.93" r="1" fill="#fff" stroke="#888" stroke-width="0.45" />
<circle cx="300.54" cy="815.57" r="1" fill="#fff" stroke="#888" stroke-width="0.45" />
<line x1="296.2" y1="799.06" x2="296.2" y2="791.45" stroke="#000" stroke-width="0.7" />
<line x1="294.2" y1="791.45" x2="298.2" y2="791.45" stroke="#000" stroke-width="0.7" />
<line x1="274.3" y1="816.2" x2="303.4" y2="816.2" stroke="#000" stroke-width="0.8" />
<line x1="281.8" y1="816.2" x2="281.8" y2="818.2" stroke="#000" stroke-width="0.7" />
<text transform="translate(282.3,823.4) rotate(-45)" dy="0.3em" font-size="7" stroke="#000" stroke-width="0.08" text-anchor="end">Neurotypical</text>
<line x1="296.2" y1="816.2" x2="296.2" y2="818.2" stroke="#000" stroke-width="0.7" />
<text transform="translate(296.7,823.4) rotate(-45)" dy="0.3em" font-size="7" stroke="#000" stroke-width="0.08" text-anchor="end">MPSIIIA</text>
<path d="M281.8 751V748.3H296.5V751" stroke="#000" stroke-width="0.7" fill="none" />
<text x="289.15" y="743.7" dy="0.35em" font-size="6.3" stroke="#000" stroke-width="0.08" text-anchor="middle">ns</text>
<text transform="translate(309.1,798.5) rotate(-90)" dy="0.35em" font-size="6.8" text-anchor="middle"><tspan font-style="italic">n</tspan>= neurons</text>
<text x="286.8" y="845" dy="0.35em" font-size="5.1" font-style="italic" fill="#8e8e8e" stroke="#8e8e8e" stroke-width="0.08" text-anchor="middle">90-120 days</text>
<line x1="336.3" y1="752.6" x2="336.3" y2="816.2" stroke="#000" stroke-width="0.8" />
<line x1="334.1" y1="816.2" x2="336.3" y2="816.2" stroke="#000" stroke-width="0.8" />
<text x="333.1" y="816.2" dy="0.35em" font-size="6.8" stroke="#000" stroke-width="0.08" text-anchor="end">0</text>
<line x1="334.1" y1="803.48" x2="336.3" y2="803.48" stroke="#000" stroke-width="0.8" />
<text x="333.1" y="803.48" dy="0.35em" font-size="6.8" stroke="#000" stroke-width="0.08" text-anchor="end">20</text>
<line x1="334.1" y1="790.76" x2="336.3" y2="790.76" stroke="#000" stroke-width="0.8" />
<text x="333.1" y="790.76" dy="0.35em" font-size="6.8" stroke="#000" stroke-width="0.08" text-anchor="end">40</text>
<line x1="334.1" y1="778.04" x2="336.3" y2="778.04" stroke="#000" stroke-width="0.8" />
<text x="333.1" y="778.04" dy="0.35em" font-size="6.8" stroke="#000" stroke-width="0.08" text-anchor="end">60</text>
<line x1="334.1" y1="765.32" x2="336.3" y2="765.32" stroke="#000" stroke-width="0.8" />
<text x="333.1" y="765.32" dy="0.35em" font-size="6.8" stroke="#000" stroke-width="0.08" text-anchor="end">80</text>
<line x1="334.1" y1="752.6" x2="336.3" y2="752.6" stroke="#000" stroke-width="0.8" />
<text x="333.1" y="752.6" dy="0.35em" font-size="6.8" stroke="#000" stroke-width="0.08" text-anchor="end">100</text>
<line x1="334.98" y1="809.84" x2="336.3" y2="809.84" stroke="#000" stroke-width="0.64" />
<line x1="334.98" y1="797.12" x2="336.3" y2="797.12" stroke="#000" stroke-width="0.64" />
<line x1="334.98" y1="784.4" x2="336.3" y2="784.4" stroke="#000" stroke-width="0.64" />
<line x1="334.98" y1="771.68" x2="336.3" y2="771.68" stroke="#000" stroke-width="0.64" />
<line x1="334.98" y1="758.96" x2="336.3" y2="758.96" stroke="#000" stroke-width="0.64" />
<line x1="336.3" y1="816.2" x2="411.6" y2="816.2" stroke="#000" stroke-width="0.8" />
<line x1="336.3" y1="816.2" x2="336.3" y2="818.4" stroke="#000" stroke-width="0.8" />
<text x="336.3" y="822.4" dy="0.35em" font-size="6.8" stroke="#000" stroke-width="0.08" text-anchor="middle">0.0</text>
<line x1="361.4" y1="816.2" x2="361.4" y2="818.4" stroke="#000" stroke-width="0.8" />
<text x="361.4" y="822.4" dy="0.35em" font-size="6.8" stroke="#000" stroke-width="0.08" text-anchor="middle">0.5</text>
<line x1="386.5" y1="816.2" x2="386.5" y2="818.4" stroke="#000" stroke-width="0.8" />
<text x="386.5" y="822.4" dy="0.35em" font-size="6.8" stroke="#000" stroke-width="0.08" text-anchor="middle">1.0</text>
<line x1="411.6" y1="816.2" x2="411.6" y2="818.4" stroke="#000" stroke-width="0.8" />
<text x="411.6" y="822.4" dy="0.35em" font-size="6.8" stroke="#000" stroke-width="0.08" text-anchor="middle">1.5</text>
<text transform="translate(318.8,783.8) rotate(-90)" dy="0.35em" font-size="6.9" stroke="#000" stroke-width="0.08" text-anchor="middle">Cumulative distribution (%)</text>
<path d="M336.3 776.77L341.32 770.41L346.34 766.59L351.36 766.59L356.38 764.05L361.4 762.14L366.42 762.14L371.44 760.23L376.46 760.23L381.48 760.23L386.5 760.23L391.52 760.23L396.54 760.23L401.56 760.23L406.58 758.96L411.6 758.96" stroke="#000" stroke-width="0.8" fill="none" />
<circle cx="336.3" cy="776.77" r="1.3" fill="#000" />
<circle cx="341.32" cy="770.41" r="1.3" fill="#000" />
<circle cx="346.34" cy="766.59" r="1.3" fill="#000" />
<circle cx="351.36" cy="766.59" r="1.3" fill="#000" />
<circle cx="356.38" cy="764.05" r="1.3" fill="#000" />
<circle cx="361.4" cy="762.14" r="1.3" fill="#000" />
<circle cx="366.42" cy="762.14" r="1.3" fill="#000" />
<circle cx="371.44" cy="760.23" r="1.3" fill="#000" />
<circle cx="376.46" cy="760.23" r="1.3" fill="#000" />
<circle cx="381.48" cy="760.23" r="1.3" fill="#000" />
<circle cx="386.5" cy="760.23" r="1.3" fill="#000" />
<circle cx="391.52" cy="760.23" r="1.3" fill="#000" />
<circle cx="396.54" cy="760.23" r="1.3" fill="#000" />
<circle cx="401.56" cy="760.23" r="1.3" fill="#000" />
<circle cx="406.58" cy="758.96" r="1.3" fill="#000" />
<circle cx="411.6" cy="758.96" r="1.3" fill="#000" />
<path d="M336.3 780.58L341.32 772.32L346.34 765.32L351.36 764.05L356.38 762.14L361.4 758.96L366.42 758.96L371.44 757.69L376.46 757.69L381.48 757.69L386.5 757.69L391.52 757.69L396.54 755.78L401.56 754.51L406.58 754.51L411.6 754.51" stroke="#ff2a0c" stroke-width="0.8" fill="none" />
<rect x="335" y="779.28" width="2.6" height="2.6" fill="#ff2a0c" />
<rect x="340.02" y="771.02" width="2.6" height="2.6" fill="#ff2a0c" />
<rect x="345.04" y="764.02" width="2.6" height="2.6" fill="#ff2a0c" />
<rect x="350.06" y="762.75" width="2.6" height="2.6" fill="#ff2a0c" />
<rect x="355.08" y="760.84" width="2.6" height="2.6" fill="#ff2a0c" />
<rect x="360.1" y="757.66" width="2.6" height="2.6" fill="#ff2a0c" />
<rect x="365.12" y="757.66" width="2.6" height="2.6" fill="#ff2a0c" />
<rect x="370.14" y="756.39" width="2.6" height="2.6" fill="#ff2a0c" />
<rect x="375.16" y="756.39" width="2.6" height="2.6" fill="#ff2a0c" />
<rect x="380.18" y="756.39" width="2.6" height="2.6" fill="#ff2a0c" />
<rect x="385.2" y="756.39" width="2.6" height="2.6" fill="#ff2a0c" />
<rect x="390.22" y="756.39" width="2.6" height="2.6" fill="#ff2a0c" />
<rect x="395.24" y="754.48" width="2.6" height="2.6" fill="#ff2a0c" />
<rect x="400.26" y="753.21" width="2.6" height="2.6" fill="#ff2a0c" />
<rect x="405.28" y="753.21" width="2.6" height="2.6" fill="#ff2a0c" />
<rect x="410.3" y="753.21" width="2.6" height="2.6" fill="#ff2a0c" />
<text x="374" y="829" dy="0.35em" font-size="6.3" stroke="#000" stroke-width="0.08" text-anchor="middle">GABA frequency (Hz)</text>
<text x="374" y="836" dy="0.35em" font-size="6.3" stroke="#000" stroke-width="0.08" text-anchor="middle">[bin center]</text>
<text x="374" y="845.1" dy="0.35em" font-size="5.1" font-style="italic" fill="#8e8e8e" stroke="#8e8e8e" stroke-width="0.08" text-anchor="middle">90-120 days</text>
<line x1="339.8" y1="804.5" x2="346.8" y2="804.5" stroke="#000" stroke-width="0.8" />
<circle cx="343.3" cy="804.5" r="1.3" fill="#000" />
<line x1="339.8" y1="811.8" x2="346.8" y2="811.8" stroke="#ff2a0c" stroke-width="0.8" />
<rect x="342" y="810.5" width="2.6" height="2.6" fill="#ff2a0c" />
<text x="350" y="804.5" dy="0.35em" font-size="6" stroke="#000" stroke-width="0.08">Neurotypical</text>
<text x="350" y="811.8" dy="0.35em" font-size="6" stroke="#000" stroke-width="0.08">MPSIIIA</text>
<path d="M383.2 803H385.2V813.3H383.2" stroke="#666" stroke-width="0.7" fill="none" />
<text x="389.7" y="808.3" dy="0.35em" font-size="6" stroke="#000" stroke-width="0.08">p = &lt;0.0001</text>
<text x="424.3" y="742.7" dy="0.35em" font-size="11.2" font-weight="bold">Q</text>
<line x1="457.8" y1="769.3" x2="457.8" y2="815.3" stroke="#000" stroke-width="0.8" />
<line x1="455.6" y1="815.3" x2="457.8" y2="815.3" stroke="#000" stroke-width="0.8" />
<text x="454.6" y="815.3" dy="0.35em" font-size="5.8" stroke="#000" stroke-width="0.08" text-anchor="end">0</text>
<line x1="455.6" y1="806.1" x2="457.8" y2="806.1" stroke="#000" stroke-width="0.8" />
<text x="454.6" y="806.1" dy="0.35em" font-size="5.8" stroke="#000" stroke-width="0.08" text-anchor="end">20</text>
<line x1="455.6" y1="796.9" x2="457.8" y2="796.9" stroke="#000" stroke-width="0.8" />
<text x="454.6" y="796.9" dy="0.35em" font-size="5.8" stroke="#000" stroke-width="0.08" text-anchor="end">40</text>
<line x1="455.6" y1="787.7" x2="457.8" y2="787.7" stroke="#000" stroke-width="0.8" />
<text x="454.6" y="787.7" dy="0.35em" font-size="5.8" stroke="#000" stroke-width="0.08" text-anchor="end">60</text>
<line x1="455.6" y1="778.5" x2="457.8" y2="778.5" stroke="#000" stroke-width="0.8" />
<text x="454.6" y="778.5" dy="0.35em" font-size="5.8" stroke="#000" stroke-width="0.08" text-anchor="end">80</text>
<line x1="455.6" y1="769.3" x2="457.8" y2="769.3" stroke="#000" stroke-width="0.8" />
<text x="454.6" y="769.3" dy="0.35em" font-size="5.8" stroke="#000" stroke-width="0.08" text-anchor="end">100</text>
<line x1="456.48" y1="810.7" x2="457.8" y2="810.7" stroke="#000" stroke-width="0.64" />
<line x1="456.48" y1="801.5" x2="457.8" y2="801.5" stroke="#000" stroke-width="0.64" />
<line x1="456.48" y1="792.3" x2="457.8" y2="792.3" stroke="#000" stroke-width="0.64" />
<line x1="456.48" y1="783.1" x2="457.8" y2="783.1" stroke="#000" stroke-width="0.64" />
<line x1="456.48" y1="773.9" x2="457.8" y2="773.9" stroke="#000" stroke-width="0.64" />
<line x1="457.8" y1="754.2" x2="457.8" y2="766" stroke="#000" stroke-width="0.8" />
<line x1="455.6" y1="763.9" x2="457.8" y2="763.9" stroke="#000" stroke-width="0.8" />
<text x="454.6" y="763.9" dy="0.35em" font-size="5.8" stroke="#000" stroke-width="0.08" text-anchor="end">225</text>
<line x1="455.6" y1="754.2" x2="457.8" y2="754.2" stroke="#000" stroke-width="0.8" />
<text x="454.6" y="754.2" dy="0.35em" font-size="5.8" stroke="#000" stroke-width="0.08" text-anchor="end">275</text>
<text transform="translate(438.7,783) rotate(-90)" dy="0.35em" font-size="6.1" stroke="#000" stroke-width="0.08" text-anchor="middle">Mean GABA Amplitude (-pA)</text>
<rect x="460" y="796.9" width="11.2" height="18.4" fill="#000" stroke="#000" stroke-width="0.8" />
<rect x="473.6" y="791.84" width="11.5" height="23.46" fill="#ff2a0c" stroke="#000" stroke-width="0.8" />
<circle cx="469.16" cy="780.34" r="1" fill="#fff" stroke="#888" stroke-width="0.45" />
<circle cx="462.48" cy="793.22" r="1" fill="#fff" stroke="#888" stroke-width="0.45" />
<circle cx="466.08" cy="794.14" r="1" fill="#fff" stroke="#888" stroke-width="0.45" />
<circle cx="465.45" cy="795.06" r="1" fill="#fff" stroke="#888" stroke-width="0.45" />
<circle cx="469.55" cy="795.52" r="1" fill="#fff" stroke="#888" stroke-width="0.45" />
<circle cx="464.57" cy="795.98" r="1" fill="#fff" stroke="#888" stroke-width="0.45" />
<circle cx="465.14" cy="796.44" r="1" fill="#fff" stroke="#888" stroke-width="0.45" />
<circle cx="466.27" cy="796.9" r="1" fill="#fff" stroke="#888" stroke-width="0.45" />
<circle cx="464.59" cy="796.9" r="1" fill="#fff" stroke="#888" stroke-width="0.45" />
<circle cx="469.14" cy="797.36" r="1" fill="#fff" stroke="#888" stroke-width="0.45" />
<circle cx="468.86" cy="797.82" r="1" fill="#fff" stroke="#888" stroke-width="0.45" />
<circle cx="467.52" cy="798.28" r="1" fill="#fff" stroke="#888" stroke-width="0.45" />
<circle cx="461.78" cy="798.74" r="1" fill="#fff" stroke="#888" stroke-width="0.45" />
<circle cx="469.81" cy="799.2" r="1" fill="#fff" stroke="#888" stroke-width="0.45" />
<circle cx="466.02" cy="799.66" r="1" fill="#fff" stroke="#888" stroke-width="0.45" />
<circle cx="466.44" cy="800.12" r="1" fill="#fff" stroke="#888" stroke-width="0.45" />
<line x1="465.6" y1="796.9" x2="465.6" y2="795.98" stroke="#000" stroke-width="0.7" />
<line x1="463.6" y1="795.98" x2="467.6" y2="795.98" stroke="#000" stroke-width="0.7" />
<circle cx="479.72" cy="759.05" r="1" fill="#fff" stroke="#888" stroke-width="0.45" />
<circle cx="479.49" cy="774.82" r="1" fill="#fff" stroke="#888" stroke-width="0.45" />
<circle cx="483.18" cy="783.1" r="1" fill="#fff" stroke="#888" stroke-width="0.45" />
<circle cx="477.33" cy="786.78" r="1" fill="#fff" stroke="#888" stroke-width="0.45" />
<circle cx="476.17" cy="788.62" r="1" fill="#fff" stroke="#888" stroke-width="0.45" />
<circle cx="483.8" cy="790" r="1" fill="#fff" stroke="#888" stroke-width="0.45" />
<circle cx="477.22" cy="791.38" r="1" fill="#fff" stroke="#888" stroke-width="0.45" />
<circle cx="477.37" cy="792.3" r="1" fill="#fff" stroke="#888" stroke-width="0.45" />
<circle cx="478.8" cy="793.22" r="1" fill="#fff" stroke="#888" stroke-width="0.45" />
<circle cx="482.89" cy="794.14" r="1" fill="#fff" stroke="#888" stroke-width="0.45" />
<circle cx="478.25" cy="794.6" r="1" fill="#fff" stroke="#888" stroke-width="0.45" />
<circle cx="475.01" cy="795.06" r="1" fill="#fff" stroke="#888" stroke-width="0.45" />
<circle cx="477.27" cy="795.98" r="1" fill="#fff" stroke="#888" stroke-width="0.45" />
<circle cx="476.94" cy="796.9" r="1" fill="#fff" stroke="#888" stroke-width="0.45" />
<circle cx="475.08" cy="797.82" r="1" fill="#fff" stroke="#888" stroke-width="0.45" />
<circle cx="482.84" cy="798.74" r="1" fill="#fff" stroke="#888" stroke-width="0.45" />
<circle cx="481.43" cy="808.4" r="1" fill="#fff" stroke="#888" stroke-width="0.45" />
<line x1="479.35" y1="791.84" x2="479.35" y2="789.08" stroke="#000" stroke-width="0.7" />
<line x1="477.35" y1="789.08" x2="481.35" y2="789.08" stroke="#000" stroke-width="0.7" />
<line x1="457.8" y1="815.3" x2="487" y2="815.3" stroke="#000" stroke-width="0.8" />
<line x1="465.6" y1="815.3" x2="465.6" y2="817.3" stroke="#000" stroke-width="0.7" />
<text transform="translate(466.1,822.5) rotate(-45)" dy="0.3em" font-size="7" stroke="#000" stroke-width="0.08" text-anchor="end">Neurotypical</text>
<line x1="479.35" y1="815.3" x2="479.35" y2="817.3" stroke="#000" stroke-width="0.7" />
<text transform="translate(479.85,822.5) rotate(-45)" dy="0.3em" font-size="7" stroke="#000" stroke-width="0.08" text-anchor="end">MPSIIIA</text>
<circle cx="468.3" cy="798.97" r="1" fill="#fff" stroke="#888" stroke-width="0.45" />
<circle cx="469.25" cy="795.92" r="1" fill="#fff" stroke="#888" stroke-width="0.45" />
<circle cx="463.51" cy="797.18" r="1" fill="#fff" stroke="#888" stroke-width="0.45" />
<circle cx="461.59" cy="798.58" r="1" fill="#fff" stroke="#888" stroke-width="0.45" />
<circle cx="466.9" cy="795.7" r="1" fill="#fff" stroke="#888" stroke-width="0.45" />
<circle cx="462.92" cy="796.09" r="1" fill="#fff" stroke="#888" stroke-width="0.45" />
<circle cx="464.56" cy="796.73" r="1" fill="#fff" stroke="#888" stroke-width="0.45" />
<circle cx="468.47" cy="798.05" r="1" fill="#fff" stroke="#888" stroke-width="0.45" />
<circle cx="462.8" cy="797.19" r="1" fill="#fff" stroke="#888" stroke-width="0.45" />
<circle cx="469.71" cy="797.26" r="1" fill="#fff" stroke="#888" stroke-width="0.45" />
<circle cx="468.54" cy="798.4" r="1" fill="#fff" stroke="#888" stroke-width="0.45" />
<circle cx="467.78" cy="795.17" r="1" fill="#fff" stroke="#888" stroke-width="0.45" />
<circle cx="478.15" cy="797.89" r="1" fill="#fff" stroke="#888" stroke-width="0.45" />
<circle cx="475.8" cy="798.48" r="1" fill="#fff" stroke="#888" stroke-width="0.45" />
<circle cx="477.49" cy="794.86" r="1" fill="#fff" stroke="#888" stroke-width="0.45" />
<circle cx="482.68" cy="797.46" r="1" fill="#fff" stroke="#888" stroke-width="0.45" />
<circle cx="483.18" cy="798.24" r="1" fill="#fff" stroke="#888" stroke-width="0.45" />
<circle cx="479.35" cy="793.39" r="1" fill="#fff" stroke="#888" stroke-width="0.45" />
<circle cx="482.93" cy="791.04" r="1" fill="#fff" stroke="#888" stroke-width="0.45" />
<circle cx="483.39" cy="799.21" r="1" fill="#fff" stroke="#888" stroke-width="0.45" />
<circle cx="482.6" cy="801.18" r="1" fill="#fff" stroke="#888" stroke-width="0.45" />
<circle cx="478.98" cy="796.68" r="1" fill="#fff" stroke="#888" stroke-width="0.45" />
<circle cx="478.75" cy="799.17" r="1" fill="#fff" stroke="#888" stroke-width="0.45" />
<circle cx="478.54" cy="794.09" r="1" fill="#fff" stroke="#888" stroke-width="0.45" />
<path d="M465.4 757.2V754.5H479.1V757.2" stroke="#000" stroke-width="0.7" fill="none" />
<text x="472.25" y="750.2" dy="0.35em" font-size="6.3" stroke="#000" stroke-width="0.08" text-anchor="middle">ns</text>
<text transform="translate(493.6,798.8) rotate(-90)" dy="0.35em" font-size="6.8" text-anchor="middle"><tspan font-style="italic">n</tspan>= neurons</text>
<text x="471.2" y="843.6" dy="0.35em" font-size="5.1" font-style="italic" fill="#8e8e8e" stroke="#8e8e8e" stroke-width="0.08" text-anchor="middle">90-120 days</text>
<text x="502.8" y="743.3" dy="0.35em" font-size="11.2" font-weight="bold">R</text>
<line x1="534.3" y1="764.3" x2="534.3" y2="817.1" stroke="#000" stroke-width="0.8" />
<line x1="532.1" y1="817.1" x2="534.3" y2="817.1" stroke="#000" stroke-width="0.8" />
<text x="531.1" y="817.1" dy="0.35em" font-size="6.2" stroke="#000" stroke-width="0.08" text-anchor="end">0</text>
<line x1="532.1" y1="808.3" x2="534.3" y2="808.3" stroke="#000" stroke-width="0.8" />
<text x="531.1" y="808.3" dy="0.35em" font-size="6.2" stroke="#000" stroke-width="0.08" text-anchor="end">25</text>
<line x1="532.1" y1="799.5" x2="534.3" y2="799.5" stroke="#000" stroke-width="0.8" />
<text x="531.1" y="799.5" dy="0.35em" font-size="6.2" stroke="#000" stroke-width="0.08" text-anchor="end">50</text>
<line x1="532.1" y1="790.7" x2="534.3" y2="790.7" stroke="#000" stroke-width="0.8" />
<text x="531.1" y="790.7" dy="0.35em" font-size="6.2" stroke="#000" stroke-width="0.08" text-anchor="end">75</text>
<line x1="532.1" y1="781.9" x2="534.3" y2="781.9" stroke="#000" stroke-width="0.8" />
<text x="531.1" y="781.9" dy="0.35em" font-size="6.2" stroke="#000" stroke-width="0.08" text-anchor="end">100</text>
<line x1="532.1" y1="773.1" x2="534.3" y2="773.1" stroke="#000" stroke-width="0.8" />
<text x="531.1" y="773.1" dy="0.35em" font-size="6.2" stroke="#000" stroke-width="0.08" text-anchor="end">125</text>
<line x1="532.1" y1="764.3" x2="534.3" y2="764.3" stroke="#000" stroke-width="0.8" />
<text x="531.1" y="764.3" dy="0.35em" font-size="6.2" stroke="#000" stroke-width="0.08" text-anchor="end">150</text>
<line x1="534.3" y1="752.7" x2="534.3" y2="760.5" stroke="#000" stroke-width="0.8" />
<line x1="532.1" y1="759.2" x2="534.3" y2="759.2" stroke="#000" stroke-width="0.8" />
<text x="531.1" y="759.2" dy="0.35em" font-size="6.2" stroke="#000" stroke-width="0.08" text-anchor="end">200</text>
<line x1="532.1" y1="752.7" x2="534.3" y2="752.7" stroke="#000" stroke-width="0.8" />
<text x="531.1" y="752.7" dy="0.35em" font-size="6.2" stroke="#000" stroke-width="0.08" text-anchor="end">500</text>
<text transform="translate(509.4,778.6) rotate(-90)" dy="0.35em" font-size="6.2" stroke="#000" stroke-width="0.08" text-anchor="middle">E/I balance</text>
<text transform="translate(517.7,784) rotate(-90)" dy="0.35em" font-size="6.2" stroke="#000" stroke-width="0.08" text-anchor="middle">(AMPA frequency/GABA frequency)</text>
<rect x="537.1" y="812.17" width="11.6" height="4.93" fill="#000" stroke="#000" stroke-width="0.8" />
<rect x="551.9" y="803.02" width="11.1" height="14.08" fill="#ff2a0c" stroke="#000" stroke-width="0.8" />
<circle cx="539.21" cy="758.98" r="1" fill="#fff" stroke="#888" stroke-width="0.45" />
<circle cx="546.96" cy="783.66" r="1" fill="#fff" stroke="#888" stroke-width="0.45" />
<circle cx="539.75" cy="809.36" r="1" fill="#fff" stroke="#888" stroke-width="0.45" />
<circle cx="545.05" cy="811.82" r="1" fill="#fff" stroke="#888" stroke-width="0.45" />
<circle cx="545.97" cy="813.58" r="1" fill="#fff" stroke="#888" stroke-width="0.45" />
<circle cx="545.12" cy="814.28" r="1" fill="#fff" stroke="#888" stroke-width="0.45" />
<circle cx="541.12" cy="815.34" r="1" fill="#fff" stroke="#888" stroke-width="0.45" />
<circle cx="541.56" cy="816.04" r="1" fill="#fff" stroke="#888" stroke-width="0.45" />
<circle cx="544.9" cy="816.4" r="1" fill="#fff" stroke="#888" stroke-width="0.45" />
<line x1="542.9" y1="812.17" x2="542.9" y2="808.3" stroke="#000" stroke-width="0.7" />
<line x1="540.9" y1="808.3" x2="544.9" y2="808.3" stroke="#000" stroke-width="0.7" />
<circle cx="561.41" cy="752.7" r="1" fill="#fff" stroke="#888" stroke-width="0.45" />
<circle cx="558.83" cy="758.98" r="1" fill="#fff" stroke="#888" stroke-width="0.45" />
<circle cx="557.79" cy="767.82" r="1" fill="#fff" stroke="#888" stroke-width="0.45" />
<circle cx="556.5" cy="776.62" r="1" fill="#fff" stroke="#888" stroke-width="0.45" />
<circle cx="556.65" cy="789.64" r="1" fill="#fff" stroke="#888" stroke-width="0.45" />
<circle cx="559.31" cy="806.54" r="1" fill="#fff" stroke="#888" stroke-width="0.45" />
<circle cx="556.85" cy="810.06" r="1" fill="#fff" stroke="#888" stroke-width="0.45" />
<circle cx="557.74" cy="813.58" r="1" fill="#fff" stroke="#888" stroke-width="0.45" />
<circle cx="558.56" cy="815.34" r="1" fill="#fff" stroke="#888" stroke-width="0.45" />
<circle cx="558.58" cy="816.04" r="1" fill="#fff" stroke="#888" stroke-width="0.45" />
<line x1="557.45" y1="803.02" x2="557.45" y2="796.68" stroke="#000" stroke-width="0.7" />
<line x1="555.45" y1="796.68" x2="559.45" y2="796.68" stroke="#000" stroke-width="0.7" />
<line x1="534.3" y1="817.1" x2="565" y2="817.1" stroke="#000" stroke-width="0.8" />
<line x1="542.9" y1="817.1" x2="542.9" y2="819.1" stroke="#000" stroke-width="0.7" />
<text transform="translate(543.4,824.3) rotate(-45)" dy="0.3em" font-size="7" stroke="#000" stroke-width="0.08" text-anchor="end">Neurotypical</text>
<line x1="557.45" y1="817.1" x2="557.45" y2="819.1" stroke="#000" stroke-width="0.7" />
<text transform="translate(557.95,824.3) rotate(-45)" dy="0.3em" font-size="7" stroke="#000" stroke-width="0.08" text-anchor="end">MPSIIIA</text>
<path d="M542.6 754.3V751.6H557V754.3" stroke="#000" stroke-width="0.7" fill="none" />
<text x="549.8" y="747.2" dy="0.35em" font-size="6.3" stroke="#000" stroke-width="0.08" text-anchor="middle">ns</text>
<text transform="translate(570.4,799) rotate(-90)" dy="0.35em" font-size="6.8" text-anchor="middle"><tspan font-style="italic">n</tspan>= neurons</text>
<text x="548.4" y="845" dy="0.35em" font-size="5.1" font-style="italic" fill="#8e8e8e" stroke="#8e8e8e" stroke-width="0.08" text-anchor="middle">90-120 days</text>
<line x1="598.8" y1="753.7" x2="598.8" y2="815.5" stroke="#000" stroke-width="0.8" />
<line x1="596.6" y1="815.5" x2="598.8" y2="815.5" stroke="#000" stroke-width="0.8" />
<text x="595.6" y="815.5" dy="0.35em" font-size="6.8" stroke="#000" stroke-width="0.08" text-anchor="end">0</text>
<line x1="596.6" y1="803.14" x2="598.8" y2="803.14" stroke="#000" stroke-width="0.8" />
<text x="595.6" y="803.14" dy="0.35em" font-size="6.8" stroke="#000" stroke-width="0.08" text-anchor="end">20</text>
<line x1="596.6" y1="790.78" x2="598.8" y2="790.78" stroke="#000" stroke-width="0.8" />
<text x="595.6" y="790.78" dy="0.35em" font-size="6.8" stroke="#000" stroke-width="0.08" text-anchor="end">40</text>
<line x1="596.6" y1="778.42" x2="598.8" y2="778.42" stroke="#000" stroke-width="0.8" />
<text x="595.6" y="778.42" dy="0.35em" font-size="6.8" stroke="#000" stroke-width="0.08" text-anchor="end">60</text>
<line x1="596.6" y1="766.06" x2="598.8" y2="766.06" stroke="#000" stroke-width="0.8" />
<text x="595.6" y="766.06" dy="0.35em" font-size="6.8" stroke="#000" stroke-width="0.08" text-anchor="end">80</text>
<line x1="596.6" y1="753.7" x2="598.8" y2="753.7" stroke="#000" stroke-width="0.8" />
<text x="595.6" y="753.7" dy="0.35em" font-size="6.8" stroke="#000" stroke-width="0.08" text-anchor="end">100</text>
<line x1="597.48" y1="809.32" x2="598.8" y2="809.32" stroke="#000" stroke-width="0.64" />
<line x1="597.48" y1="796.96" x2="598.8" y2="796.96" stroke="#000" stroke-width="0.64" />
<line x1="597.48" y1="784.6" x2="598.8" y2="784.6" stroke="#000" stroke-width="0.64" />
<line x1="597.48" y1="772.24" x2="598.8" y2="772.24" stroke="#000" stroke-width="0.64" />
<line x1="597.48" y1="759.88" x2="598.8" y2="759.88" stroke="#000" stroke-width="0.64" />
<line x1="598.8" y1="815.5" x2="673" y2="815.5" stroke="#000" stroke-width="0.8" />
<line x1="598.8" y1="815.5" x2="598.8" y2="817.7" stroke="#000" stroke-width="0.8" />
<text x="598.8" y="821.7" dy="0.35em" font-size="6.8" stroke="#000" stroke-width="0.08" text-anchor="middle">0</text>
<line x1="608.08" y1="815.5" x2="608.08" y2="817.7" stroke="#000" stroke-width="0.8" />
<text x="608.08" y="821.7" dy="0.35em" font-size="6.8" stroke="#000" stroke-width="0.08" text-anchor="middle">10</text>
<line x1="617.36" y1="815.5" x2="617.36" y2="817.7" stroke="#000" stroke-width="0.8" />
<text x="617.36" y="821.7" dy="0.35em" font-size="6.8" stroke="#000" stroke-width="0.08" text-anchor="middle">20</text>
<line x1="626.64" y1="815.5" x2="626.64" y2="817.7" stroke="#000" stroke-width="0.8" />
<text x="626.64" y="821.7" dy="0.35em" font-size="6.8" stroke="#000" stroke-width="0.08" text-anchor="middle">30</text>
<line x1="635.92" y1="815.5" x2="635.92" y2="817.7" stroke="#000" stroke-width="0.8" />
<text x="635.92" y="821.7" dy="0.35em" font-size="6.8" stroke="#000" stroke-width="0.08" text-anchor="middle">40</text>
<line x1="645.2" y1="815.5" x2="645.2" y2="817.7" stroke="#000" stroke-width="0.8" />
<text x="645.2" y="821.7" dy="0.35em" font-size="6.8" stroke="#000" stroke-width="0.08" text-anchor="middle">50</text>
<line x1="654.48" y1="815.5" x2="654.48" y2="817.7" stroke="#000" stroke-width="0.8" />
<text x="654.48" y="821.7" dy="0.35em" font-size="6.8" stroke="#000" stroke-width="0.08" text-anchor="middle">60</text>
<line x1="663.76" y1="815.5" x2="663.76" y2="817.7" stroke="#000" stroke-width="0.8" />
<text x="663.76" y="821.7" dy="0.35em" font-size="6.8" stroke="#000" stroke-width="0.08" text-anchor="middle">70</text>
<line x1="673.04" y1="815.5" x2="673.04" y2="817.7" stroke="#000" stroke-width="0.8" />
<text x="673.04" y="821.7" dy="0.35em" font-size="6.8" stroke="#000" stroke-width="0.08" text-anchor="middle">80</text>
<text transform="translate(581.4,783.3) rotate(-90)" dy="0.35em" font-size="6.9" stroke="#000" stroke-width="0.08" text-anchor="middle">Cumulative distribution (%)</text>
<path d="M598.8 784.6L603.44 765.44L608.08 763.59L612.72 763.59L617.36 761.12L622 758.64L626.64 758.64L631.28 758.64L635.92 758.64L640.56 758.64L645.2 758.64L649.84 758.64L654.48 758.64L659.12 758.64L663.76 758.64L668.4 758.64L673.04 758.64" stroke="#000" stroke-width="0.8" fill="none" />
<circle cx="598.8" cy="784.6" r="1.3" fill="#000" />
<circle cx="603.44" cy="765.44" r="1.3" fill="#000" />
<circle cx="608.08" cy="763.59" r="1.3" fill="#000" />
<circle cx="612.72" cy="763.59" r="1.3" fill="#000" />
<circle cx="617.36" cy="761.12" r="1.3" fill="#000" />
<circle cx="622" cy="758.64" r="1.3" fill="#000" />
<circle cx="626.64" cy="758.64" r="1.3" fill="#000" />
<circle cx="631.28" cy="758.64" r="1.3" fill="#000" />
<circle cx="635.92" cy="758.64" r="1.3" fill="#000" />
<circle cx="640.56" cy="758.64" r="1.3" fill="#000" />
<circle cx="645.2" cy="758.64" r="1.3" fill="#000" />
<circle cx="649.84" cy="758.64" r="1.3" fill="#000" />
<circle cx="654.48" cy="758.64" r="1.3" fill="#000" />
<circle cx="659.12" cy="758.64" r="1.3" fill="#000" />
<circle cx="663.76" cy="758.64" r="1.3" fill="#000" />
<circle cx="668.4" cy="758.64" r="1.3" fill="#000" />
<circle cx="673.04" cy="758.64" r="1.3" fill="#000" />
<path d="M598.8 779.66L603.44 769.15L608.08 767.91L612.72 767.91L617.36 766.06L622 766.06L626.64 766.06L631.28 766.06L635.92 766.06L640.56 766.06L645.2 766.06L649.84 766.06L654.48 766.06L659.12 766.06L663.76 766.06L668.4 766.06L673.04 763.59" stroke="#ff2a0c" stroke-width="0.8" fill="none" />
<rect x="597.5" y="778.36" width="2.6" height="2.6" fill="#ff2a0c" />
<rect x="602.14" y="767.85" width="2.6" height="2.6" fill="#ff2a0c" />
<rect x="606.78" y="766.61" width="2.6" height="2.6" fill="#ff2a0c" />
<rect x="611.42" y="766.61" width="2.6" height="2.6" fill="#ff2a0c" />
<rect x="616.06" y="764.76" width="2.6" height="2.6" fill="#ff2a0c" />
<rect x="620.7" y="764.76" width="2.6" height="2.6" fill="#ff2a0c" />
<rect x="625.34" y="764.76" width="2.6" height="2.6" fill="#ff2a0c" />
<rect x="629.98" y="764.76" width="2.6" height="2.6" fill="#ff2a0c" />
<rect x="634.62" y="764.76" width="2.6" height="2.6" fill="#ff2a0c" />
<rect x="639.26" y="764.76" width="2.6" height="2.6" fill="#ff2a0c" />
<rect x="643.9" y="764.76" width="2.6" height="2.6" fill="#ff2a0c" />
<rect x="648.54" y="764.76" width="2.6" height="2.6" fill="#ff2a0c" />
<rect x="653.18" y="764.76" width="2.6" height="2.6" fill="#ff2a0c" />
<rect x="657.82" y="764.76" width="2.6" height="2.6" fill="#ff2a0c" />
<rect x="662.46" y="764.76" width="2.6" height="2.6" fill="#ff2a0c" />
<rect x="667.1" y="764.76" width="2.6" height="2.6" fill="#ff2a0c" />
<rect x="671.74" y="762.29" width="2.6" height="2.6" fill="#ff2a0c" />
<text x="635.2" y="828" dy="0.35em" font-size="6.3" stroke="#000" stroke-width="0.08" text-anchor="middle">E/I balance</text>
<text x="635.2" y="836.4" dy="0.35em" font-size="6.3" stroke="#000" stroke-width="0.08" text-anchor="middle">(AMPA frequency/GABA frequency)</text>
<text x="635.2" y="842.6" dy="0.35em" font-size="6.3" stroke="#000" stroke-width="0.08" text-anchor="middle">[bin center]</text>
<text x="635.2" y="850.6" dy="0.35em" font-size="5.1" font-style="italic" fill="#8e8e8e" stroke="#8e8e8e" stroke-width="0.08" text-anchor="middle">90-120 days</text>
<line x1="601.7" y1="804.2" x2="608.7" y2="804.2" stroke="#000" stroke-width="0.8" />
<circle cx="605.2" cy="804.2" r="1.3" fill="#000" />
<line x1="601.7" y1="810.7" x2="608.7" y2="810.7" stroke="#ff2a0c" stroke-width="0.8" />
<rect x="603.9" y="809.4" width="2.6" height="2.6" fill="#ff2a0c" />
<text x="611.1" y="804.2" dy="0.35em" font-size="6" stroke="#000" stroke-width="0.08">Neurotypical</text>
<text x="611.1" y="810.7" dy="0.35em" font-size="6" stroke="#000" stroke-width="0.08">MPSIIIA</text>
<path d="M644.4 802.7H646.4V812.2H644.4" stroke="#666" stroke-width="0.7" fill="none" />
<text x="649.2" y="808.3" dy="0.35em" font-size="6" stroke="#000" stroke-width="0.08">p = &lt;0.0001</text>
</svg>
</body></html>
